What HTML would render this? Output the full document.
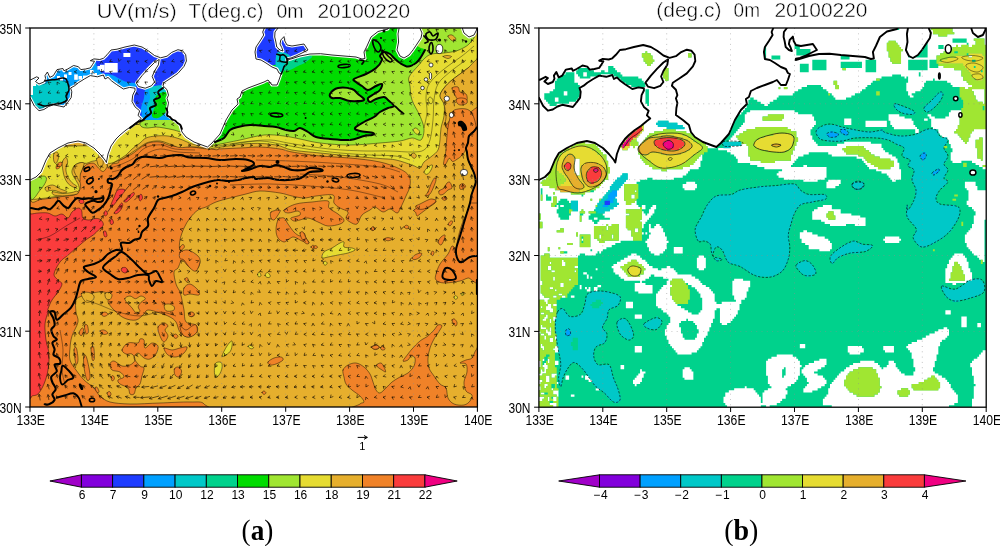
<!DOCTYPE html>
<html lang="en"><head><meta charset="utf-8"><title>UV(m/s) T(deg.c) 0m 20100220</title>
<style>
html,body{margin:0;padding:0;background:#fff;}
body{width:1000px;height:546px;overflow:hidden;position:relative;font-family:"Liberation Sans",sans-serif;}
svg{position:absolute;left:0;top:0;display:block}
text{font-family:"Liberation Sans",sans-serif;fill:#000}
.ser{font-family:"Liberation Serif",serif;font-weight:bold}
</style></head><body>
<svg width="1000" height="546" viewBox="0 0 1000 546">
<rect width="1000" height="546" fill="#fff"/>
<defs>
<clipPath id="ca"><rect x="30" y="28" width="447.4" height="379"/></clipPath>
<clipPath id="cb"><rect x="538.9" y="28" width="447.3" height="379.2"/></clipPath>
</defs>
<g clip-path="url(#ca)">
<rect x="30.0" y="28.0" width="447.4" height="379.0" fill="#e6af2d"/>
<path d="M20.0,165.0 C34.7,122.3 91.3,164.8 108.0,164.0 C124.7,163.2 116.0,161.7 120.0,160.0 C124.0,158.3 128.7,156.0 132.0,154.0 C135.3,152.0 137.3,149.8 140.0,148.0 C142.7,146.2 144.7,144.0 148.0,143.0 C151.3,142.0 156.0,141.5 160.0,142.0 C164.0,142.5 166.7,145.2 172.0,146.0 C177.3,146.8 185.7,146.5 192.0,147.0 C198.3,147.5 202.0,148.8 210.0,149.0 C218.0,149.2 231.7,148.3 240.0,148.0 C248.3,147.7 253.3,146.8 260.0,147.0 C266.7,147.2 274.7,148.2 280.0,149.0 C285.3,149.8 285.3,150.8 292.0,152.0 C298.7,153.2 310.3,155.0 320.0,156.0 C329.7,157.0 340.0,157.0 350.0,158.0 C360.0,159.0 371.7,160.2 380.0,162.0 C388.3,163.8 395.2,166.7 400.0,169.0 C404.8,171.3 407.3,173.2 409.0,176.0 C410.7,178.8 410.5,182.7 410.0,186.0 C409.5,189.3 407.7,192.2 406.0,196.0 C404.3,199.8 401.5,206.2 400.0,209.0 C398.5,211.8 398.7,213.0 397.0,213.0 C395.3,213.0 392.3,209.2 390.0,209.0 C387.7,208.8 385.5,212.3 383.0,212.0 C380.5,211.7 377.2,207.3 375.0,207.0 C372.8,206.7 372.2,208.7 370.0,210.0 C367.8,211.3 364.2,212.7 362.0,215.0 C359.8,217.3 359.0,222.8 357.0,224.0 C355.0,225.2 351.8,223.0 350.0,222.0 C348.2,221.0 346.3,219.7 346.0,218.0 C345.7,216.3 349.0,213.7 348.0,212.0 C347.0,210.3 342.3,209.5 340.0,208.0 C337.7,206.5 335.2,205.2 334.0,203.0 C332.8,200.8 336.0,196.2 333.0,195.0 C330.0,193.8 320.8,195.5 316.0,196.0 C311.2,196.5 308.0,198.0 304.0,198.0 C300.0,198.0 296.0,196.8 292.0,196.0 C288.0,195.2 285.3,193.8 280.0,193.0 C274.7,192.2 265.7,190.8 260.0,191.0 C254.3,191.2 251.0,192.8 246.0,194.0 C241.0,195.2 235.0,196.7 230.0,198.0 C225.0,199.3 220.0,200.5 216.0,202.0 C212.0,203.5 209.0,205.7 206.0,207.0 C203.0,208.3 200.7,208.2 198.0,210.0 C195.3,211.8 192.3,215.0 190.0,218.0 C187.7,221.0 185.7,224.3 184.0,228.0 C182.3,231.7 180.7,236.3 180.0,240.0 C179.3,243.7 179.0,248.0 180.0,250.0 C181.0,252.0 183.3,250.8 186.0,252.0 C188.7,253.2 193.7,255.3 196.0,257.0 C198.3,258.7 200.0,259.8 200.0,262.0 C200.0,264.2 198.0,269.3 196.0,270.0 C194.0,270.7 190.3,267.7 188.0,266.0 C185.7,264.3 183.7,259.7 182.0,260.0 C180.3,260.3 179.3,266.0 178.0,268.0 C176.7,270.0 174.3,269.3 174.0,272.0 C173.7,274.7 175.0,280.7 176.0,284.0 C177.0,287.3 179.0,289.3 180.0,292.0 C181.0,294.7 181.3,297.0 182.0,300.0 C182.7,303.0 183.3,306.3 184.0,310.0 C184.7,313.7 184.0,319.5 186.0,322.0 C188.0,324.5 194.2,323.3 196.0,325.0 C197.8,326.7 198.3,330.0 197.0,332.0 C195.7,334.0 190.8,337.0 188.0,337.0 C185.2,337.0 182.0,334.5 180.0,332.0 C178.0,329.5 177.7,324.5 176.0,322.0 C174.3,319.5 172.7,318.5 170.0,317.0 C167.3,315.5 163.7,314.2 160.0,313.0 C156.3,311.8 150.7,309.8 148.0,310.0 C145.3,310.2 146.0,312.3 144.0,314.0 C142.0,315.7 139.3,319.3 136.0,320.0 C132.7,320.7 127.7,319.7 124.0,318.0 C120.3,316.3 116.7,312.7 114.0,310.0 C111.3,307.3 108.7,304.3 108.0,302.0 C107.3,299.7 110.7,297.7 110.0,296.0 C109.3,294.3 107.0,292.5 104.0,292.0 C101.0,291.5 95.7,292.3 92.0,293.0 C88.3,293.7 84.7,294.8 82.0,296.0 C79.3,297.2 77.0,297.3 76.0,300.0 C75.0,302.7 75.7,308.3 76.0,312.0 C76.3,315.7 78.7,318.0 78.0,322.0 C77.3,326.0 73.3,331.7 72.0,336.0 C70.7,340.3 70.3,344.0 70.0,348.0 C69.7,352.0 69.0,356.3 70.0,360.0 C71.0,363.7 73.7,366.7 76.0,370.0 C78.3,373.3 81.0,377.0 84.0,380.0 C87.0,383.0 91.3,385.3 94.0,388.0 C96.7,390.7 97.3,393.7 100.0,396.0 C102.7,398.3 105.0,400.7 110.0,402.0 C115.0,403.3 121.7,403.8 130.0,404.0 C138.3,404.2 150.0,403.3 160.0,403.0 C170.0,402.7 182.7,401.8 190.0,402.0 C197.3,402.2 201.7,401.0 204.0,404.0 C206.3,407.0 234.7,417.3 204.0,420.0 C173.3,422.7 50.7,462.5 20.0,420.0 C-10.7,377.5 5.3,207.7 20.0,165.0Z" fill="#f08228" stroke="#000" stroke-width="0.45" stroke-linejoin="round" stroke-linecap="round"/>
<path d="M81.4,293.3 C82.3,292.2 86.5,291.9 88.6,292.4 C90.7,292.8 93.4,294.6 94.0,296.0 C94.6,297.4 93.5,299.4 92.3,300.5 C91.1,301.6 88.3,302.6 86.8,302.3 C85.3,302.0 84.1,300.2 83.2,298.7 C82.3,297.2 80.5,294.4 81.4,293.3Z" fill="#e6af2d" stroke="#000" stroke-width="0.45" stroke-linejoin="round" stroke-linecap="round"/>
<path d="M124.7,298.7 C125.0,297.3 128.2,296.0 130.0,296.0 C131.8,296.0 133.7,298.7 135.5,298.7 C137.3,298.7 139.3,296.0 141.0,296.0 C142.7,296.0 145.4,297.6 145.4,298.7 C145.4,299.8 142.2,300.9 141.0,302.3 C139.8,303.7 138.4,305.3 138.2,306.8 C138.0,308.3 140.4,310.5 140.0,311.4 C139.6,312.3 136.8,312.9 135.5,312.3 C134.2,311.7 133.1,309.1 131.9,307.7 C130.7,306.3 129.5,305.6 128.3,304.1 C127.1,302.6 124.4,300.1 124.7,298.7Z" fill="#e6af2d" stroke="#000" stroke-width="0.45" stroke-linejoin="round" stroke-linecap="round"/>
<path d="M164.3,305.0 C164.9,303.9 168.0,303.8 169.7,304.1 C171.3,304.4 173.6,305.7 174.2,306.8 C174.8,307.9 174.7,309.8 173.3,310.5 C172.0,311.2 167.6,311.7 166.1,310.8 C164.6,309.9 163.7,306.1 164.3,305.0Z" fill="#e6af2d" stroke="#000" stroke-width="0.45" stroke-linejoin="round" stroke-linecap="round"/>
<path d="M105.0,293.5 C105.5,292.5 107.8,292.1 109.0,292.4 C110.2,292.6 111.8,293.8 112.0,295.0 C112.2,296.2 111.0,298.9 110.0,299.5 C109.0,300.1 106.8,299.5 106.0,298.5 C105.2,297.5 104.5,294.5 105.0,293.5Z" fill="#e6af2d" stroke="#000" stroke-width="0.45" stroke-linejoin="round" stroke-linecap="round"/>
<path d="M284.0,210.0 C285.3,208.5 291.3,205.3 296.0,204.0 C300.7,202.7 306.7,202.5 312.0,202.0 C317.3,201.5 325.2,200.0 328.0,201.0 C330.8,202.0 327.3,205.8 329.0,208.0 C330.7,210.2 335.5,212.0 338.0,214.0 C340.5,216.0 343.7,218.3 344.0,220.0 C344.3,221.7 342.7,223.0 340.0,224.0 C337.3,225.0 331.7,226.3 328.0,226.0 C324.3,225.7 321.3,223.3 318.0,222.0 C314.7,220.7 311.0,218.3 308.0,218.0 C305.0,217.7 302.3,219.5 300.0,220.0 C297.7,220.5 295.5,221.3 294.0,221.0 C292.5,220.7 290.0,219.0 291.0,218.0 C292.0,217.0 298.8,216.2 300.0,215.0 C301.2,213.8 300.0,211.3 298.0,211.0 C296.0,210.7 290.3,213.2 288.0,213.0 C285.7,212.8 282.7,211.5 284.0,210.0Z" fill="#f08228" stroke="#000" stroke-width="0.45" stroke-linejoin="round" stroke-linecap="round"/>
<path d="M278.0,220.0 C279.3,218.0 282.3,217.3 284.0,218.0 C285.7,218.7 286.3,221.7 288.0,224.0 C289.7,226.3 292.0,230.0 294.0,232.0 C296.0,234.0 298.3,235.8 300.0,236.0 C301.7,236.2 303.0,232.7 304.0,233.0 C305.0,233.3 305.2,236.3 306.0,238.0 C306.8,239.7 309.7,242.5 309.0,243.0 C308.3,243.5 304.5,242.0 302.0,241.0 C299.5,240.0 296.2,237.3 294.0,237.0 C291.8,236.7 290.7,238.2 289.0,239.0 C287.3,239.8 285.8,242.2 284.0,242.0 C282.2,241.8 279.3,240.0 278.0,238.0 C276.7,236.0 276.0,233.0 276.0,230.0 C276.0,227.0 276.7,222.0 278.0,220.0Z" fill="#f08228" stroke="#000" stroke-width="0.45" stroke-linejoin="round" stroke-linecap="round"/>
<path d="M271.0,212.0 C272.5,210.7 278.8,209.5 280.0,210.0 C281.2,210.5 279.0,213.3 278.0,215.0 C277.0,216.7 275.2,219.5 274.0,220.0 C272.8,220.5 271.5,219.3 271.0,218.0 C270.5,216.7 269.5,213.3 271.0,212.0Z" fill="#f08228" stroke="#000" stroke-width="0.45" stroke-linejoin="round" stroke-linecap="round"/>
<path d="M311.0,247.0 C311.0,246.4 312.3,245.2 313.0,245.2 C313.7,245.2 315.2,246.4 315.2,247.0 C315.2,247.6 313.9,248.8 313.2,248.8 C312.5,248.8 311.0,247.6 311.0,247.0Z" fill="#f08228" stroke="#000" stroke-width="0.45" stroke-linejoin="round" stroke-linecap="round"/>
<path d="M370.4,229.0 C370.4,228.5 371.7,227.4 372.4,227.4 C373.1,227.4 374.4,228.7 374.4,229.2 C374.4,229.7 373.1,230.6 372.4,230.6 C371.7,230.6 370.4,229.5 370.4,229.0Z" fill="#f08228" stroke="#000" stroke-width="0.45" stroke-linejoin="round" stroke-linecap="round"/>
<path d="M180.0,252.4 C181.3,251.0 185.0,249.4 188.0,250.0 C191.0,250.6 196.0,254.0 198.0,256.0 C200.0,258.0 200.3,259.5 200.0,262.0 C199.7,264.5 197.7,270.0 196.0,271.0 C194.3,272.0 192.0,269.8 190.0,268.0 C188.0,266.2 185.7,261.6 184.0,260.0 C182.3,258.4 180.7,259.7 180.0,258.4 C179.3,257.1 178.7,253.8 180.0,252.4Z" fill="#f08228" stroke="#000" stroke-width="0.45" stroke-linejoin="round" stroke-linecap="round"/>
<path d="M184.0,288.0 C185.0,286.2 187.7,283.7 190.0,284.0 C192.3,284.3 196.5,288.2 198.0,290.0 C199.5,291.8 200.3,294.3 199.0,295.0 C197.7,295.7 192.5,294.0 190.0,294.0 C187.5,294.0 185.0,296.0 184.0,295.0 C183.0,294.0 183.0,289.8 184.0,288.0Z" fill="#f08228" stroke="#000" stroke-width="0.45" stroke-linejoin="round" stroke-linecap="round"/>
<path d="M180.0,247.0 C180.5,246.1 182.3,244.4 183.0,244.4 C183.7,244.4 184.6,246.1 184.4,247.0 C184.2,247.9 182.3,249.5 181.6,250.0 C180.9,250.5 180.3,250.5 180.0,250.0 C179.7,249.5 179.5,247.9 180.0,247.0Z" fill="#f08228" stroke="#000" stroke-width="0.45" stroke-linejoin="round" stroke-linecap="round"/>
<path d="M184.8,279.0 C184.9,278.3 186.2,277.5 186.8,277.6 C187.4,277.7 188.5,278.9 188.4,279.6 C188.3,280.3 187.0,281.7 186.4,281.6 C185.8,281.5 184.7,279.7 184.8,279.0Z" fill="#f08228" stroke="#000" stroke-width="0.45" stroke-linejoin="round" stroke-linecap="round"/>
<path d="M414.0,210.0 C415.4,208.6 421.0,205.7 424.0,204.0 C427.0,202.3 430.0,200.3 432.0,200.0 C434.0,199.7 436.7,200.7 436.0,202.0 C435.3,203.3 430.7,206.0 428.0,208.0 C425.3,210.0 421.8,212.7 420.0,214.0 C418.2,215.3 417.7,216.3 417.0,216.0 C416.3,215.7 416.1,213.4 415.6,212.4 C415.1,211.4 412.6,211.4 414.0,210.0Z" fill="#f08228" stroke="#000" stroke-width="0.45" stroke-linejoin="round" stroke-linecap="round"/>
<path d="M300.0,233.0 C300.2,231.8 302.0,231.2 303.0,232.0 C304.0,232.8 305.0,236.2 306.0,238.0 C307.0,239.8 309.0,242.1 309.0,243.0 C309.0,243.9 307.2,244.3 306.0,243.6 C304.8,242.9 303.0,240.8 302.0,239.0 C301.0,237.2 299.8,234.2 300.0,233.0Z" fill="#f08228" stroke="#000" stroke-width="0.45" stroke-linejoin="round" stroke-linecap="round"/>
<path d="M313.6,247.0 C313.6,246.5 314.9,245.6 315.6,245.6 C316.3,245.6 317.6,246.7 317.6,247.2 C317.6,247.7 316.3,248.6 315.6,248.6 C314.9,248.6 313.6,247.5 313.6,247.0Z" fill="#f08228" stroke="#000" stroke-width="0.45" stroke-linejoin="round" stroke-linecap="round"/>
<path d="M371.0,228.6 C371.0,228.0 372.3,226.6 373.0,226.6 C373.7,226.6 375.0,228.0 375.0,228.6 C375.0,229.2 373.9,230.4 373.2,230.4 C372.5,230.4 371.0,229.2 371.0,228.6Z" fill="#f08228" stroke="#000" stroke-width="0.45" stroke-linejoin="round" stroke-linecap="round"/>
<path d="M404.0,227.0 C403.9,226.4 405.6,225.2 406.4,225.2 C407.2,225.2 408.9,226.2 409.0,226.8 C409.1,227.4 407.8,228.8 407.0,228.8 C406.2,228.8 404.1,227.6 404.0,227.0Z" fill="#f08228" stroke="#000" stroke-width="0.45" stroke-linejoin="round" stroke-linecap="round"/>
<path d="M384.0,239.0 C384.0,238.5 386.7,237.6 388.0,237.6 C389.3,237.6 392.0,238.7 392.0,239.2 C392.0,239.7 389.3,240.8 388.0,240.8 C386.7,240.8 384.0,239.5 384.0,239.0Z" fill="#f08228" stroke="#000" stroke-width="0.45" stroke-linejoin="round" stroke-linecap="round"/>
<path d="M412.0,258.0 C412.2,257.1 414.4,255.2 416.0,254.4 C417.6,253.6 420.9,252.8 421.6,253.2 C422.3,253.6 421.1,255.9 420.0,257.0 C418.9,258.1 416.3,259.4 415.0,259.6 C413.7,259.8 411.8,258.9 412.0,258.0Z" fill="#f08228" stroke="#000" stroke-width="0.45" stroke-linejoin="round" stroke-linecap="round"/>
<path d="M438.0,242.0 C438.0,240.7 439.8,238.2 441.0,237.0 C442.2,235.8 444.5,234.5 445.0,235.0 C445.5,235.5 444.7,238.3 444.0,240.0 C443.3,241.7 442.0,244.7 441.0,245.0 C440.0,245.3 438.0,243.3 438.0,242.0Z" fill="#f08228" stroke="#000" stroke-width="0.45" stroke-linejoin="round" stroke-linecap="round"/>
<path d="M448.0,224.4 C448.0,223.7 449.6,221.7 450.4,221.2 C451.2,220.7 452.8,220.9 452.8,221.6 C452.8,222.3 451.2,225.1 450.4,225.6 C449.6,226.1 448.0,225.1 448.0,224.4Z" fill="#f08228" stroke="#000" stroke-width="0.45" stroke-linejoin="round" stroke-linecap="round"/>
<path d="M431.0,254.0 C430.9,253.2 431.9,251.3 432.4,251.0 C432.9,250.7 433.9,251.6 434.0,252.4 C434.1,253.2 433.3,255.3 432.8,255.6 C432.3,255.9 431.1,254.8 431.0,254.0Z" fill="#f08228" stroke="#000" stroke-width="0.45" stroke-linejoin="round" stroke-linecap="round"/>
<path d="M122.0,350.0 C122.3,348.2 125.3,344.2 128.0,343.0 C130.7,341.8 136.0,343.7 138.0,343.0 C140.0,342.3 139.0,339.5 140.0,339.0 C141.0,338.5 143.2,338.5 144.0,340.0 C144.8,341.5 143.7,347.5 145.0,348.0 C146.3,348.5 149.8,343.3 152.0,343.0 C154.2,342.7 157.3,344.2 158.0,346.0 C158.7,347.8 157.3,351.8 156.0,354.0 C154.7,356.2 152.0,358.3 150.0,359.0 C148.0,359.7 146.0,359.0 144.0,358.0 C142.0,357.0 139.7,353.0 138.0,353.0 C136.3,353.0 133.7,355.8 134.0,358.0 C134.3,360.2 138.3,364.3 140.0,366.0 C141.7,367.7 143.7,366.3 144.0,368.0 C144.3,369.7 142.7,373.3 142.0,376.0 C141.3,378.7 141.0,382.0 140.0,384.0 C139.0,386.0 137.0,386.3 136.0,388.0 C135.0,389.7 135.0,393.0 134.0,394.0 C133.0,395.0 131.0,395.0 130.0,394.0 C129.0,393.0 129.7,389.7 128.0,388.0 C126.3,386.3 121.7,385.3 120.0,384.0 C118.3,382.7 117.3,381.2 118.0,380.0 C118.7,378.8 123.7,378.3 124.0,377.0 C124.3,375.7 122.0,373.2 120.0,372.0 C118.0,370.8 113.7,371.3 112.0,370.0 C110.3,368.7 109.7,365.5 110.0,364.0 C110.3,362.5 112.0,360.7 114.0,361.0 C116.0,361.3 119.3,365.3 122.0,366.0 C124.7,366.7 127.8,366.0 130.0,365.0 C132.2,364.0 134.7,361.8 135.0,360.0 C135.3,358.2 133.5,355.0 132.0,354.0 C130.5,353.0 127.7,354.7 126.0,354.0 C124.3,353.3 121.7,351.8 122.0,350.0Z" fill="#f08228" stroke="#000" stroke-width="0.45" stroke-linejoin="round" stroke-linecap="round"/>
<path d="M164.0,348.0 C164.7,347.2 169.3,350.0 172.0,350.0 C174.7,350.0 177.5,348.5 180.0,348.0 C182.5,347.5 186.3,346.2 187.0,347.0 C187.7,347.8 185.8,351.3 184.0,353.0 C182.2,354.7 178.7,356.7 176.0,357.0 C173.3,357.3 170.0,356.5 168.0,355.0 C166.0,353.5 163.3,348.8 164.0,348.0Z" fill="#f08228" stroke="#000" stroke-width="0.45" stroke-linejoin="round" stroke-linecap="round"/>
<path d="M158.0,327.0 C158.7,324.8 162.3,323.2 164.0,323.0 C165.7,322.8 167.8,324.8 168.0,326.0 C168.2,327.2 165.0,328.3 165.0,330.0 C165.0,331.7 168.2,334.0 168.0,336.0 C167.8,338.0 165.3,342.0 164.0,342.0 C162.7,342.0 161.0,338.5 160.0,336.0 C159.0,333.5 157.3,329.2 158.0,327.0Z" fill="#f08228" stroke="#000" stroke-width="0.45" stroke-linejoin="round" stroke-linecap="round"/>
<path d="M180.0,326.0 C180.5,325.2 184.0,330.0 186.0,330.0 C188.0,330.0 190.3,326.8 192.0,326.0 C193.7,325.2 195.2,324.0 196.0,325.0 C196.8,326.0 198.0,330.0 197.0,332.0 C196.0,334.0 192.3,336.5 190.0,337.0 C187.7,337.5 184.7,336.8 183.0,335.0 C181.3,333.2 179.5,326.8 180.0,326.0Z" fill="#f08228" stroke="#000" stroke-width="0.45" stroke-linejoin="round" stroke-linecap="round"/>
<path d="M174.4,369.0 C174.9,367.7 176.8,366.7 178.0,367.0 C179.2,367.3 181.4,369.3 181.6,371.0 C181.8,372.7 180.1,376.3 179.0,377.0 C177.9,377.7 175.8,376.3 175.0,375.0 C174.2,373.7 173.9,370.3 174.4,369.0Z" fill="#f08228" stroke="#000" stroke-width="0.45" stroke-linejoin="round" stroke-linecap="round"/>
<path d="M101.0,314.0 C101.2,313.3 103.8,311.9 105.0,312.0 C106.2,312.1 108.2,313.7 108.0,314.4 C107.8,315.1 105.2,316.5 104.0,316.4 C102.8,316.3 100.8,314.7 101.0,314.0Z" fill="#f08228" stroke="#000" stroke-width="0.45" stroke-linejoin="round" stroke-linecap="round"/>
<path d="M100.0,331.0 C100.0,330.3 102.7,329.7 104.0,330.0 C105.3,330.3 108.0,332.3 108.0,333.0 C108.0,333.7 105.3,334.7 104.0,334.4 C102.7,334.1 100.0,331.7 100.0,331.0Z" fill="#f08228" stroke="#000" stroke-width="0.45" stroke-linejoin="round" stroke-linecap="round"/>
<path d="M173.0,336.0 C173.0,335.3 174.8,333.9 175.6,334.0 C176.4,334.1 178.0,335.7 178.0,336.4 C178.0,337.1 176.4,338.5 175.6,338.4 C174.8,338.3 173.0,336.7 173.0,336.0Z" fill="#f08228" stroke="#000" stroke-width="0.45" stroke-linejoin="round" stroke-linecap="round"/>
<path d="M189.0,314.0 C189.2,313.3 191.5,312.2 192.4,312.4 C193.3,312.6 194.6,314.5 194.4,315.2 C194.2,315.9 191.9,317.0 191.0,316.8 C190.1,316.6 188.8,314.7 189.0,314.0Z" fill="#f08228" stroke="#000" stroke-width="0.45" stroke-linejoin="round" stroke-linecap="round"/>
<path d="M79.0,333.0 C79.1,331.7 81.2,328.5 82.0,328.0 C82.8,327.5 83.7,328.7 83.6,330.0 C83.5,331.3 82.4,335.1 81.6,335.6 C80.8,336.1 78.9,334.3 79.0,333.0Z" fill="#f08228" stroke="#000" stroke-width="0.45" stroke-linejoin="round" stroke-linecap="round"/>
<path d="M84.4,326.0 C84.6,324.6 86.5,324.0 87.2,325.0 C87.9,326.0 88.6,330.6 88.4,332.0 C88.2,333.4 86.7,334.6 86.0,333.6 C85.3,332.6 84.2,327.4 84.4,326.0Z" fill="#f08228" stroke="#000" stroke-width="0.45" stroke-linejoin="round" stroke-linecap="round"/>
<path d="M83.6,358.0 C83.9,355.7 85.1,354.3 86.0,356.0 C86.9,357.7 88.3,364.3 89.0,368.0 C89.7,371.7 90.3,376.0 90.0,378.0 C89.7,380.0 87.9,381.3 87.0,380.0 C86.1,378.7 85.0,373.7 84.4,370.0 C83.8,366.3 83.3,360.3 83.6,358.0Z" fill="#f08228" stroke="#000" stroke-width="0.45" stroke-linejoin="round" stroke-linecap="round"/>
<path d="M74.0,350.0 C74.1,347.3 75.7,346.3 76.4,348.0 C77.1,349.7 78.1,357.3 78.0,360.0 C77.9,362.7 76.7,365.7 76.0,364.0 C75.3,362.3 73.9,352.7 74.0,350.0Z" fill="#f08228" stroke="#000" stroke-width="0.45" stroke-linejoin="round" stroke-linecap="round"/>
<path d="M91.0,348.0 C91.2,345.8 93.0,345.3 93.6,347.0 C94.2,348.7 94.6,355.8 94.4,358.0 C94.2,360.2 93.0,361.7 92.4,360.0 C91.8,358.3 90.8,350.2 91.0,348.0Z" fill="#f08228" stroke="#000" stroke-width="0.45" stroke-linejoin="round" stroke-linecap="round"/>
<path d="M111.0,377.0 C111.1,376.1 112.4,375.4 113.0,375.6 C113.6,375.8 114.5,377.5 114.4,378.4 C114.3,379.3 113.0,381.2 112.4,381.0 C111.8,380.8 110.9,377.9 111.0,377.0Z" fill="#f08228" stroke="#000" stroke-width="0.45" stroke-linejoin="round" stroke-linecap="round"/>
<path d="M107.0,393.0 C107.1,392.2 108.9,391.4 109.6,391.6 C110.3,391.8 111.1,393.6 111.0,394.4 C110.9,395.2 109.7,396.6 109.0,396.4 C108.3,396.2 106.9,393.8 107.0,393.0Z" fill="#f08228" stroke="#000" stroke-width="0.45" stroke-linejoin="round" stroke-linecap="round"/>
<path d="M95.0,388.0 C95.0,387.1 96.3,386.6 97.0,387.2 C97.7,387.8 99.0,390.7 99.0,391.6 C99.0,392.5 97.7,393.0 97.0,392.4 C96.3,391.8 95.0,388.9 95.0,388.0Z" fill="#f08228" stroke="#000" stroke-width="0.45" stroke-linejoin="round" stroke-linecap="round"/>
<path d="M189.0,313.0 C189.5,312.3 191.1,311.8 192.0,312.0 C192.9,312.2 194.4,313.3 194.4,314.0 C194.4,314.7 192.9,316.1 192.0,316.4 C191.1,316.7 189.5,316.6 189.0,316.0 C188.5,315.4 188.5,313.7 189.0,313.0Z" fill="#f08228" stroke="#000" stroke-width="0.45" stroke-linejoin="round" stroke-linecap="round"/>
<path d="M268.0,362.0 C268.7,360.8 271.8,358.8 274.0,358.0 C276.2,357.2 279.5,356.7 281.0,357.0 C282.5,357.3 283.8,358.8 283.0,360.0 C282.2,361.2 278.2,363.2 276.0,364.0 C273.8,364.8 271.3,365.3 270.0,365.0 C268.7,364.7 267.3,363.2 268.0,362.0Z" fill="#f08228" stroke="#000" stroke-width="0.45" stroke-linejoin="round" stroke-linecap="round"/>
<path d="M262.0,392.4 C262.0,391.8 263.3,390.9 264.0,391.0 C264.7,391.1 266.0,392.2 266.0,392.8 C266.0,393.4 264.7,394.5 264.0,394.4 C263.3,394.3 262.0,393.0 262.0,392.4Z" fill="#f08228" stroke="#000" stroke-width="0.45" stroke-linejoin="round" stroke-linecap="round"/>
<path d="M371.0,347.0 C371.1,346.3 374.6,345.2 376.0,345.2 C377.4,345.2 379.7,346.5 379.6,347.2 C379.5,347.9 377.0,349.6 375.6,349.6 C374.2,349.6 370.9,347.7 371.0,347.0Z" fill="#f08228" stroke="#000" stroke-width="0.45" stroke-linejoin="round" stroke-linecap="round"/>
<path d="M371.6,347.0 C372.0,346.3 375.8,345.0 377.0,345.2 C378.2,345.4 379.4,347.3 379.0,348.0 C378.6,348.7 375.6,349.4 374.4,349.2 C373.2,349.0 371.2,347.7 371.6,347.0Z" fill="#f08228" stroke="#000" stroke-width="0.45" stroke-linejoin="round" stroke-linecap="round"/>
<path d="M380.4,347.6 C380.7,347.0 382.8,346.1 383.6,346.4 C384.4,346.7 385.3,348.6 385.0,349.2 C384.7,349.8 382.8,350.3 382.0,350.0 C381.2,349.7 380.1,348.2 380.4,347.6Z" fill="#f08228" stroke="#000" stroke-width="0.45" stroke-linejoin="round" stroke-linecap="round"/>
<path d="M376.4,365.0 C376.8,364.2 379.7,362.7 381.0,363.0 C382.3,363.3 383.2,365.5 384.0,367.0 C384.8,368.5 385.9,371.5 385.6,372.0 C385.3,372.5 383.2,370.7 382.0,370.0 C380.8,369.3 379.3,368.4 378.4,367.6 C377.5,366.8 376.0,365.8 376.4,365.0Z" fill="#f08228" stroke="#000" stroke-width="0.45" stroke-linejoin="round" stroke-linecap="round"/>
<path d="M452.0,320.0 C452.1,319.2 453.6,318.6 454.4,319.0 C455.2,319.4 456.7,321.2 457.0,322.4 C457.3,323.6 456.6,325.7 456.0,326.0 C455.4,326.3 454.3,325.0 453.6,324.0 C452.9,323.0 451.9,320.8 452.0,320.0Z" fill="#f08228" stroke="#000" stroke-width="0.45" stroke-linejoin="round" stroke-linecap="round"/>
<path d="M322.0,258.0 C321.3,257.2 322.3,253.7 324.0,252.0 C325.7,250.3 329.3,249.5 332.0,248.0 C334.7,246.5 338.0,244.0 340.0,243.0 C342.0,242.0 343.3,241.3 344.0,242.0 C344.7,242.7 342.7,246.0 344.0,247.0 C345.3,248.0 350.2,247.5 352.0,248.0 C353.8,248.5 355.7,249.2 355.0,250.0 C354.3,250.8 350.8,252.2 348.0,253.0 C345.2,253.8 341.3,254.3 338.0,255.0 C334.7,255.7 330.7,256.5 328.0,257.0 C325.3,257.5 322.7,258.8 322.0,258.0Z" fill="#e6dc32" stroke="#000" stroke-width="0.45" stroke-linejoin="round" stroke-linecap="round"/>
<path d="M323.2,263.0 C323.2,262.3 324.5,261.2 325.2,261.2 C325.9,261.2 327.2,262.5 327.2,263.2 C327.2,263.9 325.9,265.2 325.2,265.2 C324.5,265.2 323.2,263.7 323.2,263.0Z" fill="#e6dc32" stroke="#000" stroke-width="0.45" stroke-linejoin="round" stroke-linecap="round"/>
<path d="M257.6,274.4 C257.7,273.6 258.6,271.8 259.2,272.0 C259.8,272.2 261.1,274.8 261.0,275.6 C260.9,276.4 259.4,277.0 258.8,276.8 C258.2,276.6 257.5,275.2 257.6,274.4Z" fill="#e6dc32" stroke="#000" stroke-width="0.45" stroke-linejoin="round" stroke-linecap="round"/>
<path d="M265.0,275.6 C264.9,274.7 266.5,272.3 267.4,272.4 C268.3,272.5 270.3,275.1 270.4,276.0 C270.5,276.9 268.9,277.7 268.0,277.6 C267.1,277.5 265.1,276.5 265.0,275.6Z" fill="#e6dc32" stroke="#000" stroke-width="0.45" stroke-linejoin="round" stroke-linecap="round"/>
<path d="M222.0,356.0 C222.2,354.5 225.3,348.5 227.0,346.0 C228.7,343.5 231.3,340.3 232.0,341.0 C232.7,341.7 232.0,347.7 231.0,350.0 C230.0,352.3 227.5,354.0 226.0,355.0 C224.5,356.0 221.8,357.5 222.0,356.0Z" fill="#e6dc32" stroke="#000" stroke-width="0.45" stroke-linejoin="round" stroke-linecap="round"/>
<path d="M215.0,364.0 C216.0,361.6 219.8,361.7 221.0,362.4 C222.2,363.1 222.3,365.9 222.0,368.0 C221.7,370.1 220.2,373.5 219.0,375.0 C217.8,376.5 215.7,378.8 215.0,377.0 C214.3,375.2 214.0,366.4 215.0,364.0Z" fill="#e6dc32" stroke="#000" stroke-width="0.45" stroke-linejoin="round" stroke-linecap="round"/>
<path d="M248.0,346.4 C247.8,345.8 249.1,345.0 250.0,345.2 C250.9,345.4 253.4,347.0 253.6,347.6 C253.8,348.2 252.1,349.0 251.2,348.8 C250.3,348.6 248.2,347.0 248.0,346.4Z" fill="#e6dc32" stroke="#000" stroke-width="0.45" stroke-linejoin="round" stroke-linecap="round"/>
<path d="M454.0,297.0 C454.1,296.4 455.4,295.4 456.0,295.6 C456.6,295.8 457.7,297.4 457.6,298.0 C457.5,298.6 455.8,299.4 455.2,299.2 C454.6,299.0 453.9,297.6 454.0,297.0Z" fill="#e6dc32" stroke="#000" stroke-width="0.45" stroke-linejoin="round" stroke-linecap="round"/>
<path d="M461.0,293.6 C461.1,293.1 462.3,292.3 462.8,292.4 C463.3,292.5 464.1,293.9 464.0,294.4 C463.9,294.9 462.5,295.7 462.0,295.6 C461.5,295.5 460.9,294.1 461.0,293.6Z" fill="#e6dc32" stroke="#000" stroke-width="0.45" stroke-linejoin="round" stroke-linecap="round"/>
<path d="M343.0,370.0 C343.7,368.0 345.8,366.2 348.0,365.0 C350.2,363.8 353.3,362.7 356.0,363.0 C358.7,363.3 361.7,365.2 364.0,367.0 C366.3,368.8 368.5,371.5 370.0,374.0 C371.5,376.5 372.0,379.3 373.0,382.0 C374.0,384.7 374.8,388.2 376.0,390.0 C377.2,391.8 378.3,393.3 380.0,393.0 C381.7,392.7 384.0,389.8 386.0,388.0 C388.0,386.2 389.7,383.8 392.0,382.0 C394.3,380.2 397.3,378.5 400.0,377.0 C402.7,375.5 405.7,374.8 408.0,373.0 C410.3,371.2 412.8,368.5 414.0,366.0 C415.2,363.5 415.5,359.7 415.0,358.0 C414.5,356.3 412.2,355.7 411.0,356.0 C409.8,356.3 409.3,359.2 408.0,360.0 C406.7,360.8 403.0,362.0 403.0,361.0 C403.0,360.0 406.5,356.0 408.0,354.0 C409.5,352.0 410.0,351.2 412.0,349.0 C414.0,346.8 417.3,343.2 420.0,341.0 C422.7,338.8 425.7,337.8 428.0,336.0 C430.3,334.2 432.3,331.8 434.0,330.0 C435.7,328.2 436.7,325.7 438.0,325.0 C439.3,324.3 442.0,324.7 442.0,326.0 C442.0,327.3 439.3,330.8 438.0,333.0 C436.7,335.2 435.3,336.5 434.0,339.0 C432.7,341.5 431.0,344.8 430.0,348.0 C429.0,351.2 428.2,354.7 428.0,358.0 C427.8,361.3 428.0,365.0 429.0,368.0 C430.0,371.0 432.2,373.3 434.0,376.0 C435.8,378.7 438.0,382.0 440.0,384.0 C442.0,386.0 444.7,385.7 446.0,388.0 C447.3,390.3 446.7,395.3 448.0,398.0 C449.3,400.7 451.3,402.8 454.0,404.0 C456.7,405.2 461.3,405.5 464.0,405.0 C466.7,404.5 468.7,402.7 470.0,401.0 C471.3,399.3 472.7,396.7 472.0,395.0 C471.3,393.3 467.3,393.2 466.0,391.0 C464.7,388.8 463.8,385.2 464.0,382.0 C464.2,378.8 466.7,375.0 467.0,372.0 C467.3,369.0 467.2,365.5 466.0,364.0 C464.8,362.5 460.0,363.7 460.0,363.0 C460.0,362.3 464.0,360.8 466.0,360.0 C468.0,359.2 470.3,359.7 472.0,358.0 C473.7,356.3 474.7,351.3 476.0,350.0 C477.3,348.7 479.3,339.7 480.0,350.0 C480.7,360.3 500.7,401.7 480.0,412.0 C459.3,422.3 376.0,413.3 356.0,412.0 C336.0,410.7 358.7,405.7 360.0,404.0 C361.3,402.3 364.0,403.3 364.0,402.0 C364.0,400.7 362.0,398.0 360.0,396.0 C358.0,394.0 354.3,392.0 352.0,390.0 C349.7,388.0 347.3,386.2 346.0,384.0 C344.7,381.8 344.5,379.3 344.0,377.0 C343.5,374.7 342.3,372.0 343.0,370.0Z" fill="#f08228" stroke="#000" stroke-width="0.45" stroke-linejoin="round" stroke-linecap="round"/>
<path d="M472.0,198.0 C470.0,200.0 469.7,205.7 468.0,210.0 C466.3,214.3 463.7,219.3 462.0,224.0 C460.3,228.7 459.0,234.0 458.0,238.0 C457.0,242.0 457.0,246.7 456.0,248.0 C455.0,249.3 453.3,245.0 452.0,246.0 C450.7,247.0 450.0,251.0 448.0,254.0 C446.0,257.0 442.0,260.7 440.0,264.0 C438.0,267.3 436.7,271.3 436.0,274.0 C435.3,276.7 434.7,278.5 436.0,280.0 C437.3,281.5 440.0,282.8 444.0,283.0 C448.0,283.2 456.0,281.8 460.0,281.0 C464.0,280.2 464.7,278.7 468.0,278.0 C471.3,277.3 478.0,290.3 480.0,277.0 C482.0,263.7 481.3,211.2 480.0,198.0 C478.7,184.8 474.0,196.0 472.0,198.0Z" fill="#f08228" stroke="#000" stroke-width="0.45" stroke-linejoin="round" stroke-linecap="round"/>
<path d="M20.0,214.0 C21.8,183.3 27.8,214.2 30.8,214.0 C33.8,213.8 35.2,213.2 38.0,213.0 C40.8,212.8 45.0,212.5 47.8,213.0 C50.6,213.5 52.6,215.8 55.0,216.0 C57.4,216.2 59.8,213.7 62.0,214.0 C64.2,214.3 66.3,218.3 68.0,218.0 C69.7,217.7 70.3,213.7 72.0,212.0 C73.7,210.3 76.4,208.2 78.0,208.0 C79.6,207.8 80.8,208.8 81.6,210.5 C82.4,212.2 81.6,216.4 82.8,218.0 C84.0,219.6 86.6,219.9 88.8,220.0 C91.0,220.1 94.0,218.4 96.0,218.4 C98.0,218.4 99.8,218.9 101.0,220.0 C102.2,221.1 103.7,223.3 103.3,225.0 C102.9,226.7 100.1,228.4 98.5,230.0 C96.9,231.6 95.7,233.1 93.7,234.7 C91.7,236.3 88.8,237.7 86.4,239.5 C84.0,241.3 81.6,243.6 79.2,245.6 C76.8,247.6 74.0,249.9 72.0,251.6 C70.0,253.3 69.0,254.3 67.0,256.0 C65.0,257.7 62.2,259.0 60.0,262.0 C57.8,265.0 54.3,271.0 54.0,274.0 C53.7,277.0 56.7,278.3 58.0,280.0 C59.3,281.7 62.0,282.0 62.0,284.0 C62.0,286.0 59.7,289.3 58.0,292.0 C56.3,294.7 53.7,297.2 52.0,300.0 C50.3,302.8 48.7,307.0 48.0,309.0 C47.3,311.0 48.5,309.5 48.0,312.0 C47.5,314.5 45.3,319.3 45.0,324.0 C44.7,328.7 45.3,335.0 46.0,340.0 C46.7,345.0 48.7,349.0 49.0,354.0 C49.3,359.0 48.8,365.0 48.0,370.0 C47.2,375.0 45.7,380.0 44.0,384.0 C42.3,388.0 40.0,392.0 38.0,394.0 C36.0,396.0 33.3,395.3 32.0,396.0 C30.7,396.7 32.0,398.0 30.0,398.4 C28.0,398.8 21.7,429.1 20.0,398.4 C18.3,367.7 18.2,244.7 20.0,214.0Z" fill="#fa3c3c" stroke="#000" stroke-width="0.45" stroke-linejoin="round" stroke-linecap="round"/>
<path d="M110.6,205.7 C111.0,204.0 113.0,199.6 114.2,197.0 C115.4,194.4 116.0,191.2 117.8,190.0 C119.6,188.8 124.6,188.8 125.0,190.0 C125.4,191.2 121.6,194.8 120.0,197.0 C118.4,199.2 116.8,201.3 115.4,203.0 C114.0,204.7 112.6,206.6 111.8,207.0 C111.0,207.4 110.2,207.4 110.6,205.7Z" fill="#fa3c3c" stroke="#000" stroke-width="0.45" stroke-linejoin="round" stroke-linecap="round"/>
<path d="M114.2,213.0 C114.4,212.1 116.6,209.7 117.8,208.0 C119.0,206.3 120.7,203.4 121.5,203.0 C122.3,202.6 122.9,204.4 122.7,205.7 C122.5,206.9 121.3,209.2 120.3,210.5 C119.3,211.8 117.6,213.2 116.6,213.6 C115.6,214.0 114.0,213.9 114.2,213.0Z" fill="#fa3c3c" stroke="#000" stroke-width="0.45" stroke-linejoin="round" stroke-linecap="round"/>
<path d="M124.0,201.0 C124.4,200.0 127.1,197.4 128.7,196.0 C130.3,194.6 132.7,192.6 133.6,192.4 C134.5,192.2 134.6,193.7 134.0,194.8 C133.4,195.9 131.3,197.8 130.0,199.0 C128.7,200.2 127.3,201.7 126.3,202.0 C125.3,202.3 123.6,202.0 124.0,201.0Z" fill="#fa3c3c" stroke="#000" stroke-width="0.45" stroke-linejoin="round" stroke-linecap="round"/>
<path d="M139.0,197.0 C139.2,195.8 140.4,193.8 141.0,194.0 C141.6,194.2 142.7,196.8 142.5,198.0 C142.3,199.2 140.6,201.2 140.0,201.0 C139.4,200.8 138.8,198.2 139.0,197.0Z" fill="#fa3c3c" stroke="#000" stroke-width="0.45" stroke-linejoin="round" stroke-linecap="round"/>
<path d="M110.0,221.0 C110.2,220.1 111.4,218.7 112.0,219.0 C112.6,219.3 113.7,222.1 113.5,223.0 C113.3,223.9 111.6,224.8 111.0,224.5 C110.4,224.2 109.8,221.9 110.0,221.0Z" fill="#fa3c3c" stroke="#000" stroke-width="0.45" stroke-linejoin="round" stroke-linecap="round"/>
<path d="M104.0,213.0 C104.2,212.1 105.4,210.3 106.0,210.5 C106.6,210.7 107.7,213.1 107.5,214.0 C107.3,214.9 105.6,216.2 105.0,216.0 C104.4,215.8 103.8,213.9 104.0,213.0Z" fill="#fa3c3c" stroke="#000" stroke-width="0.45" stroke-linejoin="round" stroke-linecap="round"/>
<path d="M103.5,232.0 C103.7,231.1 104.9,230.3 105.5,231.0 C106.1,231.7 107.2,235.1 107.0,236.0 C106.8,236.9 105.1,237.2 104.5,236.5 C103.9,235.8 103.3,232.9 103.5,232.0Z" fill="#fa3c3c" stroke="#000" stroke-width="0.45" stroke-linejoin="round" stroke-linecap="round"/>
<path d="M79.0,200.5 C79.3,199.8 81.7,199.2 82.5,199.5 C83.3,199.8 84.3,201.8 84.0,202.5 C83.7,203.2 81.3,203.8 80.5,203.5 C79.7,203.2 78.7,201.2 79.0,200.5Z" fill="#fa3c3c" stroke="#000" stroke-width="0.45" stroke-linejoin="round" stroke-linecap="round"/>
<path d="M122.0,268.0 C122.7,267.4 124.6,267.1 125.6,267.6 C126.6,268.1 128.1,270.1 128.0,271.0 C127.9,271.9 126.1,273.0 125.0,273.0 C123.9,273.0 122.1,271.8 121.6,271.0 C121.1,270.2 121.3,268.6 122.0,268.0Z" fill="#fa3c3c" stroke="#000" stroke-width="0.45" stroke-linejoin="round" stroke-linecap="round"/>
<path d="M30.8,200.8 C32.4,205.0 37.3,199.9 40.5,199.5 C43.7,199.1 46.6,198.8 50.2,198.3 C53.8,197.8 58.3,197.1 62.3,196.5 C66.3,195.9 71.5,195.9 74.3,195.0 C77.1,194.1 78.2,192.8 79.2,191.1 C80.2,189.4 80.6,187.2 80.6,185.0 C80.6,182.8 79.0,180.2 79.2,177.8 C79.4,175.4 80.4,172.7 81.6,170.5 C82.8,168.3 84.4,165.9 86.4,164.7 C88.4,163.5 91.7,162.7 93.7,163.3 C95.7,163.9 96.9,166.7 98.5,168.1 C100.1,169.5 101.8,171.9 103.3,171.5 C104.8,171.1 107.0,167.4 107.6,165.7 C108.2,164.0 108.2,163.7 106.7,161.5 C105.2,159.3 101.9,154.7 98.5,152.4 C95.1,150.1 94.5,148.4 86.4,147.6 C78.4,146.8 59.5,143.2 50.2,147.6 C40.9,152.0 34.0,165.3 30.8,174.2 C27.6,183.1 29.2,196.6 30.8,200.8Z" fill="#e6af2d" stroke="#000" stroke-width="0.45" stroke-linejoin="round" stroke-linecap="round"/>
<path d="M30.8,198.3 C29.4,196.2 30.6,190.7 32.0,186.3 C33.4,181.9 37.1,176.6 39.3,171.8 C41.5,167.0 43.5,161.3 45.3,157.3 C47.1,153.3 47.4,149.4 50.2,147.6 C53.0,145.8 55.0,146.6 62.3,146.4 C69.5,146.2 87.7,145.2 93.7,146.4 C99.7,147.6 97.9,151.4 98.5,153.6 C99.1,155.8 98.5,158.4 97.3,159.7 C96.1,161.0 93.1,160.9 91.3,161.5 C89.5,162.1 88.2,163.1 86.4,163.3 C84.6,163.5 82.4,162.3 80.4,162.7 C78.4,163.1 75.7,164.2 74.3,165.7 C72.9,167.2 71.9,169.8 71.9,171.8 C71.9,173.8 73.3,175.8 74.3,177.8 C75.3,179.8 77.2,181.8 78.0,183.8 C78.8,185.8 79.8,188.3 79.2,189.9 C78.6,191.5 77.1,192.6 74.3,193.5 C71.5,194.4 66.3,194.7 62.3,195.3 C58.3,196.0 53.8,196.9 50.2,197.4 C46.6,197.9 43.7,198.4 40.5,198.6 C37.3,198.8 32.2,200.4 30.8,198.3Z" fill="#e6dc32" stroke="#000" stroke-width="0.45" stroke-linejoin="round" stroke-linecap="round"/>
<path d="M56.8,164.5 C57.5,163.4 59.5,162.2 60.4,162.1 C61.3,162.0 62.5,162.9 62.3,163.9 C62.1,164.9 60.2,167.3 59.2,168.1 C58.2,168.9 56.6,169.3 56.2,168.7 C55.8,168.1 56.1,165.6 56.8,164.5Z" fill="#f08228" stroke="#000" stroke-width="0.45" stroke-linejoin="round" stroke-linecap="round"/>
<path d="M62.3,162.1 C62.8,159.9 65.0,157.3 65.9,157.3 C66.8,157.3 67.7,160.1 67.7,162.1 C67.7,164.1 65.9,166.9 65.9,169.3 C65.9,171.7 66.7,174.4 67.7,176.6 C68.7,178.8 70.4,181.0 71.9,182.6 C73.4,184.2 76.4,185.5 76.8,186.3 C77.2,187.1 75.7,187.9 74.3,187.5 C72.9,187.1 69.9,185.4 68.3,183.8 C66.7,182.2 65.6,180.0 64.7,177.8 C63.8,175.6 63.3,173.1 62.9,170.5 C62.5,167.9 61.8,164.3 62.3,162.1Z" fill="#e6af2d" stroke="#000" stroke-width="0.45" stroke-linejoin="round" stroke-linecap="round"/>
<path d="M74.3,165.7 C75.3,164.2 78.8,163.1 80.4,162.7 C82.0,162.3 83.6,162.4 84.0,163.3 C84.4,164.2 83.4,166.3 82.8,168.1 C82.2,169.9 80.9,172.0 80.4,174.2 C79.9,176.4 80.4,181.0 79.8,181.4 C79.2,181.8 77.7,178.2 76.8,176.6 C75.9,175.0 74.7,173.6 74.3,171.8 C73.9,170.0 73.3,167.2 74.3,165.7Z" fill="#e6af2d" stroke="#000" stroke-width="0.45" stroke-linejoin="round" stroke-linecap="round"/>
<path d="M45.3,187.5 C46.3,186.5 50.2,184.8 52.6,185.0 C55.0,185.2 57.4,187.6 59.8,188.7 C62.2,189.8 66.7,191.0 67.1,191.7 C67.5,192.4 64.3,193.1 62.3,192.9 C60.3,192.7 57.0,190.9 55.0,190.5 C53.0,190.1 51.6,190.4 50.2,190.5 C48.8,190.6 47.3,191.6 46.5,191.1 C45.7,190.6 44.3,188.5 45.3,187.5Z" fill="#e6af2d" stroke="#000" stroke-width="0.45" stroke-linejoin="round" stroke-linecap="round"/>
<path d="M52.6,191.7 C54.0,191.4 59.1,193.4 62.3,193.5 C65.5,193.6 69.5,192.9 71.9,192.5 C74.3,192.1 75.8,190.9 76.8,191.1 C77.8,191.3 78.8,192.8 78.0,193.5 C77.2,194.2 74.5,194.6 71.9,195.0 C69.3,195.4 65.3,195.9 62.3,195.9 C59.3,195.9 55.4,195.7 53.8,195.0 C52.2,194.3 51.2,191.9 52.6,191.7Z" fill="#e6af2d" stroke="#000" stroke-width="0.45" stroke-linejoin="round" stroke-linecap="round"/>
<path d="M53.8,153.6 C54.4,152.2 56.6,151.8 57.4,152.4 C58.2,153.0 58.8,155.5 58.6,157.3 C58.4,159.1 57.0,162.7 56.2,163.3 C55.4,163.9 54.2,162.5 53.8,160.9 C53.4,159.3 53.2,155.0 53.8,153.6Z" fill="#e6af2d" stroke="#000" stroke-width="0.45" stroke-linejoin="round" stroke-linecap="round"/>
<path d="M30.8,180.2 C31.8,176.8 34.7,178.5 36.9,177.8 C39.1,177.1 42.5,175.8 44.1,176.0 C45.7,176.2 46.5,177.5 46.5,179.0 C46.5,180.5 45.3,183.0 44.1,185.0 C42.9,187.0 40.9,189.0 39.3,191.1 C37.7,193.2 35.9,196.5 34.5,197.7 C33.1,198.9 31.4,201.2 30.8,198.3 C30.2,195.4 29.8,183.6 30.8,180.2Z" fill="#a0e632" stroke="#000" stroke-width="0.45" stroke-linejoin="round" stroke-linecap="round"/>
<path d="M96.7,158.5 C97.3,157.7 99.8,156.7 100.9,157.3 C102.0,157.9 103.2,160.5 103.3,162.1 C103.4,163.7 102.3,166.3 101.5,166.9 C100.7,167.5 99.2,166.5 98.5,165.7 C97.8,164.9 97.6,163.3 97.3,162.1 C97.0,160.9 96.1,159.3 96.7,158.5Z" fill="#e6af2d" stroke="#000" stroke-width="0.45" stroke-linejoin="round" stroke-linecap="round"/>
<path d="M107.2,165.0 C108.3,173.4 111.2,163.6 114.0,162.4 C116.8,161.2 121.0,159.7 124.0,158.0 C127.0,156.3 129.3,154.2 132.0,152.4 C134.7,150.6 137.3,148.7 140.0,147.0 C142.7,145.3 144.7,143.4 148.0,142.4 C151.3,141.4 156.0,140.6 160.0,141.0 C164.0,141.4 168.7,143.9 172.0,145.0 C175.3,146.1 176.7,147.3 180.0,147.6 C183.3,147.9 187.3,146.7 192.0,146.8 C196.7,146.9 203.3,148.0 208.0,148.0 C212.7,148.0 218.0,152.8 220.0,146.8 C222.0,140.8 238.8,117.8 220.0,112.0 C201.2,106.2 126.0,103.2 107.2,112.0 C88.4,120.8 106.1,156.6 107.2,165.0Z" fill="#e6af2d" stroke="#000" stroke-width="0.45" stroke-linejoin="round" stroke-linecap="round"/>
<path d="M107.2,162.4 C106.7,160.6 107.9,155.4 109.0,152.0 C110.1,148.6 112.2,144.9 114.0,142.0 C115.8,139.1 117.0,136.9 120.0,134.4 C123.0,131.9 128.0,129.4 132.0,127.0 C136.0,124.6 139.3,121.7 144.0,120.0 C148.7,118.3 155.0,117.0 160.0,117.0 C165.0,117.0 170.3,117.5 174.0,120.0 C177.7,122.5 179.7,128.8 182.4,132.0 C185.1,135.2 187.1,136.8 190.0,139.0 C192.9,141.2 199.7,144.2 200.0,145.0 C200.3,145.8 195.3,145.0 192.0,144.0 C188.7,143.0 184.0,140.3 180.0,139.0 C176.0,137.7 172.0,136.5 168.0,136.0 C164.0,135.5 159.7,135.7 156.0,136.0 C152.3,136.3 148.7,136.8 146.0,138.0 C143.3,139.2 142.3,141.2 140.0,143.0 C137.7,144.8 134.3,147.0 132.0,149.0 C129.7,151.0 128.3,153.2 126.0,155.0 C123.7,156.8 120.3,158.7 118.0,160.0 C115.7,161.3 113.8,162.6 112.0,163.0 C110.2,163.4 107.7,164.2 107.2,162.4Z" fill="#e6dc32" stroke="#000" stroke-width="0.45" stroke-linejoin="round" stroke-linecap="round"/>
<path d="M140.0,123.0 C141.0,121.7 145.0,120.2 148.0,119.0 C151.0,117.8 154.7,116.7 158.0,116.0 C161.3,115.3 165.2,114.3 168.0,115.0 C170.8,115.7 172.8,118.2 175.0,120.0 C177.2,121.8 179.8,124.0 181.0,126.0 C182.2,128.0 183.6,131.3 182.4,132.0 C181.2,132.7 177.1,130.7 174.0,130.0 C170.9,129.3 167.0,128.5 164.0,128.0 C161.0,127.5 158.7,127.0 156.0,127.0 C153.3,127.0 150.3,128.0 148.0,128.0 C145.7,128.0 143.3,127.8 142.0,127.0 C140.7,126.2 139.0,124.3 140.0,123.0Z" fill="#a0e632" stroke="#000" stroke-width="0.45" stroke-linejoin="round" stroke-linecap="round"/>
<path d="M150.0,119.0 C149.3,117.4 154.3,111.5 156.0,108.0 C157.7,104.5 157.7,99.7 160.0,98.0 C162.3,96.3 168.5,96.3 170.0,98.0 C171.5,99.7 169.3,105.2 169.0,108.0 C168.7,110.8 169.5,113.4 168.0,115.0 C166.5,116.6 163.0,116.9 160.0,117.6 C157.0,118.3 150.7,120.6 150.0,119.0Z" fill="#00dc00" stroke="#000" stroke-width="0.45" stroke-linejoin="round" stroke-linecap="round"/>
<path d="M144.0,119.0 C143.3,117.9 147.0,114.5 148.0,112.0 C149.0,109.5 149.3,106.3 150.0,104.0 C150.7,101.7 150.2,99.0 152.0,98.0 C153.8,97.0 160.2,96.2 161.0,98.0 C161.8,99.8 158.4,105.6 157.0,109.0 C155.6,112.4 154.6,116.7 152.4,118.4 C150.2,120.1 144.7,120.1 144.0,119.0Z" fill="#00c8c8" stroke="#000" stroke-width="0.45" stroke-linejoin="round" stroke-linecap="round"/>
<path d="M138.0,113.0 C137.1,111.2 136.7,108.5 136.0,106.0 C135.3,103.5 131.3,99.3 134.0,98.0 C136.7,96.7 149.9,95.7 152.4,98.0 C154.9,100.3 150.3,108.3 149.0,112.0 C147.7,115.7 145.6,119.2 144.4,120.0 C143.2,120.8 142.7,118.2 141.6,117.0 C140.5,115.8 138.9,114.8 138.0,113.0Z" fill="#1e3cff" stroke="#000" stroke-width="0.45" stroke-linejoin="round" stroke-linecap="round"/>
<path d="M209.0,149.5 C208.3,151.5 207.2,149.0 214.0,148.0 C220.8,147.0 239.7,144.0 250.0,143.5 C260.3,143.0 269.0,143.9 276.0,145.0 C283.0,146.1 284.7,148.7 292.0,150.0 C299.3,151.3 310.3,152.0 320.0,153.0 C329.7,154.0 340.0,155.1 350.0,156.0 C360.0,156.9 372.3,157.8 380.0,158.5 C387.7,159.2 390.7,158.9 396.0,160.0 C401.3,161.1 408.0,163.7 412.0,165.0 C416.0,166.3 418.0,168.5 420.0,168.0 C422.0,167.5 422.0,164.0 424.0,162.0 C426.0,160.0 429.7,158.0 432.0,156.0 C434.3,154.0 436.7,152.7 438.0,150.0 C439.3,147.3 439.5,143.7 440.0,140.0 C440.5,136.3 440.3,132.0 441.0,128.0 C441.7,124.0 443.5,120.0 444.0,116.0 C444.5,112.0 444.7,107.3 444.0,104.0 C443.3,100.7 440.0,98.7 440.0,96.0 C440.0,93.3 442.0,90.7 444.0,88.0 C446.0,85.3 449.3,82.3 452.0,80.0 C454.7,77.7 457.3,76.0 460.0,74.0 C462.7,72.0 463.0,71.2 468.0,68.0 C473.0,64.8 486.3,63.8 490.0,55.0 C493.7,46.2 532.3,21.7 490.0,15.0 C447.7,8.3 278.3,0.8 236.0,15.0 C193.7,29.2 237.7,82.5 236.0,100.0 C234.3,117.5 229.0,114.0 226.0,120.0 C223.0,126.0 220.8,131.1 218.0,136.0 C215.2,140.9 209.7,147.5 209.0,149.5Z" fill="#e6dc32" stroke="#000" stroke-width="0.45" stroke-linejoin="round" stroke-linecap="round"/>
<path d="M212.0,146.5 C211.5,148.2 211.3,146.1 216.0,145.0 C220.7,143.9 232.0,141.7 240.0,140.0 C248.0,138.3 256.7,135.7 264.0,135.0 C271.3,134.3 278.0,135.3 284.0,136.0 C290.0,136.7 294.0,137.8 300.0,139.0 C306.0,140.2 311.7,142.0 320.0,143.0 C328.3,144.0 340.0,145.0 350.0,145.0 C360.0,145.0 371.7,143.7 380.0,143.0 C388.3,142.3 394.7,141.8 400.0,141.0 C405.3,140.2 408.5,138.2 412.0,138.0 C415.5,137.8 419.0,141.5 421.0,140.0 C423.0,138.5 424.2,133.0 424.0,129.0 C423.8,125.0 422.0,120.8 420.0,116.0 C418.0,111.2 413.7,105.0 412.0,100.0 C410.3,95.0 410.5,89.8 410.0,86.0 C409.5,82.2 407.7,80.3 409.0,77.0 C410.3,73.7 415.3,69.2 418.0,66.0 C420.7,62.8 422.7,60.0 425.0,58.0 C427.3,56.0 428.8,54.8 432.0,54.0 C435.2,53.2 440.0,53.5 444.0,53.0 C448.0,52.5 452.5,52.0 456.0,51.0 C459.5,50.0 462.7,48.3 465.0,47.0 C467.3,45.7 468.4,44.7 470.0,43.0 C471.6,41.3 473.4,39.2 474.6,37.0 C475.8,34.8 474.4,32.8 477.0,30.0 C479.6,27.2 530.2,22.5 490.0,20.0 C449.8,17.5 278.3,1.7 236.0,15.0 C193.7,28.3 237.7,82.5 236.0,100.0 C234.3,117.5 228.8,114.2 226.0,120.0 C223.2,125.8 221.3,130.6 219.0,135.0 C216.7,139.4 212.5,144.8 212.0,146.5Z" fill="#a0e632" stroke="#000" stroke-width="0.45" stroke-linejoin="round" stroke-linecap="round"/>
<path d="M213.0,143.5 C212.2,144.8 213.2,142.9 215.0,142.0 C216.8,141.1 221.5,140.0 224.0,138.0 C226.5,136.0 227.7,131.8 230.0,130.0 C232.3,128.2 234.7,127.8 238.0,127.0 C241.3,126.2 245.7,125.2 250.0,125.0 C254.3,124.8 259.7,125.7 264.0,126.0 C268.3,126.3 272.3,126.3 276.0,127.0 C279.7,127.7 283.0,129.3 286.0,130.0 C289.0,130.7 291.7,131.3 294.0,131.0 C296.3,130.7 297.7,127.8 300.0,128.0 C302.3,128.2 305.3,130.5 308.0,132.0 C310.7,133.5 312.3,135.8 316.0,137.0 C319.7,138.2 324.3,138.5 330.0,139.0 C335.7,139.5 344.3,140.5 350.0,140.0 C355.7,139.5 360.3,136.8 364.0,136.0 C367.7,135.2 370.5,135.5 372.0,135.0 C373.5,134.5 375.0,133.7 373.0,133.0 C371.0,132.3 363.0,131.8 360.0,131.0 C357.0,130.2 354.3,129.5 355.0,128.0 C355.7,126.5 360.8,123.8 364.0,122.0 C367.2,120.2 371.3,118.7 374.0,117.0 C376.7,115.3 377.7,113.5 380.0,112.0 C382.3,110.5 385.7,109.0 388.0,108.0 C390.3,107.0 394.0,107.3 394.0,106.0 C394.0,104.7 389.7,101.5 388.0,100.0 C386.3,98.5 386.0,97.2 384.0,97.0 C382.0,96.8 378.3,98.2 376.0,99.0 C373.7,99.8 371.3,102.2 370.0,102.0 C368.7,101.8 367.3,99.3 368.0,98.0 C368.7,96.7 372.0,95.3 374.0,94.0 C376.0,92.7 378.7,91.7 380.0,90.0 C381.3,88.3 382.7,84.7 382.0,84.0 C381.3,83.3 378.3,85.0 376.0,86.0 C373.7,87.0 370.3,90.0 368.0,90.0 C365.7,90.0 364.0,87.3 362.0,86.0 C360.0,84.7 357.3,83.2 356.0,82.0 C354.7,80.8 352.3,80.3 354.0,79.0 C355.7,77.7 362.3,75.8 366.0,74.0 C369.7,72.2 373.3,70.3 376.0,68.0 C378.7,65.7 381.3,62.0 382.0,60.0 C382.7,58.0 379.7,57.3 380.0,56.0 C380.3,54.7 382.3,52.3 384.0,52.0 C385.7,51.7 388.3,53.0 390.0,54.0 C391.7,55.0 392.3,56.5 394.0,58.0 C395.7,59.5 397.7,61.6 400.0,63.0 C402.3,64.4 405.3,66.5 408.0,66.5 C410.7,66.5 413.8,64.6 416.0,63.0 C418.2,61.4 419.5,59.2 421.0,57.0 C422.5,54.8 425.3,51.7 425.0,50.0 C424.7,48.3 421.2,48.7 419.0,47.0 C416.8,45.3 414.3,44.5 412.0,40.0 C409.7,35.5 434.3,24.2 405.0,20.0 C375.7,15.8 264.2,1.7 236.0,15.0 C207.8,28.3 237.7,82.5 236.0,100.0 C234.3,117.5 228.7,114.3 226.0,120.0 C223.3,125.7 222.2,130.1 220.0,134.0 C217.8,137.9 213.8,142.2 213.0,143.5Z" fill="#00dc00"/>
<path d="M443.0,56.5 C442.8,56.0 445.6,55.5 447.0,55.5 C448.4,55.5 451.3,56.0 451.5,56.5 C451.7,57.0 449.4,58.5 448.0,58.5 C446.6,58.5 443.2,57.0 443.0,56.5Z" fill="#e6af2d" stroke="#000" stroke-width="0.45" stroke-linejoin="round" stroke-linecap="round"/>
<path d="M448.0,36.0 C448.3,35.3 450.7,34.5 452.0,35.0 C453.3,35.5 455.8,38.0 456.0,39.0 C456.2,40.0 454.0,41.0 453.0,41.0 C452.0,41.0 450.8,39.8 450.0,39.0 C449.2,38.2 447.7,36.7 448.0,36.0Z" fill="#e6af2d" stroke="#000" stroke-width="0.45" stroke-linejoin="round" stroke-linecap="round"/>
<path d="M428.0,100.0 C427.8,98.8 429.2,97.0 430.0,97.0 C430.8,97.0 432.8,98.8 433.0,100.0 C433.2,101.2 431.8,104.0 431.0,104.0 C430.2,104.0 428.2,101.2 428.0,100.0Z" fill="#e6dc32" stroke="#000" stroke-width="0.45" stroke-linejoin="round" stroke-linecap="round"/>
<path d="M413.0,130.0 C412.8,128.9 414.9,127.7 416.0,128.0 C417.1,128.3 419.4,130.5 419.6,131.6 C419.8,132.7 418.1,134.7 417.0,134.4 C415.9,134.1 413.2,131.1 413.0,130.0Z" fill="#e6dc32" stroke="#000" stroke-width="0.45" stroke-linejoin="round" stroke-linecap="round"/>
<path d="M411.0,155.0 C411.0,154.1 413.1,152.8 414.0,153.0 C414.9,153.2 416.4,155.1 416.4,156.0 C416.4,156.9 414.9,158.6 414.0,158.4 C413.1,158.2 411.0,155.9 411.0,155.0Z" fill="#e6af2d" stroke="#000" stroke-width="0.45" stroke-linejoin="round" stroke-linecap="round"/>
<path d="M424.0,172.0 C424.2,170.8 426.6,168.2 428.0,167.0 C429.4,165.8 431.9,164.5 432.4,165.0 C432.9,165.5 431.9,168.4 431.0,170.0 C430.1,171.6 428.2,174.1 427.0,174.4 C425.8,174.7 423.8,173.2 424.0,172.0Z" fill="#e6dc32" stroke="#000" stroke-width="0.45" stroke-linejoin="round" stroke-linecap="round"/>
<path d="M448.0,129.0 C442.3,126.3 446.7,120.2 446.0,116.0 C445.3,111.8 445.0,107.3 444.0,104.0 C443.0,100.7 440.0,98.7 440.0,96.0 C440.0,93.3 442.0,90.7 444.0,88.0 C446.0,85.3 449.3,82.3 452.0,80.0 C454.7,77.7 457.3,76.0 460.0,74.0 C462.7,72.0 465.3,70.3 468.0,68.0 C470.7,65.7 474.0,61.3 476.0,60.0 C478.0,58.7 479.3,48.0 480.0,60.0 C480.7,72.0 485.3,120.5 480.0,132.0 C474.7,143.5 453.7,131.7 448.0,129.0Z" fill="#e6af2d" stroke="#000" stroke-width="0.45" stroke-linejoin="round" stroke-linecap="round"/>
<path d="M452.0,88.0 C452.5,86.7 456.7,86.3 458.0,87.0 C459.3,87.7 458.7,90.8 460.0,92.0 C461.3,93.2 464.8,92.7 466.0,94.0 C467.2,95.3 467.5,98.3 467.0,100.0 C466.5,101.7 464.5,104.0 463.0,104.0 C461.5,104.0 459.3,101.5 458.0,100.0 C456.7,98.5 456.0,97.0 455.0,95.0 C454.0,93.0 451.5,89.3 452.0,88.0Z" fill="#f08228" stroke="#000" stroke-width="0.45" stroke-linejoin="round" stroke-linecap="round"/>
<path d="M448.0,129.0 C443.0,127.0 448.7,122.5 450.0,120.0 C451.3,117.5 453.7,115.7 456.0,114.0 C458.3,112.3 461.7,110.3 464.0,110.0 C466.3,109.7 468.0,112.3 470.0,112.0 C472.0,111.7 474.3,108.7 476.0,108.0 C477.7,107.3 479.3,104.0 480.0,108.0 C480.7,112.0 485.3,128.5 480.0,132.0 C474.7,135.5 453.0,131.0 448.0,129.0Z" fill="#f08228" stroke="#000" stroke-width="0.45" stroke-linejoin="round" stroke-linecap="round"/>
<path d="M446.0,150.0 C446.5,145.6 446.5,139.7 447.0,135.0 C447.5,130.3 448.2,125.8 449.0,122.0 C449.8,118.2 450.5,114.2 452.0,112.0 C453.5,109.8 455.7,109.5 458.0,109.0 C460.3,108.5 463.8,108.5 466.0,109.0 C468.2,109.5 469.7,110.5 471.0,112.0 C472.3,113.5 473.2,115.5 474.0,118.0 C474.8,120.5 476.1,124.7 476.0,127.0 C475.9,129.3 474.7,130.3 473.5,131.8 C472.3,133.3 469.9,134.2 469.0,136.0 C468.1,137.8 468.5,140.8 468.0,142.8 C467.5,144.8 466.6,146.5 466.0,148.0 C465.4,149.5 465.5,150.3 464.7,151.6 C463.9,152.9 462.7,154.7 461.4,156.0 C460.1,157.3 458.5,158.4 457.0,159.3 C455.5,160.2 453.9,161.7 452.6,161.5 C451.3,161.3 450.4,157.8 449.3,158.2 C448.2,158.6 446.9,162.6 446.0,163.7 C445.1,164.8 444.2,165.2 443.8,164.8 C443.4,164.4 443.4,164.0 443.8,161.5 C444.2,159.0 445.5,154.4 446.0,150.0Z" fill="#f08228" stroke="#000" stroke-width="0.45" stroke-linejoin="round" stroke-linecap="round"/>
<path d="M477.0,127.4 L473.5,131.8 L469.0,136.0 L468.0,142.8 L466.0,148.0 L466.9,152.0 L468.0,159.3 L471.3,167.0 L474.6,174.7 L475.7,182.4 L473.5,189.0 L471.3,195.6 L470.0,203.0 L482.0,203.0 L482.0,127.0Z" fill="#f08228" stroke="#000" stroke-width="0.45" stroke-linejoin="round" stroke-linecap="round"/>
<path d="M456.0,100.0 C456.3,99.0 458.3,98.2 460.0,98.0 C461.7,97.8 464.8,98.2 466.0,99.0 C467.2,99.8 467.7,102.0 467.0,103.0 C466.3,104.0 463.5,104.8 462.0,105.0 C460.5,105.2 459.0,104.8 458.0,104.0 C457.0,103.2 455.7,101.0 456.0,100.0Z" fill="#f08228" stroke="#000" stroke-width="0.45" stroke-linejoin="round" stroke-linecap="round"/>
<path d="M428.0,192.0 C429.0,190.0 429.9,186.3 431.0,184.0 C432.1,181.7 433.6,178.7 434.4,178.0 C435.2,177.3 436.1,178.5 436.0,180.0 C435.9,181.5 434.6,184.7 433.6,187.0 C432.6,189.3 431.4,192.5 430.0,194.0 C428.6,195.5 425.3,196.3 425.0,196.0 C424.7,195.7 427.0,194.0 428.0,192.0Z" fill="#f08228" stroke="#000" stroke-width="0.45" stroke-linejoin="round" stroke-linecap="round"/>
<path d="M439.0,191.0 C439.7,189.9 442.7,189.3 444.0,188.0 C445.3,186.7 446.0,183.9 447.0,183.0 C448.0,182.1 449.2,181.6 450.0,182.4 C450.8,183.2 452.3,186.7 452.0,188.0 C451.7,189.3 449.5,188.9 448.0,190.0 C446.5,191.1 444.4,193.7 443.0,194.4 C441.6,195.1 440.3,195.0 439.6,194.4 C438.9,193.8 438.3,192.1 439.0,191.0Z" fill="#f08228" stroke="#000" stroke-width="0.45" stroke-linejoin="round" stroke-linecap="round"/>
<path d="M460.0,185.0 C460.5,184.1 462.1,183.4 463.0,183.6 C463.9,183.8 465.6,185.5 465.6,186.4 C465.6,187.3 463.9,188.6 463.0,189.0 C462.1,189.4 460.5,189.7 460.0,189.0 C459.5,188.3 459.5,185.9 460.0,185.0Z" fill="#f08228" stroke="#000" stroke-width="0.45" stroke-linejoin="round" stroke-linecap="round"/>
<path d="M416.0,206.0 C416.5,205.2 418.0,205.0 420.0,204.0 C422.0,203.0 426.0,200.8 428.0,200.0 C430.0,199.2 430.7,198.8 432.0,199.0 C433.3,199.2 436.3,199.8 436.0,201.0 C435.7,202.2 432.0,204.7 430.0,206.0 C428.0,207.3 426.2,208.5 424.0,209.0 C421.8,209.5 418.3,209.5 417.0,209.0 C415.7,208.5 415.5,206.8 416.0,206.0Z" fill="#f08228" stroke="#000" stroke-width="0.45" stroke-linejoin="round" stroke-linecap="round"/>
<path d="M442.0,198.0 C442.2,197.3 444.2,196.2 445.0,196.4 C445.8,196.6 447.2,198.3 447.0,199.0 C446.8,199.7 444.8,200.6 444.0,200.4 C443.2,200.2 441.8,198.7 442.0,198.0Z" fill="#f08228" stroke="#000" stroke-width="0.45" stroke-linejoin="round" stroke-linecap="round"/>
<path d="M330.0,94.0 C331.0,92.3 334.3,88.8 338.0,88.0 C341.7,87.2 348.7,88.0 352.0,89.0 C355.3,90.0 356.0,92.2 358.0,94.0 C360.0,95.8 365.3,98.8 364.0,100.0 C362.7,101.2 354.0,101.3 350.0,101.0 C346.0,100.7 343.0,98.5 340.0,98.0 C337.0,97.5 333.7,98.7 332.0,98.0 C330.3,97.3 329.0,95.7 330.0,94.0Z" fill="#a0e632"/>
<rect x="28" y="40" width="165" height="80" fill="#00a0ff"/>
<path d="M101.0,40.0 C117.7,38.3 183.5,30.0 200.0,40.0 C216.5,50.0 208.3,90.0 200.0,100.0 C191.7,110.0 160.0,96.7 150.0,100.0 C140.0,103.3 143.3,116.7 140.0,120.0 C136.7,123.3 131.0,124.7 130.0,120.0 C129.0,115.3 132.8,98.0 134.0,92.0 C135.2,86.0 138.0,85.6 137.0,84.0 C136.0,82.4 130.8,83.3 128.0,82.5 C125.2,81.7 122.7,80.2 120.0,79.0 C117.3,77.8 114.7,75.8 112.0,75.0 C109.3,74.2 106.2,74.8 104.0,74.0 C101.8,73.2 100.3,72.0 99.0,70.0 C97.7,68.0 95.8,65.3 96.0,62.0 C96.2,58.7 99.2,53.7 100.0,50.0 C100.8,46.3 84.3,41.7 101.0,40.0Z" fill="#1e3cff"/>
<path d="M28.0,84.0 C30.7,80.7 40.3,84.7 44.0,84.0 C47.7,83.3 47.7,80.7 50.0,80.0 C52.3,79.3 55.3,79.7 58.0,80.0 C60.7,80.3 64.1,81.0 66.0,82.0 C67.9,83.0 69.2,84.3 69.5,86.0 C69.8,87.7 68.6,89.7 68.0,92.0 C67.4,94.3 67.3,98.2 66.0,100.0 C64.7,101.8 62.3,102.3 60.0,103.0 C57.7,103.7 54.3,103.3 52.0,104.0 C49.7,104.7 48.3,106.3 46.0,107.0 C43.7,107.7 41.0,108.5 38.0,108.0 C35.0,107.5 29.7,108.0 28.0,104.0 C26.3,100.0 25.3,87.3 28.0,84.0Z" fill="#00c8c8" stroke="#000" stroke-width="0.4" stroke-linejoin="round" stroke-linecap="round"/>
<rect x="68.5" y="72" width="3.0" height="3.0" fill="#fff"/>
<rect x="78.5" y="76" width="3.5" height="3.5" fill="#fff"/>
<rect x="90" y="70" width="3.5" height="3.5" fill="#fff"/>
<rect x="93" y="73" width="4.0" height="3.0" fill="#fff"/>
<rect x="60" y="77" width="3.0" height="3.5" fill="#fff"/>
<rect x="64" y="74.4" width="3.0" height="3.6" fill="#fff"/>
<rect x="74.2" y="74.4" width="3.6" height="5.4" fill="#fff"/>
<rect x="97.4" y="66" width="4.2" height="3.6" fill="#fff"/>
<rect x="83" y="75.6" width="5.0" height="3.4" fill="#fff"/>
<rect x="104.6" y="63" width="13.1" height="9.6" fill="#fff"/>
<rect x="123.4" y="53" width="7.0" height="4.0" fill="#fff"/>
<rect x="100" y="64.8" width="4.7" height="6.2" fill="#fff"/>
<rect x="57" y="76" width="3.0" height="3.0" fill="#fff"/>
<rect x="28" y="86" width="5.0" height="9.0" fill="#fff"/>
<rect x="30" y="80" width="6.0" height="6.0" fill="#fff"/>
<path d="M146.0,88.0 C147.7,86.0 152.0,84.0 154.0,86.0 C156.0,88.0 158.3,95.7 158.0,100.0 C157.7,104.3 154.0,109.0 152.0,112.0 C150.0,115.0 147.8,118.3 146.0,118.0 C144.2,117.7 141.3,113.3 141.0,110.0 C140.7,106.7 143.2,101.7 144.0,98.0 C144.8,94.3 144.3,90.0 146.0,88.0Z" fill="#00a0ff"/>
<path d="M150.0,88.0 C152.3,86.0 161.3,84.3 164.0,86.0 C166.7,87.7 166.7,94.3 166.0,98.0 C165.3,101.7 162.3,105.3 160.0,108.0 C157.7,110.7 154.2,114.0 152.0,114.0 C149.8,114.0 147.3,110.7 147.0,108.0 C146.7,105.3 149.5,101.3 150.0,98.0 C150.5,94.7 147.7,90.0 150.0,88.0Z" fill="#00c8c8"/>
<path d="M156.0,96.0 C157.8,93.7 163.8,91.3 166.0,92.0 C168.2,92.7 169.0,96.7 169.0,100.0 C169.0,103.3 167.8,109.0 166.0,112.0 C164.2,115.0 160.3,117.3 158.0,118.0 C155.7,118.7 152.5,118.0 152.0,116.0 C151.5,114.0 154.3,109.3 155.0,106.0 C155.7,102.7 154.2,98.3 156.0,96.0Z" fill="#00dc00"/>
<path d="M254.0,26.0 L306.0,26.0 L306.0,50.0 L300.0,56.0 L286.0,62.0 L254.0,70.0Z" fill="#1e3cff"/>
<path d="M277.0,53.0 C279.0,50.0 285.7,52.8 288.0,54.0 C290.3,55.2 291.2,58.0 291.0,60.0 C290.8,62.0 288.8,63.3 287.0,66.0 C285.2,68.7 281.8,75.0 280.0,76.0 C278.2,77.0 276.5,75.8 276.0,72.0 C275.5,68.2 275.0,56.0 277.0,53.0Z" fill="#00c8c8"/>
<path d="M286.0,62.0 C288.0,60.0 291.7,59.0 296.0,58.0 C300.3,57.0 310.3,55.3 312.0,56.0 C313.7,56.7 308.3,60.3 306.0,62.0 C303.7,63.7 300.7,64.7 298.0,66.0 C295.3,67.3 292.3,69.3 290.0,70.0 C287.7,70.7 284.7,71.3 284.0,70.0 C283.3,68.7 284.0,64.0 286.0,62.0Z" fill="#00d28c"/>
<path d="M20.0,100.0 L30.0,97.6 L34.3,106.0 L39.0,110.7 L43.9,109.5 L48.6,106.5 L53.4,104.8 L59.3,106.0 L64.0,107.0 L67.7,102.4 L71.2,97.6 L71.8,91.7 L70.6,88.0 L74.8,85.7 L78.4,82.7 L84.3,79.0 L90.3,75.6 L97.4,76.8 L103.4,75.0 L105.0,79.0 L108.0,77.4 L111.7,81.0 L116.5,84.5 L123.4,89.0 L129.6,87.4 L135.0,88.2 L135.0,90.5 L132.7,95.2 L132.0,101.4 L135.0,106.9 L139.7,110.8 L138.0,115.4 L141.3,118.5 L138.0,121.0 L132.0,126.0 L126.0,130.0 L120.0,135.0 L116.0,139.0 L111.0,146.0 L108.0,154.0 L106.4,162.5 L105.0,160.0 L100.0,154.0 L94.0,148.0 L86.0,143.0 L78.0,141.0 L68.0,143.0 L58.0,148.0 L50.0,153.0 L46.0,160.0 L41.0,172.0 L36.0,177.0 L30.0,180.0 L20.0,182.0Z" fill="#fff" stroke="#fff" stroke-width="3.0" stroke-linejoin="round" stroke-linecap="round"/>
<path d="M20.0,80.0 L30.8,79.8 L36.7,76.8 L39.0,78.0 L35.5,81.5 L39.0,84.0 L43.9,82.0 L45.6,78.6 L45.0,75.6 L47.4,72.0 L49.8,77.4 L53.4,75.6 L57.0,69.6 L62.9,68.5 L64.0,70.8 L67.7,69.0 L73.6,65.5 L78.4,66.7 L80.8,69.6 L85.5,69.0 L90.3,67.9 L92.7,64.3 L94.5,61.3 L90.3,60.7 L93.9,58.9 L99.8,59.5 L103.4,58.3 L107.0,54.8 L111.0,50.0 L117.0,49.2 L125.0,47.0 L134.3,45.0 L142.0,47.0 L148.3,50.8 L154.5,55.5 L160.7,57.8 L167.0,56.2 L171.7,52.4 L177.9,49.7 L182.6,50.8 L185.7,54.7 L186.4,61.0 L184.0,66.4 L177.9,73.4 L170.0,78.8 L163.9,82.7 L163.0,85.8 L167.0,89.7 L168.5,95.2 L167.0,98.3 L168.5,103.0 L167.5,108.0 L167.0,115.0 L174.0,120.0 L180.0,125.0 L182.0,132.0 L186.0,137.0 L194.0,142.0 L202.0,145.0 L207.5,147.0 L212.0,143.0 L220.0,134.0 L226.0,120.0 L232.0,110.0 L238.0,104.0 L237.0,99.0 L240.0,97.0 L242.0,91.0 L248.0,88.0 L256.0,85.0 L264.0,82.0 L268.0,80.0 L272.0,85.0 L277.0,85.0 L279.0,80.0 L281.0,74.0 L279.0,73.0 L277.0,69.0 L272.0,67.0 L266.0,63.0 L261.0,60.0 L256.0,59.0 L255.0,52.0 L256.0,47.0 L260.0,41.0 L263.7,35.0 L262.7,32.0 L265.2,26.0 L265.0,15.0 L20.0,15.0Z" fill="#fff" stroke="#fff" stroke-width="3.0" stroke-linejoin="round" stroke-linecap="round"/>
<path d="M278.0,20.0 L278.0,28.0 L275.0,32.0 L274.7,37.0 L275.7,41.0 L276.8,47.0 L280.0,50.0 L283.0,51.0 L281.8,47.7 L280.0,44.0 L280.8,40.0 L284.0,36.6 L284.8,41.0 L287.0,45.0 L292.0,46.0 L298.0,45.0 L304.0,44.0 L308.0,50.0 L302.0,53.0 L296.0,56.0 L291.0,58.0 L287.0,58.7 L286.8,60.0 L292.0,58.7 L300.0,56.0 L310.0,54.0 L320.6,53.7 L332.0,55.0 L344.0,56.0 L356.0,57.0 L362.0,59.0 L365.0,58.5 L364.0,52.0 L367.0,46.0 L371.0,37.0 L378.0,31.5 L388.0,29.0 L392.0,20.0Z" fill="#fff" stroke="#fff" stroke-width="3.0" stroke-linejoin="round" stroke-linecap="round"/>
<path d="M399.0,20.0 L399.0,28.5 L398.0,34.0 L398.6,42.0 L397.0,50.0 L400.0,56.0 L404.0,58.0 L409.0,55.0 L413.0,50.0 L417.0,44.0 L421.0,38.0 L422.0,33.0 L420.0,28.5 L420.0,20.0Z" fill="#fff" stroke="#fff" stroke-width="3.0" stroke-linejoin="round" stroke-linecap="round"/>
<path d="M462.0,20.0 L462.6,29.0 L464.0,33.0 L469.0,37.0 L474.0,35.0 L476.5,30.0 L477.0,20.0Z" fill="#fff" stroke="#fff" stroke-width="3.0" stroke-linejoin="round" stroke-linecap="round"/>
<path d="M136.6,82.7 L142.0,75.7 L148.3,68.7 L154.5,62.5 L159.2,59.4 L158.4,64.8 L154.5,71.0 L152.2,76.5 L154.5,82.0 L151.4,85.8 L145.2,88.2 L139.0,86.6Z" fill="#fff" stroke="#fff" stroke-width="3.0" stroke-linejoin="round" stroke-linecap="round"/>
<path d="M20.0,100.0 L30.0,97.6 L34.3,106.0 L39.0,110.7 L43.9,109.5 L48.6,106.5 L53.4,104.8 L59.3,106.0 L64.0,107.0 L67.7,102.4 L71.2,97.6 L71.8,91.7 L70.6,88.0 L74.8,85.7 L78.4,82.7 L84.3,79.0 L90.3,75.6 L97.4,76.8 L103.4,75.0 L105.0,79.0 L108.0,77.4 L111.7,81.0 L116.5,84.5 L123.4,89.0 L129.6,87.4 L135.0,88.2 L135.0,90.5 L132.7,95.2 L132.0,101.4 L135.0,106.9 L139.7,110.8 L138.0,115.4 L141.3,118.5 L138.0,121.0 L132.0,126.0 L126.0,130.0 L120.0,135.0 L116.0,139.0 L111.0,146.0 L108.0,154.0 L106.4,162.5 L105.0,160.0 L100.0,154.0 L94.0,148.0 L86.0,143.0 L78.0,141.0 L68.0,143.0 L58.0,148.0 L50.0,153.0 L46.0,160.0 L41.0,172.0 L36.0,177.0 L30.0,180.0 L20.0,182.0Z" fill="none" stroke="#000" stroke-width="0.85" stroke-linejoin="round" stroke-linecap="round"/>
<path d="M20.0,80.0 L30.8,79.8 L36.7,76.8 L39.0,78.0 L35.5,81.5 L39.0,84.0 L43.9,82.0 L45.6,78.6 L45.0,75.6 L47.4,72.0 L49.8,77.4 L53.4,75.6 L57.0,69.6 L62.9,68.5 L64.0,70.8 L67.7,69.0 L73.6,65.5 L78.4,66.7 L80.8,69.6 L85.5,69.0 L90.3,67.9 L92.7,64.3 L94.5,61.3 L90.3,60.7 L93.9,58.9 L99.8,59.5 L103.4,58.3 L107.0,54.8 L111.0,50.0 L117.0,49.2 L125.0,47.0 L134.3,45.0 L142.0,47.0 L148.3,50.8 L154.5,55.5 L160.7,57.8 L167.0,56.2 L171.7,52.4 L177.9,49.7 L182.6,50.8 L185.7,54.7 L186.4,61.0 L184.0,66.4 L177.9,73.4 L170.0,78.8 L163.9,82.7 L163.0,85.8 L167.0,89.7 L168.5,95.2 L167.0,98.3 L168.5,103.0 L167.5,108.0 L167.0,115.0 L174.0,120.0 L180.0,125.0 L182.0,132.0 L186.0,137.0 L194.0,142.0 L202.0,145.0 L207.5,147.0 L212.0,143.0 L220.0,134.0 L226.0,120.0 L232.0,110.0 L238.0,104.0 L237.0,99.0 L240.0,97.0 L242.0,91.0 L248.0,88.0 L256.0,85.0 L264.0,82.0 L268.0,80.0 L272.0,85.0 L277.0,85.0 L279.0,80.0 L281.0,74.0 L279.0,73.0 L277.0,69.0 L272.0,67.0 L266.0,63.0 L261.0,60.0 L256.0,59.0 L255.0,52.0 L256.0,47.0 L260.0,41.0 L263.7,35.0 L262.7,32.0 L265.2,26.0 L265.0,15.0 L20.0,15.0Z" fill="none" stroke="#000" stroke-width="0.85" stroke-linejoin="round" stroke-linecap="round"/>
<path d="M278.0,20.0 L278.0,28.0 L275.0,32.0 L274.7,37.0 L275.7,41.0 L276.8,47.0 L280.0,50.0 L283.0,51.0 L281.8,47.7 L280.0,44.0 L280.8,40.0 L284.0,36.6 L284.8,41.0 L287.0,45.0 L292.0,46.0 L298.0,45.0 L304.0,44.0 L308.0,50.0 L302.0,53.0 L296.0,56.0 L291.0,58.0 L287.0,58.7 L286.8,60.0 L292.0,58.7 L300.0,56.0 L310.0,54.0 L320.6,53.7 L332.0,55.0 L344.0,56.0 L356.0,57.0 L362.0,59.0 L365.0,58.5 L364.0,52.0 L367.0,46.0 L371.0,37.0 L378.0,31.5 L388.0,29.0 L392.0,20.0Z" fill="none" stroke="#000" stroke-width="0.85" stroke-linejoin="round" stroke-linecap="round"/>
<path d="M399.0,20.0 L399.0,28.5 L398.0,34.0 L398.6,42.0 L397.0,50.0 L400.0,56.0 L404.0,58.0 L409.0,55.0 L413.0,50.0 L417.0,44.0 L421.0,38.0 L422.0,33.0 L420.0,28.5 L420.0,20.0Z" fill="none" stroke="#000" stroke-width="0.85" stroke-linejoin="round" stroke-linecap="round"/>
<path d="M462.0,20.0 L462.6,29.0 L464.0,33.0 L469.0,37.0 L474.0,35.0 L476.5,30.0 L477.0,20.0Z" fill="none" stroke="#000" stroke-width="0.85" stroke-linejoin="round" stroke-linecap="round"/>
<path d="M136.6,82.7 L142.0,75.7 L148.3,68.7 L154.5,62.5 L159.2,59.4 L158.4,64.8 L154.5,71.0 L152.2,76.5 L154.5,82.0 L151.4,85.8 L145.2,88.2 L139.0,86.6Z" fill="none" stroke="#000" stroke-width="0.85" stroke-linejoin="round" stroke-linecap="round"/>
<ellipse cx="439.4" cy="49" rx="3.4" ry="4.6" fill="#fff" stroke="#000" stroke-width="0.7"/>
<ellipse cx="446.8" cy="98.6" rx="2.6" ry="2.6" fill="#fff" stroke="#000" stroke-width="0.7"/>
<ellipse cx="464" cy="172.5" rx="3.6" ry="3.2" fill="#fff" stroke="#000" stroke-width="0.7"/>
<ellipse cx="430.5" cy="76" rx="1.2" ry="3.5" fill="#fff" stroke="#000" stroke-width="0.7"/>
<ellipse cx="451.5" cy="115" rx="2.2" ry="2.6" fill="#fff" stroke="#000" stroke-width="0.7"/>
<ellipse cx="431" cy="65" rx="2" ry="2" fill="#fff" stroke="#000" stroke-width="0.7"/>
<ellipse cx="426" cy="79.5" rx="1.8" ry="1.8" fill="#fff" stroke="#000" stroke-width="0.7"/>
<ellipse cx="422.5" cy="88" rx="1.8" ry="1.8" fill="#fff" stroke="#000" stroke-width="0.7"/>
<path d="M215.0,146.5 C220.0,145.7 235.8,142.9 245.0,141.8 C254.2,140.7 262.8,139.8 270.0,140.0 C277.2,140.2 281.3,141.9 288.0,143.0 C294.7,144.1 302.2,145.4 310.0,146.5 C317.8,147.6 325.8,148.8 335.0,149.5 C344.2,150.2 355.8,150.8 365.0,151.0 C374.2,151.2 382.2,150.8 390.0,151.0 C397.8,151.2 406.3,152.2 412.0,152.0 C417.7,151.8 421.0,152.0 424.0,150.0 C427.0,148.0 428.5,145.0 430.0,140.0 C431.5,135.0 432.3,126.7 433.0,120.0 C433.7,113.3 433.2,106.0 434.0,100.0 C434.8,94.0 435.3,88.7 438.0,84.0 C440.7,79.3 445.3,76.0 450.0,72.0 C454.7,68.0 463.3,62.0 466.0,60.0" fill="none" stroke="#000" stroke-width="0.45" opacity="0.85"/>
<path d="M230.0,144.5 C235.0,143.9 250.8,140.9 260.0,141.0 C269.2,141.1 276.7,143.6 285.0,145.0 C293.3,146.4 300.8,148.2 310.0,149.5 C319.2,150.8 330.0,152.1 340.0,153.0 C350.0,153.9 360.8,154.5 370.0,155.0 C379.2,155.5 388.3,155.2 395.0,156.0 C401.7,156.8 407.5,159.3 410.0,160.0" fill="none" stroke="#000" stroke-width="0.45" opacity="0.85"/>
<path d="M256.0,160.0 C261.7,160.2 277.7,160.5 290.0,161.0 C302.3,161.5 315.0,162.0 330.0,163.0 C345.0,164.0 368.3,165.5 380.0,167.0 C391.7,168.5 396.7,171.2 400.0,172.0" fill="none" stroke="#000" stroke-width="0.45" opacity="0.85"/>
<path d="M300.0,174.0 C306.7,174.5 326.7,175.3 340.0,177.0 C353.3,178.7 370.3,181.5 380.0,184.0 C389.7,186.5 395.0,190.7 398.0,192.0" fill="none" stroke="#000" stroke-width="0.45" opacity="0.85"/>
<path d="M230.0,185.0 C236.7,184.8 256.7,183.8 270.0,184.0 C283.3,184.2 296.7,185.0 310.0,186.0 C323.3,187.0 337.5,188.0 350.0,190.0 C362.5,192.0 379.2,196.7 385.0,198.0" fill="none" stroke="#000" stroke-width="0.45" opacity="0.85"/>
<path d="M110.0,168.0 C112.0,167.3 118.0,165.7 122.0,164.0 C126.0,162.3 130.7,160.3 134.0,158.0 C137.3,155.7 139.3,152.0 142.0,150.0 C144.7,148.0 146.7,146.8 150.0,146.0 C153.3,145.2 157.8,144.5 162.0,145.0 C166.2,145.5 169.5,148.2 175.0,149.0 C180.5,149.8 191.7,149.8 195.0,150.0" fill="none" stroke="#000" stroke-width="0.45" opacity="0.85"/>
<path d="M112.0,172.0 C114.3,171.3 121.7,169.8 126.0,168.0 C130.3,166.2 134.7,163.3 138.0,161.0 C141.3,158.7 142.3,156.0 146.0,154.0 C149.7,152.0 154.7,149.3 160.0,149.0 C165.3,148.7 171.3,151.3 178.0,152.0 C184.7,152.7 196.3,152.8 200.0,153.0" fill="none" stroke="#000" stroke-width="0.45" opacity="0.85"/>
<path d="M424.0,128.0 C424.5,125.3 426.7,117.0 427.0,112.0 C427.3,107.0 425.8,102.3 426.0,98.0 C426.2,93.7 426.3,89.7 428.0,86.0 C429.7,82.3 432.7,79.3 436.0,76.0 C439.3,72.7 443.7,69.3 448.0,66.0 C452.3,62.7 457.7,59.3 462.0,56.0 C466.3,52.7 472.0,47.7 474.0,46.0" fill="none" stroke="#000" stroke-width="0.45" opacity="0.85"/>
<path d="M60.0,330.0 C60.5,333.3 62.7,343.3 63.0,350.0 C63.3,356.7 61.5,363.7 62.0,370.0 C62.5,376.3 65.3,385.0 66.0,388.0" fill="none" stroke="#000" stroke-width="0.45" opacity="0.85"/>
<path d="M36.0,240.0 C38.3,239.3 45.0,238.3 50.0,236.0 C55.0,233.7 61.0,229.0 66.0,226.0 C71.0,223.0 77.7,219.3 80.0,218.0" fill="none" stroke="#000" stroke-width="0.45" opacity="0.85"/>
<path d="M86.0,300.0 C88.3,300.8 94.7,303.0 100.0,305.0 C105.3,307.0 111.3,310.2 118.0,312.0 C124.7,313.8 133.0,316.0 140.0,316.0 C147.0,316.0 154.0,312.0 160.0,312.0 C166.0,312.0 173.3,315.3 176.0,316.0" fill="none" stroke="#000" stroke-width="0.45" opacity="0.85"/>
<path d="M215.0,142.0 C216.5,141.3 221.5,140.0 224.0,138.0 C226.5,136.0 227.7,131.8 230.0,130.0 C232.3,128.2 234.7,127.8 238.0,127.0 C241.3,126.2 245.7,125.2 250.0,125.0 C254.3,124.8 259.7,125.7 264.0,126.0 C268.3,126.3 272.3,126.3 276.0,127.0 C279.7,127.7 283.0,129.3 286.0,130.0 C289.0,130.7 291.7,131.3 294.0,131.0 C296.3,130.7 297.7,127.8 300.0,128.0 C302.3,128.2 305.3,130.5 308.0,132.0 C310.7,133.5 312.3,135.8 316.0,137.0 C319.7,138.2 324.3,138.5 330.0,139.0 C335.7,139.5 344.3,140.5 350.0,140.0 C355.7,139.5 360.3,136.8 364.0,136.0 C367.7,135.2 370.5,135.5 372.0,135.0 C373.5,134.5 375.0,133.7 373.0,133.0 C371.0,132.3 363.0,131.8 360.0,131.0 C357.0,130.2 354.3,129.5 355.0,128.0 C355.7,126.5 360.8,123.8 364.0,122.0 C367.2,120.2 371.3,118.7 374.0,117.0 C376.7,115.3 377.7,113.5 380.0,112.0 C382.3,110.5 385.7,109.0 388.0,108.0 C390.3,107.0 394.0,107.3 394.0,106.0 C394.0,104.7 389.7,101.5 388.0,100.0 C386.3,98.5 386.0,97.2 384.0,97.0 C382.0,96.8 378.3,98.2 376.0,99.0 C373.7,99.8 371.3,102.2 370.0,102.0 C368.7,101.8 367.3,99.3 368.0,98.0 C368.7,96.7 372.0,95.3 374.0,94.0 C376.0,92.7 378.7,91.7 380.0,90.0 C381.3,88.3 382.7,84.7 382.0,84.0 C381.3,83.3 378.3,85.0 376.0,86.0 C373.7,87.0 370.3,90.0 368.0,90.0 C365.7,90.0 364.0,87.3 362.0,86.0 C360.0,84.7 357.3,83.2 356.0,82.0 C354.7,80.8 352.3,80.3 354.0,79.0 C355.7,77.7 362.3,75.8 366.0,74.0 C369.7,72.2 373.3,70.3 376.0,68.0 C378.7,65.7 381.3,62.0 382.0,60.0 C382.7,58.0 379.7,57.3 380.0,56.0 C380.3,54.7 382.3,52.3 384.0,52.0 C385.7,51.7 388.3,53.0 390.0,54.0 C391.7,55.0 392.3,56.5 394.0,58.0 C395.7,59.5 397.7,61.6 400.0,63.0 C402.3,64.4 405.3,66.5 408.0,66.5 C410.7,66.5 413.8,64.6 416.0,63.0 C418.2,61.4 419.5,59.2 421.0,57.0 C422.5,54.8 424.3,51.2 425.0,50.0" fill="none" stroke="#000" stroke-width="2.0" stroke-linejoin="round" stroke-linecap="round"/>
<path d="M330.0,94.0 C331.0,92.3 334.3,88.8 338.0,88.0 C341.7,87.2 348.7,88.0 352.0,89.0 C355.3,90.0 356.0,92.2 358.0,94.0 C360.0,95.8 365.3,98.8 364.0,100.0 C362.7,101.2 354.0,101.3 350.0,101.0 C346.0,100.7 343.0,98.5 340.0,98.0 C337.0,97.5 333.7,98.7 332.0,98.0 C330.3,97.3 329.0,95.7 330.0,94.0Z" fill="none" stroke="#000" stroke-width="2.0" stroke-linejoin="round" stroke-linecap="round"/>
<path d="M30.8,208.0 C32.0,208.2 35.8,209.3 38.0,209.2 C40.2,209.1 42.0,207.4 44.0,207.4 C46.0,207.4 48.2,209.7 50.0,209.2 C51.8,208.7 53.6,205.8 55.0,204.4 C56.4,203.0 57.2,200.6 58.6,200.8 C60.0,201.0 61.9,204.4 63.5,205.6 C65.1,206.8 66.9,208.4 68.3,208.0 C69.7,207.6 70.6,204.8 72.0,203.2 C73.4,201.6 75.0,199.0 76.8,198.3 C78.6,197.6 80.8,199.0 82.8,199.0 C84.8,199.0 86.8,198.3 88.8,198.3 C90.8,198.3 92.9,199.0 94.9,199.0 C96.9,199.0 99.6,198.6 101.0,198.3 C102.4,198.0 103.0,196.6 103.3,197.0 C103.6,197.4 103.5,200.0 102.7,200.8 C101.9,201.6 100.0,202.0 98.5,202.0 C97.0,202.0 95.3,200.8 93.7,200.8 C92.1,200.8 90.2,201.4 88.8,202.0 C87.4,202.6 85.2,203.2 85.2,204.4 C85.2,205.6 87.6,207.8 88.8,209.2 C90.0,210.6 91.1,212.6 92.5,212.8 C93.9,213.0 95.5,211.6 97.3,210.4 C99.1,209.2 101.5,207.6 103.3,205.6 C105.1,203.6 107.0,200.9 108.2,198.3 C109.4,195.7 110.0,192.4 110.6,190.0 C111.2,187.6 112.2,185.0 111.8,183.8 C111.4,182.6 108.8,183.4 108.2,182.6 C107.6,181.8 107.4,179.6 108.2,179.0 C109.0,178.4 111.4,179.5 113.0,179.0 C114.6,178.5 116.4,177.4 117.8,176.0 C119.2,174.6 120.1,172.0 121.5,170.5 C122.9,169.0 124.5,168.0 126.3,167.0 C128.1,166.0 130.7,165.7 132.3,164.5 C133.9,163.3 134.6,160.9 136.0,159.7 C137.4,158.5 139.1,157.8 140.8,157.3 C142.5,156.8 142.8,156.5 146.0,156.6 C149.2,156.7 156.3,158.1 160.0,158.0 C163.7,157.9 164.7,156.5 168.0,156.0 C171.3,155.5 176.3,154.8 180.0,155.0 C183.7,155.2 185.7,157.0 190.0,157.5 C194.3,158.0 201.0,157.6 206.0,158.0 C211.0,158.4 215.0,159.8 220.0,160.0 C225.0,160.2 231.3,159.0 236.0,159.0 C240.7,159.0 245.0,159.2 248.0,160.0 C251.0,160.8 254.3,162.5 254.0,164.0 C253.7,165.5 248.0,167.8 246.0,169.0 C244.0,170.2 241.7,170.8 242.0,171.0 C242.3,171.2 245.0,170.8 248.0,170.0 C251.0,169.2 256.3,166.5 260.0,166.0 C263.7,165.5 267.3,167.2 270.0,167.0 C272.7,166.8 273.7,165.0 276.0,165.0 C278.3,165.0 281.3,166.2 284.0,167.0 C286.7,167.8 288.7,169.5 292.0,170.0 C295.3,170.5 301.0,170.3 304.0,170.0 C307.0,169.7 307.3,168.2 310.0,168.0 C312.7,167.8 318.0,168.5 320.0,169.0 C322.0,169.5 323.7,170.5 322.0,171.0 C320.3,171.5 313.0,171.2 310.0,172.0 C307.0,172.8 306.0,174.8 304.0,176.0 C302.0,177.2 302.0,178.3 298.0,179.0 C294.0,179.7 285.0,180.2 280.0,180.0 C275.0,179.8 272.0,178.2 268.0,178.0 C264.0,177.8 258.3,179.2 256.0,179.0 C253.7,178.8 255.7,177.2 254.0,177.0 C252.3,176.8 248.7,177.5 246.0,178.0 C243.3,178.5 241.0,179.5 238.0,180.0 C235.0,180.5 231.3,181.0 228.0,181.0 C224.7,181.0 221.3,179.8 218.0,180.0 C214.7,180.2 211.3,181.2 208.0,182.0 C204.7,182.8 201.0,184.0 198.0,185.0 C195.0,186.0 192.7,186.8 190.0,188.0 C187.3,189.2 185.0,190.7 182.0,192.0 C179.0,193.3 175.0,195.0 172.0,196.0 C169.0,197.0 166.3,197.3 164.0,198.0 C161.7,198.7 159.7,198.3 158.0,200.0 C156.3,201.7 155.7,205.0 154.0,208.0 C152.3,211.0 149.0,215.0 148.0,218.0 C147.0,221.0 149.0,223.7 148.0,226.0 C147.0,228.3 143.3,230.0 142.0,232.0 C140.7,234.0 141.3,236.7 140.0,238.0 C138.7,239.3 135.8,239.2 134.0,240.0 C132.2,240.8 131.2,242.5 129.0,243.0 C126.8,243.5 122.2,241.8 121.0,243.0 C119.8,244.2 122.8,248.8 122.0,250.0 C121.2,251.2 118.3,249.3 116.0,250.0 C113.7,250.7 110.3,252.3 108.0,254.0 C105.7,255.7 104.3,258.3 102.0,260.0 C99.7,261.7 97.0,262.8 94.0,264.0 C91.0,265.2 85.0,265.7 84.0,267.0 C83.0,268.3 86.0,270.3 88.0,272.0 C90.0,273.7 96.0,275.8 96.0,277.0 C96.0,278.2 90.5,278.3 88.0,279.0 C85.5,279.7 82.7,279.2 81.0,281.0 C79.3,282.8 78.9,287.0 78.0,290.0 C77.1,293.0 76.7,295.9 75.5,298.8 C74.3,301.7 73.0,305.0 71.0,307.6 C69.0,310.2 65.8,312.2 63.4,314.2 C61.0,316.2 58.3,320.1 56.8,319.7 C55.3,319.3 55.7,313.3 54.6,312.0 C53.5,310.7 50.4,310.9 50.2,312.0 C50.0,313.1 52.8,316.4 53.5,318.6 C54.2,320.8 55.0,323.4 54.6,325.2 C54.2,327.0 51.5,327.8 51.3,329.6 C51.1,331.4 52.6,334.6 53.5,336.2 C54.4,337.8 57.0,338.4 56.8,339.5 C56.6,340.6 52.8,341.1 52.4,342.7 C52.0,344.3 54.4,347.3 54.6,349.3 C54.8,351.3 52.8,353.3 53.5,354.8 C54.2,356.3 57.9,356.6 59.0,358.1 C60.1,359.6 60.7,362.5 60.0,363.6 C59.3,364.7 55.1,363.4 54.6,364.7 C54.1,366.0 57.3,369.3 56.8,371.3 C56.2,373.3 52.0,375.0 51.3,376.8 C50.6,378.6 51.7,380.3 52.4,382.3 C53.1,384.3 55.7,386.9 55.7,388.9 C55.7,390.9 52.6,392.6 52.4,394.4 C52.2,396.2 55.2,398.2 54.6,399.9 C54.0,401.5 50.6,403.6 49.0,404.3 C47.4,405.0 45.4,404.3 44.7,404.3" fill="none" stroke="#000" stroke-width="2.1" stroke-linejoin="round" stroke-linecap="round"/>
<path d="M122.0,252.0 C124.7,252.7 129.0,257.3 132.0,260.0 C135.0,262.7 137.3,265.7 140.0,268.0 C142.7,270.3 145.3,273.5 148.0,274.0 C150.7,274.5 154.0,270.5 156.0,271.0 C158.0,271.5 159.0,275.2 160.0,277.0 C161.0,278.8 162.7,281.3 162.0,282.0 C161.3,282.7 157.7,280.3 156.0,281.0 C154.3,281.7 153.2,286.2 152.0,286.0 C150.8,285.8 149.7,281.8 149.0,280.0 C148.3,278.2 149.8,275.8 148.0,275.0 C146.2,274.2 141.3,274.5 138.0,275.0 C134.7,275.5 131.3,277.3 128.0,278.0 C124.7,278.7 121.0,279.7 118.0,279.0 C115.0,278.3 112.5,275.8 110.0,274.0 C107.5,272.2 103.3,270.0 103.0,268.0 C102.7,266.0 105.8,264.0 108.0,262.0 C110.2,260.0 113.7,257.7 116.0,256.0 C118.3,254.3 119.3,251.3 122.0,252.0Z" fill="none" stroke="#000" stroke-width="2.0" stroke-linejoin="round" stroke-linecap="round"/>
<path d="M63.4,365.8 C65.4,366.7 72.6,374.4 73.3,376.8 C74.0,379.2 69.6,378.7 67.8,380.0 C66.0,381.3 63.6,384.8 62.3,384.5 C61.0,384.2 60.2,380.2 60.0,378.0 C59.8,375.8 60.6,373.3 61.2,371.3 C61.8,369.3 61.4,364.9 63.4,365.8Z" fill="none" stroke="#000" stroke-width="1.9" stroke-linejoin="round" stroke-linecap="round"/>
<path d="M56.8,397.7 C58.1,397.3 61.8,396.2 64.5,395.5 C67.2,394.8 70.9,392.9 73.3,393.3 C75.7,393.7 77.4,395.9 78.7,397.7 C80.0,399.5 80.5,402.6 81.0,404.3 C81.5,406.0 81.8,407.4 82.0,408.0" fill="none" stroke="#000" stroke-width="1.9" stroke-linejoin="round" stroke-linecap="round"/>
<ellipse cx="81" cy="386.7" rx="1.6" ry="3.6" transform="rotate(-25 81 386.7)" fill="#000"/>
<ellipse cx="92" cy="400" rx="2.6" ry="1.8" fill="none" stroke="#000" stroke-width="1.6"/>
<path d="M477.0,127.4 C476.4,128.1 474.8,130.4 473.5,131.8 C472.2,133.2 469.9,134.2 469.0,136.0 C468.1,137.8 468.5,140.8 468.0,142.8 C467.5,144.8 466.2,146.5 466.0,148.0 C465.8,149.5 466.6,150.1 466.9,152.0 C467.2,153.9 467.3,156.8 468.0,159.3 C468.7,161.8 470.2,164.4 471.3,167.0 C472.4,169.6 473.9,172.1 474.6,174.7 C475.3,177.3 475.9,180.0 475.7,182.4 C475.5,184.8 474.2,186.8 473.5,189.0 C472.8,191.2 471.9,193.3 471.3,195.6 C470.7,197.9 470.9,199.6 470.0,203.0 C469.1,206.4 467.7,210.5 466.0,216.0 C464.3,221.5 461.7,230.3 460.0,236.0 C458.3,241.7 456.3,246.0 456.0,250.0 C455.7,254.0 457.0,258.0 458.0,260.0 C459.0,262.0 460.0,262.5 462.0,262.0 C464.0,261.5 467.3,258.0 470.0,257.0 C472.7,256.0 476.7,256.2 478.0,256.0" fill="none" stroke="#000" stroke-width="2.0" stroke-linejoin="round" stroke-linecap="round"/>
<path d="M446.0,268.0 C447.5,267.5 450.3,268.3 452.0,270.0 C453.7,271.7 456.3,276.3 456.0,278.0 C455.7,279.7 452.2,280.0 450.0,280.0 C447.8,280.0 444.2,279.2 443.0,278.0 C441.8,276.8 442.5,274.7 443.0,273.0 C443.5,271.3 444.5,268.5 446.0,268.0Z" fill="none" stroke="#000" stroke-width="1.9" stroke-linejoin="round" stroke-linecap="round"/>
<path d="M477.0,280.0 L477.0,294.0" fill="none" stroke="#000" stroke-width="2.2" stroke-linejoin="round" stroke-linecap="round"/>
<ellipse cx="344" cy="66" rx="6" ry="1.6" transform="rotate(-5 344 66)" fill="none" stroke="#000" stroke-width="1.7"/>
<ellipse cx="276.5" cy="115" rx="6.2" ry="1.8" transform="rotate(5 276.5 115)" fill="none" stroke="#000" stroke-width="1.7"/>
<ellipse cx="353.5" cy="175.5" rx="6.5" ry="2" transform="rotate(-3 353.5 175.5)" fill="none" stroke="#000" stroke-width="1.7"/>
<ellipse cx="335.5" cy="180" rx="3.2" ry="1.8" transform="rotate(15 335.5 180)" fill="none" stroke="#000" stroke-width="1.7"/>
<ellipse cx="193" cy="193" rx="2.6" ry="1.8" transform="rotate(-20 193 193)" fill="none" stroke="#000" stroke-width="1.7"/>
<ellipse cx="87" cy="169.3" rx="3" ry="1.7" transform="rotate(-25 87 169.3)" fill="none" stroke="#000" stroke-width="1.7"/>
<ellipse cx="90" cy="180.8" rx="3.6" ry="2.3" transform="rotate(-35 90 180.8)" fill="none" stroke="#000" stroke-width="1.7"/>
<circle cx="305.6" cy="118" r="1.0" fill="#000"/>
<circle cx="277.5" cy="162" r="2.0" fill="#000"/>
<circle cx="111.2" cy="168" r="1.5" fill="#000"/>
<circle cx="96" cy="191.7" r="1.6" fill="#000"/>
<circle cx="99" cy="179" r="1.0" fill="#000"/>
<circle cx="327.5" cy="181.5" r="1.2" fill="#000"/>
<circle cx="210" cy="186" r="1.3" fill="#000"/>
<circle cx="217" cy="183.5" r="1.0" fill="#000"/>
<circle cx="229" cy="182" r="1.0" fill="#000"/>
<circle cx="158" cy="196.5" r="1.2" fill="#000"/>
<circle cx="139.5" cy="226" r="1.2" fill="#000"/>
<circle cx="138.5" cy="232" r="0.9" fill="#000"/>
<circle cx="154" cy="301" r="1.0" fill="#000"/>
<path d="M373.0,40.0 C373.7,39.2 376.7,40.7 378.0,42.0 C379.3,43.3 381.0,46.3 381.0,48.0 C381.0,49.7 379.2,52.2 378.0,52.0 C376.8,51.8 374.8,49.0 374.0,47.0 C373.2,45.0 372.3,40.8 373.0,40.0Z" fill="none" stroke="#000" stroke-width="1.6" stroke-linejoin="round" stroke-linecap="round"/>
<path d="M382.0,50.0 C382.7,49.8 386.3,54.3 388.0,56.0 C389.7,57.7 391.7,59.0 392.0,60.0 C392.3,61.0 391.3,62.5 390.0,62.0 C388.7,61.5 385.3,59.0 384.0,57.0 C382.7,55.0 381.3,50.2 382.0,50.0Z" fill="none" stroke="#000" stroke-width="1.5" stroke-linejoin="round" stroke-linecap="round"/>
<path d="M360.0,60.0 C360.7,60.2 363.7,60.3 364.0,61.0 C364.3,61.7 362.3,63.5 362.0,64.0" fill="none" stroke="#000" stroke-width="1.8" stroke-linejoin="round" stroke-linecap="round"/>
<path d="M426.0,34.0 C426.5,33.0 428.8,31.7 430.0,32.0 C431.2,32.3 431.7,35.8 433.0,36.0 C434.3,36.2 437.5,32.5 438.0,33.0 C438.5,33.5 437.3,37.8 436.0,39.0 C434.7,40.2 431.5,40.2 430.0,40.0 C428.5,39.8 427.7,39.0 427.0,38.0 C426.3,37.0 425.5,35.0 426.0,34.0Z" fill="none" stroke="#000" stroke-width="1.7" stroke-linejoin="round" stroke-linecap="round"/>
<path d="M430.0,44.0 C430.5,42.8 431.5,42.0 432.0,43.0 C432.5,44.0 433.2,48.2 433.0,50.0 C432.8,51.8 431.7,54.0 431.0,54.0 C430.3,54.0 429.2,51.7 429.0,50.0 C428.8,48.3 429.5,45.2 430.0,44.0Z" fill="none" stroke="#000" stroke-width="1.6" stroke-linejoin="round" stroke-linecap="round"/>
<path d="M424.0,36.0 C424.7,36.8 427.8,39.8 428.0,41.0 C428.2,42.2 425.5,42.7 425.0,43.0" fill="none" stroke="#000" stroke-width="1.8" stroke-linejoin="round" stroke-linecap="round"/>
<path d="M458.0,122.0 C458.6,121.2 460.7,120.5 462.0,121.0 C463.3,121.5 465.2,123.5 466.0,125.0 C466.8,126.5 467.5,129.0 467.0,130.0 C466.5,131.0 464.0,131.5 463.0,131.0 C462.0,130.5 461.8,127.8 461.0,127.0 C460.2,126.2 459.0,126.8 458.5,126.0 C458.0,125.2 457.4,122.8 458.0,122.0Z" fill="#000"/>
<circle cx="439.5" cy="40" r="1.6" fill="#000"/>
<circle cx="455" cy="123" r="0.9" fill="#000"/>
<circle cx="454.5" cy="150.5" r="0.9" fill="#000"/>
<circle cx="459" cy="150" r="1.0" fill="#000"/>
<circle cx="466" cy="41.5" r="1.2" fill="#000"/>
<circle cx="384" cy="31" r="1.5" fill="#000"/>
<circle cx="381" cy="38" r="1.0" fill="#000"/>
<path d="M395.4,106.5 C396.0,107.1 397.6,108.8 399.0,110.0 C400.4,111.2 402.8,113.0 403.6,113.6" fill="none" stroke="#000" stroke-width="1.8" stroke-linejoin="round" stroke-linecap="round"/>
<path d="M163.0,88.0 C162.2,88.7 158.5,90.5 158.0,92.0 C157.5,93.5 160.7,95.7 160.0,97.0 C159.3,98.3 154.7,98.7 154.0,100.0 C153.3,101.3 156.7,103.7 156.0,105.0 C155.3,106.3 150.8,106.7 150.0,108.0 C149.2,109.3 151.7,111.5 151.0,113.0 C150.3,114.5 147.3,115.8 146.0,117.0 C144.7,118.2 144.3,119.2 143.0,120.0 C141.7,120.8 140.2,120.7 138.0,122.0 C135.8,123.3 131.3,127.0 130.0,128.0" fill="none" stroke="#000" stroke-width="2.0" stroke-linejoin="round" stroke-linecap="round"/>
<path d="M166.0,108.0 C166.2,108.7 167.3,110.8 167.5,112.0 C167.7,113.2 166.6,114.7 167.0,115.5 C167.4,116.3 169.2,116.3 170.0,117.0 C170.8,117.7 171.2,118.9 172.0,119.5 C172.8,120.1 174.1,119.9 175.0,120.5 C175.9,121.1 176.6,122.2 177.5,123.0 C178.4,123.8 179.8,124.0 180.5,125.0 C181.2,126.0 181.8,128.3 182.0,129.0" fill="none" stroke="#000" stroke-width="1.7" stroke-linejoin="round" stroke-linecap="round"/>
<path d="M276.8,54.2 C277.4,54.4 279.2,55.1 280.3,55.2 C281.4,55.3 282.3,54.4 283.3,54.7 C284.3,55.0 285.6,56.1 286.3,57.2 C287.0,58.3 287.2,60.1 287.3,61.3 C287.4,62.5 287.3,63.5 286.8,64.3 C286.3,65.1 285.0,65.3 284.3,66.3 C283.6,67.3 283.3,69.0 282.8,70.3 C282.3,71.5 281.6,73.2 281.3,73.8" fill="none" stroke="#000" stroke-width="1.6" stroke-linejoin="round" stroke-linecap="round"/>
<path d="M280.3,55.2 C280.2,56.1 279.5,59.2 279.8,60.3 C280.1,61.4 281.1,61.5 282.3,61.8 C283.5,62.1 286.1,62.2 286.8,62.3" fill="none" stroke="#000" stroke-width="1.4" stroke-linejoin="round" stroke-linecap="round"/>
<path d="M45.0,81.0 C45.8,80.8 48.2,80.2 50.0,80.0 C51.8,79.8 54.0,79.8 56.0,79.5 C58.0,79.2 60.3,78.1 62.0,78.0 C63.7,77.9 65.0,78.0 66.0,79.0 C67.0,80.0 67.5,82.2 68.0,84.0 C68.5,85.8 69.3,88.0 69.0,90.0 C68.7,92.0 66.3,94.3 66.0,96.0 C65.7,97.7 67.7,98.8 67.0,100.0 C66.3,101.2 63.8,102.3 62.0,103.0 C60.2,103.7 58.0,103.7 56.0,104.0 C54.0,104.3 52.0,104.7 50.0,105.0 C48.0,105.3 46.0,106.2 44.0,106.0 C42.0,105.8 39.0,104.3 38.0,104.0" fill="none" stroke="#000" stroke-width="1.5" stroke-linejoin="round" stroke-linecap="round"/>
<path d="M40.2,400.4L39.1,394.2M38.1,397.1L39.1,394.2L40.9,396.5M48.9,400.0L48.0,394.6M47.0,397.4L48.0,394.6L49.8,397.0M58.0,398.8L56.5,395.8M56.4,398.8L56.5,395.8L59.0,397.6M67.3,398.4L64.8,396.2M65.8,399.0L64.8,396.2L67.7,396.9M76.4,398.6L73.4,396.0M74.5,398.8L73.4,396.0L76.3,396.6M85.5,399.0L81.9,395.6M82.9,398.5L81.9,395.6L84.8,396.4M94.4,398.5L90.7,396.1M92.1,398.7L90.7,396.1L93.7,396.3M103.7,398.9L99.0,395.7M100.4,398.4L99.0,395.7L102.0,396.0M112.5,398.2L107.9,396.4M109.8,398.7L107.9,396.4L110.9,396.0M121.6,398.2L116.4,396.4M118.4,398.6L116.4,396.4L119.4,395.9M130.3,398.1L125.4,396.5M127.5,398.7L125.4,396.5L128.3,395.9M139.7,397.4L133.6,397.2M136.2,398.7L133.6,397.2L136.3,395.9M150.3,396.9L140.6,397.7M143.3,398.9L140.6,397.7L143.1,396.0M159.2,396.0L149.4,398.6M152.3,399.3L149.4,398.6L151.6,396.5M167.8,395.9L158.4,398.7M161.3,399.3L158.4,398.7L160.5,396.6M176.0,395.9L167.8,398.7M170.8,399.2L167.8,398.7L169.9,396.5M184.5,396.1L177.0,398.5M179.9,399.1L177.0,398.5L179.0,396.3M193.3,396.1L185.8,398.5M188.7,399.1L185.8,398.5L187.9,396.3M201.3,396.2L195.4,398.4M198.4,398.8L195.4,398.4L197.4,396.2M210.0,396.3L204.4,398.3M207.3,398.8L204.4,398.3L206.3,396.1M218.4,396.7L213.6,397.9M216.5,398.7L213.6,397.9L215.8,395.9M226.7,396.6L223.0,398.0M225.9,398.4L223.0,398.0L224.9,395.7M235.7,396.9L231.7,397.7M234.5,398.6L231.7,397.7L233.9,395.8M244.1,396.8L240.9,397.8M243.8,398.4L240.9,397.8L242.9,395.6M252.6,397.3L250.0,397.3M252.7,398.7L250.0,397.3L252.6,395.8M261.0,397.5L259.2,397.1M261.5,399.0L259.2,397.1L262.0,396.2M270.1,397.1L267.8,397.5M270.6,398.4L267.8,397.5L270.1,395.6M279.0,397.3L276.5,397.3M279.2,398.7L276.5,397.3L279.1,395.8M287.8,397.2L285.4,397.4M288.2,398.6L285.4,397.4L287.9,395.7M296.0,397.3L294.8,397.3M297.5,398.6L294.8,397.3L297.4,395.7M304.6,397.5L303.8,397.1M305.8,399.4L303.8,397.1L306.8,396.7M313.5,397.3L312.6,397.3M315.3,398.6L312.6,397.3L315.1,395.7M322.3,397.4L321.4,397.2M323.8,399.0L321.4,397.2L324.2,396.2M330.9,397.0L330.4,397.6M333.3,396.5L330.4,397.6L331.1,394.6M339.9,397.2L339.1,397.4M341.9,398.4L339.1,397.4L341.4,395.5M349.0,397.2L347.6,397.4M350.5,398.5L347.6,397.4L350.1,395.6M357.3,397.0L356.9,397.6M359.6,396.3L356.9,397.6L357.3,394.6M366.0,397.5L365.9,397.1M365.5,400.1L365.9,397.1L368.2,399.1M375.2,397.2L374.4,397.4M377.2,398.3L374.4,397.4L376.7,395.5M384.2,397.4L383.0,397.2M385.4,399.0L383.0,397.2L385.8,396.1M393.0,397.6L391.9,397.0M393.4,399.6L391.9,397.0L394.9,397.1M401.8,397.2L400.6,397.4M403.5,398.3L400.6,397.4L402.9,395.5M410.6,397.5L409.5,397.1M411.4,399.4L409.5,397.1L412.5,396.7M419.3,397.1L418.5,397.5M421.5,397.5L418.5,397.5L420.1,395.0M428.3,397.4L427.1,397.2M429.5,399.0L427.1,397.2L429.9,396.2M436.8,397.1L436.3,397.5M439.2,397.0L436.3,397.5L437.4,394.7M445.4,397.1L445.3,397.5M447.5,395.5L445.3,397.5L444.8,394.5M454.6,397.4L453.7,397.2M455.9,399.2L453.7,397.2L456.6,396.4M463.4,397.1L462.6,397.5M465.6,397.5L462.6,397.5L464.2,395.0M471.8,397.6L471.8,397.0M470.2,399.5L471.8,397.0L473.1,399.7M40.3,390.0L39.0,383.6M38.1,386.5L39.0,383.6L40.9,385.9M49.2,389.4L47.7,384.2M47.0,387.1L47.7,384.2L49.8,386.3M57.9,388.6L56.6,385.0M56.1,387.9L56.6,385.0L58.9,387.0M67.4,388.3L64.8,385.3M65.5,388.3L64.8,385.3L67.6,386.4M76.2,388.3L73.6,385.3M74.2,388.2L73.6,385.3L76.4,386.4M84.9,388.4L82.6,385.2M82.9,388.2L82.6,385.2L85.3,386.5M94.3,388.5L90.8,385.1M91.6,387.9L90.8,385.1L93.7,385.9M103.3,388.9L99.4,384.7M100.2,387.6L99.4,384.7L102.3,385.7M112.2,388.1L108.1,385.5M109.6,388.1L108.1,385.5L111.1,385.7M121.3,387.7L116.7,385.9M118.7,388.2L116.7,385.9L119.7,385.5M130.6,387.4L125.0,386.2M127.3,388.2L125.0,386.2L127.9,385.3M139.9,386.6L133.4,387.0M136.1,388.3L133.4,387.0L136.0,385.4M149.2,386.4L141.7,387.2M144.5,388.4L141.7,387.2L144.2,385.5M158.0,385.8L150.6,387.8M153.5,388.5L150.6,387.8L152.8,385.7M166.5,385.5L159.7,388.1M162.6,388.5L159.7,388.1L161.6,385.8M175.4,385.3L168.4,388.3M171.4,388.6L168.4,388.3L170.3,386.0M184.0,385.1L177.5,388.5M180.5,388.5L177.5,388.5L179.2,386.0M192.6,384.9L186.5,388.7M189.5,388.6L186.5,388.7L187.9,386.1M200.9,385.6L195.9,388.0M198.9,388.1L195.9,388.0L197.6,385.6M209.7,385.7L204.7,387.9M207.7,388.2L204.7,387.9L206.5,385.5M218.3,386.1L213.7,387.5M216.7,388.1L213.7,387.5L215.9,385.4M226.7,385.8L223.0,387.8M226.0,387.8L223.0,387.8L224.6,385.3M235.7,386.3L231.7,387.3M234.6,388.1L231.7,387.3L233.9,385.3M244.7,386.7L240.3,386.9M243.0,388.2L240.3,386.9L242.9,385.3M253.3,386.7L249.3,386.9M252.0,388.2L249.3,386.9L251.9,385.3M261.7,386.9L258.6,386.7M261.1,388.3L258.6,386.7L261.3,385.4M271.0,386.4L266.9,387.2M269.8,388.1L266.9,387.2L269.2,385.3M279.4,387.0L276.1,386.6M278.6,388.3L276.1,386.6L278.9,385.5M288.1,387.1L285.0,386.5M287.4,388.4L285.0,386.5L287.9,385.6M296.8,386.4L294.0,387.2M296.9,387.9L294.0,387.2L296.2,385.1M305.3,386.6L303.1,387.0M306.0,388.0L303.1,387.0L305.5,385.2M314.4,386.9L311.7,386.7M314.2,388.3L311.7,386.7L314.4,385.4M323.1,386.6L320.6,387.0M323.4,388.0L320.6,387.0L323.0,385.2M331.6,386.6L329.8,387.0M332.7,387.9L329.8,387.0L332.1,385.0M340.4,387.0L338.6,386.6M340.8,388.6L338.6,386.6L341.5,385.8M348.7,386.5L348.0,387.1M350.9,386.4L348.0,387.1L349.0,384.3M357.2,386.6L357.0,387.0M359.6,385.4L357.0,387.0L357.1,384.0M366.0,386.7L365.9,386.9M368.5,385.5L365.9,386.9L366.1,383.9M375.3,386.8L374.3,386.8M376.8,388.4L374.3,386.8L377.0,385.5M384.0,387.2L383.2,386.4M384.1,389.3L383.2,386.4L386.1,387.2M393.1,387.0L391.8,386.6M393.9,388.8L391.8,386.6L394.7,386.0M401.7,386.7L400.8,386.9M403.6,387.8L400.8,386.9L403.1,385.0M410.0,386.9L410.1,386.7M408.1,389.0L410.1,386.7L410.9,389.6M418.9,386.5L418.9,387.1M420.3,384.4L418.9,387.1L417.4,384.5M427.7,386.9L427.7,386.7M426.0,389.1L427.7,386.7L428.8,389.4M437.0,387.0L436.0,386.6M437.8,389.0L436.0,386.6L439.0,386.4M445.9,387.1L444.8,386.5M446.5,389.0L444.8,386.5L447.8,386.4M454.4,386.6L453.9,387.0M456.8,386.1L453.9,387.0L454.7,384.1M463.0,386.9L462.9,386.7M463.7,389.6L462.9,386.7L465.8,387.6M472.0,386.6L471.6,387.0M474.6,386.4L471.6,387.0L472.7,384.2M40.3,379.3L38.9,373.3M38.1,376.2L38.9,373.3L40.9,375.5M48.6,378.9L48.2,373.7M47.0,376.4L48.2,373.7L49.9,376.2M57.7,378.2L56.8,374.4M56.0,377.3L56.8,374.4L58.8,376.6M67.1,377.7L65.0,374.9M65.4,377.8L65.0,374.9L67.7,376.1M76.0,377.9L73.8,374.7M74.1,377.6L73.8,374.7L76.4,376.0M84.6,378.4L82.8,374.2M82.5,377.1L82.8,374.2L85.2,376.0M94.1,378.2L91.0,374.4M91.6,377.4L91.0,374.4L93.8,375.5M103.0,378.6L99.8,374.0M100.1,377.0L99.8,374.0L102.4,375.3M112.4,378.3L107.9,374.3M108.9,377.1L107.9,374.3L110.8,375.0M120.9,377.4L117.1,375.2M118.7,377.8L117.1,375.2L120.1,375.3M130.4,376.7L125.3,375.9M127.7,377.7L125.3,375.9L128.1,374.9M138.6,376.1L134.6,376.5M137.4,377.7L134.6,376.5L137.1,374.8M147.9,375.5L143.0,377.1M146.0,377.6L143.0,377.1L145.1,374.9M156.7,375.2L151.8,377.4M154.8,377.6L151.8,377.4L153.7,375.0M164.8,374.4L161.4,378.2M164.2,377.2L161.4,378.2L162.1,375.3M173.7,374.0L170.2,378.6M172.9,377.4L170.2,378.6L170.6,375.7M182.3,374.0L179.2,378.6M181.8,377.3L179.2,378.6L179.5,375.6M190.7,374.6L188.5,378.0M191.1,376.6L188.5,378.0L188.7,375.0M199.7,374.8L197.1,377.8M199.9,376.8L197.1,377.8L197.7,374.9M208.3,374.9L206.1,377.7M208.8,376.6L206.1,377.7L206.6,374.7M217.0,375.3L215.0,377.3M217.9,376.5L215.0,377.3L215.9,374.4M225.9,375.3L223.8,377.3M226.7,376.5L223.8,377.3L224.7,374.4M234.5,375.8L232.9,376.8M235.9,376.7L232.9,376.8L234.4,374.2M243.1,375.7L241.9,376.9M244.8,376.1L241.9,376.9L242.8,374.0M252.0,375.8L250.6,376.8M253.6,376.6L250.6,376.8L252.0,374.1M260.8,376.2L259.4,376.4M262.3,377.4L259.4,376.4L261.8,374.5M269.6,376.6L268.2,376.0M270.1,378.3L268.2,376.0L271.2,375.7M278.6,376.5L277.0,376.1M279.2,378.1L277.0,376.1L279.9,375.3M287.7,376.1L285.5,376.5M288.3,377.4L285.5,376.5L287.8,374.6M296.4,376.3L294.4,376.3M297.0,377.8L294.4,376.3L297.1,374.9M304.8,376.3L303.6,376.3M306.3,377.7L303.6,376.3L306.2,374.8M313.9,376.3L312.2,376.3M314.8,377.8L312.2,376.3L314.8,374.9M322.5,376.1L321.2,376.5M324.1,377.2L321.2,376.5L323.4,374.4M331.6,376.3L329.7,376.3M332.4,377.7L329.7,376.3L332.4,374.8M340.3,376.5L338.7,376.1M340.9,378.1L338.7,376.1L341.6,375.3M348.6,376.3L348.0,376.3M350.5,378.0L348.0,376.3L350.8,375.2M357.4,376.2L356.9,376.4M359.9,376.6L356.9,376.4L358.6,374.0M366.0,376.4L365.9,376.2M364.9,379.0L365.9,376.2L367.7,378.6M375.0,376.3L374.6,376.3M376.8,378.2L374.6,376.3L377.4,375.4M383.9,376.2L383.3,376.4M386.2,377.0L383.3,376.4L385.4,374.3M392.8,376.3L392.1,376.3M394.6,377.9L392.1,376.3L394.8,375.0M401.6,376.0L400.9,376.6M403.9,376.0L400.9,376.6L402.0,373.8M410.2,376.1L409.9,376.5M412.6,375.3L409.9,376.5L410.3,373.5M418.9,376.5L418.9,376.1M417.3,378.6L418.9,376.1L420.2,378.8M428.0,376.0L427.4,376.6M430.3,375.7L427.4,376.6L428.3,373.7M436.6,376.6L436.5,376.0M435.6,378.9L436.5,376.0L438.4,378.3M445.9,376.4L444.8,376.2M447.1,378.0L444.8,376.2L447.6,375.2M454.8,376.5L453.6,376.1M455.5,378.4L453.6,376.1L456.5,375.7M463.6,376.2L462.4,376.4M465.2,377.5L462.4,376.4L464.8,374.6M471.9,376.1L471.7,376.5M474.1,374.7L471.7,376.5L471.5,373.5M40.2,368.8L39.0,362.8M38.1,365.6L39.0,362.8L40.9,365.1M48.7,369.0L48.1,362.6M47.0,365.4L48.1,362.6L49.8,365.1M57.5,367.5L57.0,364.1M56.0,366.9L57.0,364.1L58.8,366.5M66.9,367.3L65.3,364.3M65.3,367.3L65.3,364.3L67.8,365.9M75.7,367.9L74.1,363.7M73.7,366.7L74.1,363.7L76.4,365.6M84.3,367.9L83.2,363.7M82.5,366.6L83.2,363.7L85.2,365.9M93.8,368.3L91.2,363.3M91.2,366.3L91.2,363.3L93.7,365.0M102.6,368.2L100.1,363.4M100.0,366.4L100.1,363.4L102.6,365.1M111.8,367.9L108.6,363.7M109.0,366.7L108.6,363.7L111.3,364.9M120.3,367.6L117.7,364.0M118.1,367.0L117.7,364.0L120.4,365.3M129.3,366.5L126.3,365.1M128.0,367.5L126.3,365.1L129.3,364.9M138.6,365.8L134.7,365.8M137.3,367.2L134.7,365.8L137.4,364.4M146.9,364.9L144.0,366.7M147.0,366.5L144.0,366.7L145.5,364.1M156.0,363.9L152.5,367.7M155.4,366.7L152.5,367.7L153.3,364.8M164.2,363.4L162.0,368.2M164.4,366.4L162.0,368.2L161.8,365.2M173.4,363.7L170.5,367.9M173.1,366.6L170.5,367.9L170.8,364.9M182.1,363.3L179.4,368.3M181.9,366.7L179.4,368.3L179.4,365.3M190.6,363.9L188.5,367.7M191.1,366.0L188.5,367.7L188.5,364.7M199.1,363.7L197.6,367.9M199.9,365.9L197.6,367.9L197.2,365.0M207.6,364.5L206.8,367.1M208.9,365.0L206.8,367.1L206.2,364.2M216.8,364.4L215.3,367.2M217.8,365.6L215.3,367.2L215.2,364.2M225.2,364.9L224.5,366.7M226.8,364.9L224.5,366.7L224.1,363.8M234.3,365.6L233.0,366.0M235.9,366.6L233.0,366.0L235.0,363.8M242.7,365.5L242.3,366.1M245.0,365.0L242.3,366.1L242.8,363.1M251.9,365.3L250.7,366.3M253.6,365.8L250.7,366.3L251.9,363.5M260.4,365.5L259.9,366.1M262.6,364.9L259.9,366.1L260.4,363.1M269.6,365.5L268.3,366.1M271.3,366.3L268.3,366.1L270.1,363.7M278.4,365.6L277.1,366.0M280.1,366.4L277.1,366.0L279.1,363.7M286.9,365.9L286.2,365.7M288.2,367.9L286.2,365.7L289.2,365.3M295.7,365.5L295.1,366.1M298.0,365.4L295.1,366.1L296.1,363.2M304.7,366.1L303.7,365.5M305.2,368.1L303.7,365.5L306.7,365.6M313.4,366.0L312.7,365.6M314.0,368.3L312.7,365.6L315.7,366.0M322.5,366.1L321.3,365.5M323.0,367.9L321.3,365.5L324.2,365.3M331.3,366.1L330.0,365.5M332.0,367.8L330.0,365.5L333.0,365.2M340.0,366.0L339.0,365.6M341.0,367.9L339.0,365.6L342.0,365.3M348.5,366.0L348.2,365.6M348.5,368.6L348.2,365.6L350.9,366.9M357.4,366.1L356.8,365.5M357.8,368.4L356.8,365.5L359.8,366.2M366.4,366.2L365.6,365.4M366.5,368.3L365.6,365.4L368.5,366.2M375.3,366.2L374.3,365.4M375.4,368.2L374.3,365.4L377.3,366.0M383.7,365.8L383.5,365.8M385.9,367.5L383.5,365.8L386.2,364.6M392.9,365.9L391.9,365.7M394.3,367.5L391.9,365.7L394.7,364.6M401.2,366.1L401.2,365.5M399.8,368.1L401.2,365.5L402.6,368.1M410.1,365.9L410.0,365.7M410.5,368.7L410.0,365.7L412.7,366.9M419.2,365.6L418.6,366.0M421.6,365.8L418.6,366.0L420.1,363.4M428.1,365.8L427.3,365.8M429.8,367.5L427.3,365.8L430.1,364.6M436.7,365.5L436.4,366.1M438.9,364.5L436.4,366.1L436.4,363.1M445.8,365.6L444.9,366.0M447.9,366.2L444.9,366.0L446.8,363.6M454.3,365.8L454.0,365.8M456.9,366.5L454.0,365.8L456.1,363.7M463.3,366.0L462.6,365.6M464.5,368.0L462.6,365.6L465.6,365.4M472.4,366.1L471.2,365.5M472.9,368.0L471.2,365.5L474.2,365.4M40.2,358.3L39.1,352.3M38.1,355.1L39.1,352.3L41.0,354.6M48.9,358.6L48.0,352.0M46.9,354.8L48.0,352.0L49.8,354.4M57.9,357.2L56.6,353.4M56.1,356.4L56.6,353.4L58.8,355.4M66.2,357.1L66.0,353.5M64.7,356.2L66.0,353.5L67.6,356.0M75.5,357.7L74.3,352.9M73.6,355.8L74.3,352.9L76.3,355.2M84.3,357.8L83.1,352.8M82.3,355.7L83.1,352.8L85.1,355.1M93.3,357.9L91.8,352.7M91.1,355.6L91.8,352.7L93.9,354.9M102.1,357.4L100.7,353.2M100.1,356.1L100.7,353.2L102.9,355.2M110.4,357.4L109.9,353.2M108.8,356.0L109.9,353.2L111.7,355.7M119.8,356.5L118.2,354.1M118.5,357.1L118.2,354.1L120.9,355.5M128.6,356.1L127.1,354.5M127.7,357.4L127.1,354.5L129.9,355.5M137.6,355.3L135.7,355.3M138.3,356.7L135.7,355.3L138.3,353.8M146.1,354.4L144.8,356.2M147.5,354.9L144.8,356.2L145.1,353.3M155.1,353.6L153.5,357.0M155.9,355.2L153.5,357.0L153.3,354.0M164.0,353.3L162.2,357.3M164.6,355.5L162.2,357.3L162.0,354.3M172.7,353.0L171.1,357.6M173.3,355.6L171.1,357.6L170.6,354.7M181.5,353.2L179.9,357.4M182.2,355.4L179.9,357.4L179.5,354.4M190.1,353.2L189.0,357.4M191.1,355.2L189.0,357.4L188.3,354.4M198.7,353.3L198.0,357.3M199.9,354.9L198.0,357.3L197.1,354.4M207.4,353.6L207.0,357.0M208.7,354.5L207.0,357.0L205.9,354.2M216.2,353.9L215.8,356.7M217.6,354.3L215.8,356.7L214.8,353.9M225.3,354.6L224.4,356.0M227.0,354.4L224.4,356.0L224.5,353.0M233.6,355.0L233.7,355.6M235.0,352.9L233.7,355.6L232.1,353.1M242.6,354.9L242.3,355.7M244.5,353.7L242.3,355.7L241.8,352.8M251.9,354.9L250.7,355.7M253.7,355.4L250.7,355.7L252.0,353.1M260.1,355.1L260.1,355.5M261.9,353.1L260.1,355.5L259.1,352.7M269.1,355.1L268.8,355.5M271.3,353.9L268.8,355.5L268.8,352.5M278.3,355.3L277.2,355.3M279.9,356.7L277.2,355.3L279.8,353.8M286.9,355.1L286.3,355.5M289.3,355.2L286.3,355.5L287.6,352.8M295.5,355.1L295.3,355.5M297.7,353.7L295.3,355.5L295.1,352.5M304.5,355.1L304.0,355.5M306.9,354.8L304.0,355.5L304.9,352.7M313.2,355.2L312.9,355.4M315.9,355.5L312.9,355.4L314.6,352.9M322.3,355.7L321.4,354.9M322.6,357.7L321.4,354.9L324.3,355.4M331.2,355.4L330.1,355.2M332.3,357.2L330.1,355.2L333.0,354.4M340.1,355.1L338.9,355.5M341.9,356.1L338.9,355.5L341.0,353.3M348.6,355.3L348.1,355.3M350.9,356.4L348.1,355.3L350.4,353.5M357.4,355.2L356.9,355.4M359.9,355.8L356.9,355.4L358.9,353.1M366.3,355.7L365.7,354.9M366.1,357.9L365.7,354.9L368.4,356.1M374.9,355.2L374.7,355.4M377.4,354.2L374.7,355.4L375.1,352.5M383.9,355.3L383.3,355.3M385.8,356.9L383.3,355.3L386.0,354.1M392.6,355.7L392.2,354.9M392.2,357.9L392.2,354.9L394.7,356.6M401.2,355.5L401.3,355.1M399.6,357.6L401.3,355.1L402.5,357.8M410.4,355.5L409.8,355.1M411.1,357.8L409.8,355.1L412.7,355.4M418.5,355.6L419.2,355.0M416.3,355.4L419.2,355.0L418.0,357.8M427.2,355.0L428.2,355.6M426.6,353.1L428.2,355.6L425.2,355.6M436.0,355.4L437.0,355.2M434.1,354.5L437.0,355.2L434.8,357.2M444.9,355.2L445.8,355.4M443.4,353.5L445.8,355.4L443.0,356.4M453.6,355.3L454.7,355.3M452.1,353.7L454.7,355.3L452.0,356.6M462.7,355.6L463.2,355.0M460.5,356.3L463.2,355.0L462.9,357.9M472.1,355.5L471.5,355.1M472.7,357.8L471.5,355.1L474.5,355.6M39.6,348.1L39.6,341.5M38.2,344.1L39.6,341.5L41.1,344.1M48.6,348.2L48.3,341.4M47.0,344.1L48.3,341.4L49.9,344.0M57.7,347.1L56.8,342.5M55.9,345.3L56.8,342.5L58.7,344.8M66.1,346.6L66.1,343.0M64.6,345.7L66.1,343.0L67.5,345.7M74.8,347.1L75.0,342.5M73.5,345.1L75.0,342.5L76.3,345.2M83.7,347.2L83.8,342.4M82.3,345.0L83.8,342.4L85.2,345.0M92.4,347.6L92.6,342.0M91.1,344.6L92.6,342.0L94.0,344.7M100.9,347.4L101.8,342.2M100.0,344.5L101.8,342.2L102.8,345.0M109.6,346.6L110.8,343.0M108.6,345.0L110.8,343.0L111.3,346.0M119.0,346.3L119.0,343.3M117.5,345.9L119.0,343.3L120.4,345.9M127.2,345.2L128.4,344.4M125.5,344.6L128.4,344.4L127.0,347.0M136.3,344.9L137.0,344.7M134.2,343.7L137.0,344.7L134.6,346.5M145.3,343.6L145.6,346.0M146.7,343.2L145.6,346.0L143.8,343.6M154.1,343.1L154.4,346.5M155.6,343.7L154.4,346.5L152.8,344.0M163.1,342.7L163.1,346.9M164.5,344.3L163.1,346.9L161.7,344.3M171.4,342.7L172.4,346.9M173.2,344.0L172.4,346.9L170.4,344.7M180.4,342.4L181.1,347.2M182.1,344.4L181.1,347.2L179.3,344.8M189.3,342.4L189.8,347.2M191.0,344.4L189.8,347.2L188.1,344.7M198.6,342.6L198.1,347.0M199.9,344.6L198.1,347.0L197.0,344.2M207.4,343.6L207.0,346.0M208.8,343.6L207.0,346.0L205.9,343.2M216.6,343.6L215.5,346.0M217.9,344.2L215.5,346.0L215.3,343.0M225.1,344.1L224.6,345.5M226.9,343.5L224.6,345.5L224.2,342.5M234.2,344.4L233.2,345.2M236.1,344.6L233.2,345.2L234.2,342.4M242.9,344.2L242.1,345.4M244.8,344.0L242.1,345.4L242.4,342.4M251.9,344.4L250.7,345.2M253.7,345.1L250.7,345.2L252.2,342.6M260.2,345.0L260.1,344.6M259.5,347.6L260.1,344.6L262.2,346.7M268.9,344.6L268.9,345.0M270.3,342.3L268.9,345.0L267.5,342.4M277.8,345.0L277.7,344.6M276.6,347.4L277.7,344.6L279.5,347.1M287.0,344.9L286.2,344.7M288.4,346.8L286.2,344.7L289.1,344.0M295.4,344.8L295.4,344.8M293.7,342.4L295.4,344.8L292.5,345.0M304.6,344.9L303.8,344.7M306.0,346.7L303.8,344.7L306.7,343.9M313.5,345.2L312.6,344.4M313.7,347.2L312.6,344.4L315.5,345.0M322.4,344.6L321.3,345.0M324.2,345.6L321.3,345.0L323.4,342.8M331.1,344.5L330.2,345.1M333.2,345.0L330.2,345.1L331.8,342.5M340.0,345.0L339.0,344.6M340.8,347.0L339.0,344.6L342.0,344.4M348.6,345.1L348.0,344.5M349.0,347.4L348.0,344.5L350.9,345.2M357.5,344.5L356.8,345.1M359.7,344.8L356.8,345.1L358.1,342.4M366.0,344.6L365.9,345.0M367.8,342.6L365.9,345.0L365.0,342.1M375.0,344.6L374.6,345.0M377.4,344.0L374.6,345.0L375.2,342.1M383.6,344.8L383.6,344.8M381.1,346.4L383.6,344.8L383.6,347.8M392.6,345.2L392.3,344.4M391.9,347.4L392.3,344.4L394.6,346.3M401.2,344.9L401.3,344.7M399.4,347.1L401.3,344.7L402.3,347.5M409.9,344.7L410.2,344.9M408.1,342.7L410.2,344.9L407.3,345.5M418.8,345.2L418.9,344.4M417.2,346.9L418.9,344.4L420.1,347.2M427.0,345.1L428.4,344.5M425.4,344.3L428.4,344.5L426.6,346.9M436.1,345.0L437.0,344.6M434.0,344.1L437.0,344.6L435.0,346.9M445.0,344.7L445.7,344.9M443.7,342.7L445.7,344.9L442.7,345.4M453.5,345.0L454.8,344.6M451.9,344.0L454.8,344.6L452.8,346.8M462.7,345.0L463.2,344.6M460.3,345.0L463.2,344.6L462.0,347.3M471.8,344.9L471.8,344.7M470.4,347.3L471.8,344.7L473.2,347.3M39.8,337.7L39.4,330.9M38.1,333.7L39.4,330.9L41.0,333.5M48.6,337.1L48.3,331.5M47.0,334.2L48.3,331.5L49.9,334.0M57.2,336.6L57.3,332.0M55.8,334.6L57.3,332.0L58.7,334.6M65.7,335.8L66.5,332.8M64.4,335.0L66.5,332.8L67.2,335.8M74.7,336.6L75.1,332.0M73.4,334.5L75.1,332.0L76.3,334.8M83.5,336.8L84.0,331.8M82.3,334.3L84.0,331.8L85.1,334.5M92.0,336.9L93.1,331.7M91.1,334.0L93.1,331.7L94.0,334.6M100.7,336.7L102.0,331.9M99.9,334.0L102.0,331.9L102.7,334.8M109.1,335.9L111.3,332.7M108.6,334.0L111.3,332.7L111.0,335.6M117.6,335.7L120.4,332.9M117.5,333.8L120.4,332.9L119.6,335.8M126.6,335.0L129.1,333.6M126.1,333.6L129.1,333.6L127.4,336.1M135.4,334.3L137.9,334.3M135.2,332.9L137.9,334.3L135.3,335.8M144.5,333.6L146.4,335.0M145.1,332.3L146.4,335.0L143.5,334.6M152.8,333.1L155.8,335.5M154.7,332.7L155.8,335.5L152.8,335.0M162.1,332.3L164.1,336.3M164.2,333.4L164.1,336.3L161.7,334.6M170.9,332.3L173.0,336.3M173.0,333.3L173.0,336.3L170.5,334.6M180.3,332.3L181.2,336.3M182.0,333.5L181.2,336.3L179.2,334.1M189.2,332.3L189.9,336.3M190.9,333.5L189.9,336.3L188.0,333.9M197.9,332.3L198.9,336.3M199.6,333.4L198.9,336.3L196.8,334.1M206.9,333.2L207.5,335.4M208.2,332.5L207.5,335.4L205.4,333.3M216.4,333.1L215.6,335.5M217.8,333.4L215.6,335.5L215.0,332.6M224.7,333.5L225.0,335.1M225.9,332.2L225.0,335.1L223.1,332.7M233.8,334.1L233.5,334.5M236.3,333.4L233.5,334.5L234.1,331.5M242.8,333.7L242.2,334.9M244.6,333.2L242.2,334.9L242.1,331.9M251.3,333.9L251.3,334.7M252.9,332.2L251.3,334.7L250.1,332.0M260.1,334.4L260.2,334.2M257.7,335.9L260.2,334.2L260.2,337.2M269.5,334.5L268.4,334.1M270.3,336.4L268.4,334.1L271.4,333.7M278.0,334.2L277.5,334.4M280.5,334.7L277.5,334.4L279.4,332.1M286.6,334.2L286.6,334.4M287.8,331.7L286.6,334.4L284.9,331.9M295.6,334.2L295.2,334.4M298.2,334.0L295.2,334.4L296.5,331.7M304.5,334.3L303.9,334.3M306.5,335.8L303.9,334.3L306.6,332.9M313.7,334.2L312.4,334.4M315.3,335.2L312.4,334.4L314.6,332.4M322.3,334.1L321.4,334.5M324.4,334.6L321.4,334.5L323.1,332.1M330.9,334.5L330.5,334.1M331.4,337.0L330.5,334.1L333.4,334.9M340.1,334.5L338.9,334.1M340.9,336.4L338.9,334.1L341.9,333.7M348.5,334.2L348.1,334.4M351.1,334.7L348.1,334.4L350.0,332.0M357.7,334.7L356.6,333.9M358.1,336.6L356.6,333.9L359.6,334.1M366.2,334.3L365.7,334.3M368.3,335.7L365.7,334.3L368.3,332.8M375.2,334.5L374.4,334.1M375.8,336.7L374.4,334.1L377.4,334.3M383.8,334.7L383.4,333.9M383.5,336.9L383.4,333.9L385.9,335.5M392.9,334.4L392.0,334.2M394.3,336.1L392.0,334.2L394.8,333.3M401.1,334.2L401.4,334.4M399.3,332.2L401.4,334.4L398.5,335.0M409.8,334.4L410.3,334.2M407.4,333.5L410.3,334.2L408.1,336.3M418.9,334.5L418.9,334.1M417.4,336.7L418.9,334.1L420.3,336.7M427.0,334.2L428.4,334.4M426.0,332.6L428.4,334.4L425.6,335.5M436.2,334.7L436.9,333.9M434.0,334.9L436.9,333.9L436.2,336.8M444.9,334.2L445.8,334.4M443.4,332.6L445.8,334.4L443.0,335.4M453.9,334.5L454.4,334.1M451.5,334.6L454.4,334.1L453.3,336.8M462.7,334.1L463.2,334.5M462.3,331.7L463.2,334.5L460.3,333.8M472.0,334.7L471.6,333.9M471.7,336.9L471.6,333.9L474.2,335.4M39.7,326.9L39.6,320.7M38.2,323.4L39.6,320.7L41.1,323.3M48.2,327.2L48.7,320.4M47.1,322.9L48.7,320.4L49.9,323.2M56.9,325.8L57.7,321.8M55.7,324.1L57.7,321.8L58.5,324.7M65.8,325.7L66.4,321.9M64.5,324.3L66.4,321.9L67.4,324.8M74.1,325.7L75.7,321.9M73.4,323.7L75.7,321.9L76.0,324.9M82.7,325.9L84.7,321.7M82.3,323.5L84.7,321.7L84.9,324.7M91.7,325.6L93.4,322.0M91.0,323.7L93.4,322.0L93.6,324.9M100.2,325.4L102.6,322.2M99.8,323.4L102.6,322.2L102.1,325.2M108.5,325.7L111.8,321.9M109.0,323.0L111.8,321.9L111.2,324.9M117.3,325.0L120.7,322.6M117.7,323.0L120.7,322.6L119.4,325.3M125.7,324.1L130.0,323.5M127.2,322.4L130.0,323.5L127.5,325.3M134.8,323.8L138.5,323.8M135.8,322.4L138.5,323.8L135.8,325.2M143.7,322.7L147.2,324.9M145.7,322.3L147.2,324.9L144.2,324.7M152.7,322.8L155.8,324.8M154.3,322.1L155.8,324.8L152.8,324.6M161.9,322.2L164.3,325.4M163.9,322.4L164.3,325.4L161.6,324.2M170.4,321.6L173.4,326.0M173.1,323.0L173.4,326.0L170.7,324.6M179.6,321.5L181.8,326.1M182.0,323.1L181.8,326.1L179.4,324.3M188.6,322.1L190.5,325.5M190.4,322.5L190.5,325.5L188.0,323.9M198.2,322.0L198.6,325.6M199.7,322.9L198.6,325.6L196.9,323.2M206.8,322.9L207.6,324.7M207.9,321.7L207.6,324.7L205.2,322.8M215.9,322.9L216.2,324.7M217.1,321.8L216.2,324.7L214.3,322.3M225.0,323.3L224.7,324.3M226.8,322.2L224.7,324.3L224.1,321.4M234.1,323.7L233.3,323.9M236.2,324.7L233.3,323.9L235.5,321.9M242.9,323.6L242.1,324.0M245.1,324.2L242.1,324.0L243.9,321.6M251.2,323.9L251.4,323.7M248.8,325.3L251.4,323.7L251.3,326.7M260.1,323.9L260.2,323.7M257.9,325.6L260.2,323.7L260.6,326.6M269.3,323.6L268.6,324.0M271.5,323.9L268.6,324.0L270.0,321.4M277.8,323.9L277.7,323.7M278.6,326.6L277.7,323.7L280.6,324.5M287.2,323.9L286.0,323.7M288.5,325.4L286.0,323.7L288.7,322.5M295.8,323.5L295.0,324.1M298.0,323.8L295.0,324.1L296.4,321.4M304.7,323.9L303.7,323.7M305.9,325.7L303.7,323.7L306.6,323.0M313.1,324.2L313.0,323.4M311.7,326.1L313.0,323.4L314.6,326.0M322.2,323.6L321.5,324.0M324.5,324.2L321.5,324.0L323.3,321.6M330.8,324.2L330.6,323.4M330.0,326.4L330.6,323.4L332.7,325.5M340.1,324.2L338.9,323.4M340.5,326.0L338.9,323.4L341.9,323.5M348.3,324.0L348.3,323.6M346.9,326.3L348.3,323.6L349.8,326.2M357.3,323.6L357.0,324.0M359.5,322.4L357.0,324.0L357.0,321.0M366.4,324.0L365.5,323.6M367.2,326.1L365.5,323.6L368.5,323.5M374.8,323.8L374.8,323.8M374.6,320.8L374.8,323.8L372.2,322.4M384.1,323.7L383.1,323.9M386.0,324.7L383.1,323.9L385.4,321.9M392.8,324.0L392.0,323.6M393.7,326.0L392.0,323.6L395.0,323.4M401.7,323.7L400.7,323.9M403.7,324.7L400.7,323.9L402.9,321.9M409.8,323.8L410.3,323.8M408.0,322.0L410.3,323.8L407.5,324.9M418.4,324.2L419.4,323.4M416.4,323.9L419.4,323.4L418.2,326.2M427.5,323.9L427.9,323.7M424.9,323.3L427.9,323.7L425.9,326.0M435.7,323.5L437.3,324.1M435.3,321.9L437.3,324.1L434.4,324.6M444.9,324.0L445.7,323.6M442.7,323.7L445.7,323.6L444.2,326.1M453.9,323.9L454.5,323.7M451.6,323.0L454.5,323.7L452.2,325.8M462.5,324.1L463.4,323.5M460.4,323.7L463.4,323.5L462.0,326.2M471.6,323.7L472.0,323.9M470.5,321.3L472.0,323.9L469.0,323.7M39.3,316.0L39.9,310.6M38.2,313.0L39.9,310.6L41.1,313.4M48.2,316.6L48.7,310.0M47.1,312.5L48.7,310.0L49.9,312.8M57.1,315.5L57.4,311.1M55.8,313.7L57.4,311.1L58.7,313.8M65.5,315.0L66.6,311.6M64.5,313.6L66.6,311.6L67.2,314.5M74.5,314.6L75.3,312.0M73.1,314.1L75.3,312.0L75.9,315.0M83.0,315.2L84.4,311.4M82.2,313.4L84.4,311.4L84.8,314.4M91.6,314.9L93.5,311.7M90.9,313.3L93.5,311.7L93.4,314.7M99.9,314.5L102.9,312.1M99.9,312.6L102.9,312.1L101.7,314.9M107.9,314.2L112.4,312.4M109.4,312.0L112.4,312.4L110.6,314.7M116.9,314.5L121.1,312.1M118.1,312.1L121.1,312.1L119.5,314.6M125.6,313.8L130.0,312.8M127.2,312.0L130.0,312.8L127.7,314.8M133.9,313.3L139.3,313.3M136.7,311.9L139.3,313.3L136.7,314.7M143.2,312.8L147.7,313.8M145.4,311.8L147.7,313.8L144.8,314.6M152.0,312.2L156.5,314.4M154.8,311.9L156.5,314.4L153.6,314.5M161.1,311.8L165.1,314.8M163.9,312.1L165.1,314.8L162.2,314.4M170.3,312.1L173.5,314.5M172.3,311.8L173.5,314.5L170.5,314.1M179.4,311.9L182.1,314.7M181.3,311.8L182.1,314.7L179.2,313.8M188.7,312.0L190.4,314.6M190.2,311.7L190.4,314.6L187.8,313.2M197.7,312.3L199.0,314.3M198.8,311.3L199.0,314.3L196.4,312.9M207.1,312.5L207.3,314.1M208.4,311.4L207.3,314.1L205.6,311.7M216.2,312.3L215.9,314.3M217.7,311.9L215.9,314.3L214.8,311.5M224.8,312.9L224.8,313.7M226.2,311.1L224.8,313.7L223.4,311.1M233.9,312.6L233.4,314.0M235.6,311.9L233.4,314.0L232.8,311.1M242.7,313.3L242.3,313.3M245.1,314.5L242.3,313.3L244.7,311.6M251.3,313.1L251.3,313.5M253.1,311.1L251.3,313.5L250.2,310.7M260.0,313.5L260.2,313.1M258.0,315.1L260.2,313.1L260.8,316.0M269.2,313.1L268.6,313.5M271.6,313.1L268.6,313.5L269.9,310.8M277.8,313.0L277.7,313.6M279.6,311.3L277.7,313.6L276.8,310.7M287.2,313.5L286.0,313.1M288.1,315.2L286.0,313.1L288.9,312.5M296.0,313.6L294.8,313.0M296.6,315.4L294.8,313.0L297.8,312.8M304.2,313.3L304.3,313.3M302.3,311.1L304.3,313.3L301.3,313.8M313.0,313.4L313.0,313.2M311.6,315.8L313.0,313.2L314.5,315.8M321.9,313.4L321.8,313.2M321.7,316.2L321.8,313.2L324.3,314.9M331.1,313.2L330.2,313.4M333.2,314.0L330.2,313.4L332.3,311.3M339.5,313.6L339.5,313.0M338.0,315.6L339.5,313.0L340.9,315.7M348.6,313.3L348.1,313.3M350.9,314.4L348.1,313.3L350.5,311.5M357.6,313.4L356.6,313.2M358.8,315.3L356.6,313.2L359.6,312.5M366.5,313.6L365.4,313.0M367.2,315.5L365.4,313.0L368.4,312.9M375.3,313.3L374.3,313.3M377.0,314.6L374.3,313.3L376.9,311.8M383.8,313.6L383.4,313.0M383.8,316.0L383.4,313.0L386.1,314.3M393.1,313.5L391.8,313.1M394.0,315.2L391.8,313.1L394.7,312.4M401.3,313.6L401.2,313.0M400.0,315.8L401.2,313.0L402.9,315.5M410.2,313.6L409.9,313.0M409.9,316.0L409.9,313.0L412.4,314.7M418.5,313.3L419.3,313.3M416.6,312.0L419.3,313.3L416.7,314.8M427.6,313.6L427.8,313.0M425.8,315.2L427.8,313.0L428.6,315.8M436.1,313.3L436.9,313.3M434.2,312.0L436.9,313.3L434.4,314.9M444.8,313.7L445.9,312.9M442.9,313.1L445.9,312.9L444.5,315.6M454.1,313.3L454.3,313.3M452.3,311.1L454.3,313.3L451.3,313.8M462.9,313.5L463.1,313.1M460.9,315.1L463.1,313.1L463.6,316.0M472.0,313.1L471.6,313.5M474.3,312.3L471.6,313.5L472.0,310.6M39.2,305.4L40.0,300.2M38.2,302.6L40.0,300.2L41.0,303.0M47.8,306.0L49.1,299.6M47.1,301.9L49.1,299.6L50.0,302.5M56.5,304.6L58.1,301.0M55.7,302.8L58.1,301.0L58.3,304.0M65.7,304.3L66.4,301.3M64.4,303.5L66.4,301.3L67.2,304.2M74.1,304.1L75.7,301.5M73.1,303.0L75.7,301.5L75.6,304.5M83.2,303.7L84.3,301.9M81.7,303.4L84.3,301.9L84.1,304.9M91.3,303.8L93.8,301.8M90.8,302.3L93.8,301.8L92.6,304.6M99.8,303.6L103.0,302.0M100.0,301.9L103.0,302.0L101.2,304.5M108.1,303.9L112.2,301.7M109.3,301.7L112.2,301.7L110.6,304.2M116.9,303.3L121.1,302.3M118.2,301.5L121.1,302.3L118.9,304.3M125.0,302.8L130.7,302.8M128.0,301.4L130.7,302.8L128.0,304.2M134.1,302.7L139.2,302.9M136.6,301.4L139.2,302.9L136.5,304.2M142.9,302.5L148.0,303.1M145.6,301.4L148.0,303.1L145.3,304.2M152.2,302.4L156.4,303.2M154.1,301.3L156.4,303.2L153.5,304.1M161.1,301.7L165.1,303.9M163.5,301.4L165.1,303.9L162.1,303.9M170.7,301.8L173.2,303.8M172.0,301.0L173.2,303.8L170.2,303.3M179.4,301.4L182.1,304.2M181.3,301.3L182.1,304.2L179.2,303.3M189.0,302.0L190.1,303.6M189.8,300.6L190.1,303.6L187.4,302.3M197.6,301.5L199.2,304.1M199.0,301.1L199.2,304.1L196.6,302.6M207.0,302.4L207.4,303.2M207.4,300.2L207.4,303.2L204.9,301.6M215.6,302.3L216.4,303.3M215.9,300.3L216.4,303.3L213.7,302.1M224.6,302.3L225.1,303.3M225.2,300.3L225.1,303.3L222.6,301.5M233.6,302.8L233.7,302.8M231.5,300.8L233.7,302.8L230.8,303.6M242.5,302.8L242.5,302.8M241.5,305.6L242.5,302.8L244.3,305.1M251.6,302.5L251.0,303.1M253.9,302.3L251.0,303.1L251.8,300.2M260.2,303.0L260.1,302.6M259.2,305.5L260.1,302.6L262.0,304.9M269.4,302.9L268.5,302.7M270.8,304.6L268.5,302.7L271.3,301.7M278.0,302.9L277.5,302.7M279.4,305.0L277.5,302.7L280.5,302.3M287.1,303.0L286.0,302.6M288.0,304.9L286.0,302.6L289.0,302.2M295.5,302.6L295.3,303.0M297.9,301.5L295.3,303.0L295.4,300.0M304.8,302.8L303.6,302.8M306.2,304.3L303.6,302.8L306.2,301.4M313.2,303.2L312.9,302.4M312.4,305.4L312.9,302.4L315.1,304.5M321.9,303.1L321.8,302.5M320.9,305.3L321.8,302.5L323.7,304.8M330.9,302.8L330.4,302.8M333.0,304.4L330.4,302.8L333.2,301.5M339.7,303.0L339.3,302.6M340.3,305.4L339.3,302.6L342.2,303.3M348.7,302.8L348.0,302.8M350.6,304.2L348.0,302.8L350.6,301.3M357.5,302.7L356.8,302.9M359.6,303.8L356.8,302.9L359.1,301.0M366.3,302.9L365.6,302.7M367.8,304.8L365.6,302.7L368.5,302.0M375.4,302.8L374.1,302.8M376.9,304.1L374.1,302.8L376.7,301.3M383.9,303.0L383.3,302.6M384.5,305.3L383.3,302.6L386.3,303.0M392.5,302.7L392.3,302.9M395.1,301.8L392.3,302.9L392.8,300.0M401.4,303.1L401.1,302.5M401.3,305.5L401.1,302.5L403.7,303.9M410.1,303.1L410.0,302.5M408.8,305.2L410.0,302.5L411.7,305.0M419.0,302.9L418.8,302.7M419.2,305.7L418.8,302.7L421.5,304.0M427.6,302.9L427.8,302.7M425.0,303.7L427.8,302.7L427.1,305.6M436.0,303.2L437.0,302.4M434.1,303.0L437.0,302.4L435.9,305.2M444.8,303.2L445.9,302.4M442.9,302.8L445.9,302.4L444.7,305.1M453.7,302.8L454.7,302.8M452.1,301.3L454.7,302.8L452.0,304.2M462.8,303.3L463.1,302.3M461.0,304.4L463.1,302.3L463.7,305.3M471.8,303.0L471.8,302.6M470.8,305.4L471.8,302.6L473.6,304.9M38.9,294.7L40.3,289.9M38.2,292.0L40.3,289.9L41.0,292.8M47.5,295.1L49.4,289.5M47.2,291.5L49.4,289.5L49.9,292.4M56.5,294.6L58.1,290.0M55.8,292.0L58.1,290.0L58.5,293.0M65.8,293.3L66.3,291.3M64.3,293.5L66.3,291.3L67.1,294.2M74.4,292.9L75.4,291.7M72.6,292.7L75.4,291.7L74.7,294.7M82.6,293.3L84.8,291.3M81.9,292.0L84.8,291.3L83.9,294.1M91.2,292.7L93.9,291.9M90.9,291.3L93.9,291.9L91.8,294.0M100.1,292.9L102.6,291.7M99.6,291.6L102.6,291.7L100.9,294.2M108.0,292.9L112.3,291.7M109.4,291.0L112.3,291.7L110.1,293.8M116.4,292.6L121.6,292.0M118.9,290.9L121.6,292.0L119.2,293.7M125.0,292.6L130.7,292.0M127.9,290.8L130.7,292.0L128.2,293.7M133.9,292.1L139.4,292.5M136.9,290.9L139.4,292.5L136.6,293.7M143.1,292.5L147.8,292.1M145.1,290.9L147.8,292.1L145.3,293.8M152.0,292.3L156.5,292.3M153.9,290.9L156.5,292.3L153.9,293.7M161.6,292.2L164.6,292.4M162.0,290.8L164.6,292.4L161.9,293.7M170.8,291.5L173.1,293.1M171.8,290.4L173.1,293.1L170.1,292.7M179.6,291.4L181.8,293.2M180.8,290.4L181.8,293.2L178.9,292.6M189.1,291.4L190.0,293.2M190.1,290.2L190.0,293.2L187.6,291.4M198.3,291.6L198.5,293.0M199.4,290.1L198.5,293.0L196.6,290.6M206.9,291.9L207.5,292.7M207.2,289.7L207.5,292.7L204.8,291.3M215.7,291.9L216.3,292.7M216.0,289.7L216.3,292.7L213.6,291.4M224.9,291.8L224.8,292.8M226.4,290.3L224.8,292.8L223.5,290.1M234.1,291.8L233.2,292.8M236.0,291.8L233.2,292.8L233.9,289.9M242.6,292.3L242.4,292.3M245.1,293.5L242.4,292.3L244.8,290.6M251.3,292.4L251.3,292.2M250.8,295.1L251.3,292.2L253.5,294.2M260.1,292.2L260.2,292.4M258.9,289.6L260.2,292.4L257.2,291.9M269.3,292.1L268.6,292.5M271.5,292.8L268.6,292.5L270.4,290.1M278.1,292.6L277.4,292.0M278.6,294.8L277.4,292.0L280.4,292.5M286.7,292.7L286.5,291.9M286.0,294.9L286.5,291.9L288.7,293.9M295.5,292.5L295.3,292.1M294.8,295.0L295.3,292.1L297.5,294.1M304.4,292.0L304.0,292.6M306.7,291.3L304.0,292.6L304.3,289.6M313.3,292.2L312.8,292.4M315.7,293.1L312.8,292.4L315.0,290.3M322.3,292.7L321.4,291.9M322.4,294.7L321.4,291.9L324.3,292.6M331.3,292.6L330.1,292.0M331.8,294.4L330.1,292.0L333.0,291.8M339.7,292.4L339.3,292.2M341.1,294.6L339.3,292.2L342.3,292.0M348.6,292.1L348.0,292.5M351.0,292.0L348.0,292.5L349.2,289.8M357.7,292.5L356.6,292.1M358.4,294.4L356.6,292.1L359.6,291.8M366.2,292.7L365.8,291.9M365.7,294.9L365.8,291.9L368.2,293.6M375.4,292.5L374.1,292.1M376.4,294.1L374.1,292.1L377.0,291.3M384.2,292.4L383.0,292.2M385.2,294.2L383.0,292.2L385.9,291.4M392.9,292.3L391.9,292.3M394.6,293.7L391.9,292.3L394.5,290.8M401.3,292.6L401.2,292.0M400.6,295.0L401.2,292.0L403.4,294.1M410.0,292.4L410.1,292.2M407.2,292.8L410.1,292.2L409.0,295.0M418.9,292.0L418.8,292.6M420.9,290.4L418.8,292.6L418.1,289.6M427.5,292.6L427.9,292.0M425.3,293.5L427.9,292.0L427.8,295.0M436.3,292.4L436.7,292.2M433.8,291.5L436.7,292.2L434.5,294.3M444.6,292.4L446.1,292.2M443.3,291.1L446.1,292.2L443.6,293.9M453.9,292.9L454.4,291.7M452.0,293.5L454.4,291.7L454.6,294.7M463.2,292.6L462.8,292.0M463.1,295.0L462.8,292.0L465.5,293.4M471.8,292.7L471.8,291.9M470.3,294.6L471.8,291.9L473.2,294.6M39.3,283.5L40.0,280.1M38.0,282.4L40.0,280.1L40.9,282.9M47.5,284.7L49.4,278.9M47.2,281.0L49.4,278.9L49.9,281.9M55.9,284.0L58.6,279.6M56.0,281.1L58.6,279.6L58.5,282.6M65.5,283.3L66.7,280.3M64.4,282.2L66.7,280.3L67.0,283.2M74.4,282.8L75.4,280.8M72.9,282.5L75.4,280.8L75.5,283.8M83.3,282.1L84.1,281.5M81.1,282.0L84.1,281.5L82.9,284.3M92.0,282.1L93.1,281.5M90.1,281.4L93.1,281.5L91.4,284.0M99.9,282.1L102.9,281.5M100.0,280.6L102.9,281.5L100.6,283.4M108.8,281.6L111.5,282.0M109.2,280.2L111.5,282.0L108.7,283.0M117.1,281.4L120.9,282.2M118.6,280.3L120.9,282.2L118.0,283.1M125.5,281.9L130.1,281.7M127.5,280.4L130.1,281.7L127.6,283.2M134.6,282.0L138.7,281.6M135.9,280.4L138.7,281.6L136.2,283.3M143.7,281.8L147.2,281.8M144.5,280.4L147.2,281.8L144.6,283.3M152.3,282.0L156.2,281.6M153.5,280.4L156.2,281.6L153.8,283.3M162.0,281.8L164.2,281.8M161.6,280.3L164.2,281.8L161.5,283.2M170.7,281.8L173.1,281.8M170.5,280.3L173.1,281.8L170.5,283.2M179.8,281.6L181.6,282.0M179.4,280.0L181.6,282.0L178.7,282.8M189.3,281.7L189.8,281.9M187.8,279.7L189.8,281.9L186.9,282.4M198.3,281.8L198.5,281.8M197.1,279.2L198.5,281.8L195.5,281.5M207.2,281.3L207.2,282.3M208.7,279.7L207.2,282.3L205.9,279.6M215.9,281.3L216.1,282.3M217.0,279.4L216.1,282.3L214.2,280.0M224.8,281.8L224.9,281.8M222.1,282.8L224.9,281.8L224.2,284.7M233.8,281.8L233.5,281.8M236.3,282.9L233.5,281.8L235.9,280.0M242.5,281.8L242.4,281.8M245.4,281.1L242.4,281.8L243.4,279.0M251.7,281.7L250.9,281.9M253.7,282.8L250.9,281.9L253.2,280.0M260.1,282.0L260.2,281.6M258.3,283.9L260.2,281.6L261.1,284.4M269.0,282.2L268.9,281.4M267.6,284.1L268.9,281.4L270.5,284.0M278.2,282.0L277.3,281.6M279.0,284.0L277.3,281.6L280.3,281.5M286.7,281.5L286.5,282.1M288.9,280.3L286.5,282.1L286.3,279.1M295.5,282.0L295.3,281.6M295.6,284.6L295.3,281.6L298.0,282.9M304.3,282.0L304.2,281.6M303.3,284.5L304.2,281.6L306.1,283.9M313.5,281.6L312.6,282.0M315.6,282.2L312.6,282.0L314.3,279.6M322.1,281.7L321.7,281.9M324.6,282.2L321.7,281.9L323.6,279.6M330.9,281.5L330.5,282.1M333.1,280.7L330.5,282.1L330.7,279.1M339.8,281.6L339.2,282.0M342.2,281.9L339.2,282.0L340.7,279.4M348.5,281.6L348.2,282.0M350.9,280.9L348.2,282.0L348.7,279.0M357.5,281.7L356.8,281.9M359.7,282.5L356.8,281.9L358.9,279.8M366.2,282.0L365.7,281.6M367.0,284.3L365.7,281.6L368.7,282.0M375.3,281.8L374.3,281.8M377.0,283.1L374.3,281.8L376.8,280.2M384.2,281.6L383.0,282.0M386.0,282.4L383.0,282.0L384.9,279.7M393.0,282.2L391.9,281.4M393.2,284.1L391.9,281.4L394.9,281.7M401.8,281.5L400.7,282.1M403.7,282.3L400.7,282.1L402.5,279.7M410.5,282.1L409.7,281.5M410.9,284.2L409.7,281.5L412.6,281.9M419.5,282.2L418.3,281.4M419.8,284.0L418.3,281.4L421.2,281.6M427.9,281.8L427.5,281.8M430.0,283.6L427.5,281.8L430.3,280.7M436.7,281.9L436.4,281.7M437.6,284.4L436.4,281.7L439.3,282.1M445.9,282.3L444.7,281.3M445.8,284.1L444.7,281.3L447.7,281.9M454.6,282.4L453.8,281.2M453.9,284.2L453.8,281.2L456.4,282.6M463.1,282.4L462.9,281.2M461.8,284.0L462.9,281.2L464.7,283.7M472.4,282.1L471.2,281.5M472.9,283.9L471.2,281.5L474.2,281.4M37.8,271.3L41.4,271.3M38.8,269.8L41.4,271.3L38.7,272.7M47.6,273.5L49.3,269.1M47.0,271.1L49.3,269.1L49.7,272.1M55.9,274.3L58.7,268.3M56.2,270.1L58.7,268.3L58.9,271.3M64.4,273.4L67.8,269.2M65.0,270.4L67.8,269.2L67.2,272.2M74.0,272.3L75.8,270.3M73.0,271.2L75.8,270.3L75.1,273.2M82.8,271.8L84.6,270.8M81.6,270.8L84.6,270.8L83.1,273.3M92.1,271.7L93.0,270.9M90.1,271.4L93.0,270.9L91.8,273.7M100.4,271.3L102.3,271.3M99.6,269.9L102.3,271.3L99.7,272.8M109.4,270.9L111.0,271.7M109.3,269.2L111.0,271.7L108.0,271.7M118.3,270.9L119.7,271.7M118.0,269.2L119.7,271.7L116.7,271.7M126.8,270.9L128.8,271.7M127.0,269.4L128.8,271.7L125.8,272.0M135.6,271.6L137.7,271.0M134.8,270.3L137.7,271.0L135.5,273.1M144.0,271.8L146.9,270.8M143.9,270.3L146.9,270.8L144.9,273.0M153.1,271.9L155.5,270.7M152.5,270.5L155.5,270.7L153.7,273.1M162.6,271.9L163.6,270.7M160.8,271.9L163.6,270.7L163.1,273.7M171.4,271.4L172.5,271.2M169.7,270.2L172.5,271.2L170.1,273.0M180.4,271.2L181.0,271.4M179.1,269.2L181.0,271.4L178.1,271.9M189.3,271.4L189.8,271.2M186.9,270.6L189.8,271.2L187.8,273.4M198.0,271.4L198.7,271.2M195.8,270.8L198.7,271.2L196.8,273.5M207.0,271.4L207.4,271.2M204.4,271.2L207.4,271.2L205.8,273.7M216.5,271.5L215.6,271.1M217.6,273.4L215.6,271.1L218.5,270.6M224.8,271.0L224.9,271.6M226.2,268.9L224.9,271.6L223.3,269.0M234.2,271.4L233.1,271.2M235.5,273.0L233.1,271.2L235.9,270.1M242.7,271.2L242.2,271.4M245.2,271.7L242.2,271.4L244.1,269.1M251.8,271.4L250.8,271.2M253.0,273.2L250.8,271.2L253.7,270.4M260.5,271.2L259.7,271.4M262.7,272.0L259.7,271.4L261.8,269.3M269.4,271.1L268.5,271.5M271.5,271.8L268.5,271.5L270.3,269.1M278.2,271.6L277.3,271.0M278.7,273.7L277.3,271.0L280.3,271.2M286.7,271.4L286.4,271.2M288.1,273.7L286.4,271.2L289.4,271.2M296.0,271.3L294.8,271.3M297.5,272.6L294.8,271.3L297.4,269.8M304.8,271.2L303.6,271.4M306.5,272.2L303.6,271.4L305.9,269.4M313.2,271.2L312.9,271.4M315.8,270.8L312.9,271.4L313.9,268.6M322.1,271.5L321.6,271.1M322.9,273.9L321.6,271.1L324.6,271.5M331.0,271.4L330.3,271.2M332.3,273.4L330.3,271.2L333.3,270.7M339.5,271.6L339.5,271.0M338.2,273.7L339.5,271.0L341.1,273.5M348.3,271.7L348.3,270.9M347.1,273.6L348.3,270.9L349.9,273.4M357.6,271.5L356.6,271.1M358.5,273.4L356.6,271.1L359.6,270.8M366.0,271.3L365.9,271.3M365.6,274.2L365.9,271.3L368.2,273.2M375.2,271.1L374.4,271.5M377.4,271.5L374.4,271.5L376.0,269.0M384.1,271.4L383.1,271.2M385.5,273.1L383.1,271.2L385.9,270.2M392.7,271.2L392.1,271.4M395.1,271.6L392.1,271.4L393.9,269.0M401.4,271.2L401.1,271.4M404.1,271.6L401.1,271.4L402.9,269.0M410.5,271.5L409.7,271.1M411.5,273.5L409.7,271.1L412.6,270.8M419.4,271.1L418.3,271.5M421.3,272.0L418.3,271.5L420.4,269.3M427.9,271.3L427.5,271.3M430.1,272.8L427.5,271.3L430.2,269.9M437.0,271.8L436.0,270.8M436.8,273.6L436.0,270.8L438.9,271.6M445.4,272.3L445.2,270.3M444.1,273.0L445.2,270.3L446.9,272.7M454.7,272.9L453.6,269.7M453.1,272.6L453.6,269.7L455.8,271.7M463.0,273.0L462.9,269.6M461.6,272.2L462.9,269.6L464.4,272.2M472.3,272.4L471.3,270.2M471.1,273.2L471.3,270.2L473.7,272.0M37.1,260.9L42.1,260.7M39.5,259.4L42.1,260.7L39.5,262.2M46.5,262.0L50.4,259.6M47.4,259.8L50.4,259.6L48.9,262.2M56.2,263.0L58.3,258.6M55.9,260.4L58.3,258.6L58.5,261.6M64.4,263.7L67.8,257.9M65.2,259.5L67.8,257.9L67.7,260.9M73.7,263.0L76.1,258.6M73.6,260.2L76.1,258.6L76.1,261.6M82.4,261.6L85.1,260.0M82.1,260.1L85.1,260.0L83.5,262.6M92.1,260.9L93.0,260.7M90.2,259.7L93.0,260.7L90.6,262.5M101.2,260.8L101.5,260.8M99.3,258.9L101.5,260.8L98.7,261.7M109.5,260.1L110.8,261.5M110.1,258.6L110.8,261.5L108.0,260.5M118.7,260.3L119.3,261.3M119.0,258.3L119.3,261.3L116.7,260.0M127.9,260.4L127.7,261.2M129.7,259.0L127.7,261.2L127.0,258.3M136.8,261.2L136.5,260.4M136.4,263.4L136.5,260.4L139.0,262.1M145.4,261.7L145.5,259.9M144.0,262.5L145.5,259.9L146.8,262.6M154.2,261.3L154.4,260.3M152.6,262.7L154.4,260.3L155.4,263.1M162.8,261.5L163.4,260.1M161.0,261.9L163.4,260.1L163.6,263.1M171.7,261.3L172.2,260.3M169.6,261.9L172.2,260.3L172.1,263.3M180.9,260.9L180.6,260.7M181.5,263.5L180.6,260.7L183.5,261.5M189.6,260.7L189.5,260.9M191.6,258.7L189.5,260.9L188.8,258.0M198.1,260.9L198.6,260.7M195.6,260.4L198.6,260.7L196.7,263.0M207.3,260.7L207.1,260.9M209.8,259.5L207.1,260.9L207.5,257.9M216.2,261.1L215.8,260.5M216.0,263.4L215.8,260.5L218.4,261.9M224.9,260.8L224.8,260.8M227.7,260.4L224.8,260.8L226.0,258.1M233.7,260.9L233.6,260.7M233.3,263.7L233.6,260.7L236.0,262.5M242.5,261.0L242.4,260.6M241.9,263.6L242.4,260.6L244.6,262.7M251.6,261.1L251.0,260.5M251.8,263.4L251.0,260.5L253.8,261.4M260.8,261.0L259.4,260.6M261.6,262.7L259.4,260.6L262.3,259.9M270.1,261.1L267.8,260.5M269.9,262.6L267.8,260.5L270.7,259.8M278.3,260.7L277.2,260.9M280.0,262.0L277.2,260.9L279.7,259.2M287.1,261.1L286.1,260.5M287.7,263.1L286.1,260.5L289.1,260.6M295.9,260.9L294.9,260.7M297.2,262.7L294.9,260.7L297.8,259.8M304.5,260.9L303.9,260.7M305.7,263.1L303.9,260.7L306.9,260.5M313.2,260.6L312.8,261.0M315.6,259.9L312.8,261.0L313.4,258.1M322.4,260.7L321.3,260.9M324.1,262.0L321.3,260.9L323.8,259.2M330.8,260.9L330.6,260.7M331.1,263.6L330.6,260.7L333.3,261.8M339.8,260.5L339.2,261.1M342.1,260.4L339.2,261.1L340.2,258.2M348.9,260.8L347.7,260.8M350.3,262.3L347.7,260.8L350.4,259.4M357.7,260.7L356.6,260.9M359.5,261.6L356.6,260.9L358.8,258.9M366.0,260.8L366.0,260.8M364.0,263.0L366.0,260.8L366.8,263.7M375.4,260.8L374.2,260.8M376.8,262.2L374.2,260.8L376.8,259.4M383.9,260.7L383.3,260.9M386.3,261.3L383.3,260.9L385.3,258.6M392.7,260.7L392.1,260.9M395.0,261.8L392.1,260.9L394.5,259.0M401.3,260.8L401.2,260.8M403.0,263.1L401.2,260.8L404.2,260.5M410.4,260.5L409.7,261.1M412.7,260.6L409.7,261.1L410.9,258.3M419.4,260.7L418.4,260.9M421.2,261.9L418.4,260.9L420.8,259.1M428.1,260.8L427.3,260.8M429.9,262.4L427.3,260.8L430.1,259.5M437.1,261.1L436.0,260.5M437.4,263.1L436.0,260.5L439.0,260.6M445.7,262.6L444.9,259.0M444.1,261.8L444.9,259.0L446.9,261.2M454.6,263.2L453.7,258.4M452.8,261.3L453.7,258.4L455.6,260.8M463.6,263.1L462.3,258.5M461.7,261.4L462.3,258.5L464.4,260.7M472.2,262.1L471.4,259.5M470.8,262.4L471.4,259.5L473.5,261.7M37.5,251.4L41.7,249.2M38.7,249.1L41.7,249.2L40.0,251.7M46.2,251.1L50.7,249.5M47.7,249.0L50.7,249.5L48.7,251.7M54.4,251.3L60.1,249.3M57.1,248.8L60.1,249.3L58.1,251.5M63.7,251.1L68.5,249.5M65.5,249.0L68.5,249.5L66.5,251.7M73.1,252.5L76.7,248.1M73.9,249.2L76.7,248.1L76.1,251.1M82.4,251.7L85.1,248.9M82.2,249.8L85.1,248.9L84.3,251.8M91.2,251.2L93.9,249.4M90.9,249.7L93.9,249.4L92.5,252.1M100.8,250.6L101.9,250.0M98.9,250.0L101.9,250.0L100.4,252.5M110.3,249.9L110.1,250.7M112.0,248.4L110.1,250.7L109.2,247.9M119.4,249.9L118.6,250.7M121.5,249.8L118.6,250.7L119.4,247.8M128.1,249.9L127.5,250.7M130.3,249.5L127.5,250.7L128.0,247.7M137.3,250.6L136.0,250.0M137.8,252.4L136.0,250.0L139.0,249.8M146.0,251.0L144.9,249.6M145.3,252.6L144.9,249.6L147.6,250.9M154.5,251.0L154.1,249.6M153.3,252.5L154.1,249.6L156.1,251.8M163.1,251.0L163.1,249.6M161.7,252.2L163.1,249.6L164.6,252.2M172.2,250.9L171.7,249.7M171.3,252.7L171.7,249.7L174.0,251.6M180.9,250.8L180.6,249.8M180.0,252.7L180.6,249.8L182.7,251.9M190.0,250.4L189.1,250.2M191.5,252.0L189.1,250.2L191.9,249.1M198.7,250.7L198.1,249.9M198.5,252.9L198.1,249.9L200.8,251.2M207.5,250.6L206.9,250.0M207.7,252.9L206.9,250.0L209.8,250.8M216.3,250.6L215.8,250.0M216.4,252.9L215.8,250.0L218.6,251.0M225.0,250.9L224.7,249.7M223.9,252.6L224.7,249.7L226.7,252.0M233.6,250.6L233.7,250.0M232.0,252.5L233.7,250.0L234.8,252.8M243.2,250.6L241.7,250.0M243.6,252.4L241.7,250.0L244.7,249.7M251.8,250.7L250.8,249.9M252.1,252.6L250.8,249.9L253.8,250.3M261.5,250.6L258.7,250.0M261.0,252.0L258.7,250.0L261.6,249.2M270.2,251.1L267.6,249.5M269.1,252.1L267.6,249.5L270.6,249.7M279.9,250.0L275.7,250.6M278.5,251.7L275.7,250.6L278.1,248.8M288.5,250.4L284.6,250.2M287.2,251.8L284.6,250.2L287.3,248.9M297.9,250.4L292.9,250.2M295.5,251.7L292.9,250.2L295.6,248.9M306.3,249.7L302.2,250.9M305.1,251.6L302.2,250.9L304.3,248.8M314.5,250.3L311.6,250.3M314.2,251.8L311.6,250.3L314.3,248.9M322.4,250.0L321.3,250.6M324.3,250.6L321.3,250.6L323.0,248.0M331.4,250.0L330.0,250.6M332.9,251.0L330.0,250.6L331.9,248.3M339.8,250.1L339.2,250.5M342.2,250.4L339.2,250.5L340.8,247.9M348.5,250.1L348.2,250.5M350.8,249.2L348.2,250.5L348.5,247.6M357.2,250.1L357.0,250.5M359.5,248.8L357.0,250.5L357.0,247.5M366.5,250.2L365.4,250.4M368.3,251.4L365.4,250.4L367.8,248.5M375.1,250.2L374.5,250.4M377.5,250.7L374.5,250.4L376.3,248.1M383.9,250.1L383.3,250.5M386.3,250.3L383.3,250.5L384.7,247.9M392.7,250.5L392.2,250.1M393.3,252.9L392.2,250.1L395.1,250.6M401.7,250.6L400.8,250.0M402.3,252.6L400.8,250.0L403.8,250.1M410.3,250.6L409.8,250.0M410.4,252.9L409.8,250.0L412.6,251.1M419.1,250.5L418.6,250.1M419.5,252.9L418.6,250.1L421.5,250.9M427.9,250.5L427.5,250.1M428.7,252.9L427.5,250.1L430.4,250.6M436.7,250.8L436.3,249.8M436.0,252.8L436.3,249.8L438.7,251.7M445.9,251.9L444.7,248.7M444.4,251.7L444.7,248.7L447.0,250.7M454.5,253.0L453.9,247.6M452.7,250.4L453.9,247.6L455.6,250.1M463.2,252.7L462.8,247.9M461.6,250.6L462.8,247.9L464.4,250.4M472.2,252.0L471.4,248.6M470.6,251.4L471.4,248.6L473.4,250.8M38.0,240.7L41.3,238.9M38.3,238.9L41.3,238.9L39.7,241.4M46.7,240.4L50.2,239.2M47.3,238.7L50.2,239.2L48.2,241.4M55.6,240.6L58.9,239.0M56.0,238.8L58.9,239.0L57.1,241.4M63.6,240.4L68.5,239.2M65.6,238.4L68.5,239.2L66.3,241.2M72.9,241.7L76.9,237.9M74.0,238.7L76.9,237.9L76.0,240.8M81.5,242.0L85.9,237.6M83.0,238.5L85.9,237.6L85.1,240.5M90.4,241.9L94.6,237.7M91.8,238.5L94.6,237.7L93.8,240.6M100.0,240.9L102.7,238.7M99.8,239.2L102.7,238.7L101.6,241.5M110.0,240.3L110.4,239.3M108.0,241.1L110.4,239.3L110.6,242.3M119.3,240.0L118.7,239.6M120.0,242.2L118.7,239.6L121.6,239.9M128.4,239.7L127.2,239.9M130.1,240.8L127.2,239.9L129.5,238.0M137.6,240.0L135.7,239.6M137.9,241.6L135.7,239.6L138.5,238.7M146.2,240.1L144.7,239.5M146.6,241.8L144.7,239.5L147.6,239.1M154.6,240.4L153.9,239.2M154.1,242.2L153.9,239.2L156.5,240.7M163.3,240.3L162.9,239.3M162.6,242.3L162.9,239.3L165.2,241.2M172.2,240.3L171.6,239.3M171.7,242.3L171.6,239.3L174.2,240.8M181.0,239.8L180.5,239.8M183.4,240.7L180.5,239.8L182.8,237.9M189.7,239.9L189.5,239.7M190.4,242.5L189.5,239.7L192.4,240.4M198.7,240.3L198.0,239.3M198.3,242.3L198.0,239.3L200.7,240.7M207.6,240.2L206.8,239.4M207.5,242.3L206.8,239.4L209.7,240.4M216.2,240.2L215.9,239.4M215.5,242.4L215.9,239.4L218.2,241.3M225.4,240.3L224.2,239.3M225.2,242.1L224.2,239.3L227.2,240.0M233.7,240.5L233.6,239.1M232.2,241.7L233.6,239.1L235.1,241.7M243.1,240.7L241.9,238.9M242.1,241.9L241.9,238.9L244.5,240.3M252.0,240.7L250.6,238.9M251.0,241.8L250.6,238.9L253.3,240.2M260.1,240.4L260.1,239.2M258.8,242.0L260.1,239.2L261.7,241.8M269.2,240.1L268.7,239.5M269.0,242.5L268.7,239.5L271.4,240.8M277.8,240.1L277.7,239.5M276.9,242.4L277.7,239.5L279.7,241.7M286.9,240.0L286.2,239.6M288.0,242.0L286.2,239.6L289.2,239.4M295.9,239.9L294.9,239.7M297.3,241.6L294.9,239.7L297.8,238.7M305.1,239.9L303.4,239.7M305.7,241.5L303.4,239.7L306.2,238.7M314.4,239.6L311.6,240.0M314.5,241.0L311.6,240.0L314.0,238.2M323.7,239.7L320.1,239.9M322.8,241.2L320.1,239.9L322.6,238.3M332.7,239.8L328.6,239.8M331.3,241.2L328.6,239.8L331.2,238.4M340.5,239.3L338.5,240.3M341.5,240.5L338.5,240.3L340.2,237.9M348.9,239.8L347.8,239.8M350.3,241.4L347.8,239.8L350.5,238.5M357.3,239.6L357.0,240.0M359.8,239.0L357.0,240.0L357.7,237.1M366.2,240.0L365.7,239.6M366.8,242.4L365.7,239.6L368.6,240.2M375.2,239.9L374.3,239.7M376.6,241.7L374.3,239.7L377.2,238.9M384.0,239.9L383.2,239.7M385.5,241.6L383.2,239.7L386.0,238.8M392.6,239.5L392.3,240.1M394.7,238.4L392.3,240.1L392.2,237.1M401.8,239.7L400.7,239.9M403.6,240.8L400.7,239.9L403.0,238.0M410.6,240.0L409.6,239.6M411.6,241.8L409.6,239.6L412.5,239.1M418.8,239.6L419.0,240.0M419.0,237.0L419.0,240.0L416.5,238.4M427.5,239.9L427.9,239.7M424.9,239.4L427.9,239.7L426.0,242.1M437.0,240.6L436.0,239.0M436.2,242.0L436.0,239.0L438.7,240.5M445.5,241.4L445.2,238.2M444.0,241.0L445.2,238.2L446.9,240.7M454.1,242.7L454.2,236.9M452.7,239.5L454.2,236.9L455.6,239.6M463.3,242.9L462.6,236.7M461.5,239.5L462.6,236.7L464.4,239.2M472.0,241.8L471.6,237.8M470.4,240.6L471.6,237.8L473.3,240.3M39.5,229.9L39.8,228.7M37.7,230.8L39.8,228.7L40.5,231.6M48.1,229.6L48.8,229.0M45.8,229.5L48.8,229.0L47.6,231.8M56.6,229.5L58.0,229.1M55.1,228.3L58.0,229.1L55.7,231.1M65.1,230.5L67.0,228.1M64.2,229.3L67.0,228.1L66.5,231.1M73.3,231.6L76.5,227.0M73.8,228.3L76.5,227.0L76.2,230.0M81.3,231.8L86.2,226.8M83.3,227.6L86.2,226.8L85.4,229.6M90.0,232.0L95.1,226.6M92.3,227.5L95.1,226.6L94.3,229.5M100.0,231.5L102.7,227.1M100.1,228.6L102.7,227.1L102.6,230.1M109.0,230.7L111.3,227.9M108.6,229.0L111.3,227.9L110.8,230.8M118.5,230.6L119.5,228.0M117.2,230.0L119.5,228.0L119.9,231.0M128.0,229.6L127.7,229.0M127.3,231.9L127.7,229.0L130.0,230.9M137.2,229.3L136.1,229.3M138.8,230.7L136.1,229.3L138.7,227.8M146.2,229.2L144.7,229.4M147.5,230.5L144.7,229.4L147.2,227.7M154.6,229.9L153.9,228.7M154.0,231.7L153.9,228.7L156.5,230.2M163.8,229.4L162.4,229.2M164.7,231.1L162.4,229.2L165.2,228.3M172.0,229.8L171.8,228.8M170.9,231.6L171.8,228.8L173.7,231.1M181.1,229.4L180.3,229.2M182.6,231.2L180.3,229.2L183.2,228.4M190.0,229.4L189.1,229.2M191.5,231.0L189.1,229.2L191.8,228.1M198.6,230.0L198.1,228.6M197.7,231.6L198.1,228.6L200.4,230.6M207.6,229.8L206.8,228.8M207.3,231.8L206.8,228.8L209.6,230.1M216.3,229.8L215.7,228.8M215.8,231.8L215.7,228.8L218.3,230.3M225.4,229.9L224.3,228.7M225.1,231.6L224.3,228.7L227.2,229.7M234.0,230.0L233.3,228.6M233.2,231.6L233.3,228.6L235.8,230.2M242.7,230.2L242.3,228.4M241.5,231.3L242.3,228.4L244.3,230.7M251.7,229.9L250.9,228.7M251.2,231.7L250.9,228.7L253.6,230.1M260.1,229.8L260.1,228.8M258.6,231.4L260.1,228.8L261.5,231.5M269.2,230.0L268.7,228.6M268.2,231.6L268.7,228.6L270.9,230.6M278.4,229.4L277.2,229.2M279.6,231.0L277.2,229.2L280.0,228.1M286.7,229.4L286.4,229.2M288.3,231.6L286.4,229.2L289.4,229.0M295.8,229.4L295.0,229.2M297.1,231.3L295.0,229.2L297.9,228.6M304.2,229.2L304.2,229.4M304.8,226.4L304.2,229.4L302.1,227.3M313.0,229.4L313.1,229.2M311.1,231.5L313.1,229.2L314.0,232.1M321.3,228.7L322.4,229.9M321.8,227.0L322.4,229.9L319.6,228.8M330.0,228.7L331.4,229.9M330.3,227.1L331.4,229.9L328.4,229.2M340.0,229.0L339.0,229.6M342.0,229.5L339.0,229.6L340.5,227.1M348.7,229.4L347.9,229.2M350.0,231.3L347.9,229.2L350.9,228.6M357.9,229.5L356.4,229.1M358.6,231.1L356.4,229.1L359.3,228.3M366.3,229.3L365.6,229.3M368.4,230.5L365.6,229.3L368.1,227.7M374.8,229.0L374.8,229.6M376.4,227.1L374.8,229.6L373.6,226.8M384.2,229.0L383.0,229.6M386.0,229.7L383.0,229.6L384.8,227.1M392.4,228.9L392.5,229.7M393.5,226.9L392.5,229.7L390.7,227.3M401.3,229.2L401.2,229.4M403.2,227.1L401.2,229.4L400.4,226.5M409.8,228.8L410.3,229.8M410.5,226.8L410.3,229.8L407.9,228.0M418.8,228.7L419.0,229.9M419.8,227.0L419.0,229.9L417.0,227.6M427.8,229.5L427.6,229.1M427.5,232.1L427.6,229.1L430.1,230.8M436.6,229.7L436.5,228.9M435.3,231.6L436.5,228.9L438.1,231.4M445.7,231.0L445.0,227.6M444.1,230.5L445.0,227.6L446.9,229.9M454.1,232.4L454.2,226.2M452.7,228.8L454.2,226.2L455.6,228.9M463.2,232.1L462.8,226.5M461.5,229.3L462.8,226.5L464.4,229.1M472.1,231.4L471.5,227.2M470.5,230.1L471.5,227.2L473.3,229.6M39.9,218.7L39.4,218.9M42.2,219.7L39.4,218.9L41.6,216.9M48.2,219.0L48.7,218.6M45.7,219.2L48.7,218.6L47.6,221.4M57.4,219.0L57.1,218.6M57.2,221.6L57.1,218.6L59.7,220.1M65.3,219.8L66.9,217.8M64.1,219.0L66.9,217.8L66.4,220.7M73.7,219.9L76.1,217.7M73.2,218.4L76.1,217.7L75.1,220.5M81.6,220.8L85.9,216.8M83.0,217.5L85.9,216.8L84.9,219.7M90.5,221.7L94.6,215.9M91.9,217.2L94.6,215.9L94.2,218.9M99.4,222.1L103.3,215.5M100.8,217.0L103.3,215.5L103.2,218.5M108.6,221.3L111.8,216.3M109.2,217.7L111.8,216.3L111.6,219.2M117.9,220.7L120.1,216.9M117.5,218.5L120.1,216.9L120.0,219.9M127.3,219.9L128.3,217.7M125.9,219.5L128.3,217.7L128.5,220.7M136.8,219.7L136.5,217.9M135.5,220.7L136.5,217.9L138.4,220.2M145.3,219.2L145.6,218.4M143.4,220.5L145.6,218.4L146.2,221.3M154.9,218.9L153.7,218.7M155.9,220.6L153.7,218.7L156.6,217.8M163.2,219.2L163.0,218.4M162.3,221.3L163.0,218.4L165.0,220.6M172.1,219.1L171.7,218.5M172.2,221.5L171.7,218.5L174.5,219.8M181.0,219.3L180.5,218.3M180.3,221.3L180.5,218.3L182.9,220.1M190.1,218.7L189.0,218.9M191.8,219.9L189.0,218.9L191.4,217.1M198.4,219.1L198.4,218.5M196.9,221.1L198.4,218.5L199.8,221.1M207.4,219.4L207.0,218.2M206.5,221.2L207.0,218.2L209.2,220.2M216.1,219.4L215.9,218.2M214.8,221.0L215.9,218.2L217.7,220.6M224.8,219.2L224.9,218.4M223.2,220.8L224.9,218.4L226.1,221.1M233.7,219.2L233.6,218.4M232.6,221.3L233.6,218.4L235.4,220.8M242.9,219.8L242.0,217.8M241.8,220.8L242.0,217.8L244.4,219.6M251.8,219.7L250.8,217.9M250.9,220.9L250.8,217.9L253.4,219.5M260.7,219.7L259.6,217.9M259.8,220.9L259.6,217.9L262.2,219.3M269.2,219.0L268.7,218.6M269.9,221.4L268.7,218.6L271.7,219.1M278.1,218.8L277.5,218.8M279.9,220.5L277.5,218.8L280.2,217.6M286.6,219.4L286.6,218.2M285.1,220.8L286.6,218.2L288.0,220.9M295.6,219.0L295.2,218.6M295.8,221.5L295.2,218.6L298.0,219.7M304.8,218.6L303.7,219.0M306.7,219.4L303.7,219.0L305.6,216.7M313.4,218.8L312.7,218.8M315.3,220.3L312.7,218.8L315.3,217.4M322.0,218.5L321.8,219.1M323.9,217.0L321.8,219.1L321.2,216.2M330.8,218.9L330.6,218.7M331.4,221.6L330.6,218.7L333.4,219.5M339.8,219.1L339.2,218.5M340.0,221.4L339.2,218.5L342.1,219.4M348.2,218.5L348.4,219.1M348.9,216.2L348.4,219.1L346.2,217.1M357.5,219.1L356.8,218.5M357.8,221.3L356.8,218.5L359.7,219.2M366.2,218.9L365.7,218.7M367.7,220.9L365.7,218.7L368.6,218.2M374.6,218.4L375.0,219.2M375.1,216.2L375.0,219.2L372.5,217.5M383.3,218.9L383.9,218.7M381.0,218.0L383.9,218.7L381.7,220.8M392.0,218.3L392.8,219.3M392.3,216.4L392.8,219.3L390.0,218.2M400.9,217.9L401.5,219.7M402.1,216.8L401.5,219.7L399.3,217.7M410.1,218.4L410.0,219.2M411.7,216.7L410.0,219.2L408.8,216.4M418.5,217.9L419.3,219.7M419.5,216.7L419.3,219.7L416.9,217.9M427.5,218.8L427.9,218.8M425.3,217.2L427.9,218.8L425.2,220.1M436.5,219.3L436.5,218.3M435.2,221.0L436.5,218.3L438.0,220.9M445.8,220.8L444.9,216.8M444.1,219.7L444.9,216.8L446.9,219.1M454.6,222.0L453.7,215.6M452.7,218.4L453.7,215.6L455.5,218.0M463.3,221.9L462.7,215.7M461.5,218.4L462.7,215.7L464.4,218.1M472.3,220.9L471.3,216.7M470.5,219.6L471.3,216.7L473.3,218.9M39.8,208.7L39.5,207.9M38.9,210.8L39.5,207.9L41.7,209.9M48.5,208.6L48.4,208.0M47.6,210.9L48.4,208.0L50.4,210.2M57.7,208.2L56.8,208.4M59.7,209.2L56.8,208.4L59.1,206.4M66.2,208.4L66.0,208.2M66.8,211.1L66.0,208.2L68.9,209.0M74.2,208.9L75.6,207.7M72.7,208.4L75.6,207.7L74.7,210.5M82.9,210.0L84.5,206.6M82.1,208.4L84.5,206.6L84.7,209.6M91.1,210.6L94.0,206.0M91.4,207.5L94.0,206.0L93.8,209.0M98.8,211.4L103.9,205.2M101.1,206.3L103.9,205.2L103.4,208.1M107.8,211.8L112.6,204.8M109.9,206.2L112.6,204.8L112.3,207.8M116.4,211.0L121.6,205.6M118.7,206.5L121.6,205.6L120.8,208.5M126.1,210.6L129.5,206.0M126.8,207.3L129.5,206.0L129.1,209.0M135.9,209.9L137.3,206.7M135.0,208.5L137.3,206.7L137.6,209.7M145.0,209.0L145.9,207.6M143.3,209.0L145.9,207.6L145.7,210.6M154.4,208.4L154.1,208.2M155.8,210.7L154.1,208.2L157.1,208.2M163.3,208.5L162.9,208.1M163.9,210.9L162.9,208.1L165.8,208.8M172.2,208.6L171.6,208.0M172.5,210.9L171.6,208.0L174.5,208.8M180.6,208.6L180.9,208.0M178.4,209.7L180.9,208.0L180.9,211.0M189.9,208.5L189.2,208.1M190.9,210.6L189.2,208.1L192.2,208.1M198.6,208.2L198.1,208.4M201.0,209.2L198.1,208.4L200.4,206.4M207.6,208.3L206.8,208.3M209.6,209.5L206.8,208.3L209.3,206.6M216.5,208.4L215.6,208.2M217.9,210.1L215.6,208.2L218.4,207.3M224.9,208.9L224.8,207.7M223.5,210.4L224.8,207.7L226.4,210.3M233.8,208.9L233.5,207.7M232.8,210.6L233.5,207.7L235.6,209.9M242.8,208.9L242.2,207.7M242.0,210.7L242.2,207.7L244.6,209.4M251.5,208.4L251.1,208.2M253.3,210.3L251.1,208.2L254.0,207.5M259.9,208.4L260.3,208.2M257.4,207.5L260.3,208.2L258.1,210.3M269.4,208.7L268.5,207.9M269.3,210.8L268.5,207.9L271.4,208.8M277.6,208.8L277.9,207.8M275.8,209.9L277.9,207.8L278.6,210.7M286.5,208.6L286.6,208.0M284.8,210.4L286.6,208.0L287.7,210.8M295.2,208.8L295.6,207.8M293.2,209.5L295.6,207.8L295.7,210.8M304.1,208.5L304.3,208.1M301.7,209.5L304.3,208.1L304.1,211.1M313.4,208.7L312.7,207.9M313.3,210.9L312.7,207.9L315.5,209.1M321.7,208.3L322.1,208.3M319.4,207.0L322.1,208.3L319.5,209.9M330.9,208.4L330.5,208.2M332.6,210.4L330.5,208.2L333.4,207.6M339.2,208.5L339.8,208.1M336.8,208.2L339.8,208.1L338.3,210.7M348.2,208.5L348.5,208.1M345.6,209.0L348.5,208.1L347.7,211.0M357.1,208.0L357.2,208.6M358.4,205.9L357.2,208.6L355.5,206.1M365.4,208.3L366.5,208.3M363.8,207.0L366.5,208.3L364.0,209.9M374.7,208.1L374.8,208.5M375.3,205.5L374.8,208.5L372.6,206.5M382.9,207.6L384.3,209.0M383.4,206.1L384.3,209.0L381.4,208.2M391.8,207.7L393.1,208.9M392.1,206.1L393.1,208.9L390.2,208.2M400.3,207.3L402.2,209.3M401.4,206.4L402.2,209.3L399.3,208.3M409.3,207.3L410.8,209.3M410.4,206.4L410.8,209.3L408.1,208.1M418.7,207.9L419.0,208.7M419.5,205.8L419.0,208.7L416.8,206.7M427.4,208.1L428.0,208.5M426.4,205.9L428.0,208.5L425.0,208.4M436.5,209.3L436.6,207.3M435.0,209.9L436.6,207.3L437.9,210.0M445.3,210.4L445.3,206.2M443.9,208.9L445.3,206.2L446.8,208.9M454.2,211.0L454.1,205.6M452.7,208.2L454.1,205.6L455.6,208.2M463.3,211.6L462.7,205.0M461.5,207.8L462.7,205.0L464.4,207.5M471.8,210.2L471.8,206.4M470.4,209.1L471.8,206.4L473.2,209.0M39.7,198.0L39.6,197.6M38.6,200.4L39.6,197.6L41.4,200.0M48.9,197.6L47.9,198.0M50.9,198.5L47.9,198.0L50.0,195.8M57.6,198.1L56.9,197.5M57.8,200.3L56.9,197.5L59.8,198.3M66.3,197.9L65.8,197.7M67.5,200.2L65.8,197.7L68.8,197.6M75.2,198.3L74.6,197.3M74.8,200.3L74.6,197.3L77.2,198.8M83.3,198.8L84.2,196.8M81.8,198.6L84.2,196.8L84.4,199.8M91.6,199.5L93.4,196.1M90.9,197.8L93.4,196.1L93.5,199.1M99.2,200.3L103.5,195.3M100.7,196.3L103.5,195.3L102.9,198.2M107.5,200.8L112.9,194.8M110.0,195.8L112.9,194.8L112.2,197.7M116.1,201.0L121.9,194.6M119.1,195.6L121.9,194.6L121.2,197.6M125.5,200.5L130.2,195.1M127.4,196.1L130.2,195.1L129.5,198.0M134.4,200.1L138.9,195.5M136.0,196.4L138.9,195.5L138.1,198.4M143.9,199.0L147.1,196.6M144.1,197.0L147.1,196.6L145.8,199.3M153.3,199.0L155.3,196.6M152.5,197.7L155.3,196.6L154.6,199.6M162.0,198.2L164.2,197.4M161.3,196.9L164.2,197.4L162.2,199.6M171.5,198.3L172.4,197.3M169.5,198.2L172.4,197.3L171.6,200.2M180.3,197.8L181.1,197.8M178.7,196.1L181.1,197.8L178.4,199.0M189.4,198.2L189.7,197.4M187.4,199.3L189.7,197.4L190.1,200.4M197.8,198.2L199.0,197.4M196.0,197.5L199.0,197.4L197.5,200.0M207.1,197.9L207.3,197.7M204.4,198.4L207.3,197.7L206.4,200.5M215.5,198.0L216.5,197.6M213.5,197.2L216.5,197.6L214.6,199.9M224.3,198.3L225.4,197.3M222.5,198.0L225.4,197.3L224.4,200.1M233.0,197.9L234.3,197.7M231.6,196.5L234.3,197.7L231.8,199.4M242.4,198.3L242.6,197.3M240.6,199.6L242.6,197.3L243.4,200.2M250.9,198.0L251.7,197.6M248.7,197.4L251.7,197.6L249.9,200.0M259.8,198.2L260.4,197.4M257.8,198.8L260.4,197.4L260.1,200.4M268.6,198.2L269.3,197.4M266.4,198.2L269.3,197.4L268.4,200.3M277.2,197.6L278.3,198.0M276.2,195.8L278.3,198.0L275.4,198.6M286.3,197.8L286.9,197.8M284.2,196.5L286.9,197.8L284.3,199.4M294.7,198.1L296.1,197.5M293.2,197.1L296.1,197.5L294.2,199.8M303.4,197.5L305.0,198.1M303.0,195.9L305.0,198.1L302.1,198.6M312.5,197.8L313.6,197.8M311.0,196.4L313.6,197.8L311.0,199.2M320.9,197.7L322.8,197.9M320.4,196.2L322.8,197.9L320.1,199.1M329.9,197.4L331.5,198.2M329.8,195.7L331.5,198.2L328.5,198.3M338.4,197.8L340.6,197.8M338.0,196.4L340.6,197.8L338.0,199.2M347.5,197.6L349.2,198.0M347.0,195.9L349.2,198.0L346.2,198.7M355.9,197.0L358.4,198.6M356.9,195.9L358.4,198.6L355.4,198.4M364.3,197.0L367.7,198.6M365.9,196.2L367.7,198.6L364.7,198.8M372.9,197.0L376.7,198.6M374.8,196.3L376.7,198.6L373.7,198.9M382.5,196.5L384.7,199.1M384.1,196.2L384.7,199.1L381.9,198.0M390.6,196.2L394.2,199.4M393.2,196.6L394.2,199.4L391.3,198.7M400.2,196.7L402.3,198.9M401.5,196.0L402.3,198.9L399.4,198.0M409.1,197.0L411.0,198.6M409.9,195.8L411.0,198.6L408.1,198.1M418.5,197.4L419.3,198.2M418.5,195.3L419.3,198.2L416.4,197.2M427.7,197.6L427.7,198.0M429.0,195.2L427.7,198.0L426.1,195.4M437.0,198.8L436.0,196.8M435.9,199.8L436.0,196.8L438.5,198.6M445.3,199.6L445.4,196.0M443.9,198.6L445.4,196.0L446.7,198.7M454.1,200.7L454.2,194.9M452.7,197.5L454.2,194.9L455.6,197.5M463.1,200.5L462.9,195.1M461.5,197.8L462.9,195.1L464.4,197.7M471.8,200.0L471.8,195.6M470.4,198.2L471.8,195.6L473.2,198.2M39.8,187.5L39.4,187.1M40.2,190.0L39.4,187.1L42.3,188.0M48.6,187.5L48.3,187.1M48.8,190.0L48.3,187.1L51.0,188.2M57.5,187.1L57.0,187.5M59.9,186.8L57.0,187.5L58.0,184.7M66.3,187.6L65.9,187.0M66.1,190.0L65.9,187.0L68.5,188.5M75.0,187.6L74.8,187.0M74.7,190.0L74.8,187.0L77.3,188.7M83.3,188.0L84.1,186.6M81.5,188.1L84.1,186.6L84.0,189.6M92.1,188.3L93.0,186.3M90.6,188.2L93.0,186.3L93.3,189.3M100.2,189.0L102.5,185.6M99.8,187.0L102.5,185.6L102.2,188.6M107.6,189.9L112.7,184.7M109.8,185.6L112.7,184.7L111.9,187.6M116.3,190.6L121.7,184.0M119.0,185.1L121.7,184.0L121.2,187.0M124.6,191.1L131.0,183.5M128.2,184.6L131.0,183.5L130.4,186.5M133.2,190.0L140.0,184.6M137.1,185.1L140.0,184.6L138.9,187.4M142.5,189.4L148.4,185.2M145.4,185.6L148.4,185.2L147.1,187.9M152.1,189.1L156.5,185.5M153.5,186.1L156.5,185.5L155.4,188.3M160.9,187.6L165.3,187.0M162.5,185.9L165.3,187.0L162.9,188.8M169.4,187.6L174.5,187.0M171.7,185.9L174.5,187.0L172.0,188.7M178.6,187.5L182.9,187.1M180.1,185.9L182.9,187.1L180.4,188.8M187.8,187.3L191.4,187.3M188.7,185.8L191.4,187.3L188.7,188.7M196.4,187.4L200.3,187.2M197.6,185.9L200.3,187.2L197.8,188.8M205.2,187.5L209.2,187.1M206.5,185.9L209.2,187.1L206.7,188.8M214.3,187.6L217.8,187.0M214.9,186.0L217.8,187.0L215.5,188.9M223.2,187.4L226.5,187.2M223.8,186.0L226.5,187.2L224.0,188.8M231.9,187.3L235.4,187.3M232.8,185.9L235.4,187.3L232.8,188.7M241.0,187.5L244.0,187.1M241.2,186.0L244.0,187.1L241.5,188.8M249.2,187.5L253.4,187.1M250.6,185.9L253.4,187.1L251.0,188.8M258.2,187.4L262.0,187.2M259.4,185.9L262.0,187.2L259.4,188.8M267.2,187.0L270.7,187.6M268.3,185.7L270.7,187.6L267.8,188.6M276.0,187.1L279.6,187.5M277.1,185.8L279.6,187.5L276.8,188.6M284.8,187.6L288.3,187.0M285.5,186.0L288.3,187.0L285.9,188.8M293.1,187.3L297.7,187.3M295.1,185.9L297.7,187.3L295.1,188.7M302.4,187.3L306.0,187.3M303.4,185.9L306.0,187.3L303.4,188.7M310.9,186.9L315.2,187.7M312.9,185.8L315.2,187.7L312.3,188.6M319.9,187.2L323.9,187.4M321.3,185.8L323.9,187.4L321.2,188.7M328.0,186.8L333.4,187.8M331.0,185.9L333.4,187.8L330.6,188.7M337.2,187.1L341.8,187.5M339.2,185.8L341.8,187.5L339.0,188.7M346.0,186.4L350.7,188.2M348.8,185.9L350.7,188.2L347.7,188.6M354.4,186.2L359.9,188.4M358.0,186.1L359.9,188.4L356.9,188.7M363.0,186.4L368.9,188.2M366.8,186.1L368.9,188.2L366.0,188.8M371.9,186.2L377.6,188.4M375.7,186.1L377.6,188.4L374.7,188.8M380.8,186.5L386.4,188.1M384.3,186.0L386.4,188.1L383.4,188.7M390.5,185.6L394.4,189.0M393.3,186.2L394.4,189.0L391.4,188.3M399.7,186.4L402.8,188.2M401.2,185.6L402.8,188.2L399.8,188.1M409.1,186.9L411.0,187.7M409.1,185.4L411.0,187.7L408.0,188.0M418.4,186.9L419.3,187.7M418.3,184.9L419.3,187.7L416.4,187.0M427.7,187.0L427.7,187.6M429.2,185.0L427.7,187.6L426.3,184.9M436.7,188.2L436.4,186.4M435.4,189.3L436.4,186.4L438.3,188.8M445.4,189.0L445.3,185.6M443.9,188.2L445.3,185.6L446.8,188.1M454.4,190.4L453.9,184.2M452.7,186.9L453.9,184.2L455.6,186.7M463.3,190.3L462.6,184.3M461.5,187.1L462.6,184.3L464.4,186.8M471.9,189.3L471.7,185.3M470.4,188.0L471.7,185.3L473.3,187.8M40.0,176.8L39.2,176.8M41.8,178.3L39.2,176.8L41.9,175.4M48.8,177.0L48.1,176.6M49.8,179.0L48.1,176.6L51.1,176.4M57.4,176.6L57.2,177.0M59.6,175.3L57.2,177.0L57.1,174.0M66.4,176.9L65.8,176.7M67.8,178.9L65.8,176.7L68.8,176.2M75.4,177.0L74.4,176.6M76.1,179.0L74.4,176.6L77.4,176.5M84.1,177.0L83.3,176.6M85.2,179.0L83.3,176.6L86.3,176.4M92.4,177.6L92.7,176.0M90.7,178.3L92.7,176.0L93.5,178.9M100.5,177.9L102.2,175.7M99.5,176.8L102.2,175.7L101.7,178.7M108.6,178.2L111.7,175.4M108.8,176.1L111.7,175.4L110.8,178.2M116.5,179.5L121.5,174.1M118.7,175.0L121.5,174.1L120.8,177.0M124.3,178.9L131.3,174.7M128.3,174.8L131.3,174.7L129.8,177.3M133.1,179.7L140.2,173.9M137.3,174.4L140.2,173.9L139.1,176.7M141.5,179.4L149.5,174.2M146.5,174.4L149.5,174.2L148.0,176.8M149.6,177.2L159.0,176.4M156.2,175.2L159.0,176.4L156.5,178.1M158.8,177.0L167.4,176.6M164.7,175.3L167.4,176.6L164.9,178.1M167.8,177.3L176.1,176.3M173.3,175.2L176.1,176.3L173.7,178.0M176.6,177.4L184.9,176.2M182.1,175.1L184.9,176.2L182.5,178.0M185.7,176.9L193.4,176.7M190.7,175.3L193.4,176.7L190.8,178.2M194.6,176.6L202.2,177.0M199.6,175.4L202.2,177.0L199.5,178.3M203.2,176.9L211.2,176.7M208.5,175.3L211.2,176.7L208.6,178.2M212.4,177.0L219.6,176.6M216.9,175.3L219.6,176.6L217.1,178.2M221.1,176.9L228.6,176.7M225.9,175.3L228.6,176.7L226.0,178.2M229.8,176.5L237.5,177.1M235.0,175.5L237.5,177.1L234.8,178.3M238.4,176.8L246.6,176.8M244.0,175.4L246.6,176.8L243.9,178.2M247.6,176.7L255.0,176.9M252.4,175.4L255.0,176.9L252.4,178.3M256.0,176.9L264.2,176.7M261.6,175.3L264.2,176.7L261.6,178.2M265.2,176.5L272.7,177.1M270.2,175.4L272.7,177.1L270.0,178.3M274.2,176.8L281.3,176.8M278.7,175.4L281.3,176.8L278.6,178.2M282.5,176.4L290.7,177.2M288.2,175.5L290.7,177.2L287.9,178.4M291.6,176.9L299.2,176.7M296.5,175.3L299.2,176.7L296.6,178.2M300.2,176.5L308.3,177.1M305.8,175.5L308.3,177.1L305.6,178.3M309.1,176.0L317.0,177.6M314.7,175.7L317.0,177.6L314.2,178.5M317.8,176.4L325.9,177.2M323.4,175.5L325.9,177.2L323.1,178.4M327.2,176.5L334.2,177.1M331.7,175.4L334.2,177.1L331.4,178.3M335.8,176.3L343.2,177.3M340.8,175.5L343.2,177.3L340.4,178.4M344.9,176.6L351.8,177.0M349.2,175.4L351.8,177.0L349.0,178.3M353.7,175.6L360.6,178.0M358.5,175.8L360.6,178.0L357.6,178.5M363.0,175.5L368.9,178.1M367.1,175.7L368.9,178.1L365.9,178.4M372.0,176.2L377.6,177.4M375.3,175.4L377.6,177.4L374.7,178.2M381.4,175.8L385.8,177.8M384.0,175.4L385.8,177.8L382.8,178.0M391.1,175.3L393.7,178.3M393.0,175.3L393.7,178.3L390.9,177.3M400.8,176.1L401.7,177.5M401.4,174.5L401.7,177.5L399.0,176.1M409.5,176.3L410.6,177.3M409.6,174.5L410.6,177.3L407.7,176.6M418.8,176.9L419.0,176.7M416.0,177.0L419.0,176.7L417.6,179.4M427.9,177.0L427.5,176.6M428.5,179.5L427.5,176.6L430.4,177.3M436.9,177.6L436.1,176.0M436.1,179.0L436.1,176.0L438.6,177.7M445.6,178.5L445.1,175.1M444.1,178.0L445.1,175.1L446.9,177.5M454.4,179.9L453.9,173.7M452.7,176.5L453.9,173.7L455.6,176.2M463.5,180.0L462.4,173.6M461.5,176.5L462.4,173.6L464.3,176.0M471.9,179.0L471.7,174.6M470.4,177.4L471.7,174.6L473.3,177.2M49.0,166.6L47.9,166.0M49.6,168.5L47.9,166.0L50.9,165.9M57.5,166.1L57.0,166.5M60.0,166.3L57.0,166.5L58.5,163.9M66.3,166.1L65.9,166.5M68.8,166.1L65.9,166.5L67.1,163.7M75.5,166.7L74.3,165.9M75.7,168.6L74.3,165.9L77.3,166.2M83.8,166.5L83.7,166.1M83.0,169.0L83.7,166.1L85.8,168.2M92.5,166.6L92.5,166.0M91.1,168.7L92.5,166.0L94.0,168.6M101.5,166.9L101.2,165.7M100.5,168.6L101.2,165.7L103.3,167.9M109.9,166.9L110.4,165.7M108.1,167.6L110.4,165.7L110.8,168.7M117.8,167.9L120.2,164.7M117.5,165.9L120.2,164.7L119.8,167.7M125.7,167.9L130.0,164.7M127.0,165.1L130.0,164.7L128.7,167.4M134.0,168.0L139.3,164.6M136.3,164.8L139.3,164.6L137.8,167.2M141.9,168.3L149.1,164.3M146.1,164.3L149.1,164.3L147.5,166.8M149.9,166.8L158.6,165.8M155.9,164.7L158.6,165.8L156.2,167.5M158.8,167.2L167.4,165.4M164.5,164.5L167.4,165.4L165.1,167.3M167.1,166.7L176.8,165.9M174.1,164.7L176.8,165.9L174.3,167.6M176.2,166.6L185.2,166.0M182.5,164.7L185.2,166.0L182.7,167.6M184.7,166.6L194.5,166.0M191.7,164.7L194.5,166.0L191.9,167.6M193.6,166.1L203.1,166.5M200.5,164.9L203.1,166.5L200.5,167.8M202.5,166.1L211.9,166.5M209.3,164.9L211.9,166.5L209.2,167.8M211.5,166.5L220.5,166.1M217.8,164.8L220.5,166.1L218.0,167.6M220.0,166.7L229.7,165.9M227.0,164.7L229.7,165.9L227.2,167.6M229.1,166.0L238.2,166.6M235.7,165.0L238.2,166.6L235.5,167.9M237.9,166.0L247.1,166.6M244.5,165.0L247.1,166.6L244.4,167.9M246.9,166.5L255.7,166.1M253.0,164.8L255.7,166.1L253.1,167.7M255.7,166.5L264.5,166.1M261.8,164.8L264.5,166.1L261.9,167.7M264.2,166.4L273.7,166.2M271.0,164.8L273.7,166.2L271.1,167.7M273.4,166.4L282.2,166.2M279.5,164.8L282.2,166.2L279.6,167.7M282.3,166.2L290.9,166.4M288.3,164.9L290.9,166.4L288.2,167.8M291.3,166.4L299.5,166.2M296.9,164.8L299.5,166.2L296.9,167.7M300.4,165.9L308.1,166.7M305.6,165.0L308.1,166.7L305.3,167.9M309.2,166.0L316.9,166.6M314.4,165.0L316.9,166.6L314.2,167.8M318.3,166.0L325.4,166.6M322.9,165.0L325.4,166.6L322.7,167.8M327.3,166.2L334.1,166.4M331.5,164.9L334.1,166.4L331.4,167.8M336.0,166.0L343.0,166.6M340.5,164.9L343.0,166.6L340.2,167.8M345.4,165.8L351.2,166.8M348.9,164.9L351.2,166.8L348.4,167.8M354.8,165.6L359.5,167.0M357.4,164.9L359.5,167.0L356.6,167.6M363.6,165.8L368.3,166.8M366.0,164.8L368.3,166.8L365.5,167.7M373.2,165.5L376.4,167.1M374.7,164.6L376.4,167.1L373.4,167.2M382.2,166.1L385.0,166.5M382.6,164.7L385.0,166.5L382.2,167.6M391.7,165.8L393.2,166.8M391.7,164.1L393.2,166.8L390.2,166.6M401.0,165.6L401.5,167.0M402.1,164.1L401.5,167.0L399.3,164.9M410.3,165.8L409.8,166.8M412.2,165.0L409.8,166.8L409.6,163.8M419.1,166.5L418.7,166.1M419.4,169.0L418.7,166.1L421.5,167.1M428.0,166.8L427.4,165.8M427.4,168.8L427.4,165.8L430.0,167.4M436.7,167.4L436.4,165.2M435.3,168.0L436.4,165.2L438.2,167.6M445.4,168.3L445.3,164.3M443.9,167.0L445.3,164.3L446.8,166.9M454.6,169.5L453.8,163.1M452.7,165.9L453.8,163.1L455.5,165.5M463.2,169.4L462.8,163.2M461.5,165.9L462.8,163.2L464.4,165.7M471.8,168.4L471.8,164.2M470.4,166.8L471.8,164.2L473.2,166.8M48.7,155.8L48.1,155.8M50.7,157.4L48.1,155.8L50.9,154.5M57.7,155.7L56.8,155.9M59.7,156.5L56.8,155.9L58.9,153.8M66.5,155.7L65.7,155.9M68.5,156.9L65.7,155.9L68.1,154.0M75.1,156.0L74.7,155.6M75.9,158.3L74.7,155.6L77.6,156.0M84.1,156.2L83.4,155.4M84.3,158.3L83.4,155.4L86.2,156.2M93.0,155.6L92.1,156.0M95.0,156.5L92.1,156.0L94.1,153.8M101.7,155.9L101.1,155.7M103.3,157.7L101.1,155.7L103.9,154.9M110.4,156.1L109.9,155.5M110.6,158.4L109.9,155.5L112.7,156.5M118.7,156.3L119.3,155.3M116.7,156.8L119.3,155.3L119.1,158.3M127.1,156.8L128.5,154.8M125.9,156.1L128.5,154.8L128.2,157.7M135.3,157.1L138.0,154.5M135.1,155.3L138.0,154.5L137.1,157.4M143.6,157.1L147.3,154.5M144.3,154.9L147.3,154.5L146.0,157.2M151.7,156.3L156.8,155.3M154.0,154.4L156.8,155.3L154.5,157.2M159.9,156.0L166.3,155.6M163.6,154.3L166.3,155.6L163.8,157.2M168.6,156.0L175.3,155.6M172.6,154.3L175.3,155.6L172.7,157.2M177.7,156.4L183.8,155.2M180.9,154.3L183.8,155.2L181.5,157.1M186.5,155.8L192.6,155.8M190.0,154.4L192.6,155.8L190.0,157.2M194.8,156.0L201.9,155.6M199.2,154.3L201.9,155.6L199.4,157.2M203.8,155.8L210.6,155.8M208.0,154.4L210.6,155.8L208.0,157.2M212.4,156.1L219.7,155.5M216.9,154.3L219.7,155.5L217.2,157.1M221.1,156.0L228.6,155.6M225.9,154.3L228.6,155.6L226.1,157.2M230.0,156.0L237.3,155.6M234.6,154.3L237.3,155.6L234.7,157.2M239.3,155.5L245.7,156.1M243.2,154.4L245.7,156.1L242.9,157.3M247.8,155.6L254.8,156.0M252.3,154.4L254.8,156.0L252.1,157.3M257.2,156.1L263.1,155.5M260.3,154.3L263.1,155.5L260.6,157.2M266.0,156.0L271.9,155.6M269.2,154.3L271.9,155.6L269.4,157.2M274.8,155.8L280.7,155.8M278.1,154.4L280.7,155.8L278.1,157.2M283.9,155.8L289.2,155.8M286.6,154.4L289.2,155.8L286.6,157.2M292.4,155.9L298.4,155.7M295.7,154.4L298.4,155.7L295.8,157.2M301.2,155.6L307.2,156.0M304.6,154.4L307.2,156.0L304.5,157.3M310.3,155.7L315.8,155.9M313.2,154.4L315.8,155.9L313.1,157.2M319.6,155.4L324.1,156.2M321.8,154.3L324.1,156.2L321.3,157.2M328.7,155.9L332.7,155.7M330.0,154.4L332.7,155.7L330.1,157.3M337.4,155.4L341.6,156.2M339.3,154.3L341.6,156.2L338.7,157.1M346.8,155.9L349.8,155.7M347.1,154.5L349.8,155.7L347.3,157.3M355.6,155.3L358.7,156.3M356.7,154.1L358.7,156.3L355.7,156.8M365.4,155.7L366.5,155.9M364.3,153.9L366.5,155.9L363.6,156.7M374.5,155.4L375.1,156.2M374.8,153.2L375.1,156.2L372.4,154.8M383.5,155.4L383.7,156.2M384.6,153.4L383.7,156.2L381.7,153.9M392.1,156.0L392.7,155.6M389.7,156.1L392.7,155.6L391.5,158.3M401.2,155.8L401.3,155.8M398.3,155.7L401.3,155.8L399.6,158.2M410.1,155.5L410.0,156.1M411.8,153.6L410.0,156.1L408.9,153.3M419.3,156.2L418.5,155.4M419.5,158.2L418.5,155.4L421.4,156.0M427.7,156.1L427.7,155.5M426.1,158.0L427.7,155.5L429.0,158.2M436.5,156.6L436.5,155.0M435.1,157.6L436.5,155.0L437.9,157.7M445.5,157.6L445.2,154.0M444.0,156.7L445.2,154.0L446.8,156.5M454.4,158.9L453.9,152.7M452.7,155.5L453.9,152.7L455.6,155.3M463.6,158.6L462.4,153.0M461.5,155.9L462.4,153.0L464.3,155.3M472.2,157.7L471.4,153.9M470.5,156.8L471.4,153.9L473.3,156.3M66.1,145.6L66.1,145.0M64.6,147.6L66.1,145.0L67.5,147.6M75.0,145.7L74.8,144.9M74.2,147.9L74.8,144.9L76.9,147.0M83.9,145.1L83.6,145.5M86.4,144.6L83.6,145.5L84.4,142.6M119.3,145.4L118.7,145.2M120.5,147.6L118.7,145.2L121.7,145.0M127.4,145.5L128.2,145.1M125.2,144.9L128.2,145.1L126.4,147.5M136.2,145.9L137.1,144.7M134.4,146.1L137.1,144.7L136.8,147.7M145.1,146.0L145.8,144.6M143.4,146.4L145.8,144.6L146.0,147.6M153.4,145.7L155.1,144.9M152.1,144.7L155.1,144.9L153.4,147.3M162.2,145.8L164.0,144.8M161.0,144.7L164.0,144.8L162.3,147.3M170.6,145.4L173.3,145.2M170.5,144.0L173.3,145.2L170.8,146.8M179.6,145.7L181.9,144.9M179.0,144.4L181.9,144.9L179.9,147.1M188.1,145.4L191.0,145.2M188.3,144.0L191.0,145.2L188.5,146.8M196.6,145.5L200.2,145.1M197.4,144.0L200.2,145.1L197.7,146.8M214.6,145.1L217.4,145.5M215.0,143.7L217.4,145.5L214.6,146.6M223.5,145.3L226.2,145.3M223.5,143.9L226.2,145.3L223.6,146.8M232.2,145.1L235.1,145.5M232.7,143.7L235.1,145.5L232.3,146.5M240.9,145.1L244.0,145.5M241.6,143.7L244.0,145.5L241.2,146.6M250.1,145.2L252.5,145.4M250.0,143.7L252.5,145.4L249.8,146.6M258.7,145.3L261.6,145.3M258.9,143.9L261.6,145.3L259.0,146.8M267.4,145.1L270.5,145.5M268.1,143.7L270.5,145.5L267.7,146.6M276.8,145.4L278.8,145.2M276.0,144.1L278.8,145.2L276.3,146.9M285.5,145.5L287.7,145.1M284.8,144.1L287.7,145.1L285.3,147.0M294.6,145.4L296.2,145.2M293.4,144.2L296.2,145.2L293.8,147.0M303.4,145.1L305.0,145.5M302.7,143.5L305.0,145.5L302.2,146.4M312.1,145.6L314.0,145.0M311.0,144.4L314.0,145.0L311.8,147.1M321.2,145.2L322.5,145.4M320.0,143.7L322.5,145.4L319.8,146.5M330.1,145.5L331.2,145.1M328.3,144.5L331.2,145.1L329.1,147.3M339.3,145.6L339.7,145.0M337.0,146.3L339.7,145.0L339.4,148.0M347.6,145.1L349.1,145.5M346.9,143.4L349.1,145.5L346.1,146.2M357.2,145.1L357.1,145.5M358.8,143.0L357.1,145.5L355.9,142.7M365.5,145.2L366.4,145.4M364.2,143.3L366.4,145.4L363.5,146.1M375.1,145.3L374.5,145.3M377.2,146.6L374.5,145.3L377.0,143.7M383.8,145.5L383.4,145.1M384.1,148.0L383.4,145.1L386.2,146.1M392.6,145.7L392.2,144.9M392.1,147.9L392.2,144.9L394.7,146.7M401.2,145.2L401.3,145.4M400.9,142.4L401.3,145.4L398.6,144.0M410.2,145.0L409.9,145.6M412.6,144.3L409.9,145.6L410.2,142.6M419.1,145.6L418.7,145.0M419.0,148.0L418.7,145.0L421.4,146.4M428.2,145.8L427.2,144.8M427.9,147.7L427.2,144.8L430.0,145.8M437.2,146.0L435.9,144.6M436.5,147.5L435.9,144.6L438.7,145.6M445.4,147.5L445.3,143.1M443.9,145.8L445.3,143.1L446.8,145.7M454.7,148.2L453.6,142.4M452.7,145.2L453.6,142.4L455.5,144.7M463.0,147.9L462.9,142.7M461.5,145.3L462.9,142.7L464.4,145.3M472.3,147.0L471.3,143.6M470.7,146.6L471.3,143.6L473.4,145.7M127.8,134.7L127.8,134.9M128.4,131.9L127.8,134.9L125.7,132.8M136.9,135.2L136.4,134.4M136.7,137.4L136.4,134.4L139.1,135.8M145.3,135.1L145.6,134.5M143.1,136.2L145.6,134.5L145.7,137.5M154.4,134.9L154.2,134.7M155.6,137.4L154.2,134.7L157.2,135.0M163.1,134.7L163.1,134.9M164.9,132.6L163.1,134.9L162.1,132.1M172.0,135.2L171.9,134.4M170.8,137.2L171.9,134.4L173.6,136.8M180.5,134.8L181.0,134.8M178.3,133.5L181.0,134.8L178.4,136.4M224.6,134.7L225.1,134.9M223.0,132.7L225.1,134.9L222.1,135.4M233.3,134.5L234.0,135.1M233.0,132.3L234.0,135.1L231.0,134.4M242.5,134.8L242.5,134.8M240.9,137.3L242.5,134.8L243.8,137.5M251.6,135.0L251.0,134.6M252.4,137.3L251.0,134.6L254.0,134.9M260.1,135.1L260.1,134.5M258.6,137.0L260.1,134.5L261.4,137.2M268.9,135.1L269.0,134.5M266.9,136.7L269.0,134.5L269.7,137.4M277.9,134.5L277.6,135.1M280.0,133.3L277.6,135.1L277.3,132.1M287.0,135.2L286.2,134.4M287.2,137.3L286.2,134.4L289.1,135.1M295.6,135.0L295.2,134.6M295.7,137.5L295.2,134.6L298.0,135.7M304.2,135.2L304.2,134.4M302.9,137.1L304.2,134.4L305.8,137.0M313.0,134.6L313.1,135.0M314.1,132.2L313.1,135.0L311.3,132.6M321.9,134.9L321.8,134.7M322.6,137.6L321.8,134.7L324.7,135.6M331.1,134.7L330.2,134.9M333.1,135.8L330.2,134.9L332.5,133.0M339.8,134.9L339.2,134.7M341.4,136.7L339.2,134.7L342.0,133.9M348.8,134.9L347.8,134.7M350.2,136.5L347.8,134.7L350.6,133.7M357.4,134.6L356.8,135.0M359.8,134.8L356.8,135.0L358.3,132.4M366.1,135.1L365.8,134.5M366.1,137.5L365.8,134.5L368.5,135.8M375.4,134.9L374.1,134.7M376.6,136.5L374.1,134.7L376.9,133.6M384.1,134.9L383.1,134.7M385.2,136.8L383.1,134.7L386.1,134.1M393.2,135.1L391.7,134.5M393.5,136.9L391.7,134.5L394.7,134.2M401.9,134.9L400.6,134.7M403.0,136.5L400.6,134.7L403.4,133.6M410.3,134.6L409.8,135.0M412.7,134.1L409.8,135.0L410.6,132.1M419.2,134.6L418.6,135.0M421.5,134.5L418.6,135.0L419.7,132.3M427.9,135.0L427.5,134.6M428.4,137.4L427.5,134.6L430.4,135.3M436.9,136.0L436.2,133.6M435.5,136.5L436.2,133.6L438.3,135.7M445.8,136.7L444.9,132.9M444.1,135.7L444.9,132.9L446.9,135.1M454.9,137.8L453.5,131.8M452.7,134.7L453.5,131.8L455.5,134.1M463.2,137.7L462.7,131.9M461.5,134.6L462.7,131.9L464.4,134.4M472.2,136.8L471.4,132.8M470.5,135.7L471.4,132.8L473.3,135.1M137.0,124.1L136.3,124.5M139.3,124.5L136.3,124.5L137.9,122.0M146.0,124.6L144.9,124.0M146.7,126.4L144.9,124.0L147.9,123.8M154.4,124.4L154.2,124.2M155.4,126.9L154.2,124.2L157.1,124.7M163.6,124.2L162.6,124.4M165.3,125.5L162.6,124.4L165.0,122.7M172.2,124.3L171.6,124.3M174.2,125.8L171.6,124.3L174.3,122.9M225.3,124.3L224.3,124.3M226.9,125.9L224.3,124.3L227.1,123.0M234.1,124.4L233.3,124.2M235.4,126.3L233.3,124.2L236.2,123.6M243.2,124.6L241.8,124.0M243.7,126.3L241.8,124.0L244.7,123.6M251.5,124.3L251.1,124.3M253.6,125.9L251.1,124.3L253.9,123.1M260.8,124.1L259.4,124.5M262.3,125.2L259.4,124.5L261.5,122.4M269.6,124.6L268.3,124.0M270.0,126.5L268.3,124.0L271.3,123.9M278.2,124.5L277.3,124.1M279.0,126.5L277.3,124.1L280.3,124.0M287.1,124.3L286.1,124.3M288.7,125.8L286.1,124.3L288.8,122.9M296.1,124.3L294.7,124.3M297.4,125.7L294.7,124.3L297.4,122.8M305.0,124.3L303.5,124.3M306.0,125.8L303.5,124.3L306.2,123.0M313.5,124.6L312.6,124.0M313.8,126.7L312.6,124.0L315.6,124.5M322.4,124.6L321.3,124.0M322.8,126.5L321.3,124.0L324.3,124.1M331.2,124.1L330.1,124.5M333.1,124.9L330.1,124.5L332.1,122.2M340.0,124.2L339.0,124.4M341.9,125.3L339.0,124.4L341.3,122.4M348.7,124.6L348.0,124.0M348.9,126.8L348.0,124.0L350.9,124.7M357.3,124.2L357.0,124.4M360.0,124.4L357.0,124.4L358.5,121.9M366.8,124.1L365.1,124.5M368.0,125.3L365.1,124.5L367.4,122.5M375.4,124.6L374.2,124.0M376.0,126.4L374.2,124.0L377.2,123.8M383.8,124.3L383.4,124.3M386.0,125.8L383.4,124.3L386.0,122.9M392.8,124.6L392.1,124.0M393.1,126.8L392.1,124.0L395.0,124.6M401.6,124.7L400.9,123.9M401.7,126.8L400.9,123.9L403.8,124.8M410.8,124.4L409.3,124.2M411.6,126.1L409.3,124.2L412.2,123.3M419.8,124.3L418.0,124.3M420.6,125.8L418.0,124.3L420.7,122.9M428.5,124.7L426.9,123.9M428.5,126.4L426.9,123.9L429.9,123.9M436.9,125.3L436.1,123.3M435.8,126.3L436.1,123.3L438.5,125.2M445.6,126.2L445.1,122.4M444.0,125.2L445.1,122.4L446.9,124.8M454.4,127.2L453.9,121.4M452.7,124.1L453.9,121.4L455.6,123.8M463.2,126.9L462.7,121.7M461.5,124.4L462.7,121.7L464.4,124.1M472.6,126.0L471.0,122.6M470.8,125.6L471.0,122.6L473.4,124.4M145.9,113.7L145.1,113.9M148.0,114.5L145.1,113.9L147.1,111.7M154.4,113.6L154.1,114.0M157.0,113.1L154.1,114.0L154.9,111.1M163.7,113.9L162.5,113.7M164.7,115.7L162.5,113.7L165.4,112.9M234.0,113.5L233.3,114.1M236.3,113.7L233.3,114.1L234.6,111.4M242.9,114.2L242.1,113.4M243.0,116.3L242.1,113.4L245.0,114.2M251.8,114.1L250.8,113.5M252.1,116.2L250.8,113.5L253.8,113.8M260.6,113.6L259.6,114.0M262.6,114.5L259.6,114.0L261.7,111.8M269.7,113.6L268.1,114.0M271.1,114.7L268.1,114.0L270.2,111.9M278.2,114.0L277.3,113.6M279.0,116.1L277.3,113.6L280.3,113.5M287.3,113.9L285.8,113.7M288.3,115.4L285.8,113.7L288.6,112.6M295.7,113.8L295.1,113.8M297.8,115.2L295.1,113.8L297.7,112.3M305.0,114.2L303.4,113.4M305.2,115.8L303.4,113.4L306.4,113.2M313.9,113.6L312.2,114.0M315.1,114.9L312.2,114.0L314.5,112.0M322.6,113.8L321.1,113.8M323.7,115.3L321.1,113.8L323.7,112.4M331.4,113.7L330.0,113.9M332.8,115.0L330.0,113.9L332.4,112.1M340.1,114.1L338.9,113.5M340.6,115.9L338.9,113.5L341.9,113.3M348.6,113.8L348.0,113.8M350.5,115.4L348.0,113.8L350.8,112.6M357.6,113.6L356.7,114.0M359.7,114.3L356.7,114.0L358.6,111.7M366.2,114.2L365.7,113.4M365.9,116.4L365.7,113.4L368.3,114.9M375.4,114.1L374.1,113.5M375.9,115.9L374.1,113.5L377.1,113.3M384.1,113.6L383.1,114.0M386.0,114.4L383.1,114.0L385.0,111.7M392.8,114.2L392.1,113.4M392.8,116.3L392.1,113.4L394.9,114.4M402.0,113.6L400.5,114.0M403.4,114.8L400.5,114.0L402.7,112.0M410.5,113.9L409.6,113.7M411.7,115.8L409.6,113.7L412.6,113.1M419.4,114.1L418.3,113.5M419.9,116.0L418.3,113.5L421.3,113.6M428.0,114.2L427.4,113.4M428.0,116.4L427.4,113.4L430.2,114.5M436.8,114.6L436.2,113.0M435.8,115.9L436.2,113.0L438.5,115.0M446.2,115.9L444.5,111.7M444.1,114.7L444.5,111.7L446.8,113.6M454.9,116.5L453.4,111.1M452.7,114.1L453.4,111.1L455.5,113.3M463.5,117.0L462.5,110.6M461.5,113.4L462.5,110.6L464.3,113.0M472.6,115.7L471.0,111.9M470.7,114.9L471.0,111.9L473.3,113.8M39.9,103.3L39.3,103.3M41.9,104.7L39.3,103.3L41.9,101.8M48.8,103.5L48.1,103.1M50.0,105.5L48.1,103.1L51.0,102.8M57.9,103.3L56.6,103.3M59.3,104.7L56.6,103.3L59.2,101.8M66.5,103.7L65.7,102.9M66.6,105.8L65.7,102.9L68.6,103.6M137.0,103.0L136.3,103.6M139.2,102.9L136.3,103.6L137.3,100.8M146.1,103.6L144.8,103.0M146.6,105.4L144.8,103.0L147.8,102.8M154.5,103.5L154.1,103.1M154.7,106.0L154.1,103.1L156.9,104.1M163.6,103.4L162.6,103.2M165.1,105.0L162.6,103.2L165.4,102.1M243.2,103.3L241.8,103.3M244.4,104.7L241.8,103.3L244.4,101.9M251.8,103.0L250.8,103.6M253.8,103.7L250.8,103.6L252.5,101.1M260.3,103.7L259.9,102.9M259.9,105.9L259.9,102.9L262.4,104.5M269.4,103.2L268.4,103.4M271.4,104.1L268.4,103.4L270.6,101.4M278.0,103.2L277.5,103.4M280.5,103.6L277.5,103.4L279.2,101.0M287.0,103.3L286.1,103.3M288.9,104.5L286.1,103.3L288.6,101.7M296.0,103.5L294.8,103.1M296.8,105.3L294.8,103.1L297.7,102.5M304.6,103.1L303.9,103.5M306.9,103.4L303.9,103.5L305.4,100.9M313.3,103.2L312.8,103.4M315.7,104.0L312.8,103.4L314.9,101.2M322.5,103.2L321.2,103.4M324.0,104.3L321.2,103.4L323.5,101.5M331.1,103.3L330.3,103.3M332.8,105.0L330.3,103.3L333.1,102.1M340.0,103.5L339.0,103.1M341.1,105.4L339.0,103.1L342.0,102.6M348.8,103.4L347.8,103.2M350.1,105.2L347.8,103.2L350.7,102.4M358.0,103.5L356.3,103.1M358.6,105.0L356.3,103.1L359.1,102.2M366.6,103.0L365.3,103.6M368.3,103.9L365.3,103.6L367.1,101.2M375.3,103.4L374.2,103.2M376.4,105.2L374.2,103.2L377.1,102.4M384.3,103.5L382.9,103.1M384.9,105.2L382.9,103.1L385.8,102.5M393.1,103.6L391.8,103.0M393.5,105.4L391.8,103.0L394.8,102.8M402.1,103.1L400.3,103.5M403.2,104.3L400.3,103.5L402.6,101.5M410.6,103.4L409.5,103.2M411.8,105.0L409.5,103.2L412.3,102.2M419.4,103.5L418.4,103.1M420.2,105.5L418.4,103.1L421.4,102.9M428.5,103.9L426.9,102.7M428.2,105.4L426.9,102.7L429.9,103.1M437.2,104.3L435.8,102.3M436.1,105.3L435.8,102.3L438.5,103.7M445.7,105.2L444.9,101.4M444.1,104.3L444.9,101.4L446.9,103.7M454.4,106.3L453.9,100.3M452.7,103.1L453.9,100.3L455.6,102.8M463.2,106.0L462.7,100.6M461.5,103.3L462.7,100.6L464.4,103.1M472.6,105.3L471.0,101.3M470.7,104.3L471.0,101.3L473.3,103.2M39.9,92.5L39.4,93.1M42.2,92.0L39.4,93.1L40.0,90.1M48.8,92.7L48.0,92.9M51.0,93.4L48.0,92.9L50.0,90.7M57.6,92.6L56.9,93.0M59.9,92.9L56.9,93.0L58.4,90.4M66.7,92.9L65.5,92.7M68.0,94.4L65.5,92.7L68.2,91.6M136.7,93.0L136.6,92.6M135.4,95.4L136.6,92.6L138.3,95.1M145.9,93.2L145.0,92.4M146.1,95.2L145.0,92.4L147.9,93.0M154.8,93.0L153.7,92.6M155.7,94.9L153.7,92.6L156.7,92.2M163.3,93.0L162.9,92.6M163.1,95.5L162.9,92.6L165.6,94.0M243.1,93.1L241.9,92.5M243.7,94.9L241.9,92.5L244.8,92.2M251.8,92.6L250.8,93.0M253.8,93.3L250.8,93.0L252.7,90.6M260.6,93.1L259.7,92.5M261.2,95.1L259.7,92.5L262.7,92.6M269.3,92.5L268.6,93.1M271.5,92.7L268.6,93.1L269.9,90.4M278.2,93.1L277.3,92.5M278.6,95.2L277.3,92.5L280.3,92.8M286.9,92.6L286.2,93.0M289.2,92.8L286.2,93.0L287.7,90.4M296.1,93.1L294.7,92.5M296.5,94.9L294.7,92.5L297.7,92.3M305.0,92.8L303.5,92.8M306.0,94.3L303.5,92.8L306.1,91.4M313.3,92.8L312.8,92.8M315.6,93.8L312.8,92.8L315.1,91.0M322.1,93.1L321.6,92.5M322.5,95.4L321.6,92.5L324.5,93.4M331.4,92.7L330.0,92.9M332.9,93.9L330.0,92.9L332.3,91.0M339.9,92.9L339.1,92.7M341.2,94.7L339.1,92.7L342.0,92.0M348.7,93.0L347.9,92.6M349.8,94.9L347.9,92.6L350.9,92.2M358.0,92.9L356.3,92.7M358.7,94.5L356.3,92.7L359.1,91.6M366.8,92.8L365.1,92.8M367.8,94.2L365.1,92.8L367.7,91.3M375.4,92.9L374.1,92.7M376.6,94.4L374.1,92.7L376.9,91.5M384.1,93.0L383.1,92.6M384.9,95.0L383.1,92.6L386.1,92.4M393.0,93.2L391.8,92.4M393.2,95.1L391.8,92.4L394.8,92.7M401.5,92.8L401.0,92.8M403.6,94.3L401.0,92.8L403.7,91.4M410.3,93.2L409.9,92.4M409.9,95.4L409.9,92.4L412.4,94.0M419.4,92.7L418.4,92.9M421.2,93.9L418.4,92.9L420.8,91.1M428.4,93.4L427.0,92.2M428.1,95.0L427.0,92.2L430.0,92.8M437.3,93.9L435.7,91.7M436.1,94.7L435.7,91.7L438.4,93.0M445.7,94.9L445.0,90.7M444.0,93.5L445.0,90.7L446.8,93.0M454.5,95.6L453.8,90.0M452.7,92.8L453.8,90.0L455.6,92.5M463.5,95.4L462.5,90.2M461.6,93.1L462.5,90.2L464.4,92.5M472.3,94.4L471.3,91.2M470.7,94.2L471.3,91.2L473.5,93.3M48.7,82.5L48.2,82.1M49.5,84.9L48.2,82.1L51.2,82.5M57.4,82.5L57.1,82.1M57.2,85.1L57.1,82.1L59.7,83.6M66.2,82.2L65.9,82.4M68.9,81.8L65.9,82.4L66.9,79.6M75.0,82.5L74.8,82.1M74.9,85.1L74.8,82.1L77.4,83.7M119.1,82.0L118.9,82.6M121.2,80.6L118.9,82.6L118.5,79.6M128.2,82.5L127.5,82.1M129.0,84.7L127.5,82.1L130.5,82.3M136.9,82.0L136.4,82.6M139.3,81.8L136.4,82.6L137.3,79.7M146.0,82.7L144.9,81.9M146.2,84.6L144.9,81.9L147.9,82.2M154.6,82.2L154.0,82.4M156.8,83.3L154.0,82.4L156.3,80.5M163.2,82.4L163.0,82.2M163.4,85.1L163.0,82.2L165.7,83.4M269.1,82.5L268.7,82.1M269.4,85.0L268.7,82.1L271.5,83.1M287.0,82.6L286.2,82.0M287.2,84.8L286.2,82.0L289.1,82.7M296.3,82.6L294.5,82.0M296.5,84.2L294.5,82.0L297.5,81.5M305.1,82.3L303.4,82.3M305.9,83.8L303.4,82.3L306.1,81.0M313.6,82.6L312.5,82.0M314.2,84.5L312.5,82.0L315.5,82.0M322.1,82.4L321.6,82.2M323.1,84.7L321.6,82.2L324.6,82.3M331.5,82.6L329.9,82.0M331.9,84.2L329.9,82.0L332.8,81.5M339.9,82.1L339.1,82.5M342.1,82.3L339.1,82.5L340.6,79.9M349.1,82.7L347.5,81.9M349.3,84.4L347.5,81.9L350.5,81.8M357.5,82.5L356.8,82.1M358.2,84.7L356.8,82.1L359.8,82.3M366.2,82.4L365.7,82.2M368.0,84.3L365.7,82.2L368.6,81.5M375.2,82.5L374.3,82.1M376.3,84.4L374.3,82.1L377.3,81.7M383.9,82.4L383.3,82.2M385.5,84.2L383.3,82.2L386.1,81.4M393.1,82.1L391.7,82.5M394.7,83.0L391.7,82.5L393.8,80.3M402.1,82.2L400.4,82.4M403.2,83.5L400.4,82.4L402.8,80.6M410.9,82.3L409.2,82.3M411.9,83.6L409.2,82.3L411.8,80.8M419.5,82.1L418.3,82.5M421.2,83.2L418.3,82.5L420.4,80.4M428.6,82.5L426.8,82.1M429.1,84.1L426.8,82.1L429.7,81.3M437.1,82.8L435.9,81.8M437.1,84.6L435.9,81.8L438.9,82.3M445.6,83.9L445.1,80.7M444.1,83.5L445.1,80.7L446.9,83.1M454.9,85.0L453.4,79.6M452.7,82.6L453.4,79.6L455.5,81.8M463.7,84.8L462.3,79.8M461.6,82.8L462.3,79.8L464.4,82.0M472.5,84.0L471.1,80.6M470.8,83.5L471.1,80.6L473.4,82.4M57.4,71.8L57.1,71.8M60.1,72.2L57.1,71.8L59.0,69.5M66.5,71.5L65.6,72.1M68.6,71.8L65.6,72.1L67.0,69.4M75.4,71.8L74.4,71.8M77.0,73.2L74.4,71.8L77.0,70.4M84.3,71.6L83.2,72.0M86.2,72.4L83.2,72.0L85.1,69.7M92.6,72.0L92.5,71.6M91.6,74.4L92.5,71.6L94.4,73.9M101.5,71.6L101.2,72.0M103.9,70.7L101.2,72.0L101.6,69.0M110.6,72.0L109.7,71.6M111.7,73.9L109.7,71.6L112.7,71.2M119.3,71.6L118.7,72.0M121.7,71.7L118.7,72.0L120.0,69.3M128.4,71.7L127.3,71.9M130.1,72.9L127.3,71.9L129.7,70.1M136.9,71.9L136.4,71.7M138.4,74.0L136.4,71.7L139.4,71.2M145.7,71.6L145.2,72.0M148.1,71.3L145.2,72.0L146.2,69.2M154.8,71.6L153.8,72.0M156.8,72.3L153.8,72.0L155.6,69.7M163.5,71.7L162.7,71.9M165.7,72.4L162.7,71.9L164.7,69.7M172.0,72.1L171.9,71.5M170.9,74.4L171.9,71.5L173.7,73.9M286.9,71.5L286.3,72.1M289.2,71.2L286.3,72.1L287.1,69.2M296.1,72.2L294.7,71.4M296.3,74.0L294.7,71.4L297.7,71.4M305.0,71.5L303.4,72.1M306.4,72.6L303.4,72.1L305.4,69.9M313.9,71.6L312.1,72.0M315.1,72.7L312.1,72.0L314.3,70.0M322.7,71.7L321.1,71.9M323.9,73.0L321.1,71.9L323.5,70.1M331.5,72.1L329.8,71.5M331.9,73.7L329.8,71.5L332.8,71.0M339.9,72.1L339.1,71.5M340.2,74.2L339.1,71.5L342.0,72.0M349.0,71.6L347.7,72.0M350.6,72.5L347.7,72.0L349.6,69.8M357.5,71.6L356.7,72.0M359.7,72.0L356.7,72.0L358.4,69.5M366.2,72.2L365.7,71.4M365.8,74.4L365.7,71.4L368.3,73.0M375.5,71.6L374.0,72.0M376.9,72.8L374.0,72.0L376.3,70.0M384.0,72.2L383.2,71.4M384.2,74.3L383.2,71.4L386.1,72.1M393.0,72.0L391.9,71.6M393.7,73.9L391.9,71.6L394.9,71.3M401.8,72.1L400.6,71.5M402.3,74.0L400.6,71.5L403.6,71.5M410.9,71.5L409.2,72.1M412.1,72.6L409.2,72.1L411.2,69.9M419.6,71.6L418.2,72.0M421.1,72.7L418.2,72.0L420.4,69.9M428.5,72.0L426.9,71.6M429.0,73.7L426.9,71.6L429.8,70.9M437.3,72.5L435.7,71.1M436.8,73.9L435.7,71.1L438.6,71.7M446.1,73.1L444.6,70.5M444.7,73.5L444.6,70.5L447.2,72.0M455.0,73.7L453.4,69.9M453.0,72.9L453.4,69.9L455.7,71.8M463.5,74.1L462.4,69.5M461.6,72.4L462.4,69.5L464.4,71.7M472.5,73.1L471.1,70.5M471.0,73.5L471.1,70.5L473.6,72.2M101.4,61.5L101.4,61.1M100.0,63.8L101.4,61.1L102.9,63.7M110.7,61.0L109.7,61.6M112.7,61.6L109.7,61.6L111.3,59.0M119.0,61.2L119.0,61.4M121.1,59.3L119.0,61.4L118.3,58.5M128.3,61.6L127.4,61.0M128.9,63.6L127.4,61.0L130.4,61.1M137.1,61.7L136.2,60.9M137.4,63.7L136.2,60.9L139.1,61.4M146.1,61.3L144.8,61.3M147.4,62.9L144.8,61.3L147.6,60.0M154.6,61.3L153.9,61.3M156.5,62.8L153.9,61.3L156.6,59.9M163.5,61.7L162.7,60.9M163.6,63.8L162.7,60.9L165.6,61.7M172.1,61.2L171.8,61.4M174.7,61.9L171.8,61.4L173.8,59.1M181.0,61.3L180.5,61.3M183.0,62.9L180.5,61.3L183.2,60.0M269.4,61.0L268.5,61.6M271.5,61.3L268.5,61.6L269.9,58.9M278.0,61.2L277.5,61.4M280.4,61.9L277.5,61.4L279.5,59.2M287.2,61.5L286.0,61.1M288.1,63.2L286.0,61.1L288.9,60.5M296.0,61.0L294.8,61.6M297.8,61.8L294.8,61.6L296.6,59.2M304.8,61.4L303.6,61.2M305.9,63.1L303.6,61.2L306.5,60.3M313.7,61.6L312.4,61.0M314.2,63.4L312.4,61.0L315.4,60.9M322.1,61.7L321.7,60.9M321.6,63.9L321.7,60.9L324.1,62.6M331.2,61.1L330.2,61.5M333.2,61.6L330.2,61.5L331.9,59.1M340.2,61.3L338.8,61.3M341.5,62.7L338.8,61.3L341.4,59.8M349.0,61.5L347.7,61.1M349.7,63.3L347.7,61.1L350.6,60.6M357.9,61.6L356.4,61.0M358.3,63.3L356.4,61.0L359.4,60.7M366.3,61.2L365.7,61.4M368.6,61.6L365.7,61.4L367.4,59.0M375.0,61.7L374.5,60.9M374.9,63.9L374.5,60.9L377.2,62.2M384.0,61.5L383.2,61.1M385.1,63.5L383.2,61.1L386.2,60.8M392.9,61.3L392.0,61.3M394.6,62.8L392.0,61.3L394.7,59.9M401.9,61.0L400.6,61.6M403.5,61.9L400.6,61.6L402.4,59.2M411.0,61.2L409.2,61.4M412.0,62.5L409.2,61.4L411.6,59.6M419.2,61.4L418.6,61.2M420.8,63.2L418.6,61.2L421.5,60.4M428.2,61.1L427.2,61.5M430.2,62.0L427.2,61.5L429.2,59.2M437.3,61.7L435.8,60.9M437.4,63.4L435.8,60.9L438.8,60.9M445.7,62.5L445.0,60.1M444.4,63.1L445.0,60.1L447.1,62.2M454.6,63.0L453.8,59.6M453.0,62.5L453.8,59.6L455.8,61.8M463.5,62.8L462.4,59.8M462.0,62.8L462.4,59.8L464.7,61.8M472.2,62.4L471.4,60.2M471.0,63.1L471.4,60.2L473.6,62.1M119.2,50.8L118.8,50.8M121.3,52.5L118.8,50.8L121.5,49.6M128.3,50.8L127.3,50.8M130.0,52.1L127.3,50.8L129.9,49.2M137.1,50.6L136.2,51.0M139.2,51.1L136.2,51.0L137.9,48.6M145.8,50.7L145.1,50.9M148.1,51.4L145.1,50.9L147.2,48.7M181.0,50.9L180.5,50.7M182.7,52.7L180.5,50.7L183.3,49.9M260.9,51.1L259.4,50.5M261.3,52.8L259.4,50.5L262.4,50.2M269.2,50.8L268.7,50.8M271.1,52.5L268.7,50.8L271.5,49.7M278.3,50.8L277.2,50.8M279.8,52.4L277.2,50.8L279.9,49.5M286.9,51.0L286.2,50.6M287.6,53.3L286.2,50.6L289.2,50.9M296.2,50.6L294.6,51.0M297.5,51.8L294.6,51.0L296.9,49.0M304.8,50.8L303.6,50.8M306.4,52.1L303.6,50.8L306.1,49.2M366.3,50.6L365.6,51.0M368.6,50.7L365.6,51.0L367.0,48.3M375.1,51.2L374.5,50.4M375.0,53.4L374.5,50.4L377.2,51.6M384.2,50.6L383.0,51.0M385.9,51.6L383.0,51.0L385.1,48.9M392.7,51.1L392.1,50.5M393.0,53.3L392.1,50.5L395.0,51.3M419.7,51.0L418.1,50.6M420.2,52.7L418.1,50.6L421.0,49.9M428.5,51.0L426.9,50.6M429.0,52.7L426.9,50.6L429.8,49.9M436.9,51.1L436.2,50.5M437.0,53.3L436.2,50.5L439.1,51.3M445.9,51.8L444.8,49.8M444.8,52.8L444.8,49.8L447.3,51.4M454.8,51.5L453.5,50.1M454.1,53.0L453.5,50.1L456.3,51.2M463.4,51.9L462.6,49.7M462.1,52.7L462.6,49.7L464.8,51.7M472.4,51.3L471.2,50.3M472.3,53.1L471.2,50.3L474.2,50.9M269.3,40.6L268.6,40.0M269.7,42.8L268.6,40.0L271.5,40.5M375.2,40.4L374.4,40.2M376.4,42.4L374.4,40.2L377.3,39.6M384.1,40.5L383.1,40.1M384.9,42.4L383.1,40.1L386.1,39.8M393.1,40.5L391.8,40.1M394.0,42.2L391.8,40.1L394.7,39.4M428.3,40.7L427.1,39.9M428.4,42.5L427.1,39.9L430.0,40.2M437.3,40.5L435.8,40.1M438.0,42.1L435.8,40.1L438.7,39.3M446.2,41.0L444.5,39.6M445.6,42.4L444.5,39.6L447.4,40.1M454.6,41.1L453.8,39.5M453.6,42.5L453.8,39.5L456.2,41.2M463.7,41.1L462.3,39.5M462.8,42.4L462.3,39.5L465.1,40.6M472.1,41.0L471.5,39.6M471.2,42.6L471.5,39.6L473.9,41.4M269.4,29.6L268.5,30.0M271.5,30.3L268.5,30.0L270.3,27.6M393.2,29.9L391.7,29.7M394.1,31.5L391.7,29.7L394.5,28.6M428.0,29.8L427.4,29.8M430.0,31.2L427.4,29.8L430.0,28.3M437.2,30.3L435.9,29.3M437.1,32.0L435.9,29.3L438.9,29.7M445.9,30.2L444.7,29.4M446.2,32.1L444.7,29.4L447.7,29.6M454.6,30.3L453.8,29.3M454.2,32.2L453.8,29.3L456.5,30.5" fill="none" stroke="#140c00" stroke-width="0.7" opacity="0.9"/>
</g>
<g clip-path="url(#cb)">
<rect x="538.9" y="28.0" width="447.3" height="379.2" fill="#00d28c"/>
<path d="M538.90,28.00h177.55v2.16h-177.55zM766.10,28.00h124.30v2.16h-124.30zM899.23,28.00h8.93v2.16h-8.93zM927.62,28.00h3.60v2.16h-3.60zM952.48,28.00h33.78v2.16h-33.78zM538.90,30.11h177.55v2.16h-177.55zM766.10,30.11h142.05v2.16h-142.05zM918.75,30.11h1.83v2.16h-1.83zM927.62,30.11h5.38v2.16h-5.38zM952.48,30.11h33.78v2.16h-33.78zM538.90,32.21h177.55v2.16h-177.55zM766.10,32.21h142.05v2.16h-142.05zM909.88,32.21h1.83v2.16h-1.83zM918.75,32.21h1.83v2.16h-1.83zM927.62,32.21h5.38v2.16h-5.38zM954.25,32.21h32.00v2.16h-32.00zM538.90,34.32h177.55v2.16h-177.55zM766.10,34.32h142.05v2.16h-142.05zM909.88,34.32h1.83v2.16h-1.83zM927.62,34.32h10.70v2.16h-10.70zM947.15,34.32h39.10v2.16h-39.10zM538.90,36.43h177.55v2.16h-177.55zM766.10,36.43h142.05v2.16h-142.05zM927.62,36.43h58.63v2.16h-58.63zM538.90,38.53h177.55v2.16h-177.55zM766.10,38.53h142.05v2.16h-142.05zM927.62,38.53h24.90v2.16h-24.90zM966.68,38.53h7.15v2.16h-7.15zM984.43,38.53h1.83v2.16h-1.83zM538.90,40.64h177.55v2.16h-177.55zM766.10,40.64h28.45v2.16h-28.45zM799.83,40.64h88.80v2.16h-88.80zM895.68,40.64h12.48v2.16h-12.48zM927.62,40.64h24.90v2.16h-24.90zM966.68,40.64h8.93v2.16h-8.93zM984.43,40.64h1.83v2.16h-1.83zM538.90,42.75h177.55v2.16h-177.55zM766.10,42.75h28.45v2.16h-28.45zM799.83,42.75h87.03v2.16h-87.03zM897.45,42.75h10.70v2.16h-10.70zM927.62,42.75h39.10v2.16h-39.10zM968.45,42.75h7.15v2.16h-7.15zM984.43,42.75h1.83v2.16h-1.83zM538.90,44.85h177.55v2.16h-177.55zM766.10,44.85h28.45v2.16h-28.45zM799.83,44.85h87.03v2.16h-87.03zM899.23,44.85h8.93v2.16h-8.93zM927.62,44.85h10.70v2.16h-10.70zM943.60,44.85h12.48v2.16h-12.48zM957.80,44.85h3.60v2.16h-3.60zM968.45,44.85h3.60v2.16h-3.60zM538.90,46.96h177.55v2.16h-177.55zM766.10,46.96h28.45v2.16h-28.45zM799.83,46.96h87.03v2.16h-87.03zM901.00,46.96h7.15v2.16h-7.15zM927.62,46.96h10.70v2.16h-10.70zM943.60,46.96h8.93v2.16h-8.93zM538.90,49.07h177.55v2.16h-177.55zM766.10,49.07h30.23v2.16h-30.23zM810.48,49.07h76.38v2.16h-76.38zM902.78,49.07h5.38v2.16h-5.38zM927.62,49.07h19.58v2.16h-19.58zM538.90,51.17h106.55v2.16h-106.55zM647.17,51.17h69.28v2.16h-69.28zM766.10,51.17h30.23v2.16h-30.23zM810.48,51.17h78.15v2.16h-78.15zM901.00,51.17h7.15v2.16h-7.15zM927.62,51.17h16.03v2.16h-16.03zM538.90,53.28h103.00v2.16h-103.00zM650.73,53.28h37.33v2.16h-37.33zM691.55,53.28h24.90v2.16h-24.90zM766.10,53.28h30.23v2.16h-30.23zM810.48,53.28h78.15v2.16h-78.15zM901.00,53.28h7.15v2.16h-7.15zM927.62,53.28h12.48v2.16h-12.48zM538.90,55.39h103.00v2.16h-103.00zM652.50,55.39h35.55v2.16h-35.55zM691.55,55.39h24.90v2.16h-24.90zM766.10,55.39h5.38v2.16h-5.38zM780.30,55.39h60.40v2.16h-60.40zM849.53,55.39h39.10v2.16h-39.10zM901.00,55.39h7.15v2.16h-7.15zM927.62,55.39h8.93v2.16h-8.93zM968.45,55.39h3.60v2.16h-3.60zM538.90,57.49h104.78v2.16h-104.78zM652.50,57.49h63.95v2.16h-63.95zM766.10,57.49h5.38v2.16h-5.38zM780.30,57.49h60.40v2.16h-60.40zM849.53,57.49h40.88v2.16h-40.88zM901.00,57.49h35.55v2.16h-35.55zM538.90,59.60h104.78v2.16h-104.78zM654.27,59.60h62.18v2.16h-62.18zM766.10,59.60h46.20v2.16h-46.20zM826.45,59.60h39.10v2.16h-39.10zM876.15,59.60h14.25v2.16h-14.25zM901.00,59.60h7.15v2.16h-7.15zM927.62,59.60h1.83v2.16h-1.83zM538.90,61.71h106.55v2.16h-106.55zM652.50,61.71h63.95v2.16h-63.95zM764.33,61.71h47.98v2.16h-47.98zM826.45,61.71h14.25v2.16h-14.25zM861.95,61.71h3.60v2.16h-3.60zM876.15,61.71h16.03v2.16h-16.03zM901.00,61.71h7.15v2.16h-7.15zM927.62,61.71h1.83v2.16h-1.83zM538.90,63.81h108.33v2.16h-108.33zM650.73,63.81h65.73v2.16h-65.73zM762.55,63.81h37.33v2.16h-37.33zM808.70,63.81h3.60v2.16h-3.60zM826.45,63.81h14.25v2.16h-14.25zM861.95,63.81h3.60v2.16h-3.60zM876.15,63.81h32.00v2.16h-32.00zM927.62,63.81h1.83v2.16h-1.83zM538.90,65.92h69.28v2.16h-69.28zM613.45,65.92h51.53v2.16h-51.53zM666.70,65.92h49.75v2.16h-49.75zM762.55,65.92h12.48v2.16h-12.48zM776.75,65.92h23.13v2.16h-23.13zM808.70,65.92h3.60v2.16h-3.60zM826.45,65.92h14.25v2.16h-14.25zM861.95,65.92h3.60v2.16h-3.60zM876.15,65.92h32.00v2.16h-32.00zM927.62,65.92h1.83v2.16h-1.83zM938.28,65.92h5.38v2.16h-5.38zM538.90,68.03h39.10v2.16h-39.10zM590.38,68.03h17.80v2.16h-17.80zM615.23,68.03h47.98v2.16h-47.98zM668.48,68.03h47.98v2.16h-47.98zM760.78,68.03h14.25v2.16h-14.25zM776.75,68.03h23.13v2.16h-23.13zM808.70,68.03h3.60v2.16h-3.60zM826.45,68.03h16.03v2.16h-16.03zM845.98,68.03h19.58v2.16h-19.58zM876.15,68.03h32.00v2.16h-32.00zM927.62,68.03h26.68v2.16h-26.68zM538.90,70.13h37.33v2.16h-37.33zM593.92,70.13h7.15v2.16h-7.15zM604.58,70.13h3.60v2.16h-3.60zM617.00,70.13h46.20v2.16h-46.20zM668.48,70.13h47.98v2.16h-47.98zM759.00,70.13h40.88v2.16h-40.88zM808.70,70.13h56.85v2.16h-56.85zM876.15,70.13h85.25v2.16h-85.25zM538.90,72.24h26.68v2.16h-26.68zM574.40,72.24h1.83v2.16h-1.83zM583.27,72.24h3.60v2.16h-3.60zM620.55,72.24h42.65v2.16h-42.65zM668.48,72.24h47.98v2.16h-47.98zM757.23,72.24h161.58v2.16h-161.58zM920.53,72.24h40.88v2.16h-40.88zM538.90,74.35h23.13v2.16h-23.13zM574.40,74.35h3.60v2.16h-3.60zM583.27,74.35h3.60v2.16h-3.60zM601.02,74.35h12.48v2.16h-12.48zM622.33,74.35h40.88v2.16h-40.88zM668.48,74.35h47.98v2.16h-47.98zM757.23,74.35h134.95v2.16h-134.95zM901.00,74.35h17.80v2.16h-17.80zM920.53,74.35h40.88v2.16h-40.88zM538.90,76.45h19.58v2.16h-19.58zM574.40,76.45h5.38v2.16h-5.38zM590.38,76.45h26.68v2.16h-26.68zM638.30,76.45h24.90v2.16h-24.90zM668.48,76.45h47.98v2.16h-47.98zM755.45,76.45h126.08v2.16h-126.08zM904.55,76.45h1.83v2.16h-1.83zM908.10,76.45h55.08v2.16h-55.08zM538.90,78.56h17.80v2.16h-17.80zM574.40,78.56h46.20v2.16h-46.20zM641.85,78.56h23.13v2.16h-23.13zM668.48,78.56h47.98v2.16h-47.98zM753.67,78.56h122.53v2.16h-122.53zM908.10,78.56h24.90v2.16h-24.90zM934.73,78.56h28.45v2.16h-28.45zM538.90,80.67h16.03v2.16h-16.03zM574.40,80.67h47.98v2.16h-47.98zM643.62,80.67h72.83v2.16h-72.83zM751.90,80.67h81.70v2.16h-81.70zM837.10,80.67h35.55v2.16h-35.55zM908.10,80.67h17.80v2.16h-17.80zM947.15,80.67h19.58v2.16h-19.58zM538.90,82.77h16.03v2.16h-16.03zM577.95,82.77h47.98v2.16h-47.98zM645.40,82.77h71.05v2.16h-71.05zM751.90,82.77h81.70v2.16h-81.70zM837.10,82.77h33.78v2.16h-33.78zM906.33,82.77h17.80v2.16h-17.80zM950.70,82.77h17.80v2.16h-17.80zM538.90,84.88h16.03v2.16h-16.03zM579.73,84.88h51.53v2.16h-51.53zM645.40,84.88h71.05v2.16h-71.05zM750.12,84.88h56.85v2.16h-56.85zM821.12,84.88h14.25v2.16h-14.25zM838.88,84.88h28.45v2.16h-28.45zM906.33,84.88h17.80v2.16h-17.80zM952.48,84.88h19.58v2.16h-19.58zM538.90,86.99h16.03v2.16h-16.03zM579.73,86.99h136.73v2.16h-136.73zM748.35,86.99h30.23v2.16h-30.23zM780.30,86.99h3.60v2.16h-3.60zM787.40,86.99h14.25v2.16h-14.25zM822.90,86.99h12.48v2.16h-12.48zM838.88,86.99h26.68v2.16h-26.68zM906.33,86.99h16.03v2.16h-16.03zM964.90,86.99h3.60v2.16h-3.60zM538.90,89.09h14.25v2.16h-14.25zM581.50,89.09h63.95v2.16h-63.95zM648.95,89.09h67.50v2.16h-67.50zM748.35,89.09h49.75v2.16h-49.75zM826.45,89.09h35.55v2.16h-35.55zM906.33,89.09h14.25v2.16h-14.25zM972.00,89.09h12.48v2.16h-12.48zM538.90,91.20h10.70v2.16h-10.70zM563.75,91.20h3.60v2.16h-3.60zM581.50,91.20h63.95v2.16h-63.95zM648.95,91.20h67.50v2.16h-67.50zM748.35,91.20h46.20v2.16h-46.20zM828.23,91.20h32.00v2.16h-32.00zM908.10,91.20h7.15v2.16h-7.15zM973.78,91.20h10.70v2.16h-10.70zM538.90,93.31h5.38v2.16h-5.38zM563.75,93.31h3.60v2.16h-3.60zM579.73,93.31h65.73v2.16h-65.73zM648.95,93.31h56.85v2.16h-56.85zM707.52,93.31h8.93v2.16h-8.93zM746.58,93.31h46.20v2.16h-46.20zM831.78,93.31h23.13v2.16h-23.13zM908.10,93.31h3.60v2.16h-3.60zM973.78,93.31h10.70v2.16h-10.70zM538.90,95.41h5.38v2.16h-5.38zM579.73,95.41h65.73v2.16h-65.73zM648.95,95.41h67.50v2.16h-67.50zM746.58,95.41h32.00v2.16h-32.00zM833.55,95.41h17.80v2.16h-17.80zM909.88,95.41h3.60v2.16h-3.60zM975.55,95.41h8.93v2.16h-8.93zM538.90,97.52h5.38v2.16h-5.38zM554.88,97.52h3.60v2.16h-3.60zM577.95,97.52h67.50v2.16h-67.50zM648.95,97.52h67.50v2.16h-67.50zM744.80,97.52h5.38v2.16h-5.38zM753.67,97.52h23.13v2.16h-23.13zM835.33,97.52h10.70v2.16h-10.70zM975.55,97.52h8.93v2.16h-8.93zM538.90,99.63h7.15v2.16h-7.15zM554.88,99.63h3.60v2.16h-3.60zM576.17,99.63h69.28v2.16h-69.28zM648.95,99.63h67.50v2.16h-67.50zM744.80,99.63h3.60v2.16h-3.60zM757.23,99.63h16.03v2.16h-16.03zM977.33,99.63h7.15v2.16h-7.15zM538.90,101.73h8.93v2.16h-8.93zM569.07,101.73h76.38v2.16h-76.38zM648.95,101.73h67.50v2.16h-67.50zM743.02,101.73h5.38v2.16h-5.38zM760.78,101.73h8.93v2.16h-8.93zM982.65,101.73h1.83v2.16h-1.83zM538.90,103.84h10.70v2.16h-10.70zM556.65,103.84h90.58v2.16h-90.58zM648.95,103.84h67.50v2.16h-67.50zM743.02,103.84h3.60v2.16h-3.60zM764.33,103.84h3.60v2.16h-3.60zM538.90,105.95h177.55v2.16h-177.55zM741.25,105.95h5.38v2.16h-5.38zM538.90,108.05h177.55v2.16h-177.55zM741.25,108.05h3.60v2.16h-3.60zM538.90,110.16h177.55v2.16h-177.55zM739.48,110.16h3.60v2.16h-3.60zM750.12,110.16h44.43v2.16h-44.43zM950.70,110.16h10.70v2.16h-10.70zM538.90,112.27h177.55v2.16h-177.55zM739.48,112.27h1.83v2.16h-1.83zM746.58,112.27h51.53v2.16h-51.53zM948.93,112.27h12.48v2.16h-12.48zM538.90,114.37h177.55v2.16h-177.55zM744.80,114.37h23.13v2.16h-23.13zM783.85,114.37h28.45v2.16h-28.45zM888.58,114.37h10.70v2.16h-10.70zM927.62,114.37h3.60v2.16h-3.60zM948.93,114.37h10.70v2.16h-10.70zM538.90,116.48h177.55v2.16h-177.55zM744.80,116.48h17.80v2.16h-17.80zM783.85,116.48h30.23v2.16h-30.23zM888.58,116.48h16.03v2.16h-16.03zM929.40,116.48h5.38v2.16h-5.38zM945.38,116.48h14.25v2.16h-14.25zM538.90,118.59h177.55v2.16h-177.55zM744.80,118.59h17.80v2.16h-17.80zM782.08,118.59h32.00v2.16h-32.00zM844.20,118.59h7.15v2.16h-7.15zM888.58,118.59h23.13v2.16h-23.13zM924.08,118.59h3.60v2.16h-3.60zM931.18,118.59h28.45v2.16h-28.45zM538.90,120.69h118.98v2.16h-118.98zM668.48,120.69h47.98v2.16h-47.98zM744.80,120.69h71.05v2.16h-71.05zM844.20,120.69h7.15v2.16h-7.15zM865.50,120.69h21.35v2.16h-21.35zM890.35,120.69h23.13v2.16h-23.13zM931.18,120.69h28.45v2.16h-28.45zM538.90,122.80h117.20v2.16h-117.20zM677.35,122.80h39.10v2.16h-39.10zM743.02,122.80h72.83v2.16h-72.83zM844.20,122.80h7.15v2.16h-7.15zM865.50,122.80h21.35v2.16h-21.35zM890.35,122.80h23.13v2.16h-23.13zM931.18,122.80h28.45v2.16h-28.45zM538.90,124.91h101.23v2.16h-101.23zM643.62,124.91h14.25v2.16h-14.25zM682.67,124.91h33.78v2.16h-33.78zM741.25,124.91h72.83v2.16h-72.83zM865.50,124.91h21.35v2.16h-21.35zM892.12,124.91h23.13v2.16h-23.13zM931.18,124.91h26.68v2.16h-26.68zM538.90,127.01h97.68v2.16h-97.68zM643.62,127.01h23.13v2.16h-23.13zM684.45,127.01h32.00v2.16h-32.00zM739.48,127.01h16.03v2.16h-16.03zM787.40,127.01h24.90v2.16h-24.90zM893.90,127.01h23.13v2.16h-23.13zM932.95,127.01h24.90v2.16h-24.90zM538.90,129.12h94.13v2.16h-94.13zM643.62,129.12h19.58v2.16h-19.58zM675.58,129.12h40.88v2.16h-40.88zM737.70,129.12h8.93v2.16h-8.93zM790.95,129.12h19.58v2.16h-19.58zM915.20,129.12h3.60v2.16h-3.60zM938.28,129.12h17.80v2.16h-17.80zM973.78,129.12h12.48v2.16h-12.48zM538.90,131.23h92.35v2.16h-92.35zM641.85,131.23h12.48v2.16h-12.48zM686.23,131.23h30.23v2.16h-30.23zM735.92,131.23h7.15v2.16h-7.15zM796.28,131.23h14.25v2.16h-14.25zM915.20,131.23h3.60v2.16h-3.60zM938.28,131.23h16.03v2.16h-16.03zM972.00,131.23h14.25v2.16h-14.25zM538.90,133.33h90.58v2.16h-90.58zM640.08,133.33h8.93v2.16h-8.93zM691.55,133.33h24.90v2.16h-24.90zM734.15,133.33h5.38v2.16h-5.38zM796.28,133.33h14.25v2.16h-14.25zM940.05,133.33h17.80v2.16h-17.80zM970.23,133.33h16.03v2.16h-16.03zM538.90,135.44h88.80v2.16h-88.80zM638.30,135.44h8.93v2.16h-8.93zM695.10,135.44h21.35v2.16h-21.35zM732.38,135.44h3.60v2.16h-3.60zM796.28,135.44h16.03v2.16h-16.03zM941.83,135.44h17.80v2.16h-17.80zM970.23,135.44h16.03v2.16h-16.03zM538.90,137.55h87.03v2.16h-87.03zM636.52,137.55h8.93v2.16h-8.93zM698.65,137.55h17.80v2.16h-17.80zM730.60,137.55h7.15v2.16h-7.15zM798.05,137.55h14.25v2.16h-14.25zM947.15,137.55h14.25v2.16h-14.25zM968.45,137.55h10.70v2.16h-10.70zM982.65,137.55h3.60v2.16h-3.60zM538.90,139.65h85.25v2.16h-85.25zM636.52,139.65h7.15v2.16h-7.15zM700.42,139.65h16.03v2.16h-16.03zM728.83,139.65h10.70v2.16h-10.70zM798.05,139.65h16.03v2.16h-16.03zM948.93,139.65h14.25v2.16h-14.25zM968.45,139.65h7.15v2.16h-7.15zM982.65,139.65h3.60v2.16h-3.60zM538.90,141.76h40.88v2.16h-40.88zM585.05,141.76h37.33v2.16h-37.33zM638.30,141.76h3.60v2.16h-3.60zM703.98,141.76h12.48v2.16h-12.48zM796.28,141.76h19.58v2.16h-19.58zM844.20,141.76h26.68v2.16h-26.68zM948.93,141.76h16.03v2.16h-16.03zM966.68,141.76h8.93v2.16h-8.93zM982.65,141.76h3.60v2.16h-3.60zM538.90,143.87h35.55v2.16h-35.55zM595.70,143.87h26.68v2.16h-26.68zM638.30,143.87h1.83v2.16h-1.83zM705.75,143.87h10.70v2.16h-10.70zM741.25,143.87h5.38v2.16h-5.38zM796.28,143.87h21.35v2.16h-21.35zM837.10,143.87h44.43v2.16h-44.43zM950.70,143.87h24.90v2.16h-24.90zM982.65,143.87h3.60v2.16h-3.60zM538.90,145.97h32.00v2.16h-32.00zM597.48,145.97h23.13v2.16h-23.13zM629.42,145.97h3.60v2.16h-3.60zM634.75,145.97h3.60v2.16h-3.60zM707.52,145.97h8.93v2.16h-8.93zM730.60,145.97h17.80v2.16h-17.80zM794.50,145.97h51.53v2.16h-51.53zM863.73,145.97h17.80v2.16h-17.80zM950.70,145.97h24.90v2.16h-24.90zM982.65,145.97h3.60v2.16h-3.60zM538.90,148.08h26.68v2.16h-26.68zM599.25,148.08h23.13v2.16h-23.13zM627.65,148.08h10.70v2.16h-10.70zM718.17,148.08h30.23v2.16h-30.23zM794.50,148.08h47.98v2.16h-47.98zM865.50,148.08h17.80v2.16h-17.80zM952.48,148.08h24.90v2.16h-24.90zM982.65,148.08h3.60v2.16h-3.60zM538.90,150.19h24.90v2.16h-24.90zM601.02,150.19h37.33v2.16h-37.33zM727.05,150.19h21.35v2.16h-21.35zM792.73,150.19h51.53v2.16h-51.53zM869.05,150.19h16.03v2.16h-16.03zM952.48,150.19h24.90v2.16h-24.90zM982.65,150.19h3.60v2.16h-3.60zM538.90,152.29h21.35v2.16h-21.35zM602.80,152.29h35.55v2.16h-35.55zM730.60,152.29h17.80v2.16h-17.80zM792.73,152.29h16.03v2.16h-16.03zM828.23,152.29h17.80v2.16h-17.80zM870.83,152.29h17.80v2.16h-17.80zM950.70,152.29h26.68v2.16h-26.68zM982.65,152.29h3.60v2.16h-3.60zM538.90,154.40h17.80v2.16h-17.80zM606.35,154.40h33.78v2.16h-33.78zM700.42,154.40h1.83v2.16h-1.83zM734.15,154.40h14.25v2.16h-14.25zM790.95,154.40h12.48v2.16h-12.48zM831.78,154.40h26.68v2.16h-26.68zM874.38,154.40h17.80v2.16h-17.80zM950.70,154.40h26.68v2.16h-26.68zM982.65,154.40h3.60v2.16h-3.60zM538.90,156.51h16.03v2.16h-16.03zM606.35,156.51h33.78v2.16h-33.78zM698.65,156.51h3.60v2.16h-3.60zM735.92,156.51h14.25v2.16h-14.25zM790.95,156.51h7.15v2.16h-7.15zM856.62,156.51h7.15v2.16h-7.15zM879.70,156.51h16.03v2.16h-16.03zM950.70,156.51h26.68v2.16h-26.68zM982.65,156.51h3.60v2.16h-3.60zM538.90,158.61h16.03v2.16h-16.03zM574.40,158.61h5.38v2.16h-5.38zM606.35,158.61h35.55v2.16h-35.55zM696.88,158.61h5.38v2.16h-5.38zM737.70,158.61h12.48v2.16h-12.48zM790.95,158.61h5.38v2.16h-5.38zM861.95,158.61h3.60v2.16h-3.60zM890.35,158.61h7.15v2.16h-7.15zM950.70,158.61h30.23v2.16h-30.23zM982.65,158.61h3.60v2.16h-3.60zM538.90,160.72h14.25v2.16h-14.25zM574.40,160.72h5.38v2.16h-5.38zM608.12,160.72h35.55v2.16h-35.55zM695.10,160.72h5.38v2.16h-5.38zM737.70,160.72h23.13v2.16h-23.13zM774.98,160.72h19.58v2.16h-19.58zM863.73,160.72h3.60v2.16h-3.60zM893.90,160.72h3.60v2.16h-3.60zM952.48,160.72h8.93v2.16h-8.93zM972.00,160.72h14.25v2.16h-14.25zM538.90,162.83h14.25v2.16h-14.25zM574.40,162.83h5.38v2.16h-5.38zM608.12,162.83h37.33v2.16h-37.33zM693.33,162.83h7.15v2.16h-7.15zM750.12,162.83h42.65v2.16h-42.65zM865.50,162.83h5.38v2.16h-5.38zM893.90,162.83h5.38v2.16h-5.38zM975.55,162.83h10.70v2.16h-10.70zM538.90,164.93h12.48v2.16h-12.48zM574.40,164.93h5.38v2.16h-5.38zM608.12,164.93h40.88v2.16h-40.88zM689.77,164.93h10.70v2.16h-10.70zM757.23,164.93h33.78v2.16h-33.78zM803.38,164.93h3.60v2.16h-3.60zM867.28,164.93h7.15v2.16h-7.15zM893.90,164.93h5.38v2.16h-5.38zM979.10,164.93h3.60v2.16h-3.60zM538.90,167.04h12.48v2.16h-12.48zM574.40,167.04h5.38v2.16h-5.38zM609.90,167.04h42.65v2.16h-42.65zM682.67,167.04h16.03v2.16h-16.03zM764.33,167.04h62.18v2.16h-62.18zM869.05,167.04h8.93v2.16h-8.93zM890.35,167.04h8.93v2.16h-8.93zM982.65,167.04h3.60v2.16h-3.60zM538.90,169.15h10.70v2.16h-10.70zM574.40,169.15h5.38v2.16h-5.38zM609.90,169.15h51.53v2.16h-51.53zM666.70,169.15h23.13v2.16h-23.13zM782.08,169.15h44.43v2.16h-44.43zM876.15,169.15h24.90v2.16h-24.90zM538.90,171.25h10.70v2.16h-10.70zM574.40,171.25h5.38v2.16h-5.38zM609.90,171.25h78.15v2.16h-78.15zM778.53,171.25h47.98v2.16h-47.98zM881.48,171.25h19.58v2.16h-19.58zM538.90,173.36h8.93v2.16h-8.93zM576.17,173.36h3.60v2.16h-3.60zM608.12,173.36h14.25v2.16h-14.25zM627.65,173.36h58.63v2.16h-58.63zM776.75,173.36h49.75v2.16h-49.75zM886.80,173.36h14.25v2.16h-14.25zM538.90,175.47h8.93v2.16h-8.93zM608.12,175.47h12.48v2.16h-12.48zM627.65,175.47h55.08v2.16h-55.08zM778.53,175.47h47.98v2.16h-47.98zM888.58,175.47h12.48v2.16h-12.48zM538.90,177.57h7.15v2.16h-7.15zM608.12,177.57h8.93v2.16h-8.93zM627.65,177.57h19.58v2.16h-19.58zM652.50,177.57h21.35v2.16h-21.35zM783.85,177.57h40.88v2.16h-40.88zM890.35,177.57h10.70v2.16h-10.70zM538.90,179.68h3.60v2.16h-3.60zM604.58,179.68h10.70v2.16h-10.70zM625.88,179.68h14.25v2.16h-14.25zM803.38,179.68h14.25v2.16h-14.25zM828.23,179.68h12.48v2.16h-12.48zM892.12,179.68h3.60v2.16h-3.60zM538.90,181.79h1.83v2.16h-1.83zM602.80,181.79h10.70v2.16h-10.70zM624.10,181.79h12.48v2.16h-12.48zM686.23,181.79h8.93v2.16h-8.93zM826.45,181.79h14.25v2.16h-14.25zM964.90,181.79h10.70v2.16h-10.70zM538.90,183.89h3.60v2.16h-3.60zM601.02,183.89h10.70v2.16h-10.70zM622.33,183.89h1.83v2.16h-1.83zM682.67,183.89h14.25v2.16h-14.25zM826.45,183.89h12.48v2.16h-12.48zM964.90,183.89h10.70v2.16h-10.70zM538.90,186.00h10.70v2.16h-10.70zM599.25,186.00h10.70v2.16h-10.70zM620.55,186.00h3.60v2.16h-3.60zM682.67,186.00h14.25v2.16h-14.25zM826.45,186.00h8.93v2.16h-8.93zM964.90,186.00h12.48v2.16h-12.48zM538.90,188.11h1.83v2.16h-1.83zM542.45,188.11h12.48v2.16h-12.48zM595.70,188.11h14.25v2.16h-14.25zM618.77,188.11h5.38v2.16h-5.38zM684.45,188.11h10.70v2.16h-10.70zM966.68,188.11h10.70v2.16h-10.70zM538.90,190.21h1.83v2.16h-1.83zM542.45,190.21h17.80v2.16h-17.80zM593.92,190.21h14.25v2.16h-14.25zM617.00,190.21h7.15v2.16h-7.15zM634.75,190.21h1.83v2.16h-1.83zM968.45,190.21h17.80v2.16h-17.80zM538.90,192.32h1.83v2.16h-1.83zM542.45,192.32h10.70v2.16h-10.70zM554.88,192.32h16.03v2.16h-16.03zM585.05,192.32h21.35v2.16h-21.35zM617.00,192.32h7.15v2.16h-7.15zM968.45,192.32h17.80v2.16h-17.80zM538.90,194.43h1.83v2.16h-1.83zM542.45,194.43h3.60v2.16h-3.60zM547.77,194.43h33.78v2.16h-33.78zM583.27,194.43h21.35v2.16h-21.35zM617.00,194.43h7.15v2.16h-7.15zM631.20,194.43h3.60v2.16h-3.60zM968.45,194.43h17.80v2.16h-17.80zM538.90,196.53h1.83v2.16h-1.83zM542.45,196.53h3.60v2.16h-3.60zM551.32,196.53h1.83v2.16h-1.83zM556.65,196.53h46.20v2.16h-46.20zM615.23,196.53h8.93v2.16h-8.93zM631.20,196.53h3.60v2.16h-3.60zM968.45,196.53h17.80v2.16h-17.80zM538.90,198.64h1.83v2.16h-1.83zM542.45,198.64h3.60v2.16h-3.60zM551.32,198.64h1.83v2.16h-1.83zM556.65,198.64h3.60v2.16h-3.60zM567.30,198.64h23.13v2.16h-23.13zM592.15,198.64h7.15v2.16h-7.15zM617.00,198.64h7.15v2.16h-7.15zM968.45,198.64h17.80v2.16h-17.80zM538.90,200.75h14.25v2.16h-14.25zM556.65,200.75h1.83v2.16h-1.83zM569.07,200.75h1.83v2.16h-1.83zM577.95,200.75h21.35v2.16h-21.35zM617.00,200.75h8.93v2.16h-8.93zM634.75,200.75h1.83v2.16h-1.83zM966.68,200.75h19.58v2.16h-19.58zM538.90,202.85h12.48v2.16h-12.48zM577.95,202.85h19.58v2.16h-19.58zM618.77,202.85h7.15v2.16h-7.15zM631.20,202.85h5.38v2.16h-5.38zM966.68,202.85h19.58v2.16h-19.58zM538.90,204.96h12.48v2.16h-12.48zM556.65,204.96h1.83v2.16h-1.83zM560.20,204.96h3.60v2.16h-3.60zM577.95,204.96h17.80v2.16h-17.80zM617.00,204.96h21.35v2.16h-21.35zM641.85,204.96h3.60v2.16h-3.60zM652.50,204.96h3.60v2.16h-3.60zM822.90,204.96h8.93v2.16h-8.93zM968.45,204.96h17.80v2.16h-17.80zM538.90,207.07h19.58v2.16h-19.58zM577.95,207.07h17.80v2.16h-17.80zM613.45,207.07h26.68v2.16h-26.68zM641.85,207.07h3.60v2.16h-3.60zM650.73,207.07h5.38v2.16h-5.38zM817.58,207.07h14.25v2.16h-14.25zM972.00,207.07h14.25v2.16h-14.25zM538.90,209.17h17.80v2.16h-17.80zM577.95,209.17h3.60v2.16h-3.60zM583.27,209.17h10.70v2.16h-10.70zM609.90,209.17h16.03v2.16h-16.03zM648.95,209.17h5.38v2.16h-5.38zM814.03,209.17h26.68v2.16h-26.68zM973.78,209.17h12.48v2.16h-12.48zM538.90,211.28h17.80v2.16h-17.80zM570.85,211.28h8.93v2.16h-8.93zM585.05,211.28h3.60v2.16h-3.60zM604.58,211.28h21.35v2.16h-21.35zM641.85,211.28h1.83v2.16h-1.83zM648.95,211.28h5.38v2.16h-5.38zM812.25,211.28h16.03v2.16h-16.03zM833.55,211.28h7.15v2.16h-7.15zM975.55,211.28h10.70v2.16h-10.70zM540.67,213.39h17.80v2.16h-17.80zM570.85,213.39h8.93v2.16h-8.93zM583.27,213.39h7.15v2.16h-7.15zM602.80,213.39h26.68v2.16h-26.68zM641.85,213.39h3.60v2.16h-3.60zM647.17,213.39h5.38v2.16h-5.38zM812.25,213.39h14.25v2.16h-14.25zM833.55,213.39h17.80v2.16h-17.80zM975.55,213.39h10.70v2.16h-10.70zM540.67,215.49h17.80v2.16h-17.80zM569.07,215.49h10.70v2.16h-10.70zM581.50,215.49h7.15v2.16h-7.15zM604.58,215.49h21.35v2.16h-21.35zM641.85,215.49h8.93v2.16h-8.93zM812.25,215.49h14.25v2.16h-14.25zM835.33,215.49h24.90v2.16h-24.90zM973.78,215.49h12.48v2.16h-12.48zM540.67,217.60h19.58v2.16h-19.58zM569.07,217.60h10.70v2.16h-10.70zM581.50,217.60h7.15v2.16h-7.15zM593.92,217.60h3.60v2.16h-3.60zM609.90,217.60h16.03v2.16h-16.03zM641.85,217.60h7.15v2.16h-7.15zM812.25,217.60h16.03v2.16h-16.03zM835.33,217.60h30.23v2.16h-30.23zM973.78,217.60h12.48v2.16h-12.48zM538.90,219.71h40.88v2.16h-40.88zM581.50,219.71h10.70v2.16h-10.70zM599.25,219.71h26.68v2.16h-26.68zM640.08,219.71h7.15v2.16h-7.15zM821.12,219.71h44.43v2.16h-44.43zM973.78,219.71h10.70v2.16h-10.70zM542.45,221.81h51.53v2.16h-51.53zM597.48,221.81h28.45v2.16h-28.45zM641.85,221.81h3.60v2.16h-3.60zM824.67,221.81h40.88v2.16h-40.88zM973.78,221.81h10.70v2.16h-10.70zM542.45,223.92h63.95v2.16h-63.95zM608.12,223.92h3.60v2.16h-3.60zM618.77,223.92h7.15v2.16h-7.15zM641.85,223.92h1.83v2.16h-1.83zM648.95,223.92h1.83v2.16h-1.83zM656.05,223.92h3.60v2.16h-3.60zM830.00,223.92h16.03v2.16h-16.03zM854.85,223.92h10.70v2.16h-10.70zM972.00,223.92h12.48v2.16h-12.48zM542.45,226.03h51.53v2.16h-51.53zM606.35,226.03h1.83v2.16h-1.83zM618.77,226.03h7.15v2.16h-7.15zM641.85,226.03h1.83v2.16h-1.83zM648.95,226.03h1.83v2.16h-1.83zM654.27,226.03h7.15v2.16h-7.15zM972.00,226.03h12.48v2.16h-12.48zM538.90,228.13h21.35v2.16h-21.35zM563.75,228.13h30.23v2.16h-30.23zM606.35,228.13h1.83v2.16h-1.83zM618.77,228.13h8.93v2.16h-8.93zM634.75,228.13h3.60v2.16h-3.60zM648.95,228.13h14.25v2.16h-14.25zM970.23,228.13h14.25v2.16h-14.25zM538.90,230.24h17.80v2.16h-17.80zM563.75,230.24h30.23v2.16h-30.23zM618.77,230.24h12.48v2.16h-12.48zM634.75,230.24h3.60v2.16h-3.60zM648.95,230.24h14.25v2.16h-14.25zM803.38,230.24h3.60v2.16h-3.60zM968.45,230.24h16.03v2.16h-16.03zM538.90,232.35h37.33v2.16h-37.33zM577.95,232.35h16.03v2.16h-16.03zM618.77,232.35h12.48v2.16h-12.48zM641.85,232.35h1.83v2.16h-1.83zM645.40,232.35h1.83v2.16h-1.83zM650.73,232.35h14.25v2.16h-14.25zM799.83,232.35h12.48v2.16h-12.48zM966.68,232.35h17.80v2.16h-17.80zM538.90,234.45h37.33v2.16h-37.33zM577.95,234.45h1.83v2.16h-1.83zM590.38,234.45h3.60v2.16h-3.60zM599.25,234.45h1.83v2.16h-1.83zM611.67,234.45h1.83v2.16h-1.83zM618.77,234.45h12.48v2.16h-12.48zM648.95,234.45h16.03v2.16h-16.03zM799.83,234.45h17.80v2.16h-17.80zM964.90,234.45h19.58v2.16h-19.58zM538.90,236.56h40.88v2.16h-40.88zM590.38,236.56h3.60v2.16h-3.60zM599.25,236.56h1.83v2.16h-1.83zM611.67,236.56h1.83v2.16h-1.83zM618.77,236.56h14.25v2.16h-14.25zM648.95,236.56h17.80v2.16h-17.80zM799.83,236.56h24.90v2.16h-24.90zM885.03,236.56h14.25v2.16h-14.25zM964.90,236.56h19.58v2.16h-19.58zM538.90,238.67h40.88v2.16h-40.88zM581.50,238.67h1.83v2.16h-1.83zM590.38,238.67h7.15v2.16h-7.15zM618.77,238.67h14.25v2.16h-14.25zM647.17,238.67h19.58v2.16h-19.58zM801.60,238.67h26.68v2.16h-26.68zM883.25,238.67h17.80v2.16h-17.80zM964.90,238.67h19.58v2.16h-19.58zM538.90,240.77h40.88v2.16h-40.88zM590.38,240.77h8.93v2.16h-8.93zM604.58,240.77h16.03v2.16h-16.03zM645.40,240.77h23.13v2.16h-23.13zM801.60,240.77h28.45v2.16h-28.45zM885.03,240.77h14.25v2.16h-14.25zM964.90,240.77h19.58v2.16h-19.58zM538.90,242.88h28.45v2.16h-28.45zM572.62,242.88h7.15v2.16h-7.15zM590.38,242.88h24.90v2.16h-24.90zM647.17,242.88h19.58v2.16h-19.58zM805.15,242.88h26.68v2.16h-26.68zM966.68,242.88h17.80v2.16h-17.80zM538.90,244.99h40.88v2.16h-40.88zM590.38,244.99h21.35v2.16h-21.35zM647.17,244.99h19.58v2.16h-19.58zM808.70,244.99h23.13v2.16h-23.13zM966.68,244.99h17.80v2.16h-17.80zM538.90,247.09h8.93v2.16h-8.93zM549.55,247.09h8.93v2.16h-8.93zM560.20,247.09h46.20v2.16h-46.20zM648.95,247.09h17.80v2.16h-17.80zM673.80,247.09h8.93v2.16h-8.93zM808.70,247.09h23.13v2.16h-23.13zM968.45,247.09h16.03v2.16h-16.03zM538.90,249.20h8.93v2.16h-8.93zM549.55,249.20h40.88v2.16h-40.88zM592.15,249.20h10.70v2.16h-10.70zM648.95,249.20h16.03v2.16h-16.03zM673.80,249.20h8.93v2.16h-8.93zM819.35,249.20h10.70v2.16h-10.70zM970.23,249.20h14.25v2.16h-14.25zM538.90,251.31h21.35v2.16h-21.35zM567.30,251.31h30.23v2.16h-30.23zM599.25,251.31h1.83v2.16h-1.83zM650.73,251.31h12.48v2.16h-12.48zM673.80,251.31h8.93v2.16h-8.93zM972.00,251.31h12.48v2.16h-12.48zM538.90,253.41h5.38v2.16h-5.38zM549.55,253.41h30.23v2.16h-30.23zM585.05,253.41h10.70v2.16h-10.70zM631.20,253.41h5.38v2.16h-5.38zM654.27,253.41h5.38v2.16h-5.38zM954.25,253.41h8.93v2.16h-8.93zM973.78,253.41h10.70v2.16h-10.70zM538.90,255.52h1.83v2.16h-1.83zM549.55,255.52h28.45v2.16h-28.45zM627.65,255.52h12.48v2.16h-12.48zM698.65,255.52h5.38v2.16h-5.38zM952.48,255.52h12.48v2.16h-12.48zM977.33,255.52h7.15v2.16h-7.15zM538.90,257.63h1.83v2.16h-1.83zM624.10,257.63h17.80v2.16h-17.80zM696.88,257.63h8.93v2.16h-8.93zM950.70,257.63h16.03v2.16h-16.03zM979.10,257.63h5.38v2.16h-5.38zM538.90,259.73h1.83v2.16h-1.83zM561.98,259.73h1.83v2.16h-1.83zM620.55,259.73h10.70v2.16h-10.70zM636.52,259.73h8.93v2.16h-8.93zM696.88,259.73h8.93v2.16h-8.93zM948.93,259.73h17.80v2.16h-17.80zM982.65,259.73h1.83v2.16h-1.83zM538.90,261.84h1.83v2.16h-1.83zM549.55,261.84h1.83v2.16h-1.83zM561.98,261.84h3.60v2.16h-3.60zM617.00,261.84h10.70v2.16h-10.70zM638.30,261.84h8.93v2.16h-8.93zM696.88,261.84h8.93v2.16h-8.93zM948.93,261.84h5.38v2.16h-5.38zM957.80,261.84h10.70v2.16h-10.70zM538.90,263.95h1.83v2.16h-1.83zM561.98,263.95h3.60v2.16h-3.60zM613.45,263.95h10.70v2.16h-10.70zM641.85,263.95h7.15v2.16h-7.15zM696.88,263.95h8.93v2.16h-8.93zM947.15,263.95h7.15v2.16h-7.15zM959.58,263.95h8.93v2.16h-8.93zM538.90,266.05h1.83v2.16h-1.83zM547.77,266.05h3.60v2.16h-3.60zM574.40,266.05h3.60v2.16h-3.60zM611.67,266.05h8.93v2.16h-8.93zM643.62,266.05h8.93v2.16h-8.93zM666.70,266.05h3.60v2.16h-3.60zM696.88,266.05h8.93v2.16h-8.93zM947.15,266.05h5.38v2.16h-5.38zM961.35,266.05h7.15v2.16h-7.15zM538.90,268.16h1.83v2.16h-1.83zM547.77,268.16h3.60v2.16h-3.60zM595.70,268.16h1.83v2.16h-1.83zM613.45,268.16h8.93v2.16h-8.93zM645.40,268.16h12.48v2.16h-12.48zM661.38,268.16h12.48v2.16h-12.48zM698.65,268.16h5.38v2.16h-5.38zM945.38,268.16h7.15v2.16h-7.15zM961.35,268.16h8.93v2.16h-8.93zM538.90,270.27h1.83v2.16h-1.83zM551.32,270.27h3.60v2.16h-3.60zM574.40,270.27h1.83v2.16h-1.83zM613.45,270.27h10.70v2.16h-10.70zM643.62,270.27h32.00v2.16h-32.00zM945.38,270.27h7.15v2.16h-7.15zM963.12,270.27h7.15v2.16h-7.15zM538.90,272.37h1.83v2.16h-1.83zM583.27,272.37h3.60v2.16h-3.60zM615.23,272.37h10.70v2.16h-10.70zM643.62,272.37h33.78v2.16h-33.78zM945.38,272.37h5.38v2.16h-5.38zM963.12,272.37h8.93v2.16h-8.93zM538.90,274.48h1.83v2.16h-1.83zM586.83,274.48h1.83v2.16h-1.83zM618.77,274.48h8.93v2.16h-8.93zM640.08,274.48h10.70v2.16h-10.70zM654.27,274.48h37.33v2.16h-37.33zM945.38,274.48h5.38v2.16h-5.38zM964.90,274.48h7.15v2.16h-7.15zM538.90,276.59h1.83v2.16h-1.83zM553.10,276.59h1.83v2.16h-1.83zM586.83,276.59h1.83v2.16h-1.83zM590.38,276.59h1.83v2.16h-1.83zM620.55,276.59h28.45v2.16h-28.45zM663.15,276.59h32.00v2.16h-32.00zM945.38,276.59h5.38v2.16h-5.38zM964.90,276.59h7.15v2.16h-7.15zM538.90,278.69h1.83v2.16h-1.83zM553.10,278.69h1.83v2.16h-1.83zM569.07,278.69h1.83v2.16h-1.83zM624.10,278.69h21.35v2.16h-21.35zM668.48,278.69h3.60v2.16h-3.60zM682.67,278.69h16.03v2.16h-16.03zM734.15,278.69h8.93v2.16h-8.93zM945.38,278.69h3.60v2.16h-3.60zM964.90,278.69h7.15v2.16h-7.15zM538.90,280.80h3.60v2.16h-3.60zM640.08,280.80h1.83v2.16h-1.83zM666.70,280.80h3.60v2.16h-3.60zM684.45,280.80h16.03v2.16h-16.03zM732.38,280.80h17.80v2.16h-17.80zM945.38,280.80h21.35v2.16h-21.35zM538.90,282.91h3.60v2.16h-3.60zM560.20,282.91h3.60v2.16h-3.60zM634.75,282.91h10.70v2.16h-10.70zM666.70,282.91h3.60v2.16h-3.60zM688.00,282.91h14.25v2.16h-14.25zM732.38,282.91h17.80v2.16h-17.80zM952.48,282.91h3.60v2.16h-3.60zM538.90,285.01h1.83v2.16h-1.83zM560.20,285.01h3.60v2.16h-3.60zM579.73,285.01h1.83v2.16h-1.83zM597.48,285.01h3.60v2.16h-3.60zM634.75,285.01h17.80v2.16h-17.80zM663.15,285.01h8.93v2.16h-8.93zM691.55,285.01h14.25v2.16h-14.25zM732.38,285.01h17.80v2.16h-17.80zM538.90,287.12h1.83v2.16h-1.83zM549.55,287.12h3.60v2.16h-3.60zM579.73,287.12h1.83v2.16h-1.83zM585.05,287.12h1.83v2.16h-1.83zM588.60,287.12h1.83v2.16h-1.83zM593.92,287.12h3.60v2.16h-3.60zM634.75,287.12h17.80v2.16h-17.80zM661.38,287.12h8.93v2.16h-8.93zM695.10,287.12h14.25v2.16h-14.25zM732.38,287.12h16.03v2.16h-16.03zM538.90,289.23h1.83v2.16h-1.83zM554.88,289.23h1.83v2.16h-1.83zM586.83,289.23h3.60v2.16h-3.60zM593.92,289.23h3.60v2.16h-3.60zM634.75,289.23h17.80v2.16h-17.80zM659.60,289.23h10.70v2.16h-10.70zM696.88,289.23h14.25v2.16h-14.25zM732.38,289.23h16.03v2.16h-16.03zM538.90,291.33h1.83v2.16h-1.83zM638.30,291.33h14.25v2.16h-14.25zM657.83,291.33h12.48v2.16h-12.48zM698.65,291.33h14.25v2.16h-14.25zM732.38,291.33h14.25v2.16h-14.25zM538.90,293.44h3.60v2.16h-3.60zM558.42,293.44h3.60v2.16h-3.60zM656.05,293.44h14.25v2.16h-14.25zM700.42,293.44h14.25v2.16h-14.25zM732.38,293.44h14.25v2.16h-14.25zM538.90,295.55h5.38v2.16h-5.38zM553.10,295.55h3.60v2.16h-3.60zM561.98,295.55h3.60v2.16h-3.60zM570.85,295.55h3.60v2.16h-3.60zM656.05,295.55h16.03v2.16h-16.03zM700.42,295.55h14.25v2.16h-14.25zM734.15,295.55h12.48v2.16h-12.48zM538.90,297.65h10.70v2.16h-10.70zM656.05,297.65h16.03v2.16h-16.03zM702.20,297.65h12.48v2.16h-12.48zM734.15,297.65h10.70v2.16h-10.70zM544.23,299.76h3.60v2.16h-3.60zM656.05,299.76h17.80v2.16h-17.80zM702.20,299.76h12.48v2.16h-12.48zM735.92,299.76h5.38v2.16h-5.38zM546.00,301.87h1.83v2.16h-1.83zM625.88,301.87h7.15v2.16h-7.15zM656.05,301.87h19.58v2.16h-19.58zM702.20,301.87h14.25v2.16h-14.25zM721.73,301.87h19.58v2.16h-19.58zM547.77,303.97h3.60v2.16h-3.60zM553.10,303.97h3.60v2.16h-3.60zM625.88,303.97h7.15v2.16h-7.15zM656.05,303.97h21.35v2.16h-21.35zM702.20,303.97h37.33v2.16h-37.33zM540.67,306.08h1.83v2.16h-1.83zM546.00,306.08h5.38v2.16h-5.38zM625.88,306.08h7.15v2.16h-7.15zM657.83,306.08h23.13v2.16h-23.13zM702.20,306.08h37.33v2.16h-37.33zM546.00,308.19h7.15v2.16h-7.15zM661.38,308.19h23.13v2.16h-23.13zM702.20,308.19h14.25v2.16h-14.25zM719.95,308.19h19.58v2.16h-19.58zM549.55,310.29h3.60v2.16h-3.60zM663.15,310.29h24.90v2.16h-24.90zM700.42,310.29h14.25v2.16h-14.25zM719.95,310.29h17.80v2.16h-17.80zM945.38,310.29h5.38v2.16h-5.38zM540.67,312.40h3.60v2.16h-3.60zM666.70,312.40h24.90v2.16h-24.90zM698.65,312.40h16.03v2.16h-16.03zM719.95,312.40h17.80v2.16h-17.80zM945.38,312.40h5.38v2.16h-5.38zM546.00,314.51h1.83v2.16h-1.83zM634.75,314.51h7.15v2.16h-7.15zM668.48,314.51h46.20v2.16h-46.20zM719.95,314.51h16.03v2.16h-16.03zM544.23,316.61h3.60v2.16h-3.60zM553.10,316.61h3.60v2.16h-3.60zM634.75,316.61h7.15v2.16h-7.15zM670.25,316.61h44.43v2.16h-44.43zM719.95,316.61h14.25v2.16h-14.25zM961.35,316.61h5.38v2.16h-5.38zM542.45,318.72h3.60v2.16h-3.60zM549.55,318.72h1.83v2.16h-1.83zM553.10,318.72h1.83v2.16h-1.83zM670.25,318.72h16.03v2.16h-16.03zM688.00,318.72h24.90v2.16h-24.90zM719.95,318.72h12.48v2.16h-12.48zM961.35,318.72h5.38v2.16h-5.38zM549.55,320.83h1.83v2.16h-1.83zM670.25,320.83h10.70v2.16h-10.70zM693.33,320.83h19.58v2.16h-19.58zM719.95,320.83h10.70v2.16h-10.70zM961.35,320.83h5.38v2.16h-5.38zM668.48,322.93h10.70v2.16h-10.70zM695.10,322.93h16.03v2.16h-16.03zM721.73,322.93h5.38v2.16h-5.38zM961.35,322.93h5.38v2.16h-5.38zM977.33,322.93h3.60v2.16h-3.60zM540.67,325.04h1.83v2.16h-1.83zM666.70,325.04h12.48v2.16h-12.48zM696.88,325.04h14.25v2.16h-14.25zM961.35,325.04h5.38v2.16h-5.38zM977.33,325.04h3.60v2.16h-3.60zM540.67,327.15h5.38v2.16h-5.38zM549.55,327.15h1.83v2.16h-1.83zM666.70,327.15h14.25v2.16h-14.25zM696.88,327.15h12.48v2.16h-12.48zM943.60,327.15h3.60v2.16h-3.60zM546.00,329.25h1.83v2.16h-1.83zM549.55,329.25h1.83v2.16h-1.83zM664.92,329.25h16.03v2.16h-16.03zM698.65,329.25h10.70v2.16h-10.70zM938.28,329.25h10.70v2.16h-10.70zM538.90,331.36h1.83v2.16h-1.83zM546.00,331.36h5.38v2.16h-5.38zM664.92,331.36h16.03v2.16h-16.03zM698.65,331.36h8.93v2.16h-8.93zM934.73,331.36h14.25v2.16h-14.25zM540.67,333.47h3.60v2.16h-3.60zM547.77,333.47h3.60v2.16h-3.60zM664.92,333.47h17.80v2.16h-17.80zM696.88,333.47h10.70v2.16h-10.70zM929.40,333.47h19.58v2.16h-19.58zM544.23,335.57h1.83v2.16h-1.83zM554.88,335.57h1.83v2.16h-1.83zM666.70,335.57h16.03v2.16h-16.03zM696.88,335.57h8.93v2.16h-8.93zM925.85,335.57h21.35v2.16h-21.35zM544.23,337.68h1.83v2.16h-1.83zM549.55,337.68h3.60v2.16h-3.60zM554.88,337.68h1.83v2.16h-1.83zM666.70,337.68h17.80v2.16h-17.80zM695.10,337.68h8.93v2.16h-8.93zM922.30,337.68h23.13v2.16h-23.13zM549.55,339.79h3.60v2.16h-3.60zM668.48,339.79h35.55v2.16h-35.55zM916.98,339.79h24.90v2.16h-24.90zM668.48,341.89h33.78v2.16h-33.78zM911.65,341.89h28.45v2.16h-28.45zM540.67,344.00h1.83v2.16h-1.83zM670.25,344.00h32.00v2.16h-32.00zM799.83,344.00h5.38v2.16h-5.38zM908.10,344.00h32.00v2.16h-32.00zM540.67,346.11h3.60v2.16h-3.60zM554.88,346.11h3.60v2.16h-3.60zM634.75,346.11h7.15v2.16h-7.15zM672.02,346.11h28.45v2.16h-28.45zM799.83,346.11h5.38v2.16h-5.38zM847.75,346.11h14.25v2.16h-14.25zM883.25,346.11h10.70v2.16h-10.70zM906.33,346.11h32.00v2.16h-32.00zM542.45,348.21h1.83v2.16h-1.83zM553.10,348.21h5.38v2.16h-5.38zM634.75,348.21h7.15v2.16h-7.15zM673.80,348.21h24.90v2.16h-24.90zM847.75,348.21h16.03v2.16h-16.03zM883.25,348.21h10.70v2.16h-10.70zM908.10,348.21h30.23v2.16h-30.23zM554.88,350.32h3.60v2.16h-3.60zM634.75,350.32h7.15v2.16h-7.15zM675.58,350.32h21.35v2.16h-21.35zM847.75,350.32h16.03v2.16h-16.03zM885.03,350.32h8.93v2.16h-8.93zM909.88,350.32h28.45v2.16h-28.45zM982.65,350.32h3.60v2.16h-3.60zM677.35,352.43h14.25v2.16h-14.25zM849.53,352.43h10.70v2.16h-10.70zM911.65,352.43h26.68v2.16h-26.68zM980.88,352.43h5.38v2.16h-5.38zM776.75,354.53h16.03v2.16h-16.03zM911.65,354.53h24.90v2.16h-24.90zM979.10,354.53h7.15v2.16h-7.15zM771.42,356.64h24.90v2.16h-24.90zM911.65,356.64h24.90v2.16h-24.90zM977.33,356.64h8.93v2.16h-8.93zM542.45,358.75h1.83v2.16h-1.83zM547.77,358.75h1.83v2.16h-1.83zM767.88,358.75h30.23v2.16h-30.23zM819.35,358.75h7.15v2.16h-7.15zM913.43,358.75h23.13v2.16h-23.13zM973.78,358.75h12.48v2.16h-12.48zM538.90,360.85h1.83v2.16h-1.83zM547.77,360.85h1.83v2.16h-1.83zM554.88,360.85h3.60v2.16h-3.60zM766.10,360.85h33.78v2.16h-33.78zM814.03,360.85h12.48v2.16h-12.48zM860.18,360.85h14.25v2.16h-14.25zM888.58,360.85h5.38v2.16h-5.38zM913.43,360.85h21.35v2.16h-21.35zM972.00,360.85h14.25v2.16h-14.25zM538.90,362.96h1.83v2.16h-1.83zM544.23,362.96h1.83v2.16h-1.83zM554.88,362.96h3.60v2.16h-3.60zM766.10,362.96h33.78v2.16h-33.78zM808.70,362.96h17.80v2.16h-17.80zM853.08,362.96h24.90v2.16h-24.90zM888.58,362.96h7.15v2.16h-7.15zM913.43,362.96h21.35v2.16h-21.35zM970.23,362.96h16.03v2.16h-16.03zM538.90,365.07h1.83v2.16h-1.83zM542.45,365.07h5.38v2.16h-5.38zM620.55,365.07h3.60v2.16h-3.60zM766.10,365.07h35.55v2.16h-35.55zM805.15,365.07h19.58v2.16h-19.58zM849.53,365.07h30.23v2.16h-30.23zM886.80,365.07h8.93v2.16h-8.93zM913.43,365.07h21.35v2.16h-21.35zM970.23,365.07h16.03v2.16h-16.03zM544.23,367.17h3.60v2.16h-3.60zM620.55,367.17h3.60v2.16h-3.60zM684.45,367.17h5.38v2.16h-5.38zM766.10,367.17h17.80v2.16h-17.80zM785.62,367.17h14.25v2.16h-14.25zM803.38,367.17h17.80v2.16h-17.80zM845.98,367.17h12.48v2.16h-12.48zM872.60,367.17h8.93v2.16h-8.93zM883.25,367.17h14.25v2.16h-14.25zM915.20,367.17h17.80v2.16h-17.80zM972.00,367.17h14.25v2.16h-14.25zM540.67,369.28h1.83v2.16h-1.83zM544.23,369.28h1.83v2.16h-1.83zM640.08,369.28h1.83v2.16h-1.83zM682.67,369.28h8.93v2.16h-8.93zM766.10,369.28h16.03v2.16h-16.03zM785.62,369.28h14.25v2.16h-14.25zM801.60,369.28h16.03v2.16h-16.03zM844.20,369.28h8.93v2.16h-8.93zM876.15,369.28h23.13v2.16h-23.13zM915.20,369.28h17.80v2.16h-17.80zM972.00,369.28h14.25v2.16h-14.25zM540.67,371.39h5.38v2.16h-5.38zM640.08,371.39h5.38v2.16h-5.38zM682.67,371.39h10.70v2.16h-10.70zM766.10,371.39h16.03v2.16h-16.03zM785.62,371.39h14.25v2.16h-14.25zM801.60,371.39h12.48v2.16h-12.48zM840.65,371.39h8.93v2.16h-8.93zM876.15,371.39h24.90v2.16h-24.90zM913.43,371.39h21.35v2.16h-21.35zM972.00,371.39h14.25v2.16h-14.25zM538.90,373.49h3.60v2.16h-3.60zM551.32,373.49h5.38v2.16h-5.38zM638.30,373.49h5.38v2.16h-5.38zM682.67,373.49h10.70v2.16h-10.70zM766.10,373.49h16.03v2.16h-16.03zM785.62,373.49h14.25v2.16h-14.25zM803.38,373.49h14.25v2.16h-14.25zM838.88,373.49h8.93v2.16h-8.93zM877.93,373.49h26.68v2.16h-26.68zM913.43,373.49h24.90v2.16h-24.90zM972.00,373.49h14.25v2.16h-14.25zM546.00,375.60h3.60v2.16h-3.60zM551.32,375.60h3.60v2.16h-3.60zM565.52,375.60h3.60v2.16h-3.60zM581.50,375.60h1.83v2.16h-1.83zM585.05,375.60h3.60v2.16h-3.60zM636.52,375.60h7.15v2.16h-7.15zM682.67,375.60h10.70v2.16h-10.70zM767.88,375.60h14.25v2.16h-14.25zM783.85,375.60h14.25v2.16h-14.25zM805.15,375.60h17.80v2.16h-17.80zM837.10,375.60h8.93v2.16h-8.93zM877.93,375.60h53.30v2.16h-53.30zM934.73,375.60h7.15v2.16h-7.15zM973.78,375.60h12.48v2.16h-12.48zM546.00,377.71h3.60v2.16h-3.60zM565.52,377.71h3.60v2.16h-3.60zM585.05,377.71h5.38v2.16h-5.38zM634.75,377.71h7.15v2.16h-7.15zM684.45,377.71h8.93v2.16h-8.93zM767.88,377.71h30.23v2.16h-30.23zM806.92,377.71h17.80v2.16h-17.80zM835.33,377.71h10.70v2.16h-10.70zM879.70,377.71h47.98v2.16h-47.98zM936.50,377.71h8.93v2.16h-8.93zM973.78,377.71h12.48v2.16h-12.48zM538.90,379.81h3.60v2.16h-3.60zM546.00,379.81h3.60v2.16h-3.60zM588.60,379.81h3.60v2.16h-3.60zM632.98,379.81h8.93v2.16h-8.93zM767.88,379.81h28.45v2.16h-28.45zM806.92,379.81h19.58v2.16h-19.58zM833.55,379.81h10.70v2.16h-10.70zM879.70,379.81h44.43v2.16h-44.43zM938.28,379.81h8.93v2.16h-8.93zM973.78,379.81h12.48v2.16h-12.48zM538.90,381.92h1.83v2.16h-1.83zM556.65,381.92h1.83v2.16h-1.83zM632.98,381.92h7.15v2.16h-7.15zM767.88,381.92h26.68v2.16h-26.68zM808.70,381.92h17.80v2.16h-17.80zM831.78,381.92h12.48v2.16h-12.48zM879.70,381.92h39.10v2.16h-39.10zM940.05,381.92h8.93v2.16h-8.93zM973.78,381.92h12.48v2.16h-12.48zM544.23,384.03h3.60v2.16h-3.60zM634.75,384.03h1.83v2.16h-1.83zM769.65,384.03h21.35v2.16h-21.35zM806.92,384.03h17.80v2.16h-17.80zM830.00,384.03h14.25v2.16h-14.25zM879.70,384.03h32.00v2.16h-32.00zM940.05,384.03h10.70v2.16h-10.70zM975.55,384.03h10.70v2.16h-10.70zM538.90,386.13h1.83v2.16h-1.83zM544.23,386.13h1.83v2.16h-1.83zM744.80,386.13h1.83v2.16h-1.83zM771.42,386.13h16.03v2.16h-16.03zM805.15,386.13h16.03v2.16h-16.03zM830.00,386.13h16.03v2.16h-16.03zM881.48,386.13h30.23v2.16h-30.23zM940.05,386.13h10.70v2.16h-10.70zM973.78,386.13h12.48v2.16h-12.48zM538.90,388.24h1.83v2.16h-1.83zM551.32,388.24h1.83v2.16h-1.83zM595.70,388.24h3.60v2.16h-3.60zM734.15,388.24h19.58v2.16h-19.58zM767.88,388.24h17.80v2.16h-17.80zM803.38,388.24h14.25v2.16h-14.25zM828.23,388.24h19.58v2.16h-19.58zM879.70,388.24h21.35v2.16h-21.35zM908.10,388.24h5.38v2.16h-5.38zM938.28,388.24h14.25v2.16h-14.25zM973.78,388.24h12.48v2.16h-12.48zM553.10,390.35h5.38v2.16h-5.38zM728.83,390.35h26.68v2.16h-26.68zM764.33,390.35h23.13v2.16h-23.13zM803.38,390.35h8.93v2.16h-8.93zM828.23,390.35h21.35v2.16h-21.35zM879.70,390.35h17.80v2.16h-17.80zM909.88,390.35h44.43v2.16h-44.43zM973.78,390.35h12.48v2.16h-12.48zM540.67,392.45h3.60v2.16h-3.60zM553.10,392.45h5.38v2.16h-5.38zM725.27,392.45h32.00v2.16h-32.00zM762.55,392.45h24.90v2.16h-24.90zM828.23,392.45h24.90v2.16h-24.90zM877.93,392.45h19.58v2.16h-19.58zM909.88,392.45h46.20v2.16h-46.20zM973.78,392.45h12.48v2.16h-12.48zM556.65,394.56h1.83v2.16h-1.83zM570.85,394.56h3.60v2.16h-3.60zM725.27,394.56h33.78v2.16h-33.78zM762.55,394.56h23.13v2.16h-23.13zM826.45,394.56h30.23v2.16h-30.23zM874.38,394.56h24.90v2.16h-24.90zM908.10,394.56h49.75v2.16h-49.75zM973.78,394.56h12.48v2.16h-12.48zM538.90,396.67h5.38v2.16h-5.38zM547.77,396.67h1.83v2.16h-1.83zM553.10,396.67h3.60v2.16h-3.60zM723.50,396.67h37.33v2.16h-37.33zM762.55,396.67h23.13v2.16h-23.13zM824.67,396.67h133.18v2.16h-133.18zM973.78,396.67h12.48v2.16h-12.48zM538.90,398.77h3.60v2.16h-3.60zM547.77,398.77h1.83v2.16h-1.83zM553.10,398.77h3.60v2.16h-3.60zM723.50,398.77h37.33v2.16h-37.33zM762.55,398.77h19.58v2.16h-19.58zM822.90,398.77h134.95v2.16h-134.95zM972.00,398.77h14.25v2.16h-14.25zM723.50,400.88h37.33v2.16h-37.33zM762.55,400.88h17.80v2.16h-17.80zM822.90,400.88h134.95v2.16h-134.95zM972.00,400.88h14.25v2.16h-14.25zM549.55,402.99h7.15v2.16h-7.15zM725.27,402.99h51.53v2.16h-51.53zM822.90,402.99h131.40v2.16h-131.40zM972.00,402.99h14.25v2.16h-14.25zM553.10,405.09h3.60v2.16h-3.60zM727.05,405.09h33.78v2.16h-33.78zM766.10,405.09h3.60v2.16h-3.60zM831.78,405.09h117.20v2.16h-117.20zM972.00,405.09h14.25v2.16h-14.25z" fill="#ffffff"/>
<path d="M931.18,28.00h21.35v2.16h-21.35zM932.95,30.11h19.58v2.16h-19.58zM932.95,32.21h21.35v2.16h-21.35zM938.28,34.32h8.93v2.16h-8.93zM973.78,38.53h10.70v2.16h-10.70zM888.58,40.64h7.15v2.16h-7.15zM975.55,40.64h8.93v2.16h-8.93zM886.80,42.75h10.70v2.16h-10.70zM975.55,42.75h8.93v2.16h-8.93zM886.80,44.85h12.48v2.16h-12.48zM956.03,44.85h1.83v2.16h-1.83zM961.35,44.85h7.15v2.16h-7.15zM972.00,44.85h14.25v2.16h-14.25zM886.80,46.96h14.25v2.16h-14.25zM952.48,46.96h33.78v2.16h-33.78zM886.80,49.07h16.03v2.16h-16.03zM947.15,49.07h39.10v2.16h-39.10zM645.40,51.17h1.83v2.16h-1.83zM888.58,51.17h12.48v2.16h-12.48zM943.60,51.17h10.70v2.16h-10.70zM957.80,51.17h28.45v2.16h-28.45zM641.85,53.28h8.93v2.16h-8.93zM688.00,53.28h3.60v2.16h-3.60zM888.58,53.28h12.48v2.16h-12.48zM940.05,53.28h26.68v2.16h-26.68zM982.65,53.28h3.60v2.16h-3.60zM641.85,55.39h10.70v2.16h-10.70zM688.00,55.39h3.60v2.16h-3.60zM888.58,55.39h12.48v2.16h-12.48zM936.50,55.39h19.58v2.16h-19.58zM984.43,55.39h1.83v2.16h-1.83zM643.62,57.49h8.93v2.16h-8.93zM890.35,57.49h10.70v2.16h-10.70zM936.50,57.49h10.70v2.16h-10.70zM984.43,57.49h1.83v2.16h-1.83zM643.62,59.60h10.70v2.16h-10.70zM890.35,59.60h10.70v2.16h-10.70zM936.50,59.60h5.38v2.16h-5.38zM984.43,59.60h1.83v2.16h-1.83zM645.40,61.71h7.15v2.16h-7.15zM892.12,61.71h8.93v2.16h-8.93zM936.50,61.71h1.83v2.16h-1.83zM984.43,61.71h1.83v2.16h-1.83zM647.17,63.81h3.60v2.16h-3.60zM735.92,63.81h3.60v2.16h-3.60zM938.28,63.81h24.90v2.16h-24.90zM984.43,63.81h1.83v2.16h-1.83zM664.92,65.92h1.83v2.16h-1.83zM735.92,65.92h3.60v2.16h-3.60zM774.98,65.92h1.83v2.16h-1.83zM943.60,65.92h21.35v2.16h-21.35zM984.43,65.92h1.83v2.16h-1.83zM663.15,68.03h5.38v2.16h-5.38zM774.98,68.03h1.83v2.16h-1.83zM842.42,68.03h3.60v2.16h-3.60zM954.25,68.03h12.48v2.16h-12.48zM984.43,68.03h1.83v2.16h-1.83zM663.15,70.13h5.38v2.16h-5.38zM961.35,70.13h7.15v2.16h-7.15zM984.43,70.13h1.83v2.16h-1.83zM663.15,72.24h5.38v2.16h-5.38zM961.35,72.24h8.93v2.16h-8.93zM984.43,72.24h1.83v2.16h-1.83zM663.15,74.35h5.38v2.16h-5.38zM961.35,74.35h10.70v2.16h-10.70zM984.43,74.35h1.83v2.16h-1.83zM663.15,76.45h5.38v2.16h-5.38zM963.12,76.45h8.93v2.16h-8.93zM984.43,76.45h1.83v2.16h-1.83zM664.92,78.56h3.60v2.16h-3.60zM876.15,78.56h3.60v2.16h-3.60zM963.12,78.56h12.48v2.16h-12.48zM982.65,78.56h3.60v2.16h-3.60zM833.55,80.67h3.60v2.16h-3.60zM966.68,80.67h19.58v2.16h-19.58zM833.55,82.77h3.60v2.16h-3.60zM968.45,82.77h17.80v2.16h-17.80zM835.33,84.88h3.60v2.16h-3.60zM972.00,84.88h14.25v2.16h-14.25zM732.38,86.99h3.60v2.16h-3.60zM778.53,86.99h1.83v2.16h-1.83zM783.85,86.99h3.60v2.16h-3.60zM835.33,86.99h3.60v2.16h-3.60zM959.58,86.99h5.38v2.16h-5.38zM968.45,86.99h17.80v2.16h-17.80zM716.40,89.09h1.83v2.16h-1.83zM732.38,89.09h3.60v2.16h-3.60zM959.58,89.09h12.48v2.16h-12.48zM984.43,89.09h1.83v2.16h-1.83zM876.15,91.20h3.60v2.16h-3.60zM959.58,91.20h14.25v2.16h-14.25zM984.43,91.20h1.83v2.16h-1.83zM705.75,93.31h1.83v2.16h-1.83zM828.23,93.31h1.83v2.16h-1.83zM876.15,93.31h3.60v2.16h-3.60zM959.58,93.31h14.25v2.16h-14.25zM984.43,93.31h1.83v2.16h-1.83zM959.58,95.41h16.03v2.16h-16.03zM984.43,95.41h1.83v2.16h-1.83zM961.35,97.52h14.25v2.16h-14.25zM984.43,97.52h1.83v2.16h-1.83zM963.12,99.63h14.25v2.16h-14.25zM984.43,99.63h1.83v2.16h-1.83zM963.12,101.73h19.58v2.16h-19.58zM984.43,101.73h1.83v2.16h-1.83zM963.12,103.84h23.13v2.16h-23.13zM963.12,105.95h19.58v2.16h-19.58zM984.43,105.95h1.83v2.16h-1.83zM961.35,108.05h21.35v2.16h-21.35zM984.43,108.05h1.83v2.16h-1.83zM961.35,110.16h24.90v2.16h-24.90zM961.35,112.27h24.90v2.16h-24.90zM767.88,114.37h16.03v2.16h-16.03zM959.58,114.37h26.68v2.16h-26.68zM762.55,116.48h21.35v2.16h-21.35zM959.58,116.48h26.68v2.16h-26.68zM762.55,118.59h19.58v2.16h-19.58zM959.58,118.59h26.68v2.16h-26.68zM959.58,120.69h26.68v2.16h-26.68zM959.58,122.80h26.68v2.16h-26.68zM957.80,124.91h28.45v2.16h-28.45zM755.45,127.01h32.00v2.16h-32.00zM957.80,127.01h28.45v2.16h-28.45zM663.15,129.12h12.48v2.16h-12.48zM746.58,129.12h44.43v2.16h-44.43zM956.03,129.12h17.80v2.16h-17.80zM654.27,131.23h32.00v2.16h-32.00zM743.02,131.23h53.30v2.16h-53.30zM954.25,131.23h17.80v2.16h-17.80zM648.95,133.33h8.93v2.16h-8.93zM682.67,133.33h8.93v2.16h-8.93zM739.48,133.33h33.78v2.16h-33.78zM790.95,133.33h5.38v2.16h-5.38zM957.80,133.33h12.48v2.16h-12.48zM647.17,135.44h3.60v2.16h-3.60zM688.00,135.44h7.15v2.16h-7.15zM735.92,135.44h28.45v2.16h-28.45zM792.73,135.44h3.60v2.16h-3.60zM959.58,135.44h10.70v2.16h-10.70zM645.40,137.55h1.83v2.16h-1.83zM691.55,137.55h7.15v2.16h-7.15zM737.70,137.55h21.35v2.16h-21.35zM794.50,137.55h3.60v2.16h-3.60zM961.35,137.55h7.15v2.16h-7.15zM979.10,137.55h3.60v2.16h-3.60zM631.20,139.65h5.38v2.16h-5.38zM693.33,139.65h7.15v2.16h-7.15zM739.48,139.65h16.03v2.16h-16.03zM794.50,139.65h3.60v2.16h-3.60zM963.12,139.65h5.38v2.16h-5.38zM975.55,139.65h7.15v2.16h-7.15zM579.73,141.76h5.38v2.16h-5.38zM629.42,141.76h8.93v2.16h-8.93zM696.88,141.76h7.15v2.16h-7.15zM741.25,141.76h12.48v2.16h-12.48zM792.73,141.76h3.60v2.16h-3.60zM964.90,141.76h1.83v2.16h-1.83zM975.55,141.76h7.15v2.16h-7.15zM574.40,143.87h21.35v2.16h-21.35zM631.20,143.87h7.15v2.16h-7.15zM700.42,143.87h5.38v2.16h-5.38zM746.58,143.87h7.15v2.16h-7.15zM792.73,143.87h3.60v2.16h-3.60zM975.55,143.87h7.15v2.16h-7.15zM570.85,145.97h3.60v2.16h-3.60zM586.83,145.97h10.70v2.16h-10.70zM632.98,145.97h1.83v2.16h-1.83zM702.20,145.97h5.38v2.16h-5.38zM748.35,145.97h7.15v2.16h-7.15zM790.95,145.97h3.60v2.16h-3.60zM845.98,145.97h17.80v2.16h-17.80zM943.60,145.97h3.60v2.16h-3.60zM975.55,145.97h7.15v2.16h-7.15zM565.52,148.08h3.60v2.16h-3.60zM592.15,148.08h7.15v2.16h-7.15zM702.20,148.08h5.38v2.16h-5.38zM748.35,148.08h10.70v2.16h-10.70zM789.18,148.08h5.38v2.16h-5.38zM842.42,148.08h23.13v2.16h-23.13zM977.33,148.08h5.38v2.16h-5.38zM563.75,150.19h1.83v2.16h-1.83zM595.70,150.19h5.38v2.16h-5.38zM698.65,150.19h8.93v2.16h-8.93zM748.35,150.19h19.58v2.16h-19.58zM785.62,150.19h7.15v2.16h-7.15zM844.20,150.19h24.90v2.16h-24.90zM977.33,150.19h5.38v2.16h-5.38zM560.20,152.29h1.83v2.16h-1.83zM597.48,152.29h5.38v2.16h-5.38zM638.30,152.29h1.83v2.16h-1.83zM696.88,152.29h7.15v2.16h-7.15zM748.35,152.29h44.43v2.16h-44.43zM845.98,152.29h24.90v2.16h-24.90zM977.33,152.29h5.38v2.16h-5.38zM556.65,154.40h3.60v2.16h-3.60zM601.02,154.40h5.38v2.16h-5.38zM640.08,154.40h1.83v2.16h-1.83zM693.33,154.40h7.15v2.16h-7.15zM748.35,154.40h42.65v2.16h-42.65zM858.40,154.40h16.03v2.16h-16.03zM977.33,154.40h5.38v2.16h-5.38zM554.88,156.51h3.60v2.16h-3.60zM602.80,156.51h3.60v2.16h-3.60zM640.08,156.51h5.38v2.16h-5.38zM691.55,156.51h7.15v2.16h-7.15zM750.12,156.51h40.88v2.16h-40.88zM863.73,156.51h16.03v2.16h-16.03zM977.33,156.51h5.38v2.16h-5.38zM554.88,158.61h3.60v2.16h-3.60zM604.58,158.61h1.83v2.16h-1.83zM641.85,158.61h5.38v2.16h-5.38zM688.00,158.61h8.93v2.16h-8.93zM750.12,158.61h40.88v2.16h-40.88zM865.50,158.61h24.90v2.16h-24.90zM980.88,158.61h1.83v2.16h-1.83zM553.10,160.72h3.60v2.16h-3.60zM604.58,160.72h3.60v2.16h-3.60zM643.62,160.72h7.15v2.16h-7.15zM686.23,160.72h8.93v2.16h-8.93zM760.78,160.72h14.25v2.16h-14.25zM867.28,160.72h26.68v2.16h-26.68zM553.10,162.83h3.60v2.16h-3.60zM606.35,162.83h1.83v2.16h-1.83zM645.40,162.83h7.15v2.16h-7.15zM682.67,162.83h10.70v2.16h-10.70zM870.83,162.83h23.13v2.16h-23.13zM963.12,162.83h3.60v2.16h-3.60zM551.32,164.93h5.38v2.16h-5.38zM606.35,164.93h1.83v2.16h-1.83zM648.95,164.93h7.15v2.16h-7.15zM677.35,164.93h12.48v2.16h-12.48zM874.38,164.93h19.58v2.16h-19.58zM963.12,164.93h3.60v2.16h-3.60zM982.65,164.93h3.60v2.16h-3.60zM551.32,167.04h5.38v2.16h-5.38zM606.35,167.04h3.60v2.16h-3.60zM652.50,167.04h8.93v2.16h-8.93zM666.70,167.04h16.03v2.16h-16.03zM877.93,167.04h12.48v2.16h-12.48zM549.55,169.15h7.15v2.16h-7.15zM606.35,169.15h3.60v2.16h-3.60zM661.38,169.15h5.38v2.16h-5.38zM549.55,171.25h8.93v2.16h-8.93zM606.35,171.25h3.60v2.16h-3.60zM547.77,173.36h14.25v2.16h-14.25zM606.35,173.36h1.83v2.16h-1.83zM547.77,175.47h16.03v2.16h-16.03zM606.35,175.47h1.83v2.16h-1.83zM546.00,177.57h19.58v2.16h-19.58zM604.58,177.57h3.60v2.16h-3.60zM542.45,179.68h23.13v2.16h-23.13zM602.80,179.68h1.83v2.16h-1.83zM540.67,181.79h23.13v2.16h-23.13zM601.02,181.79h1.83v2.16h-1.83zM542.45,183.89h17.80v2.16h-17.80zM599.25,183.89h1.83v2.16h-1.83zM624.10,183.89h14.25v2.16h-14.25zM549.55,186.00h7.15v2.16h-7.15zM595.70,186.00h3.60v2.16h-3.60zM624.10,186.00h14.25v2.16h-14.25zM554.88,188.11h1.83v2.16h-1.83zM592.15,188.11h3.60v2.16h-3.60zM624.10,188.11h14.25v2.16h-14.25zM586.83,190.21h3.60v2.16h-3.60zM624.10,190.21h10.70v2.16h-10.70zM636.52,190.21h1.83v2.16h-1.83zM553.10,192.32h1.83v2.16h-1.83zM570.85,192.32h14.25v2.16h-14.25zM624.10,192.32h14.25v2.16h-14.25zM540.67,194.43h1.83v2.16h-1.83zM624.10,194.43h7.15v2.16h-7.15zM634.75,194.43h3.60v2.16h-3.60zM954.25,194.43h3.60v2.16h-3.60zM540.67,196.53h1.83v2.16h-1.83zM553.10,196.53h3.60v2.16h-3.60zM624.10,196.53h7.15v2.16h-7.15zM634.75,196.53h3.60v2.16h-3.60zM540.67,198.64h1.83v2.16h-1.83zM553.10,198.64h3.60v2.16h-3.60zM590.38,198.64h1.83v2.16h-1.83zM599.25,198.64h1.83v2.16h-1.83zM624.10,198.64h12.48v2.16h-12.48zM952.48,198.64h3.60v2.16h-3.60zM553.10,200.75h3.60v2.16h-3.60zM625.88,200.75h8.93v2.16h-8.93zM551.32,202.85h5.38v2.16h-5.38zM625.88,202.85h5.38v2.16h-5.38zM551.32,204.96h3.60v2.16h-3.60zM595.70,204.96h1.83v2.16h-1.83zM640.08,207.07h1.83v2.16h-1.83zM569.07,209.17h3.60v2.16h-3.60zM581.50,209.17h1.83v2.16h-1.83zM625.88,209.17h16.03v2.16h-16.03zM569.07,211.28h1.83v2.16h-1.83zM579.73,211.28h5.38v2.16h-5.38zM588.60,211.28h7.15v2.16h-7.15zM625.88,211.28h16.03v2.16h-16.03zM828.23,211.28h5.38v2.16h-5.38zM538.90,213.39h1.83v2.16h-1.83zM629.42,213.39h12.48v2.16h-12.48zM826.45,213.39h7.15v2.16h-7.15zM538.90,215.49h1.83v2.16h-1.83zM579.73,215.49h1.83v2.16h-1.83zM625.88,215.49h16.03v2.16h-16.03zM826.45,215.49h8.93v2.16h-8.93zM538.90,217.60h1.83v2.16h-1.83zM579.73,217.60h1.83v2.16h-1.83zM625.88,217.60h16.03v2.16h-16.03zM828.23,217.60h7.15v2.16h-7.15zM579.73,219.71h1.83v2.16h-1.83zM625.88,219.71h14.25v2.16h-14.25zM538.90,221.81h3.60v2.16h-3.60zM625.88,221.81h16.03v2.16h-16.03zM961.35,221.81h1.83v2.16h-1.83zM538.90,223.92h3.60v2.16h-3.60zM606.35,223.92h1.83v2.16h-1.83zM611.67,223.92h7.15v2.16h-7.15zM625.88,223.92h16.03v2.16h-16.03zM961.35,223.92h1.83v2.16h-1.83zM538.90,226.03h3.60v2.16h-3.60zM593.92,226.03h12.48v2.16h-12.48zM608.12,226.03h10.70v2.16h-10.70zM625.88,226.03h16.03v2.16h-16.03zM560.20,228.13h3.60v2.16h-3.60zM593.92,228.13h12.48v2.16h-12.48zM608.12,228.13h10.70v2.16h-10.70zM627.65,228.13h7.15v2.16h-7.15zM638.30,228.13h3.60v2.16h-3.60zM556.65,230.24h7.15v2.16h-7.15zM593.92,230.24h24.90v2.16h-24.90zM631.20,230.24h3.60v2.16h-3.60zM638.30,230.24h3.60v2.16h-3.60zM576.17,232.35h1.83v2.16h-1.83zM593.92,232.35h24.90v2.16h-24.90zM631.20,232.35h10.70v2.16h-10.70zM576.17,234.45h1.83v2.16h-1.83zM579.73,234.45h10.70v2.16h-10.70zM593.92,234.45h5.38v2.16h-5.38zM601.02,234.45h10.70v2.16h-10.70zM613.45,234.45h5.38v2.16h-5.38zM631.20,234.45h10.70v2.16h-10.70zM579.73,236.56h1.83v2.16h-1.83zM583.27,236.56h7.15v2.16h-7.15zM593.92,236.56h5.38v2.16h-5.38zM601.02,236.56h10.70v2.16h-10.70zM613.45,236.56h5.38v2.16h-5.38zM632.98,236.56h8.93v2.16h-8.93zM579.73,238.67h1.83v2.16h-1.83zM583.27,238.67h7.15v2.16h-7.15zM597.48,238.67h21.35v2.16h-21.35zM632.98,238.67h8.93v2.16h-8.93zM579.73,240.77h1.83v2.16h-1.83zM583.27,240.77h7.15v2.16h-7.15zM599.25,240.77h5.38v2.16h-5.38zM567.30,242.88h5.38v2.16h-5.38zM579.73,242.88h10.70v2.16h-10.70zM579.73,244.99h10.70v2.16h-10.70zM547.77,247.09h1.83v2.16h-1.83zM558.42,247.09h1.83v2.16h-1.83zM547.77,249.20h1.83v2.16h-1.83zM932.95,249.20h1.83v2.16h-1.83zM560.20,251.31h3.60v2.16h-3.60zM544.23,253.41h5.38v2.16h-5.38zM540.67,255.52h8.93v2.16h-8.93zM540.67,257.63h37.33v2.16h-37.33zM540.67,259.73h21.35v2.16h-21.35zM563.75,259.73h14.25v2.16h-14.25zM631.20,259.73h5.38v2.16h-5.38zM980.88,259.73h1.83v2.16h-1.83zM540.67,261.84h8.93v2.16h-8.93zM551.32,261.84h10.70v2.16h-10.70zM565.52,261.84h12.48v2.16h-12.48zM627.65,261.84h10.70v2.16h-10.70zM954.25,261.84h3.60v2.16h-3.60zM980.88,261.84h1.83v2.16h-1.83zM540.67,263.95h21.35v2.16h-21.35zM565.52,263.95h12.48v2.16h-12.48zM624.10,263.95h17.80v2.16h-17.80zM954.25,263.95h5.38v2.16h-5.38zM540.67,266.05h7.15v2.16h-7.15zM551.32,266.05h23.13v2.16h-23.13zM620.55,266.05h8.93v2.16h-8.93zM638.30,266.05h5.38v2.16h-5.38zM952.48,266.05h8.93v2.16h-8.93zM540.67,268.16h7.15v2.16h-7.15zM551.32,268.16h26.68v2.16h-26.68zM622.33,268.16h5.38v2.16h-5.38zM641.85,268.16h3.60v2.16h-3.60zM952.48,268.16h8.93v2.16h-8.93zM540.67,270.27h10.70v2.16h-10.70zM554.88,270.27h19.58v2.16h-19.58zM576.17,270.27h1.83v2.16h-1.83zM624.10,270.27h3.60v2.16h-3.60zM640.08,270.27h3.60v2.16h-3.60zM952.48,270.27h10.70v2.16h-10.70zM540.67,272.37h37.33v2.16h-37.33zM625.88,272.37h3.60v2.16h-3.60zM640.08,272.37h3.60v2.16h-3.60zM950.70,272.37h12.48v2.16h-12.48zM540.67,274.48h37.33v2.16h-37.33zM627.65,274.48h3.60v2.16h-3.60zM638.30,274.48h1.83v2.16h-1.83zM950.70,274.48h14.25v2.16h-14.25zM540.67,276.59h12.48v2.16h-12.48zM554.88,276.59h23.13v2.16h-23.13zM950.70,276.59h14.25v2.16h-14.25zM540.67,278.69h12.48v2.16h-12.48zM554.88,278.69h14.25v2.16h-14.25zM570.85,278.69h7.15v2.16h-7.15zM672.02,278.69h10.70v2.16h-10.70zM948.93,278.69h16.03v2.16h-16.03zM542.45,280.80h35.55v2.16h-35.55zM670.25,280.80h14.25v2.16h-14.25zM542.45,282.91h17.80v2.16h-17.80zM563.75,282.91h14.25v2.16h-14.25zM670.25,282.91h16.03v2.16h-16.03zM540.67,285.01h19.58v2.16h-19.58zM563.75,285.01h10.70v2.16h-10.70zM672.02,285.01h16.03v2.16h-16.03zM540.67,287.12h8.93v2.16h-8.93zM553.10,287.12h19.58v2.16h-19.58zM670.25,287.12h17.80v2.16h-17.80zM540.67,289.23h14.25v2.16h-14.25zM556.65,289.23h14.25v2.16h-14.25zM670.25,289.23h19.58v2.16h-19.58zM540.67,291.33h28.45v2.16h-28.45zM670.25,291.33h19.58v2.16h-19.58zM542.45,293.44h16.03v2.16h-16.03zM561.98,293.44h5.38v2.16h-5.38zM670.25,293.44h19.58v2.16h-19.58zM544.23,295.55h8.93v2.16h-8.93zM556.65,295.55h5.38v2.16h-5.38zM565.52,295.55h1.83v2.16h-1.83zM672.02,295.55h17.80v2.16h-17.80zM549.55,297.65h10.70v2.16h-10.70zM672.02,297.65h17.80v2.16h-17.80zM538.90,299.76h5.38v2.16h-5.38zM547.77,299.76h8.93v2.16h-8.93zM673.80,299.76h14.25v2.16h-14.25zM538.90,301.87h7.15v2.16h-7.15zM547.77,301.87h8.93v2.16h-8.93zM675.58,301.87h12.48v2.16h-12.48zM538.90,303.97h8.93v2.16h-8.93zM551.32,303.97h1.83v2.16h-1.83zM538.90,306.08h1.83v2.16h-1.83zM542.45,306.08h3.60v2.16h-3.60zM551.32,306.08h5.38v2.16h-5.38zM538.90,308.19h7.15v2.16h-7.15zM553.10,308.19h3.60v2.16h-3.60zM538.90,310.29h10.70v2.16h-10.70zM553.10,310.29h3.60v2.16h-3.60zM538.90,312.40h1.83v2.16h-1.83zM544.23,312.40h12.48v2.16h-12.48zM538.90,314.51h7.15v2.16h-7.15zM547.77,314.51h8.93v2.16h-8.93zM538.90,316.61h5.38v2.16h-5.38zM547.77,316.61h5.38v2.16h-5.38zM538.90,318.72h3.60v2.16h-3.60zM546.00,318.72h3.60v2.16h-3.60zM551.32,318.72h1.83v2.16h-1.83zM538.90,320.83h10.70v2.16h-10.70zM551.32,320.83h3.60v2.16h-3.60zM538.90,322.93h16.03v2.16h-16.03zM538.90,325.04h1.83v2.16h-1.83zM542.45,325.04h12.48v2.16h-12.48zM538.90,327.15h1.83v2.16h-1.83zM546.00,327.15h3.60v2.16h-3.60zM551.32,327.15h3.60v2.16h-3.60zM538.90,329.25h7.15v2.16h-7.15zM547.77,329.25h1.83v2.16h-1.83zM551.32,329.25h3.60v2.16h-3.60zM540.67,331.36h5.38v2.16h-5.38zM551.32,331.36h3.60v2.16h-3.60zM538.90,333.47h1.83v2.16h-1.83zM544.23,333.47h3.60v2.16h-3.60zM551.32,333.47h5.38v2.16h-5.38zM538.90,335.57h5.38v2.16h-5.38zM546.00,335.57h8.93v2.16h-8.93zM538.90,337.68h5.38v2.16h-5.38zM546.00,337.68h3.60v2.16h-3.60zM553.10,337.68h1.83v2.16h-1.83zM538.90,339.79h10.70v2.16h-10.70zM553.10,339.79h3.60v2.16h-3.60zM538.90,341.89h17.80v2.16h-17.80zM538.90,344.00h1.83v2.16h-1.83zM542.45,344.00h14.25v2.16h-14.25zM538.90,346.11h1.83v2.16h-1.83zM544.23,346.11h10.70v2.16h-10.70zM538.90,348.21h3.60v2.16h-3.60zM544.23,348.21h8.93v2.16h-8.93zM538.90,350.32h16.03v2.16h-16.03zM538.90,352.43h16.03v2.16h-16.03zM538.90,354.53h7.15v2.16h-7.15zM549.55,354.53h5.38v2.16h-5.38zM538.90,356.64h5.38v2.16h-5.38zM547.77,356.64h7.15v2.16h-7.15zM538.90,358.75h3.60v2.16h-3.60zM549.55,358.75h5.38v2.16h-5.38zM540.67,360.85h1.83v2.16h-1.83zM546.00,360.85h1.83v2.16h-1.83zM549.55,360.85h5.38v2.16h-5.38zM540.67,362.96h1.83v2.16h-1.83zM546.00,362.96h8.93v2.16h-8.93zM540.67,365.07h1.83v2.16h-1.83zM547.77,365.07h7.15v2.16h-7.15zM538.90,367.17h5.38v2.16h-5.38zM547.77,367.17h8.93v2.16h-8.93zM858.40,367.17h14.25v2.16h-14.25zM538.90,369.28h1.83v2.16h-1.83zM542.45,369.28h1.83v2.16h-1.83zM546.00,369.28h10.70v2.16h-10.70zM853.08,369.28h23.13v2.16h-23.13zM538.90,371.39h1.83v2.16h-1.83zM546.00,371.39h10.70v2.16h-10.70zM849.53,371.39h26.68v2.16h-26.68zM542.45,373.49h8.93v2.16h-8.93zM847.75,373.49h30.23v2.16h-30.23zM538.90,375.60h7.15v2.16h-7.15zM549.55,375.60h1.83v2.16h-1.83zM554.88,375.60h1.83v2.16h-1.83zM845.98,375.60h32.00v2.16h-32.00zM931.18,375.60h3.60v2.16h-3.60zM538.90,377.71h7.15v2.16h-7.15zM549.55,377.71h7.15v2.16h-7.15zM845.98,377.71h33.78v2.16h-33.78zM927.62,377.71h8.93v2.16h-8.93zM542.45,379.81h3.60v2.16h-3.60zM549.55,379.81h7.15v2.16h-7.15zM844.20,379.81h35.55v2.16h-35.55zM924.08,379.81h14.25v2.16h-14.25zM540.67,381.92h16.03v2.16h-16.03zM844.20,381.92h35.55v2.16h-35.55zM918.75,381.92h21.35v2.16h-21.35zM538.90,384.03h5.38v2.16h-5.38zM547.77,384.03h3.60v2.16h-3.60zM554.88,384.03h1.83v2.16h-1.83zM844.20,384.03h35.55v2.16h-35.55zM911.65,384.03h28.45v2.16h-28.45zM540.67,386.13h3.60v2.16h-3.60zM546.00,386.13h5.38v2.16h-5.38zM554.88,386.13h1.83v2.16h-1.83zM845.98,386.13h35.55v2.16h-35.55zM911.65,386.13h28.45v2.16h-28.45zM540.67,388.24h10.70v2.16h-10.70zM553.10,388.24h5.38v2.16h-5.38zM847.75,388.24h32.00v2.16h-32.00zM901.00,388.24h7.15v2.16h-7.15zM913.43,388.24h24.90v2.16h-24.90zM538.90,390.35h14.25v2.16h-14.25zM849.53,390.35h30.23v2.16h-30.23zM897.45,390.35h12.48v2.16h-12.48zM538.90,392.45h1.83v2.16h-1.83zM547.77,392.45h5.38v2.16h-5.38zM853.08,392.45h24.90v2.16h-24.90zM897.45,392.45h12.48v2.16h-12.48zM538.90,394.56h17.80v2.16h-17.80zM856.62,394.56h17.80v2.16h-17.80zM899.23,394.56h8.93v2.16h-8.93zM544.23,396.67h3.60v2.16h-3.60zM549.55,396.67h1.83v2.16h-1.83zM556.65,396.67h1.83v2.16h-1.83zM542.45,398.77h5.38v2.16h-5.38zM549.55,398.77h3.60v2.16h-3.60zM556.65,398.77h1.83v2.16h-1.83zM538.90,400.88h10.70v2.16h-10.70zM553.10,400.88h5.38v2.16h-5.38zM538.90,402.99h10.70v2.16h-10.70zM556.65,402.99h1.83v2.16h-1.83zM538.90,405.09h14.25v2.16h-14.25zM556.65,405.09h1.83v2.16h-1.83z" fill="#a0e632"/>
<path d="M968.45,53.28h14.25v2.16h-14.25zM956.03,55.39h12.48v2.16h-12.48zM972.00,55.39h12.48v2.16h-12.48zM947.15,57.49h37.33v2.16h-37.33zM941.83,59.60h30.23v2.16h-30.23zM975.55,59.60h8.93v2.16h-8.93zM938.28,61.71h46.20v2.16h-46.20zM963.12,63.81h21.35v2.16h-21.35zM964.90,65.92h8.93v2.16h-8.93zM975.55,65.92h8.93v2.16h-8.93zM966.68,68.03h17.80v2.16h-17.80zM968.45,70.13h12.48v2.16h-12.48zM982.65,70.13h1.83v2.16h-1.83zM970.23,72.24h14.25v2.16h-14.25zM972.00,74.35h12.48v2.16h-12.48zM972.00,76.45h12.48v2.16h-12.48zM975.55,78.56h7.15v2.16h-7.15zM640.08,124.91h3.60v2.16h-3.60zM636.52,127.01h1.83v2.16h-1.83zM641.85,127.01h1.83v2.16h-1.83zM632.98,129.12h3.60v2.16h-3.60zM641.85,129.12h1.83v2.16h-1.83zM631.20,131.23h1.83v2.16h-1.83zM640.08,131.23h1.83v2.16h-1.83zM629.42,133.33h1.83v2.16h-1.83zM638.30,133.33h1.83v2.16h-1.83zM657.83,133.33h24.90v2.16h-24.90zM773.20,133.33h17.80v2.16h-17.80zM627.65,135.44h1.83v2.16h-1.83zM636.52,135.44h1.83v2.16h-1.83zM650.73,135.44h10.70v2.16h-10.70zM673.80,135.44h14.25v2.16h-14.25zM764.33,135.44h28.45v2.16h-28.45zM625.88,137.55h1.83v2.16h-1.83zM632.98,137.55h3.60v2.16h-3.60zM647.17,137.55h1.83v2.16h-1.83zM682.67,137.55h8.93v2.16h-8.93zM759.00,137.55h35.55v2.16h-35.55zM624.10,139.65h1.83v2.16h-1.83zM643.62,139.65h1.83v2.16h-1.83zM688.00,139.65h5.38v2.16h-5.38zM755.45,139.65h39.10v2.16h-39.10zM622.33,141.76h1.83v2.16h-1.83zM641.85,141.76h1.83v2.16h-1.83zM689.77,141.76h7.15v2.16h-7.15zM753.67,141.76h39.10v2.16h-39.10zM629.42,143.87h1.83v2.16h-1.83zM691.55,143.87h8.93v2.16h-8.93zM753.67,143.87h17.80v2.16h-17.80zM780.30,143.87h12.48v2.16h-12.48zM574.40,145.97h12.48v2.16h-12.48zM620.55,145.97h1.83v2.16h-1.83zM624.10,145.97h5.38v2.16h-5.38zM691.55,145.97h10.70v2.16h-10.70zM755.45,145.97h35.55v2.16h-35.55zM569.07,148.08h23.13v2.16h-23.13zM622.33,148.08h5.38v2.16h-5.38zM689.77,148.08h12.48v2.16h-12.48zM759.00,148.08h30.23v2.16h-30.23zM565.52,150.19h30.23v2.16h-30.23zM686.23,150.19h12.48v2.16h-12.48zM767.88,150.19h17.80v2.16h-17.80zM561.98,152.29h35.55v2.16h-35.55zM648.95,152.29h12.48v2.16h-12.48zM680.90,152.29h16.03v2.16h-16.03zM560.20,154.40h7.15v2.16h-7.15zM572.62,154.40h28.45v2.16h-28.45zM641.85,154.40h51.53v2.16h-51.53zM558.42,156.51h7.15v2.16h-7.15zM574.40,156.51h28.45v2.16h-28.45zM645.40,156.51h46.20v2.16h-46.20zM558.42,158.61h5.38v2.16h-5.38zM579.73,158.61h24.90v2.16h-24.90zM647.17,158.61h40.88v2.16h-40.88zM556.65,160.72h7.15v2.16h-7.15zM579.73,160.72h24.90v2.16h-24.90zM650.73,160.72h35.55v2.16h-35.55zM556.65,162.83h5.38v2.16h-5.38zM579.73,162.83h5.38v2.16h-5.38zM597.48,162.83h8.93v2.16h-8.93zM652.50,162.83h30.23v2.16h-30.23zM556.65,164.93h5.38v2.16h-5.38zM579.73,164.93h1.83v2.16h-1.83zM602.80,164.93h3.60v2.16h-3.60zM656.05,164.93h21.35v2.16h-21.35zM556.65,167.04h5.38v2.16h-5.38zM579.73,167.04h1.83v2.16h-1.83zM604.58,167.04h1.83v2.16h-1.83zM661.38,167.04h5.38v2.16h-5.38zM556.65,169.15h7.15v2.16h-7.15zM579.73,169.15h1.83v2.16h-1.83zM604.58,169.15h1.83v2.16h-1.83zM558.42,171.25h5.38v2.16h-5.38zM579.73,171.25h1.83v2.16h-1.83zM561.98,173.36h3.60v2.16h-3.60zM579.73,173.36h1.83v2.16h-1.83zM563.75,175.47h3.60v2.16h-3.60zM577.95,175.47h3.60v2.16h-3.60zM565.52,177.57h3.60v2.16h-3.60zM577.95,177.57h5.38v2.16h-5.38zM565.52,179.68h3.60v2.16h-3.60zM579.73,179.68h3.60v2.16h-3.60zM563.75,181.79h7.15v2.16h-7.15zM581.50,181.79h3.60v2.16h-3.60zM560.20,183.89h12.48v2.16h-12.48zM583.27,183.89h3.60v2.16h-3.60zM583.27,186.00h12.48v2.16h-12.48zM579.73,188.11h12.48v2.16h-12.48zM579.73,190.21h7.15v2.16h-7.15zM629.42,266.05h8.93v2.16h-8.93zM627.65,268.16h14.25v2.16h-14.25zM627.65,270.27h12.48v2.16h-12.48zM629.42,272.37h10.70v2.16h-10.70zM631.20,274.48h7.15v2.16h-7.15z" fill="#e6dc32"/>
<path d="M940.05,91.20h1.83v2.16h-1.83zM936.50,93.31h7.15v2.16h-7.15zM934.73,95.41h7.15v2.16h-7.15zM932.95,97.52h8.93v2.16h-8.93zM931.18,99.63h8.93v2.16h-8.93zM929.40,101.73h8.93v2.16h-8.93zM893.90,103.84h5.38v2.16h-5.38zM925.85,103.84h10.70v2.16h-10.70zM893.90,105.95h10.70v2.16h-10.70zM924.08,105.95h10.70v2.16h-10.70zM895.68,108.05h14.25v2.16h-14.25zM924.08,108.05h8.93v2.16h-8.93zM899.23,110.16h14.25v2.16h-14.25zM925.85,110.16h3.60v2.16h-3.60zM902.78,112.27h12.48v2.16h-12.48zM657.83,120.69h10.70v2.16h-10.70zM656.05,122.80h21.35v2.16h-21.35zM657.83,124.91h24.90v2.16h-24.90zM822.90,124.91h16.03v2.16h-16.03zM666.70,127.01h17.80v2.16h-17.80zM817.58,127.01h28.45v2.16h-28.45zM815.80,129.12h24.90v2.16h-24.90zM845.98,129.12h10.70v2.16h-10.70zM879.70,129.12h3.60v2.16h-3.60zM924.08,129.12h12.48v2.16h-12.48zM815.80,131.23h14.25v2.16h-14.25zM833.55,131.23h7.15v2.16h-7.15zM847.75,131.23h37.33v2.16h-37.33zM920.53,131.23h17.80v2.16h-17.80zM815.80,133.33h10.70v2.16h-10.70zM838.88,133.33h5.38v2.16h-5.38zM847.75,133.33h44.43v2.16h-44.43zM915.20,133.33h23.13v2.16h-23.13zM817.58,135.44h10.70v2.16h-10.70zM837.10,135.44h103.00v2.16h-103.00zM819.35,137.55h32.00v2.16h-32.00zM881.48,137.55h65.73v2.16h-65.73zM826.45,139.65h17.80v2.16h-17.80zM890.35,139.65h56.85v2.16h-56.85zM721.73,141.76h19.58v2.16h-19.58zM893.90,141.76h53.30v2.16h-53.30zM723.50,143.87h17.80v2.16h-17.80zM897.45,143.87h47.98v2.16h-47.98zM723.50,145.97h7.15v2.16h-7.15zM902.78,145.97h40.88v2.16h-40.88zM904.55,148.08h39.10v2.16h-39.10zM902.78,150.19h42.65v2.16h-42.65zM902.78,152.29h19.58v2.16h-19.58zM925.85,152.29h21.35v2.16h-21.35zM902.78,154.40h17.80v2.16h-17.80zM925.85,154.40h21.35v2.16h-21.35zM904.55,156.51h16.03v2.16h-16.03zM925.85,156.51h21.35v2.16h-21.35zM909.88,158.61h12.48v2.16h-12.48zM924.08,158.61h23.13v2.16h-23.13zM909.88,160.72h35.55v2.16h-35.55zM908.10,162.83h35.55v2.16h-35.55zM908.10,164.93h37.33v2.16h-37.33zM911.65,167.04h35.55v2.16h-35.55zM913.43,169.15h23.13v2.16h-23.13zM940.05,169.15h7.15v2.16h-7.15zM913.43,171.25h19.58v2.16h-19.58zM938.28,171.25h8.93v2.16h-8.93zM622.33,173.36h5.38v2.16h-5.38zM913.43,173.36h19.58v2.16h-19.58zM934.73,173.36h10.70v2.16h-10.70zM620.55,175.47h7.15v2.16h-7.15zM911.65,175.47h33.78v2.16h-33.78zM617.00,177.57h10.70v2.16h-10.70zM911.65,177.57h32.00v2.16h-32.00zM615.23,179.68h10.70v2.16h-10.70zM911.65,179.68h35.55v2.16h-35.55zM613.45,181.79h10.70v2.16h-10.70zM853.08,181.79h10.70v2.16h-10.70zM913.43,181.79h33.78v2.16h-33.78zM611.67,183.89h10.70v2.16h-10.70zM780.30,183.89h16.03v2.16h-16.03zM851.30,183.89h12.48v2.16h-12.48zM913.43,183.89h32.00v2.16h-32.00zM609.90,186.00h10.70v2.16h-10.70zM757.23,186.00h40.88v2.16h-40.88zM853.08,186.00h10.70v2.16h-10.70zM915.20,186.00h28.45v2.16h-28.45zM609.90,188.11h8.93v2.16h-8.93zM743.02,188.11h56.85v2.16h-56.85zM854.85,188.11h5.38v2.16h-5.38zM915.20,188.11h24.90v2.16h-24.90zM608.12,190.21h3.60v2.16h-3.60zM737.70,190.21h63.95v2.16h-63.95zM915.20,190.21h23.13v2.16h-23.13zM606.35,192.32h3.60v2.16h-3.60zM734.15,192.32h71.05v2.16h-71.05zM915.20,192.32h23.13v2.16h-23.13zM604.58,194.43h3.60v2.16h-3.60zM718.17,194.43h108.33v2.16h-108.33zM915.20,194.43h21.35v2.16h-21.35zM602.80,196.53h5.38v2.16h-5.38zM712.85,196.53h113.65v2.16h-113.65zM915.20,196.53h21.35v2.16h-21.35zM601.02,198.64h5.38v2.16h-5.38zM613.45,198.64h3.60v2.16h-3.60zM711.08,198.64h113.65v2.16h-113.65zM913.43,198.64h23.13v2.16h-23.13zM570.85,200.75h7.15v2.16h-7.15zM599.25,200.75h5.38v2.16h-5.38zM613.45,200.75h3.60v2.16h-3.60zM709.30,200.75h104.78v2.16h-104.78zM913.43,200.75h23.13v2.16h-23.13zM570.85,202.85h7.15v2.16h-7.15zM597.48,202.85h7.15v2.16h-7.15zM609.90,202.85h8.93v2.16h-8.93zM707.52,202.85h95.90v2.16h-95.90zM911.65,202.85h28.45v2.16h-28.45zM570.85,204.96h7.15v2.16h-7.15zM597.48,204.96h5.38v2.16h-5.38zM608.12,204.96h8.93v2.16h-8.93zM705.75,204.96h94.13v2.16h-94.13zM906.33,204.96h1.83v2.16h-1.83zM911.65,204.96h44.43v2.16h-44.43zM570.85,207.07h7.15v2.16h-7.15zM595.70,207.07h17.80v2.16h-17.80zM705.75,207.07h92.35v2.16h-92.35zM906.33,207.07h1.83v2.16h-1.83zM909.88,207.07h49.75v2.16h-49.75zM572.62,209.17h5.38v2.16h-5.38zM595.70,209.17h14.25v2.16h-14.25zM703.98,209.17h92.35v2.16h-92.35zM906.33,209.17h53.30v2.16h-53.30zM597.48,211.28h7.15v2.16h-7.15zM703.98,211.28h90.58v2.16h-90.58zM906.33,211.28h53.30v2.16h-53.30zM702.20,213.39h92.35v2.16h-92.35zM906.33,213.39h53.30v2.16h-53.30zM702.20,215.49h90.58v2.16h-90.58zM906.33,215.49h53.30v2.16h-53.30zM700.42,217.60h92.35v2.16h-92.35zM908.10,217.60h49.75v2.16h-49.75zM698.65,219.71h94.13v2.16h-94.13zM909.88,219.71h47.98v2.16h-47.98zM698.65,221.81h92.35v2.16h-92.35zM911.65,221.81h44.43v2.16h-44.43zM696.88,223.92h94.13v2.16h-94.13zM913.43,223.92h40.88v2.16h-40.88zM695.10,226.03h95.90v2.16h-95.90zM915.20,226.03h37.33v2.16h-37.33zM695.10,228.13h94.13v2.16h-94.13zM916.98,228.13h35.55v2.16h-35.55zM695.10,230.24h94.13v2.16h-94.13zM915.20,230.24h35.55v2.16h-35.55zM695.10,232.35h94.13v2.16h-94.13zM915.20,232.35h32.00v2.16h-32.00zM695.10,234.45h94.13v2.16h-94.13zM913.43,234.45h32.00v2.16h-32.00zM696.88,236.56h92.35v2.16h-92.35zM913.43,236.56h30.23v2.16h-30.23zM696.88,238.67h92.35v2.16h-92.35zM913.43,238.67h26.68v2.16h-26.68zM707.52,240.77h81.70v2.16h-81.70zM851.30,240.77h5.38v2.16h-5.38zM915.20,240.77h21.35v2.16h-21.35zM709.30,242.88h79.93v2.16h-79.93zM845.98,242.88h16.03v2.16h-16.03zM916.98,242.88h16.03v2.16h-16.03zM711.08,244.99h78.15v2.16h-78.15zM842.42,244.99h30.23v2.16h-30.23zM918.75,244.99h8.93v2.16h-8.93zM711.08,247.09h3.60v2.16h-3.60zM719.95,247.09h69.28v2.16h-69.28zM838.88,247.09h32.00v2.16h-32.00zM711.08,249.20h3.60v2.16h-3.60zM721.73,249.20h67.50v2.16h-67.50zM837.10,249.20h30.23v2.16h-30.23zM711.08,251.31h1.83v2.16h-1.83zM723.50,251.31h65.73v2.16h-65.73zM833.55,251.31h26.68v2.16h-26.68zM723.50,253.41h65.73v2.16h-65.73zM831.78,253.41h14.25v2.16h-14.25zM725.27,255.52h63.95v2.16h-63.95zM830.00,255.52h10.70v2.16h-10.70zM714.62,257.63h7.15v2.16h-7.15zM725.27,257.63h63.95v2.16h-63.95zM830.00,257.63h7.15v2.16h-7.15zM716.40,259.73h1.83v2.16h-1.83zM727.05,259.73h60.40v2.16h-60.40zM803.38,259.73h3.60v2.16h-3.60zM830.00,259.73h5.38v2.16h-5.38zM728.83,261.84h58.63v2.16h-58.63zM798.05,261.84h12.48v2.16h-12.48zM831.78,261.84h1.83v2.16h-1.83zM735.92,263.95h49.75v2.16h-49.75zM796.28,263.95h16.03v2.16h-16.03zM741.25,266.05h44.43v2.16h-44.43zM796.28,266.05h17.80v2.16h-17.80zM744.80,268.16h39.10v2.16h-39.10zM798.05,268.16h17.80v2.16h-17.80zM748.35,270.27h33.78v2.16h-33.78zM799.83,270.27h16.03v2.16h-16.03zM750.12,272.37h28.45v2.16h-28.45zM801.60,272.37h14.25v2.16h-14.25zM755.45,274.48h19.58v2.16h-19.58zM805.15,274.48h7.15v2.16h-7.15zM972.00,278.69h8.93v2.16h-8.93zM966.68,280.80h16.03v2.16h-16.03zM964.90,282.91h19.58v2.16h-19.58zM941.83,285.01h1.83v2.16h-1.83zM961.35,285.01h23.13v2.16h-23.13zM941.83,287.12h7.15v2.16h-7.15zM957.80,287.12h26.68v2.16h-26.68zM941.83,289.23h42.65v2.16h-42.65zM590.38,291.33h19.58v2.16h-19.58zM943.60,291.33h39.10v2.16h-39.10zM586.83,293.44h30.23v2.16h-30.23zM945.38,293.44h35.55v2.16h-35.55zM586.83,295.55h33.78v2.16h-33.78zM945.38,295.55h30.23v2.16h-30.23zM585.05,297.65h35.55v2.16h-35.55zM948.93,297.65h19.58v2.16h-19.58zM585.05,299.76h10.70v2.16h-10.70zM601.02,299.76h19.58v2.16h-19.58zM952.48,299.76h7.15v2.16h-7.15zM585.05,301.87h7.15v2.16h-7.15zM602.80,301.87h16.03v2.16h-16.03zM585.05,303.97h5.38v2.16h-5.38zM601.02,303.97h17.80v2.16h-17.80zM583.27,306.08h8.93v2.16h-8.93zM599.25,306.08h16.03v2.16h-16.03zM560.20,308.19h3.60v2.16h-3.60zM583.27,308.19h26.68v2.16h-26.68zM558.42,310.29h7.15v2.16h-7.15zM583.27,310.29h24.90v2.16h-24.90zM556.65,312.40h10.70v2.16h-10.70zM581.50,312.40h26.68v2.16h-26.68zM556.65,314.51h12.48v2.16h-12.48zM577.95,314.51h30.23v2.16h-30.23zM556.65,316.61h51.53v2.16h-51.53zM656.05,316.61h1.83v2.16h-1.83zM554.88,318.72h51.53v2.16h-51.53zM618.77,318.72h7.15v2.16h-7.15zM650.73,318.72h10.70v2.16h-10.70zM554.88,320.83h49.75v2.16h-49.75zM617.00,320.83h10.70v2.16h-10.70zM647.17,320.83h14.25v2.16h-14.25zM554.88,322.93h49.75v2.16h-49.75zM617.00,322.93h12.48v2.16h-12.48zM643.62,322.93h17.80v2.16h-17.80zM554.88,325.04h47.98v2.16h-47.98zM617.00,325.04h14.25v2.16h-14.25zM643.62,325.04h16.03v2.16h-16.03zM554.88,327.15h47.98v2.16h-47.98zM617.00,327.15h14.25v2.16h-14.25zM647.17,327.15h10.70v2.16h-10.70zM554.88,329.25h10.70v2.16h-10.70zM569.07,329.25h35.55v2.16h-35.55zM618.77,329.25h14.25v2.16h-14.25zM554.88,331.36h10.70v2.16h-10.70zM570.85,331.36h35.55v2.16h-35.55zM618.77,331.36h14.25v2.16h-14.25zM556.65,333.47h8.93v2.16h-8.93zM570.85,333.47h35.55v2.16h-35.55zM620.55,333.47h12.48v2.16h-12.48zM556.65,335.57h49.75v2.16h-49.75zM622.33,335.57h10.70v2.16h-10.70zM556.65,337.68h16.03v2.16h-16.03zM577.95,337.68h28.45v2.16h-28.45zM625.88,337.68h5.38v2.16h-5.38zM556.65,339.79h16.03v2.16h-16.03zM577.95,339.79h28.45v2.16h-28.45zM556.65,341.89h14.25v2.16h-14.25zM577.95,341.89h26.68v2.16h-26.68zM556.65,344.00h14.25v2.16h-14.25zM577.95,344.00h21.35v2.16h-21.35zM558.42,346.11h14.25v2.16h-14.25zM577.95,346.11h17.80v2.16h-17.80zM558.42,348.21h14.25v2.16h-14.25zM577.95,348.21h16.03v2.16h-16.03zM558.42,350.32h35.55v2.16h-35.55zM558.42,352.43h35.55v2.16h-35.55zM560.20,354.53h33.78v2.16h-33.78zM560.20,356.64h33.78v2.16h-33.78zM560.20,358.75h33.78v2.16h-33.78zM560.20,360.85h35.55v2.16h-35.55zM560.20,362.96h10.70v2.16h-10.70zM577.95,362.96h19.58v2.16h-19.58zM560.20,365.07h8.93v2.16h-8.93zM579.73,365.07h30.23v2.16h-30.23zM560.20,367.17h7.15v2.16h-7.15zM581.50,367.17h30.23v2.16h-30.23zM560.20,369.28h7.15v2.16h-7.15zM583.27,369.28h28.45v2.16h-28.45zM560.20,371.39h5.38v2.16h-5.38zM585.05,371.39h26.68v2.16h-26.68zM558.42,373.49h5.38v2.16h-5.38zM586.83,373.49h24.90v2.16h-24.90zM558.42,375.60h5.38v2.16h-5.38zM588.60,375.60h24.90v2.16h-24.90zM558.42,377.71h3.60v2.16h-3.60zM590.38,377.71h23.13v2.16h-23.13zM558.42,379.81h3.60v2.16h-3.60zM592.15,379.81h23.13v2.16h-23.13zM558.42,381.92h3.60v2.16h-3.60zM592.15,381.92h23.13v2.16h-23.13zM560.20,384.03h1.83v2.16h-1.83zM593.92,384.03h23.13v2.16h-23.13zM595.70,386.13h21.35v2.16h-21.35zM599.25,388.24h19.58v2.16h-19.58zM602.80,390.35h16.03v2.16h-16.03zM604.58,392.45h14.25v2.16h-14.25zM606.35,394.56h14.25v2.16h-14.25zM608.12,396.67h12.48v2.16h-12.48zM609.90,398.77h10.70v2.16h-10.70zM613.45,400.88h5.38v2.16h-5.38z" fill="#00c8c8"/>
<path d="M638.30,127.01h3.60v2.16h-3.60zM636.52,129.12h5.38v2.16h-5.38zM632.98,131.23h7.15v2.16h-7.15zM631.20,133.33h7.15v2.16h-7.15zM629.42,135.44h7.15v2.16h-7.15zM629.42,137.55h3.60v2.16h-3.60zM659.60,137.55h17.80v2.16h-17.80zM629.42,139.65h1.83v2.16h-1.83zM654.27,139.65h12.48v2.16h-12.48zM670.25,139.65h12.48v2.16h-12.48zM627.65,141.76h1.83v2.16h-1.83zM654.27,141.76h8.93v2.16h-8.93zM672.02,141.76h12.48v2.16h-12.48zM625.88,143.87h3.60v2.16h-3.60zM654.27,143.87h8.93v2.16h-8.93zM673.80,143.87h10.70v2.16h-10.70zM657.83,145.97h7.15v2.16h-7.15zM673.80,145.97h8.93v2.16h-8.93zM661.38,148.08h5.38v2.16h-5.38zM670.25,148.08h8.93v2.16h-8.93zM565.52,162.83h5.38v2.16h-5.38zM563.75,164.93h7.15v2.16h-7.15zM565.52,167.04h5.38v2.16h-5.38zM590.38,167.04h8.93v2.16h-8.93zM567.30,169.15h1.83v2.16h-1.83zM588.60,169.15h5.38v2.16h-5.38zM597.48,169.15h3.60v2.16h-3.60zM586.83,171.25h14.25v2.16h-14.25zM586.83,173.36h14.25v2.16h-14.25zM586.83,175.47h14.25v2.16h-14.25zM586.83,177.57h12.48v2.16h-12.48zM586.83,179.68h10.70v2.16h-10.70zM590.38,181.79h3.60v2.16h-3.60z" fill="#fa3c3c"/>
<path d="M840.65,129.12h5.38v2.16h-5.38zM830.00,131.23h3.60v2.16h-3.60zM840.65,131.23h7.15v2.16h-7.15zM826.45,133.33h12.48v2.16h-12.48zM844.20,133.33h3.60v2.16h-3.60zM828.23,135.44h8.93v2.16h-8.93zM922.30,152.29h3.60v2.16h-3.60zM920.53,154.40h5.38v2.16h-5.38zM920.53,156.51h5.38v2.16h-5.38zM922.30,158.61h1.83v2.16h-1.83zM936.50,169.15h3.60v2.16h-3.60zM932.95,171.25h5.38v2.16h-5.38zM932.95,173.36h1.83v2.16h-1.83zM611.67,190.21h5.38v2.16h-5.38zM609.90,192.32h7.15v2.16h-7.15zM608.12,194.43h8.93v2.16h-8.93zM608.12,196.53h7.15v2.16h-7.15zM606.35,198.64h7.15v2.16h-7.15zM609.90,200.75h3.60v2.16h-3.60zM602.80,204.96h5.38v2.16h-5.38zM565.52,329.25h3.60v2.16h-3.60zM565.52,331.36h5.38v2.16h-5.38zM565.52,333.47h5.38v2.16h-5.38z" fill="#00a0ff"/>
<path d="M661.38,135.44h12.48v2.16h-12.48zM648.95,137.55h10.70v2.16h-10.70zM677.35,137.55h5.38v2.16h-5.38zM645.40,139.65h8.93v2.16h-8.93zM682.67,139.65h5.38v2.16h-5.38zM643.62,141.76h10.70v2.16h-10.70zM684.45,141.76h5.38v2.16h-5.38zM640.08,143.87h14.25v2.16h-14.25zM684.45,143.87h7.15v2.16h-7.15zM771.42,143.87h8.93v2.16h-8.93zM638.30,145.97h19.58v2.16h-19.58zM682.67,145.97h8.93v2.16h-8.93zM638.30,148.08h23.13v2.16h-23.13zM679.12,148.08h10.70v2.16h-10.70zM638.30,150.19h47.98v2.16h-47.98zM640.08,152.29h8.93v2.16h-8.93zM661.38,152.29h19.58v2.16h-19.58zM567.30,154.40h5.38v2.16h-5.38zM565.52,156.51h8.93v2.16h-8.93zM563.75,158.61h10.70v2.16h-10.70zM563.75,160.72h10.70v2.16h-10.70zM561.98,162.83h3.60v2.16h-3.60zM570.85,162.83h3.60v2.16h-3.60zM585.05,162.83h12.48v2.16h-12.48zM561.98,164.93h1.83v2.16h-1.83zM570.85,164.93h3.60v2.16h-3.60zM581.50,164.93h21.35v2.16h-21.35zM561.98,167.04h3.60v2.16h-3.60zM570.85,167.04h3.60v2.16h-3.60zM581.50,167.04h8.93v2.16h-8.93zM599.25,167.04h5.38v2.16h-5.38zM563.75,169.15h3.60v2.16h-3.60zM569.07,169.15h5.38v2.16h-5.38zM581.50,169.15h7.15v2.16h-7.15zM601.02,169.15h3.60v2.16h-3.60zM563.75,171.25h10.70v2.16h-10.70zM581.50,171.25h5.38v2.16h-5.38zM601.02,171.25h5.38v2.16h-5.38zM565.52,173.36h10.70v2.16h-10.70zM581.50,173.36h5.38v2.16h-5.38zM601.02,173.36h5.38v2.16h-5.38zM567.30,175.47h10.70v2.16h-10.70zM581.50,175.47h5.38v2.16h-5.38zM601.02,175.47h5.38v2.16h-5.38zM569.07,177.57h8.93v2.16h-8.93zM583.27,177.57h3.60v2.16h-3.60zM599.25,177.57h5.38v2.16h-5.38zM569.07,179.68h10.70v2.16h-10.70zM583.27,179.68h3.60v2.16h-3.60zM597.48,179.68h5.38v2.16h-5.38zM570.85,181.79h10.70v2.16h-10.70zM585.05,181.79h5.38v2.16h-5.38zM593.92,181.79h7.15v2.16h-7.15zM572.62,183.89h10.70v2.16h-10.70zM586.83,183.89h12.48v2.16h-12.48zM556.65,186.00h26.68v2.16h-26.68zM556.65,188.11h23.13v2.16h-23.13zM560.20,190.21h19.58v2.16h-19.58z" fill="#e6af2d"/>
<path d="M627.65,137.55h1.83v2.16h-1.83zM625.88,139.65h3.60v2.16h-3.60zM666.70,139.65h3.60v2.16h-3.60zM624.10,141.76h3.60v2.16h-3.60zM663.15,141.76h8.93v2.16h-8.93zM622.33,143.87h3.60v2.16h-3.60zM663.15,143.87h10.70v2.16h-10.70zM622.33,145.97h1.83v2.16h-1.83zM664.92,145.97h8.93v2.16h-8.93zM666.70,148.08h3.60v2.16h-3.60zM593.92,169.15h3.60v2.16h-3.60z" fill="#f00082"/>
<path d="M604.58,200.75h5.38v2.16h-5.38zM604.58,202.85h5.38v2.16h-5.38z" fill="#1e3cff"/>
<path d="M628.0,269.0 C628.5,267.8 630.3,266.3 632.0,266.0 C633.7,265.7 636.5,266.5 638.0,267.0 C639.5,267.5 640.8,267.7 641.0,269.0 C641.2,270.3 640.3,273.8 639.0,275.0 C637.7,276.2 634.7,276.3 633.0,276.0 C631.3,275.7 629.8,274.2 629.0,273.0 C628.2,271.8 627.5,270.2 628.0,269.0Z" fill="none" stroke="#000" stroke-width="0.6"/>
<path d="M940.0,60.0 C940.7,59.1 949.0,57.2 952.0,57.0 C955.0,56.8 958.7,58.1 958.0,59.0 C957.3,59.9 951.0,62.2 948.0,62.4 C945.0,62.6 939.3,60.9 940.0,60.0Z" fill="none" stroke="#000" stroke-width="0.45"/>
<path d="M962.0,57.0 C963.3,56.3 970.5,55.4 974.0,55.6 C977.5,55.8 982.7,57.1 983.0,58.0 C983.3,58.9 978.8,60.7 976.0,61.0 C973.2,61.3 968.3,60.7 966.0,60.0 C963.7,59.3 960.7,57.7 962.0,57.0Z" fill="none" stroke="#000" stroke-width="0.45"/>
<path d="M966.0,65.0 C966.7,63.8 971.2,62.7 974.0,63.0 C976.8,63.3 982.3,65.5 983.0,67.0 C983.7,68.5 980.2,71.5 978.0,72.0 C975.8,72.5 972.0,71.2 970.0,70.0 C968.0,68.8 965.3,66.2 966.0,65.0Z" fill="none" stroke="#000" stroke-width="0.45"/>
<path d="M972.0,75.0 C972.7,74.1 978.2,73.5 980.0,74.0 C981.8,74.5 983.7,77.1 983.0,78.0 C982.3,78.9 977.8,80.1 976.0,79.6 C974.2,79.1 971.3,75.9 972.0,75.0Z" fill="none" stroke="#000" stroke-width="0.45"/>
<path d="M639.0,147.0 C640.0,144.2 644.2,140.2 648.0,138.0 C651.8,135.8 656.3,134.3 662.0,133.6 C667.7,132.9 676.3,132.6 682.0,134.0 C687.7,135.4 692.6,139.7 696.0,142.0 C699.4,144.3 702.7,145.8 702.4,148.0 C702.1,150.2 697.4,152.3 694.0,155.0 C690.6,157.7 686.3,161.8 682.0,164.0 C677.7,166.2 672.0,167.5 668.0,168.0 C664.0,168.5 661.3,168.3 658.0,167.0 C654.7,165.7 650.7,162.0 648.0,160.0 C645.3,158.0 643.5,157.2 642.0,155.0 C640.5,152.8 638.0,149.8 639.0,147.0Z" fill="none" stroke="#000" stroke-width="0.6"/>
<path d="M638.0,148.0 C638.7,146.2 642.0,143.7 644.0,142.0 C646.0,140.3 647.7,138.8 650.0,138.0 C652.3,137.2 654.7,137.3 658.0,137.0 C661.3,136.7 665.3,135.5 670.0,136.0 C674.7,136.5 682.3,138.5 686.0,140.0 C689.7,141.5 691.3,143.5 692.0,145.0 C692.7,146.5 691.7,147.7 690.0,149.0 C688.3,150.3 685.3,152.0 682.0,153.0 C678.7,154.0 673.7,155.0 670.0,155.0 C666.3,155.0 663.0,153.5 660.0,153.0 C657.0,152.5 654.3,151.7 652.0,152.0 C649.7,152.3 648.0,154.8 646.0,155.0 C644.0,155.2 641.3,154.2 640.0,153.0 C638.7,151.8 637.3,149.8 638.0,148.0Z" fill="none" stroke="#000" stroke-width="0.6"/>
<path d="M654.0,142.0 C654.2,140.7 655.3,139.7 658.0,139.0 C660.7,138.3 666.0,137.4 670.0,137.6 C674.0,137.8 679.5,138.9 682.0,140.0 C684.5,141.1 685.0,142.7 685.0,144.0 C685.0,145.3 683.8,146.8 682.0,148.0 C680.2,149.2 677.0,150.7 674.0,151.0 C671.0,151.3 666.8,150.7 664.0,150.0 C661.2,149.3 658.7,148.3 657.0,147.0 C655.3,145.7 653.8,143.3 654.0,142.0Z" fill="none" stroke="#000" stroke-width="0.6"/>
<path d="M663.0,144.0 C663.2,142.6 666.3,140.6 668.0,140.4 C669.7,140.2 672.3,141.7 673.0,143.0 C673.7,144.3 673.4,147.0 672.4,148.0 C671.4,149.0 668.6,149.7 667.0,149.0 C665.4,148.3 662.8,145.4 663.0,144.0Z" fill="none" stroke="#000" stroke-width="0.6"/>
<path d="M668.0,159.0 C668.1,158.5 669.7,157.6 670.4,157.6 C671.1,157.6 672.5,158.3 672.4,158.8 C672.3,159.3 670.7,160.4 670.0,160.4 C669.3,160.4 667.9,159.5 668.0,159.0Z" fill="none" stroke="#000" stroke-width="0.6"/>
<path d="M621.0,147.0 C621.8,145.5 623.8,140.8 626.0,138.0 C628.2,135.2 631.3,132.2 634.0,130.0 C636.7,127.8 640.7,125.8 642.0,125.0" fill="none" stroke="#000" stroke-width="0.6"/>
<path d="M624.0,147.6 C625.0,146.2 627.8,141.3 630.0,139.0 C632.2,136.7 634.8,135.7 637.0,134.0 C639.2,132.3 642.0,129.8 643.0,129.0" fill="none" stroke="#000" stroke-width="0.6"/>
<path d="M723.0,142.0 C724.1,141.2 726.8,141.0 730.0,141.0 C733.2,141.0 740.2,141.2 742.0,142.0 C743.8,142.8 743.0,144.9 741.0,145.6 C739.0,146.3 732.9,146.3 730.0,146.4 C727.1,146.5 724.8,146.7 723.6,146.0 C722.4,145.3 721.9,142.8 723.0,142.0Z" fill="none" stroke="#000" stroke-width="0.6" stroke-dasharray="2.3 1.5"/>
<path d="M754.0,144.0 C754.5,142.7 755.3,140.5 758.0,139.0 C760.7,137.5 766.0,136.0 770.0,135.0 C774.0,134.0 778.3,133.0 782.0,133.0 C785.7,133.0 790.0,133.8 792.0,135.0 C794.0,136.2 794.2,137.8 794.0,140.0 C793.8,142.2 792.7,146.0 791.0,148.0 C789.3,150.0 786.8,151.3 784.0,152.0 C781.2,152.7 777.7,152.3 774.0,152.0 C770.3,151.7 765.2,150.8 762.0,150.0 C758.8,149.2 756.3,148.0 755.0,147.0 C753.7,146.0 753.5,145.3 754.0,144.0Z" fill="none" stroke="#000" stroke-width="0.7"/>
<path d="M771.6,145.4 C771.5,144.9 774.4,144.0 776.0,144.0 C777.6,144.0 780.9,144.7 781.0,145.2 C781.1,145.7 778.0,147.0 776.4,147.0 C774.8,147.0 771.7,145.9 771.6,145.4Z" fill="none" stroke="#000" stroke-width="0.7"/>
<path d="M562.0,166.0 C562.2,163.7 563.7,160.0 565.0,158.0 C566.3,156.0 568.3,154.0 570.0,154.0 C571.7,154.0 574.3,155.7 575.0,158.0 C575.7,160.3 573.5,164.7 574.0,168.0 C574.5,171.3 576.3,175.0 578.0,178.0 C579.7,181.0 583.5,184.2 584.0,186.0 C584.5,187.8 582.7,188.8 581.0,189.0 C579.3,189.2 576.2,188.8 574.0,187.0 C571.8,185.2 569.7,180.5 568.0,178.0 C566.3,175.5 565.0,174.0 564.0,172.0 C563.0,170.0 561.8,168.3 562.0,166.0Z" fill="none" stroke="#000" stroke-width="0.6"/>
<path d="M581.0,168.0 C581.7,165.8 583.5,163.8 586.0,163.0 C588.5,162.2 593.0,162.2 596.0,163.0 C599.0,163.8 602.3,165.8 604.0,168.0 C605.7,170.2 606.7,173.3 606.0,176.0 C605.3,178.7 602.7,182.2 600.0,184.0 C597.3,185.8 592.7,187.3 590.0,187.0 C587.3,186.7 585.3,183.8 584.0,182.0 C582.7,180.2 582.5,178.3 582.0,176.0 C581.5,173.7 580.3,170.2 581.0,168.0Z" fill="none" stroke="#000" stroke-width="0.6"/>
<path d="M564.4,166.0 C564.7,164.7 566.5,162.6 567.6,162.4 C568.7,162.2 570.7,163.8 571.0,165.0 C571.3,166.2 570.4,168.8 569.6,169.6 C568.8,170.4 566.9,170.6 566.0,170.0 C565.1,169.4 564.1,167.3 564.4,166.0Z" fill="none" stroke="#000" stroke-width="0.6"/>
<path d="M587.0,172.0 C587.9,170.2 590.0,167.7 592.0,167.0 C594.0,166.3 597.4,166.8 599.0,168.0 C600.6,169.2 601.8,171.8 601.6,174.0 C601.4,176.2 599.9,179.5 598.0,181.0 C596.1,182.5 591.9,183.5 590.0,183.0 C588.1,182.5 587.1,179.8 586.6,178.0 C586.1,176.2 586.1,173.8 587.0,172.0Z" fill="none" stroke="#000" stroke-width="0.6"/>
<path d="M593.6,169.6 C593.9,168.9 596.3,168.2 597.0,168.4 C597.7,168.6 598.3,170.3 598.0,171.0 C597.7,171.7 595.7,172.6 595.0,172.4 C594.3,172.2 593.3,170.3 593.6,169.6Z" fill="none" stroke="#000" stroke-width="0.6"/>
<path d="M556.0,170.0 C556.3,164.8 557.7,159.5 560.0,156.0 C562.3,152.5 566.3,150.7 570.0,149.0 C573.7,147.3 578.0,145.8 582.0,146.0 C586.0,146.2 590.3,147.7 594.0,150.0 C597.7,152.3 601.8,156.3 604.0,160.0 C606.2,163.7 607.3,168.3 607.0,172.0 C606.7,175.7 604.5,179.2 602.0,182.0 C599.5,184.8 596.0,187.2 592.0,189.0 C588.0,190.8 582.7,192.8 578.0,193.0 C573.3,193.2 567.3,191.0 564.0,190.0 C560.7,189.0 559.3,190.3 558.0,187.0 C556.7,183.7 555.7,175.2 556.0,170.0Z" fill="none" stroke="#000" stroke-width="0.6"/>
<path d="M698.2,241.1 C696.7,239.1 694.7,233.1 695.2,229.1 C695.7,225.1 699.2,221.1 701.2,217.1 C703.2,213.1 704.7,208.5 707.2,205.0 C709.7,201.5 712.2,197.8 716.2,196.0 C720.2,194.2 727.2,195.5 731.2,194.5 C735.2,193.5 735.7,191.2 740.2,190.0 C744.7,188.8 752.2,187.8 758.2,187.0 C764.2,186.2 770.2,186.0 776.2,185.5 C782.2,185.0 790.3,183.2 794.3,184.0 C798.3,184.8 797.8,188.2 800.3,190.0 C802.8,191.8 805.3,193.8 809.3,194.5 C813.3,195.2 821.5,193.8 824.3,194.5 C827.0,195.2 827.8,197.8 825.8,199.0 C823.8,200.2 816.5,201.0 812.3,202.0 C808.0,203.0 803.3,203.0 800.3,205.0 C797.3,207.0 795.8,211.1 794.3,214.1 C792.8,217.1 792.3,219.6 791.3,223.1 C790.3,226.6 788.5,231.1 788.3,235.1 C788.0,239.1 789.8,243.1 789.8,247.1 C789.8,251.1 789.5,255.1 788.3,259.1 C787.0,263.1 785.3,268.1 782.3,271.1 C779.3,274.1 774.7,276.4 770.2,277.1 C765.7,277.9 760.2,277.4 755.2,275.6 C750.2,273.9 744.7,268.9 740.2,266.6 C735.7,264.4 731.2,264.9 728.2,262.1 C725.2,259.4 724.2,252.6 722.2,250.1 C720.2,247.6 717.7,246.1 716.2,247.1 C714.7,248.1 712.2,254.1 713.2,256.1 C714.2,258.1 721.7,258.4 722.2,259.1 C722.7,259.9 718.0,261.6 716.2,260.6 C714.5,259.6 712.7,255.8 711.7,253.1 C710.7,250.3 711.5,246.1 710.2,244.1 C709.0,242.1 706.2,241.6 704.2,241.1 C702.2,240.6 699.7,243.1 698.2,241.1Z" fill="none" stroke="#000" stroke-width="0.6" stroke-dasharray="2.3 1.5"/>
<path d="M816.0,132.0 C816.0,130.0 817.7,128.3 820.0,127.0 C822.3,125.7 826.3,124.0 830.0,124.0 C833.7,124.0 837.7,126.0 842.0,127.0 C846.3,128.0 851.3,129.2 856.0,130.0 C860.7,130.8 865.7,132.0 870.0,132.0 C874.3,132.0 879.7,130.0 882.0,130.0 C884.3,130.0 882.0,131.2 884.0,132.0 C886.0,132.8 890.7,134.3 894.0,135.0 C897.3,135.7 900.3,136.2 904.0,136.0 C907.7,135.8 912.0,135.2 916.0,134.0 C920.0,132.8 924.7,129.7 928.0,129.0 C931.3,128.3 934.0,128.8 936.0,130.0 C938.0,131.2 938.0,134.3 940.0,136.0 C942.0,137.7 947.3,138.0 948.0,140.0 C948.7,142.0 944.0,145.3 944.0,148.0 C944.0,150.7 948.0,153.3 948.0,156.0 C948.0,158.7 944.0,161.7 944.0,164.0 C944.0,166.3 948.0,167.7 948.0,170.0 C948.0,172.3 944.0,176.0 944.0,178.0 C944.0,180.0 948.7,180.0 948.0,182.0 C947.3,184.0 942.0,187.3 940.0,190.0 C938.0,192.7 936.0,195.7 936.0,198.0 C936.0,200.3 936.7,202.7 940.0,204.0 C943.3,205.3 952.7,205.0 956.0,206.0 C959.3,207.0 959.7,207.8 960.0,210.0 C960.3,212.2 959.8,215.3 958.0,219.0 C956.2,222.7 952.7,228.4 949.2,232.1 C945.7,235.8 941.7,238.6 937.2,241.1 C932.7,243.6 926.2,247.6 922.2,247.1 C918.2,246.6 914.2,241.1 913.2,238.1 C912.2,235.1 917.2,232.6 916.2,229.1 C915.2,225.6 908.7,221.1 907.2,217.1 C905.7,213.1 907.1,206.2 907.2,205.0 C907.3,203.8 906.9,210.8 908.0,210.0 C909.1,209.2 912.7,203.3 914.0,200.0 C915.3,196.7 916.3,193.3 916.0,190.0 C915.7,186.7 912.3,183.3 912.0,180.0 C911.7,176.7 914.7,172.3 914.0,170.0 C913.3,167.7 908.7,167.7 908.0,166.0 C907.3,164.3 911.0,161.7 910.0,160.0 C909.0,158.3 903.0,158.0 902.0,156.0 C901.0,154.0 905.0,150.0 904.0,148.0 C903.0,146.0 898.7,145.3 896.0,144.0 C893.3,142.7 891.3,141.0 888.0,140.0 C884.7,139.0 881.3,138.3 876.0,138.0 C870.7,137.7 861.7,137.5 856.0,138.0 C850.3,138.5 846.3,140.5 842.0,141.0 C837.7,141.5 833.7,141.3 830.0,141.0 C826.3,140.7 822.3,140.5 820.0,139.0 C817.7,137.5 816.0,134.0 816.0,132.0Z" fill="none" stroke="#000" stroke-width="0.6" stroke-dasharray="2.3 1.5"/>
<path d="M830.6,256.1 C832.1,253.4 837.3,249.6 841.1,247.1 C844.9,244.6 849.7,241.6 853.2,241.1 C856.7,240.6 859.0,243.3 862.2,244.1 C865.5,244.8 872.2,244.3 872.7,245.6 C873.2,246.8 869.0,250.3 865.2,251.6 C861.5,252.8 854.7,252.1 850.2,253.1 C845.7,254.1 841.1,255.9 838.1,257.6 C835.1,259.4 833.4,263.9 832.1,263.6 C830.9,263.4 829.1,258.9 830.6,256.1Z" fill="none" stroke="#000" stroke-width="0.6" stroke-dasharray="2.3 1.5"/>
<path d="M796.1,265.1 C797.1,263.4 802.4,260.6 805.1,260.6 C807.9,260.6 810.9,262.9 812.6,265.1 C814.4,267.4 816.9,272.4 815.6,274.1 C814.4,275.9 807.9,276.1 805.1,275.6 C802.4,275.1 800.6,272.9 799.1,271.1 C797.6,269.4 795.1,266.9 796.1,265.1Z" fill="none" stroke="#000" stroke-width="0.6" stroke-dasharray="2.3 1.5"/>
<path d="M941.7,286.1 C943.2,284.9 950.5,290.1 955.3,289.1 C960.1,288.1 965.8,281.6 970.3,280.1 C974.8,278.6 980.0,278.1 982.3,280.1 C984.5,282.1 985.8,289.1 983.8,292.1 C981.8,295.1 975.0,296.6 970.3,298.1 C965.5,299.6 959.3,301.4 955.3,301.1 C951.3,300.9 948.5,299.1 946.2,296.6 C943.9,294.1 940.2,287.4 941.7,286.1Z" fill="none" stroke="#000" stroke-width="0.6" stroke-dasharray="2.3 1.5"/>
<path d="M557.5,312.0 C558.8,309.3 561.0,308.0 563.0,308.7 C565.0,309.4 566.7,315.5 569.6,316.4 C572.5,317.3 577.9,316.4 580.5,314.2 C583.1,312.0 583.9,306.5 585.0,303.2 C586.1,299.9 585.2,296.4 587.0,294.4 C588.8,292.4 592.3,291.4 596.0,291.0 C599.7,290.6 605.0,291.3 609.0,292.2 C613.0,293.1 618.5,294.4 620.0,296.6 C621.5,298.8 619.8,303.2 618.0,305.4 C616.2,307.6 610.8,307.6 609.0,309.8 C607.2,312.0 608.1,315.7 607.0,318.6 C605.9,321.5 602.5,324.8 602.5,327.4 C602.5,330.0 606.6,331.4 607.0,334.0 C607.4,336.6 606.5,340.5 604.7,342.7 C602.9,344.9 597.8,344.8 596.0,347.0 C594.2,349.2 593.4,353.1 593.7,356.0 C594.0,358.9 595.5,363.2 598.0,364.7 C600.5,366.1 606.4,362.5 609.0,364.7 C611.6,366.9 612.0,373.9 613.5,378.0 C615.0,382.1 616.9,385.3 618.0,389.0 C619.1,392.7 620.8,397.8 620.0,400.0 C619.2,402.2 616.0,403.1 613.5,402.0 C611.0,400.9 607.6,395.9 604.7,393.3 C601.8,390.8 598.6,389.2 596.0,386.7 C593.4,384.1 591.5,380.9 589.3,378.0 C587.1,375.1 585.2,371.6 582.7,369.0 C580.2,366.4 576.5,362.5 574.0,362.5 C571.5,362.5 569.2,366.4 567.4,369.0 C565.6,371.6 564.1,375.1 563.0,378.0 C561.9,380.9 561.5,386.7 560.8,386.7 C560.1,386.7 558.6,381.7 558.6,378.0 C558.6,374.3 560.8,369.1 560.8,364.7 C560.8,360.3 559.3,355.9 558.6,351.5 C557.9,347.1 557.0,342.8 556.4,338.4 C555.8,334.0 555.1,329.4 555.3,325.0 C555.5,320.6 556.2,314.7 557.5,312.0Z" fill="none" stroke="#000" stroke-width="0.6" stroke-dasharray="2.3 1.5"/>
<path d="M617.1,322.1 C618.1,319.6 623.4,317.1 626.1,319.1 C628.9,321.1 633.1,330.6 633.6,334.1 C634.1,337.6 631.4,340.1 629.1,340.1 C626.9,340.1 622.1,337.1 620.1,334.1 C618.1,331.1 616.1,324.6 617.1,322.1Z" fill="none" stroke="#000" stroke-width="0.6" stroke-dasharray="2.3 1.5"/>
<path d="M644.1,323.6 C645.6,321.9 653.1,317.9 656.1,317.6 C659.1,317.4 662.1,320.1 662.1,322.1 C662.1,324.1 658.6,328.6 656.1,329.6 C653.6,330.6 649.1,329.1 647.1,328.1 C645.1,327.1 642.6,325.4 644.1,323.6Z" fill="none" stroke="#000" stroke-width="0.6" stroke-dasharray="2.3 1.5"/>
<path d="M852.0,184.0 C852.5,182.7 856.0,181.1 858.0,181.0 C860.0,180.9 863.3,182.4 864.0,183.6 C864.7,184.8 863.5,187.5 862.0,188.4 C860.5,189.3 856.7,189.7 855.0,189.0 C853.3,188.3 851.5,185.3 852.0,184.0Z" fill="none" stroke="#000" stroke-width="0.6" stroke-dasharray="2.3 1.5"/>
<path d="M852.0,184.4 C852.7,183.3 856.0,182.1 858.0,182.0 C860.0,181.9 863.7,182.8 864.0,184.0 C864.3,185.2 861.7,188.3 860.0,189.0 C858.3,189.7 855.3,189.2 854.0,188.4 C852.7,187.6 851.3,185.5 852.0,184.4Z" fill="none" stroke="#000" stroke-width="0.6" stroke-dasharray="2.3 1.5"/>
<path d="M894.0,104.0 C894.7,103.3 896.7,103.8 900.0,105.0 C903.3,106.2 912.0,109.4 914.0,111.0 C916.0,112.6 914.0,114.1 912.0,114.4 C910.0,114.7 904.7,113.9 902.0,113.0 C899.3,112.1 897.3,110.5 896.0,109.0 C894.7,107.5 893.3,104.7 894.0,104.0Z" fill="none" stroke="#000" stroke-width="0.6" stroke-dasharray="2.3 1.5"/>
<path d="M924.0,108.0 C924.7,106.0 929.3,102.7 932.0,100.0 C934.7,97.3 938.2,92.8 940.0,92.0 C941.8,91.2 943.3,93.0 943.0,95.0 C942.7,97.0 940.5,101.2 938.0,104.0 C935.5,106.8 930.3,111.3 928.0,112.0 C925.7,112.7 923.3,110.0 924.0,108.0Z" fill="none" stroke="#000" stroke-width="0.6" stroke-dasharray="2.3 1.5"/>
<path d="M827.0,133.6 C827.3,132.7 830.2,132.0 832.0,132.0 C833.8,132.0 837.2,132.9 838.0,133.6 C838.8,134.3 838.3,135.8 837.0,136.4 C835.7,137.0 831.7,137.7 830.0,137.2 C828.3,136.7 826.7,134.5 827.0,133.6Z" fill="none" stroke="#000" stroke-width="0.6" stroke-dasharray="2.3 1.5"/>
<path d="M840.0,130.0 C840.6,129.4 843.5,129.1 845.0,129.6 C846.5,130.1 848.8,132.1 849.0,133.0 C849.2,133.9 847.2,135.0 846.0,135.0 C844.8,135.0 842.6,133.8 841.6,133.0 C840.6,132.2 839.4,130.6 840.0,130.0Z" fill="none" stroke="#000" stroke-width="0.6" stroke-dasharray="2.3 1.5"/>
<path d="M920.0,156.0 C920.2,154.8 922.9,153.1 924.0,153.0 C925.1,152.9 926.6,154.4 926.4,155.6 C926.2,156.8 924.1,159.9 923.0,160.0 C921.9,160.1 919.8,157.2 920.0,156.0Z" fill="none" stroke="#000" stroke-width="0.6" stroke-dasharray="2.3 1.5"/>
<path d="M932.0,173.0 C932.7,172.0 936.8,169.3 938.0,169.0 C939.2,168.7 939.7,170.0 939.0,171.0 C938.3,172.0 935.2,174.7 934.0,175.0 C932.8,175.3 931.3,174.0 932.0,173.0Z" fill="none" stroke="#000" stroke-width="0.6" stroke-dasharray="2.3 1.5"/>
<path d="M565.4,331.1 C565.8,330.0 568.1,328.2 569.0,328.7 C569.9,329.2 570.9,333.0 570.5,334.1 C570.1,335.2 567.5,336.1 566.6,335.6 C565.8,335.1 565.0,332.2 565.4,331.1Z" fill="none" stroke="#000" stroke-width="0.6" stroke-dasharray="2.3 1.5"/>
<path d="M528.9,100.0 L538.9,97.6 L543.2,106.0 L547.9,110.7 L552.8,109.5 L557.5,106.5 L562.3,104.8 L568.2,106.0 L572.9,107.0 L576.6,102.4 L580.1,97.6 L580.7,91.7 L579.5,88.0 L583.7,85.7 L587.3,82.7 L593.2,79.0 L599.2,75.6 L606.3,76.8 L612.3,75.0 L613.9,79.0 L616.9,77.4 L620.6,81.0 L625.4,84.5 L632.3,89.0 L638.5,87.4 L643.9,88.2 L643.9,90.5 L641.6,95.2 L640.9,101.4 L643.9,106.9 L648.6,110.8 L646.9,115.4 L650.2,118.5 L646.9,121.0 L640.9,126.0 L634.9,130.0 L628.9,135.0 L624.9,139.0 L619.9,146.0 L616.9,154.0 L615.3,162.5 L613.9,160.0 L608.9,154.0 L602.9,148.0 L594.9,143.0 L586.9,141.0 L576.9,143.0 L566.9,148.0 L558.9,153.0 L554.9,160.0 L549.9,172.0 L544.9,177.0 L538.9,180.0 L528.9,182.0Z" fill="#fff" stroke="#000" stroke-width="1.9" stroke-linejoin="round" stroke-linecap="round"/>
<path d="M528.9,80.0 L539.7,79.8 L545.6,76.8 L547.9,78.0 L544.4,81.5 L547.9,84.0 L552.8,82.0 L554.5,78.6 L553.9,75.6 L556.3,72.0 L558.7,77.4 L562.3,75.6 L565.9,69.6 L571.8,68.5 L572.9,70.8 L576.6,69.0 L582.5,65.5 L587.3,66.7 L589.7,69.6 L594.4,69.0 L599.2,67.9 L601.6,64.3 L603.4,61.3 L599.2,60.7 L602.8,58.9 L608.7,59.5 L612.3,58.3 L615.9,54.8 L619.9,50.0 L625.9,49.2 L633.9,47.0 L643.2,45.0 L650.9,47.0 L657.2,50.8 L663.4,55.5 L669.6,57.8 L675.9,56.2 L680.6,52.4 L686.8,49.7 L691.5,50.8 L694.6,54.7 L695.3,61.0 L692.9,66.4 L686.8,73.4 L678.9,78.8 L672.8,82.7 L671.9,85.8 L675.9,89.7 L677.4,95.2 L675.9,98.3 L677.4,103.0 L676.4,108.0 L675.9,115.0 L682.9,120.0 L688.9,125.0 L690.9,132.0 L694.9,137.0 L702.9,142.0 L710.9,145.0 L716.4,147.0 L720.9,143.0 L728.9,134.0 L734.9,120.0 L740.9,110.0 L746.9,104.0 L745.9,99.0 L748.9,97.0 L750.9,91.0 L756.9,88.0 L764.9,85.0 L772.9,82.0 L776.9,80.0 L780.9,85.0 L785.9,85.0 L787.9,80.0 L789.9,74.0 L787.9,73.0 L785.9,69.0 L780.9,67.0 L774.9,63.0 L769.9,60.0 L764.9,59.0 L763.9,52.0 L764.9,47.0 L768.9,41.0 L772.6,35.0 L771.6,32.0 L774.1,26.0 L773.9,15.0 L528.9,15.0Z" fill="#fff" stroke="#000" stroke-width="1.9" stroke-linejoin="round" stroke-linecap="round"/>
<path d="M786.9,20.0 L786.9,28.0 L783.9,32.0 L783.6,37.0 L784.6,41.0 L785.7,47.0 L788.9,50.0 L791.9,51.0 L790.7,47.7 L788.9,44.0 L789.7,40.0 L792.9,36.6 L793.7,41.0 L795.9,45.0 L800.9,46.0 L806.9,45.0 L812.9,44.0 L816.9,50.0 L810.9,53.0 L804.9,56.0 L799.9,58.0 L795.9,58.7 L795.7,60.0 L800.9,58.7 L808.9,56.0 L818.9,54.0 L829.5,53.7 L840.9,55.0 L852.9,56.0 L864.9,57.0 L870.9,59.0 L873.9,58.5 L872.9,52.0 L875.9,46.0 L879.9,37.0 L886.9,31.5 L896.9,29.0 L900.9,20.0Z" fill="#fff" stroke="#000" stroke-width="1.9" stroke-linejoin="round" stroke-linecap="round"/>
<path d="M907.9,20.0 L907.9,28.5 L906.9,34.0 L907.5,42.0 L905.9,50.0 L908.9,56.0 L912.9,58.0 L917.9,55.0 L921.9,50.0 L925.9,44.0 L929.9,38.0 L930.9,33.0 L928.9,28.5 L928.9,20.0Z" fill="#fff" stroke="#000" stroke-width="1.9" stroke-linejoin="round" stroke-linecap="round"/>
<path d="M970.9,20.0 L971.5,29.0 L972.9,33.0 L977.9,37.0 L982.9,35.0 L985.4,30.0 L985.9,20.0Z" fill="#fff" stroke="#000" stroke-width="1.9" stroke-linejoin="round" stroke-linecap="round"/>
<path d="M645.5,82.7 L650.9,75.7 L657.2,68.7 L663.4,62.5 L668.1,59.4 L667.3,64.8 L663.4,71.0 L661.1,76.5 L663.4,82.0 L660.3,85.8 L654.1,88.2 L647.9,86.6Z" fill="#fff" stroke="#000" stroke-width="1.9" stroke-linejoin="round" stroke-linecap="round"/>
<ellipse cx="948.3" cy="49" rx="3.0" ry="4.2" fill="#fff" stroke="#000" stroke-width="1.5"/>
<ellipse cx="955.7" cy="98.6" rx="2.2" ry="2.2" fill="#fff" stroke="#000" stroke-width="1.5"/>
<ellipse cx="972.9" cy="172.5" rx="3.0" ry="2.6" fill="#fff" stroke="#000" stroke-width="1.5"/>
<ellipse cx="939.4" cy="76" rx="0.8" ry="3.0" fill="#fff" stroke="#000" stroke-width="1.5"/>
<ellipse cx="960.4" cy="115" rx="1.6" ry="2.2" fill="#fff" stroke="#000" stroke-width="1.5"/>
</g>
<line x1="93.9" y1="28.0" x2="93.9" y2="407.0" stroke="#8c8c8c" stroke-width="0.7" stroke-dasharray="1 4.3" opacity="0.75"/>
<line x1="157.8" y1="28.0" x2="157.8" y2="407.0" stroke="#8c8c8c" stroke-width="0.7" stroke-dasharray="1 4.3" opacity="0.75"/>
<line x1="221.7" y1="28.0" x2="221.7" y2="407.0" stroke="#8c8c8c" stroke-width="0.7" stroke-dasharray="1 4.3" opacity="0.75"/>
<line x1="285.7" y1="28.0" x2="285.7" y2="407.0" stroke="#8c8c8c" stroke-width="0.7" stroke-dasharray="1 4.3" opacity="0.75"/>
<line x1="349.6" y1="28.0" x2="349.6" y2="407.0" stroke="#8c8c8c" stroke-width="0.7" stroke-dasharray="1 4.3" opacity="0.75"/>
<line x1="413.5" y1="28.0" x2="413.5" y2="407.0" stroke="#8c8c8c" stroke-width="0.7" stroke-dasharray="1 4.3" opacity="0.75"/>
<line x1="30.0" y1="103.8" x2="477.4" y2="103.8" stroke="#8c8c8c" stroke-width="0.7" stroke-dasharray="1 4.3" opacity="0.75"/>
<line x1="30.0" y1="179.6" x2="477.4" y2="179.6" stroke="#8c8c8c" stroke-width="0.7" stroke-dasharray="1 4.3" opacity="0.75"/>
<line x1="30.0" y1="255.4" x2="477.4" y2="255.4" stroke="#8c8c8c" stroke-width="0.7" stroke-dasharray="1 4.3" opacity="0.75"/>
<line x1="30.0" y1="331.2" x2="477.4" y2="331.2" stroke="#8c8c8c" stroke-width="0.7" stroke-dasharray="1 4.3" opacity="0.75"/>
<rect x="30.0" y="28.0" width="447.4" height="379.0" fill="none" stroke="#000" stroke-width="1.3"/>
<line x1="30.0" y1="407.0" x2="30.0" y2="411.8" stroke="#000" stroke-width="1"/>
<text x="30.7" y="424.6" font-size="14" text-anchor="middle" textLength="28.4" lengthAdjust="spacingAndGlyphs">133E</text>
<line x1="93.9" y1="407.0" x2="93.9" y2="411.8" stroke="#000" stroke-width="1"/>
<text x="94.6" y="424.6" font-size="14" text-anchor="middle" textLength="28.4" lengthAdjust="spacingAndGlyphs">134E</text>
<line x1="157.8" y1="407.0" x2="157.8" y2="411.8" stroke="#000" stroke-width="1"/>
<text x="158.5" y="424.6" font-size="14" text-anchor="middle" textLength="28.4" lengthAdjust="spacingAndGlyphs">135E</text>
<line x1="221.7" y1="407.0" x2="221.7" y2="411.8" stroke="#000" stroke-width="1"/>
<text x="222.4" y="424.6" font-size="14" text-anchor="middle" textLength="28.4" lengthAdjust="spacingAndGlyphs">136E</text>
<line x1="285.7" y1="407.0" x2="285.7" y2="411.8" stroke="#000" stroke-width="1"/>
<text x="286.4" y="424.6" font-size="14" text-anchor="middle" textLength="28.4" lengthAdjust="spacingAndGlyphs">137E</text>
<line x1="349.6" y1="407.0" x2="349.6" y2="411.8" stroke="#000" stroke-width="1"/>
<text x="350.3" y="424.6" font-size="14" text-anchor="middle" textLength="28.4" lengthAdjust="spacingAndGlyphs">138E</text>
<line x1="413.5" y1="407.0" x2="413.5" y2="411.8" stroke="#000" stroke-width="1"/>
<text x="414.2" y="424.6" font-size="14" text-anchor="middle" textLength="28.4" lengthAdjust="spacingAndGlyphs">139E</text>
<line x1="477.4" y1="407.0" x2="477.4" y2="411.8" stroke="#000" stroke-width="1"/>
<text x="478.1" y="424.6" font-size="14" text-anchor="middle" textLength="28.4" lengthAdjust="spacingAndGlyphs">140E</text>
<line x1="25.2" y1="28.0" x2="30.0" y2="28.0" stroke="#000" stroke-width="1"/>
<text x="21.6" y="33.7" font-size="14" text-anchor="end" textLength="22" lengthAdjust="spacingAndGlyphs">35N</text>
<line x1="25.2" y1="103.8" x2="30.0" y2="103.8" stroke="#000" stroke-width="1"/>
<text x="21.6" y="109.5" font-size="14" text-anchor="end" textLength="22" lengthAdjust="spacingAndGlyphs">34N</text>
<line x1="25.2" y1="179.6" x2="30.0" y2="179.6" stroke="#000" stroke-width="1"/>
<text x="21.6" y="185.3" font-size="14" text-anchor="end" textLength="22" lengthAdjust="spacingAndGlyphs">33N</text>
<line x1="25.2" y1="255.4" x2="30.0" y2="255.4" stroke="#000" stroke-width="1"/>
<text x="21.6" y="261.1" font-size="14" text-anchor="end" textLength="22" lengthAdjust="spacingAndGlyphs">32N</text>
<line x1="25.2" y1="331.2" x2="30.0" y2="331.2" stroke="#000" stroke-width="1"/>
<text x="21.6" y="336.9" font-size="14" text-anchor="end" textLength="22" lengthAdjust="spacingAndGlyphs">31N</text>
<line x1="25.2" y1="407.0" x2="30.0" y2="407.0" stroke="#000" stroke-width="1"/>
<text x="21.6" y="412.7" font-size="14" text-anchor="end" textLength="22" lengthAdjust="spacingAndGlyphs">30N</text>
<line x1="602.8" y1="28.0" x2="602.8" y2="407.2" stroke="#8c8c8c" stroke-width="0.7" stroke-dasharray="1 4.3" opacity="0.75"/>
<line x1="666.7" y1="28.0" x2="666.7" y2="407.2" stroke="#8c8c8c" stroke-width="0.7" stroke-dasharray="1 4.3" opacity="0.75"/>
<line x1="730.6" y1="28.0" x2="730.6" y2="407.2" stroke="#8c8c8c" stroke-width="0.7" stroke-dasharray="1 4.3" opacity="0.75"/>
<line x1="794.5" y1="28.0" x2="794.5" y2="407.2" stroke="#8c8c8c" stroke-width="0.7" stroke-dasharray="1 4.3" opacity="0.75"/>
<line x1="858.4" y1="28.0" x2="858.4" y2="407.2" stroke="#8c8c8c" stroke-width="0.7" stroke-dasharray="1 4.3" opacity="0.75"/>
<line x1="922.3" y1="28.0" x2="922.3" y2="407.2" stroke="#8c8c8c" stroke-width="0.7" stroke-dasharray="1 4.3" opacity="0.75"/>
<line x1="538.9" y1="103.8" x2="986.2" y2="103.8" stroke="#8c8c8c" stroke-width="0.7" stroke-dasharray="1 4.3" opacity="0.75"/>
<line x1="538.9" y1="179.7" x2="986.2" y2="179.7" stroke="#8c8c8c" stroke-width="0.7" stroke-dasharray="1 4.3" opacity="0.75"/>
<line x1="538.9" y1="255.5" x2="986.2" y2="255.5" stroke="#8c8c8c" stroke-width="0.7" stroke-dasharray="1 4.3" opacity="0.75"/>
<line x1="538.9" y1="331.4" x2="986.2" y2="331.4" stroke="#8c8c8c" stroke-width="0.7" stroke-dasharray="1 4.3" opacity="0.75"/>
<rect x="538.9" y="28.0" width="447.3" height="379.2" fill="none" stroke="#000" stroke-width="1.3"/>
<line x1="538.9" y1="407.2" x2="538.9" y2="412.0" stroke="#000" stroke-width="1"/>
<text x="539.6" y="424.8" font-size="14" text-anchor="middle" textLength="28.4" lengthAdjust="spacingAndGlyphs">133E</text>
<line x1="602.8" y1="407.2" x2="602.8" y2="412.0" stroke="#000" stroke-width="1"/>
<text x="603.5" y="424.8" font-size="14" text-anchor="middle" textLength="28.4" lengthAdjust="spacingAndGlyphs">134E</text>
<line x1="666.7" y1="407.2" x2="666.7" y2="412.0" stroke="#000" stroke-width="1"/>
<text x="667.4" y="424.8" font-size="14" text-anchor="middle" textLength="28.4" lengthAdjust="spacingAndGlyphs">135E</text>
<line x1="730.6" y1="407.2" x2="730.6" y2="412.0" stroke="#000" stroke-width="1"/>
<text x="731.3" y="424.8" font-size="14" text-anchor="middle" textLength="28.4" lengthAdjust="spacingAndGlyphs">136E</text>
<line x1="794.5" y1="407.2" x2="794.5" y2="412.0" stroke="#000" stroke-width="1"/>
<text x="795.2" y="424.8" font-size="14" text-anchor="middle" textLength="28.4" lengthAdjust="spacingAndGlyphs">137E</text>
<line x1="858.4" y1="407.2" x2="858.4" y2="412.0" stroke="#000" stroke-width="1"/>
<text x="859.1" y="424.8" font-size="14" text-anchor="middle" textLength="28.4" lengthAdjust="spacingAndGlyphs">138E</text>
<line x1="922.3" y1="407.2" x2="922.3" y2="412.0" stroke="#000" stroke-width="1"/>
<text x="923.0" y="424.8" font-size="14" text-anchor="middle" textLength="28.4" lengthAdjust="spacingAndGlyphs">139E</text>
<line x1="986.2" y1="407.2" x2="986.2" y2="412.0" stroke="#000" stroke-width="1"/>
<text x="986.9" y="424.8" font-size="14" text-anchor="middle" textLength="28.4" lengthAdjust="spacingAndGlyphs">140E</text>
<line x1="534.1" y1="28.0" x2="538.9" y2="28.0" stroke="#000" stroke-width="1"/>
<text x="530.5" y="33.7" font-size="14" text-anchor="end" textLength="22" lengthAdjust="spacingAndGlyphs">35N</text>
<line x1="534.1" y1="103.8" x2="538.9" y2="103.8" stroke="#000" stroke-width="1"/>
<text x="530.5" y="109.5" font-size="14" text-anchor="end" textLength="22" lengthAdjust="spacingAndGlyphs">34N</text>
<line x1="534.1" y1="179.7" x2="538.9" y2="179.7" stroke="#000" stroke-width="1"/>
<text x="530.5" y="185.4" font-size="14" text-anchor="end" textLength="22" lengthAdjust="spacingAndGlyphs">33N</text>
<line x1="534.1" y1="255.5" x2="538.9" y2="255.5" stroke="#000" stroke-width="1"/>
<text x="530.5" y="261.2" font-size="14" text-anchor="end" textLength="22" lengthAdjust="spacingAndGlyphs">32N</text>
<line x1="534.1" y1="331.4" x2="538.9" y2="331.4" stroke="#000" stroke-width="1"/>
<text x="530.5" y="337.1" font-size="14" text-anchor="end" textLength="22" lengthAdjust="spacingAndGlyphs">31N</text>
<line x1="534.1" y1="407.2" x2="538.9" y2="407.2" stroke="#000" stroke-width="1"/>
<text x="530.5" y="412.9" font-size="14" text-anchor="end" textLength="22" lengthAdjust="spacingAndGlyphs">30N</text>
<text x="96.8" y="17.5" font-size="20.6" textLength="79.9" lengthAdjust="spacingAndGlyphs" stroke="#fff" stroke-width="0.45">UV(m/s)</text>
<text x="188.6" y="17.5" font-size="20.6" textLength="74.8" lengthAdjust="spacingAndGlyphs" stroke="#fff" stroke-width="0.45">T(deg.c)</text>
<text x="276.5" y="17.5" font-size="20.6" textLength="27.0" lengthAdjust="spacingAndGlyphs" stroke="#fff" stroke-width="0.45">0m</text>
<text x="317.4" y="17.5" font-size="20.6" textLength="92.7" lengthAdjust="spacingAndGlyphs" stroke="#fff" stroke-width="0.45">20100220</text>
<text x="656.3" y="17.4" font-size="20.6" textLength="65.3" lengthAdjust="spacingAndGlyphs" stroke="#fff" stroke-width="0.45">(deg.c)</text>
<text x="733.6" y="17.4" font-size="20.6" textLength="26.4" lengthAdjust="spacingAndGlyphs" stroke="#fff" stroke-width="0.45">0m</text>
<text x="774.4" y="17.4" font-size="20.6" textLength="93.1" lengthAdjust="spacingAndGlyphs" stroke="#fff" stroke-width="0.45">20100220</text>
<path d="M357.7,437.4 H367.2 M364,435.5 L367.4,437.4 L364,439.3" fill="none" stroke="#000" stroke-width="1"/>
<text x="362.3" y="449.6" font-size="11" text-anchor="middle">1</text>
<path d="M49.9,481.0 L81.4,474.8 L81.4,487.2Z" fill="#a000c8" stroke="#000" stroke-width="0.9" stroke-linejoin="miter"/>
<rect x="81.40" y="474.8" width="31.23" height="12.4" fill="#8200dc" stroke="#000" stroke-width="0.9"/>
<rect x="112.63" y="474.8" width="31.23" height="12.4" fill="#1e3cff" stroke="#000" stroke-width="0.9"/>
<rect x="143.85" y="474.8" width="31.23" height="12.4" fill="#00a0ff" stroke="#000" stroke-width="0.9"/>
<rect x="175.08" y="474.8" width="31.23" height="12.4" fill="#00c8c8" stroke="#000" stroke-width="0.9"/>
<rect x="206.31" y="474.8" width="31.23" height="12.4" fill="#00d28c" stroke="#000" stroke-width="0.9"/>
<rect x="237.54" y="474.8" width="31.23" height="12.4" fill="#00dc00" stroke="#000" stroke-width="0.9"/>
<rect x="268.76" y="474.8" width="31.23" height="12.4" fill="#a0e632" stroke="#000" stroke-width="0.9"/>
<rect x="299.99" y="474.8" width="31.23" height="12.4" fill="#e6dc32" stroke="#000" stroke-width="0.9"/>
<rect x="331.22" y="474.8" width="31.23" height="12.4" fill="#e6af2d" stroke="#000" stroke-width="0.9"/>
<rect x="362.45" y="474.8" width="31.23" height="12.4" fill="#f08228" stroke="#000" stroke-width="0.9"/>
<rect x="393.67" y="474.8" width="31.23" height="12.4" fill="#fa3c3c" stroke="#000" stroke-width="0.9"/>
<path d="M457.2,481.0 L424.9,474.8 L424.9,487.2Z" fill="#f00082" stroke="#000" stroke-width="0.9" stroke-linejoin="miter"/>
<text x="82.0" y="498.5" font-size="12" text-anchor="middle">6</text>
<text x="113.2" y="498.5" font-size="12" text-anchor="middle">7</text>
<text x="144.5" y="498.5" font-size="12" text-anchor="middle">9</text>
<text x="175.7" y="498.5" font-size="12" text-anchor="middle">10</text>
<text x="206.9" y="498.5" font-size="12" text-anchor="middle">12</text>
<text x="238.1" y="498.5" font-size="12" text-anchor="middle">13</text>
<text x="269.4" y="498.5" font-size="12" text-anchor="middle">15</text>
<text x="300.6" y="498.5" font-size="12" text-anchor="middle">16</text>
<text x="331.8" y="498.5" font-size="12" text-anchor="middle">18</text>
<text x="363.0" y="498.5" font-size="12" text-anchor="middle">19</text>
<text x="394.3" y="498.5" font-size="12" text-anchor="middle">21</text>
<text x="425.5" y="498.5" font-size="12" text-anchor="middle">22</text>
<path d="M558.7,481.0 L599.5,474.8 L599.5,487.2Z" fill="#a000c8" stroke="#000" stroke-width="0.9" stroke-linejoin="miter"/>
<rect x="599.50" y="474.8" width="40.61" height="12.4" fill="#8200dc" stroke="#000" stroke-width="0.9"/>
<rect x="640.11" y="474.8" width="40.61" height="12.4" fill="#00a0ff" stroke="#000" stroke-width="0.9"/>
<rect x="680.73" y="474.8" width="40.61" height="12.4" fill="#00c8c8" stroke="#000" stroke-width="0.9"/>
<rect x="721.34" y="474.8" width="40.61" height="12.4" fill="#00d28c" stroke="#000" stroke-width="0.9"/>
<rect x="761.95" y="474.8" width="40.61" height="12.4" fill="#a0e632" stroke="#000" stroke-width="0.9"/>
<rect x="802.56" y="474.8" width="40.61" height="12.4" fill="#e6dc32" stroke="#000" stroke-width="0.9"/>
<rect x="843.17" y="474.8" width="40.61" height="12.4" fill="#e6af2d" stroke="#000" stroke-width="0.9"/>
<rect x="883.79" y="474.8" width="40.61" height="12.4" fill="#fa3c3c" stroke="#000" stroke-width="0.9"/>
<path d="M965.9,481.0 L924.4,474.8 L924.4,487.2Z" fill="#f00082" stroke="#000" stroke-width="0.9" stroke-linejoin="miter"/>
<text x="600.5" y="498.5" font-size="12" text-anchor="middle" textLength="14.6" lengthAdjust="spacing">&#8722;4</text>
<text x="641.1" y="498.5" font-size="12" text-anchor="middle" textLength="14.6" lengthAdjust="spacing">&#8722;3</text>
<text x="681.7" y="498.5" font-size="12" text-anchor="middle" textLength="14.6" lengthAdjust="spacing">&#8722;2</text>
<text x="722.3" y="498.5" font-size="12" text-anchor="middle" textLength="14.6" lengthAdjust="spacing">&#8722;1</text>
<text x="762.6" y="498.5" font-size="12" text-anchor="middle">0</text>
<text x="803.2" y="498.5" font-size="12" text-anchor="middle">1</text>
<text x="843.8" y="498.5" font-size="12" text-anchor="middle">2</text>
<text x="884.4" y="498.5" font-size="12" text-anchor="middle">3</text>
<text x="925.0" y="498.5" font-size="12" text-anchor="middle">4</text>
<text x="241.6" y="539.6" font-size="28.5" class="ser" textLength="31.8" lengthAdjust="spacingAndGlyphs"><tspan font-weight="normal">(</tspan>a<tspan font-weight="normal">)</tspan></text>
<text x="724.2" y="539.6" font-size="28.5" class="ser" textLength="34.2" lengthAdjust="spacingAndGlyphs"><tspan font-weight="normal">(</tspan>b<tspan font-weight="normal">)</tspan></text>
</svg></body></html>
